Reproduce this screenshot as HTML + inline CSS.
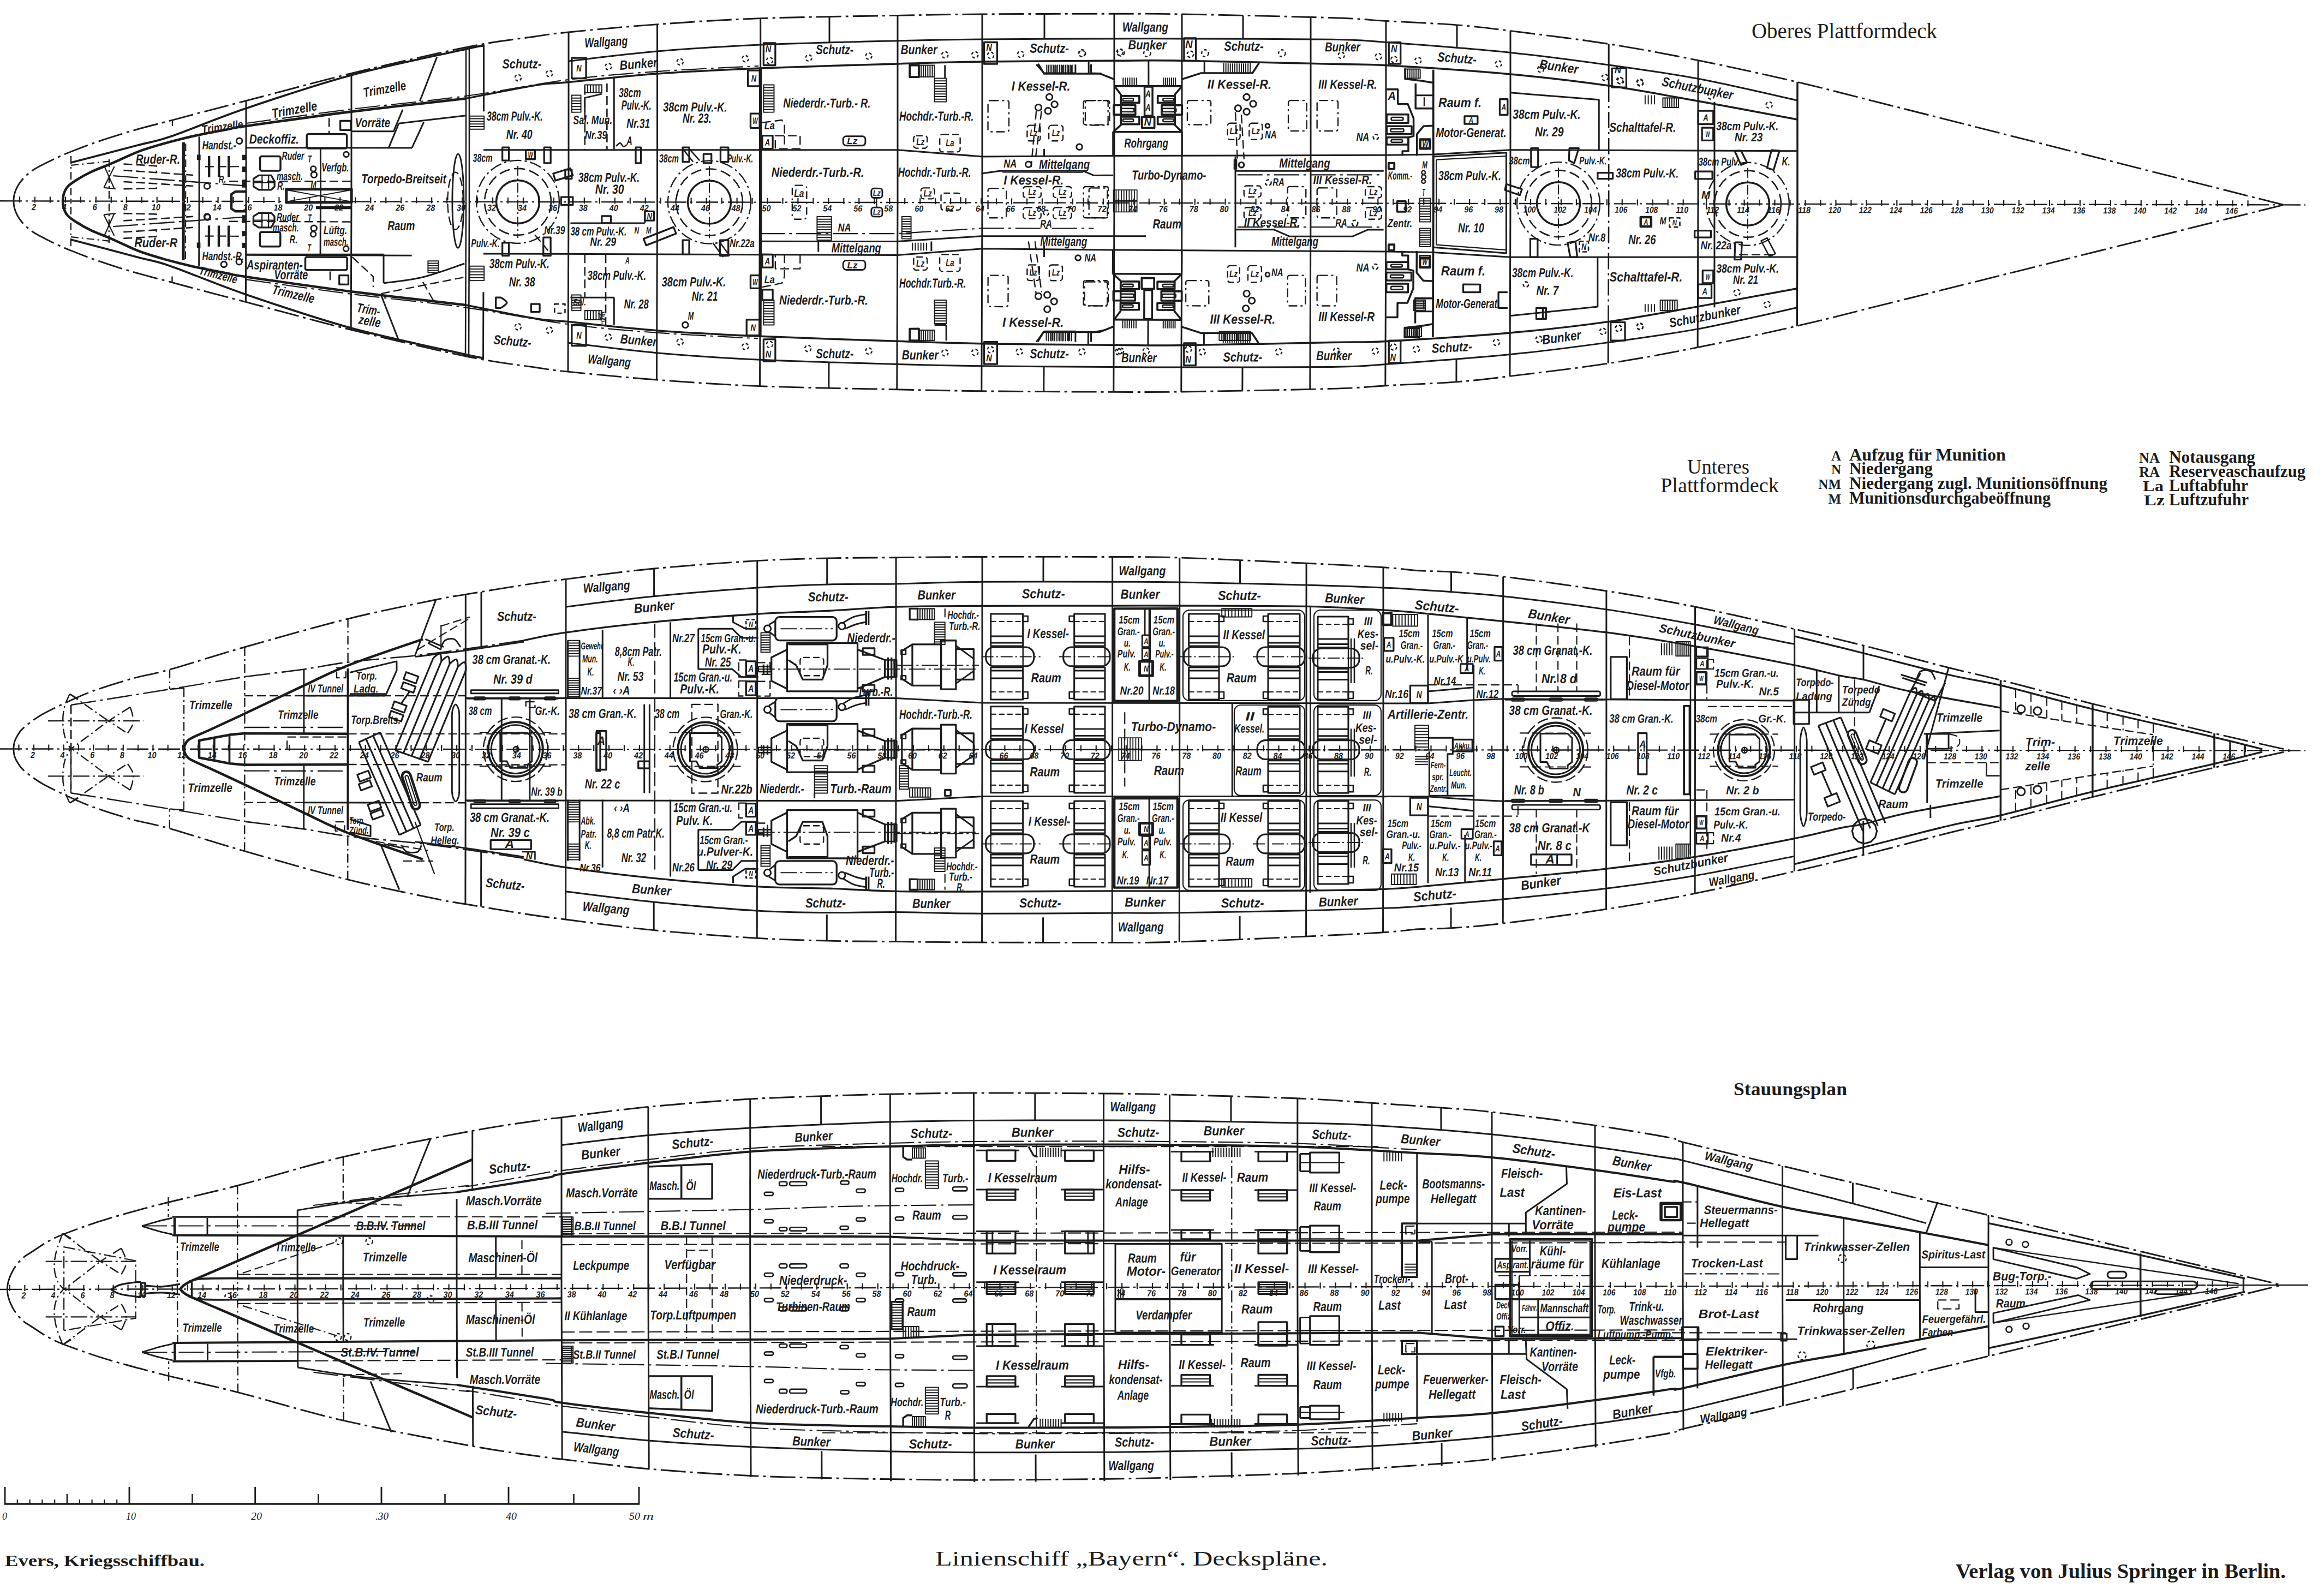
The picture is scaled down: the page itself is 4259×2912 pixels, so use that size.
<!DOCTYPE html>
<html><head><meta charset="utf-8"><title>Linienschiff Bayern. Deckspläne</title>
<style>html,body{margin:0;padding:0;background:#fff}svg{display:block}
text{fill:#1c1c1c;stroke:none;font-family:"Liberation Sans",sans-serif;}
.h{font-style:italic;font-weight:bold;}
.hn{font-style:italic;}
.s{font-family:"Liberation Serif",serif;}
.sb{font-family:"Liberation Serif",serif;font-weight:bold;}
.si{font-family:"Liberation Serif",serif;font-style:italic;}</style></head><body>
<svg width="4259" height="2912" viewBox="0 0 4259 2912" stroke="#1c1c1c" fill="none" stroke-linecap="butt" stroke-linejoin="round"><rect width="4259" height="2912" fill="#fff" stroke="none"/>
<g transform="rotate(0.0974 0 368.3)">
<path d="M25.0 368.3 C25.0 367.2 25.0 364.1 25.3 362.0 C25.5 359.8 25.9 357.8 26.5 355.5 C27.1 353.1 27.7 350.8 29.0 348.0 C30.2 345.1 32.0 341.6 33.9 338.4 C35.9 335.3 38.3 332.0 40.9 328.9 C43.6 325.8 46.8 322.8 49.9 319.9 C53.1 317.1 56.2 314.4 59.9 311.9 C63.6 309.4 65.6 308.2 71.9 304.9 C78.2 301.5 88.2 296.3 97.9 291.8 C107.5 287.3 116.5 283.1 129.8 277.8 C143.2 272.4 159.3 266.1 177.8 259.7 C196.3 253.3 217.8 246.3 240.8 239.6 C263.8 232.9 294.4 225.2 315.7 219.5 C337.1 213.8 346.4 211.2 368.7 205.4 C391.0 199.5 403.5 196.3 449.7 184.2 C495.8 172.2 577.3 149.6 645.6 132.9 C713.9 116.2 803.9 95.3 859.5 84.0 C915.2 72.8 949.2 69.8 979.5 65.3 C1009.8 60.9 1004.0 61.0 1041.5 57.2 C1078.9 53.4 1145.4 46.9 1204.0 42.6 C1262.7 38.2 1319.7 34.2 1393.1 31.3 C1466.5 28.5 1576.7 27.0 1644.4 25.6 C1712.1 24.2 1733.3 23.6 1799.4 22.9 C1865.6 22.3 1980.4 21.9 2041.4 21.8 C2102.4 21.7 2099.1 21.2 2165.4 22.3 C2231.8 23.4 2376.9 26.4 2439.4 28.4 C2501.9 30.3 2502.1 32.0 2540.4 34.2 C2578.8 36.3 2631.6 38.3 2669.5 41.3 C2707.3 44.2 2721.1 46.2 2767.5 51.9 C2813.8 57.6 2890.2 66.6 2947.5 75.5 C3004.9 84.4 3053.9 93.8 3111.6 105.3 C3169.2 116.9 3235.6 131.3 3293.6 144.8 C3351.7 158.3 3375.3 165.0 3459.7 186.1 C3544.1 207.2 3678.3 241.0 3799.8 271.5 C3921.4 302.1 4124.2 353.1 4189.0 369.4" fill="none" stroke-width="2.9" stroke-dasharray="46 8 5 8"/>
<path d="M25.0 368.3 C25.0 369.4 25.0 372.5 25.3 374.6 C25.5 376.8 25.9 378.8 26.5 381.1 C27.1 383.5 27.7 385.8 29.0 388.6 C30.2 391.5 32.0 395.0 33.9 398.2 C35.9 401.3 38.3 404.6 40.9 407.7 C43.6 410.8 46.8 413.8 49.9 416.7 C53.1 419.5 56.2 422.2 59.9 424.7 C63.6 427.2 65.6 428.4 71.9 431.7 C78.2 435.1 88.2 440.3 97.9 444.8 C107.5 449.3 116.5 453.5 129.8 458.8 C143.2 464.2 159.3 470.5 177.8 476.9 C196.3 483.3 217.8 490.3 240.8 497.0 C263.8 503.7 294.4 511.4 315.7 517.1 C337.1 522.8 346.4 525.4 368.7 531.2 C391.0 537.1 403.5 540.3 449.7 552.4 C495.8 564.4 577.3 587.0 645.6 603.7 C713.9 620.4 803.9 641.3 859.5 652.6 C915.2 663.8 949.2 666.8 979.5 671.3 C1009.8 675.7 1004.0 675.6 1041.5 679.4 C1078.9 683.2 1145.4 689.7 1204.0 694.0 C1262.7 698.4 1319.7 702.4 1393.1 705.3 C1466.5 708.1 1576.7 709.6 1644.4 711.0 C1712.1 712.4 1733.3 713.0 1799.4 713.7 C1865.6 714.3 1980.4 714.7 2041.4 714.8 C2102.4 714.9 2099.1 715.4 2165.4 714.3 C2231.8 713.2 2376.9 710.2 2439.4 708.2 C2501.9 706.3 2502.1 704.6 2540.4 702.4 C2578.8 700.3 2631.6 698.3 2669.5 695.3 C2707.3 692.4 2721.1 690.4 2767.5 684.7 C2813.8 679.0 2890.2 670.0 2947.5 661.1 C3004.9 652.2 3053.9 642.8 3111.6 631.3 C3169.2 619.7 3235.6 605.3 3293.6 591.8 C3351.7 578.3 3375.3 571.6 3459.7 550.5 C3544.1 529.4 3678.3 495.6 3799.8 465.1 C3921.4 434.5 4124.2 383.5 4189.0 367.2" fill="none" stroke-width="2.9" stroke-dasharray="46 8 5 8"/>
<path d="M1041.6 110.2 C1068.7 107.2 1145.5 97.1 1204.1 92.0 C1262.7 86.9 1319.8 83.0 1393.2 79.6 C1466.6 76.3 1576.8 73.7 1644.5 71.9 C1712.2 70.1 1733.3 69.7 1799.5 68.9 C1865.7 68.2 1980.5 67.8 2041.5 67.5 C2102.5 67.3 2099.2 67.2 2165.5 67.3 C2231.8 67.4 2377.0 67.2 2439.5 68.2 C2502.0 69.1 2485.8 69.4 2540.5 73.3 C2595.2 77.2 2699.7 84.9 2767.5 91.7 C2835.4 98.5 2890.2 106.1 2947.6 114.0 C3004.9 121.9 3053.9 128.3 3111.6 139.0 C3169.3 149.7 3263.3 171.8 3293.7 178.4" fill="none" stroke-width="3.0"/>
<path d="M1041.6 626.4 C1068.7 629.4 1145.5 639.5 1204.1 644.6 C1262.7 649.7 1319.8 653.6 1393.2 657.0 C1466.6 660.3 1576.8 662.9 1644.5 664.7 C1712.2 666.5 1733.3 666.9 1799.5 667.7 C1865.7 668.4 1980.5 668.8 2041.5 669.1 C2102.5 669.3 2099.2 669.4 2165.5 669.3 C2231.8 669.2 2377.0 669.4 2439.5 668.4 C2502.0 667.5 2485.8 667.2 2540.5 663.3 C2595.2 659.4 2699.7 651.7 2767.5 644.9 C2835.4 638.1 2890.2 630.5 2947.6 622.6 C3004.9 614.7 3053.9 608.3 3111.6 597.6 C3169.3 586.9 3263.3 564.8 3293.7 558.2" fill="none" stroke-width="3.0"/>
<path d="M115.0 368.1 C115.3 365.9 115.5 359.2 117.0 354.8 C118.5 350.4 120.1 346.0 124.0 341.8 C127.8 337.6 132.8 334.3 139.9 329.8 C147.1 325.2 155.9 319.9 166.9 314.7 C177.9 309.5 191.6 304.8 205.9 298.6 C220.2 292.5 237.7 283.4 252.8 277.6 C268.0 271.7 283.2 267.5 296.8 263.5 C310.5 259.5 323.0 256.4 334.8 253.4 C346.6 250.5 353.6 248.8 367.8 245.9 C382.0 242.9 405.9 238.4 419.8 235.8 C433.6 233.2 413.4 235.6 450.8 230.2 C488.1 224.9 576.6 212.0 643.7 203.5 C710.9 195.0 818.7 183.1 853.7 179.0" fill="none" stroke-width="4.6"/>
<path d="M115.0 368.5 C115.3 370.7 115.5 377.4 117.0 381.8 C118.5 386.2 120.1 390.6 124.0 394.8 C127.8 399.0 132.8 402.3 139.9 406.8 C147.1 411.4 155.9 416.7 166.9 421.9 C177.9 427.1 191.6 431.8 205.9 438.0 C220.2 444.1 237.7 453.2 252.8 459.0 C268.0 464.9 283.2 469.1 296.8 473.1 C310.5 477.1 323.0 480.2 334.8 483.2 C346.6 486.1 353.6 487.8 367.8 490.7 C382.0 493.7 405.9 498.2 419.8 500.8 C433.6 503.4 413.4 501.0 450.8 506.4 C488.1 511.7 576.6 524.6 643.7 533.1 C710.9 541.6 818.7 553.5 853.7 557.6" fill="none" stroke-width="4.6"/>
<path d="M853.7 179.0 C874.7 175.0 948.3 159.9 979.6 154.8 C1011.0 149.8 1004.2 152.5 1041.6 148.8 C1079.1 145.2 1145.6 137.3 1204.2 133.0 C1262.8 128.6 1319.9 125.8 1393.3 122.6 C1466.7 119.5 1576.9 116.3 1644.6 114.2 C1712.3 112.1 1733.4 111.0 1799.6 109.9 C1865.7 108.9 1980.6 108.2 2041.6 107.8 C2102.6 107.4 2099.2 106.7 2165.6 107.6 C2231.9 108.5 2377.1 111.8 2439.6 113.2 C2502.1 114.5 2485.9 112.5 2540.6 115.5 C2595.2 118.5 2699.8 125.2 2767.6 131.3 C2835.4 137.4 2890.3 143.9 2947.6 152.0 C3005.0 160.1 3054.0 169.8 3111.7 180.0 C3169.4 190.2 3263.4 207.8 3293.7 213.4" fill="none" stroke-width="3.5"/>
<path d="M853.7 557.6 C874.7 561.6 948.3 576.7 979.6 581.8 C1011.0 586.8 1004.2 584.1 1041.6 587.8 C1079.1 591.4 1145.6 599.3 1204.2 603.6 C1262.8 608.0 1319.9 610.8 1393.3 614.0 C1466.7 617.1 1576.9 620.3 1644.6 622.4 C1712.3 624.5 1733.4 625.6 1799.6 626.7 C1865.7 627.7 1980.6 628.4 2041.6 628.8 C2102.6 629.2 2099.2 629.9 2165.6 629.0 C2231.9 628.1 2377.1 624.8 2439.6 623.4 C2502.1 622.1 2485.9 624.1 2540.6 621.1 C2595.2 618.1 2699.8 611.4 2767.6 605.3 C2835.4 599.2 2890.3 592.7 2947.6 584.6 C3005.0 576.5 3054.0 566.8 3111.7 556.6 C3169.4 546.4 3263.4 528.8 3293.7 523.2" fill="none" stroke-width="3.5"/>
<path d="M450.8 225.2 C482.9 220.8 576.6 207.4 643.7 198.9 C710.9 190.5 787.4 183.7 853.7 174.5 C920.0 165.4 983.3 151.8 1041.6 144.2 C1099.9 136.6 1145.6 133.2 1203.6 129.0 C1261.6 124.7 1358.6 120.4 1389.6 118.6" fill="none" stroke-width="2.2" stroke-dasharray="46 8 5 8"/>
<path d="M450.8 511.4 C482.9 515.8 576.6 529.2 643.7 537.7 C710.9 546.1 787.4 552.9 853.7 562.1 C920.0 571.2 983.3 584.8 1041.6 592.4 C1099.9 600.0 1145.6 603.4 1203.6 607.6 C1261.6 611.9 1358.6 616.2 1389.6 618.0" fill="none" stroke-width="2.2" stroke-dasharray="46 8 5 8"/>
<path d="M129.9 297.8 C150.4 292.4 222.3 273.6 252.8 265.6 C283.3 257.5 279.8 260.8 312.8 249.5 C345.8 238.2 395.6 216.6 450.7 197.8 C505.8 179.0 576.5 154.8 643.6 136.6 C710.7 118.4 813.2 97.6 853.5 88.5 C893.8 79.5 880.2 83.5 885.5 82.5" fill="none" stroke-width="3.7"/>
<path d="M129.9 438.8 C150.4 444.2 222.3 463.0 252.8 471.0 C283.3 479.1 279.8 475.8 312.8 487.1 C345.8 498.4 395.6 520.0 450.7 538.8 C505.8 557.6 576.5 581.8 643.6 600.0 C710.7 618.2 813.2 639.0 853.5 648.1 C893.8 657.1 880.2 653.1 885.5 654.1" fill="none" stroke-width="3.7"/>
<path d="M885.8 273.2 L1393.5 272.3 L1644.8 271.9 L1799.9 283.9 L2041.9 282.0 L2539.9 280.0 L2626.9 278.5 L2767.8 270.0 L3293.8 271.1" fill="none" stroke-width="3.0"/>
<path d="M885.8 463.4 L1393.5 464.3 L1644.8 464.7 L1799.9 452.7 L2041.9 454.6 L2539.9 456.6 L2626.9 458.1 L2767.8 466.6 L3293.8 465.5" fill="none" stroke-width="3.0"/>
<path d="M1041.5 57.2 L1042.0 368.3" fill="none" stroke-width="3.0"/>
<path d="M1041.5 679.4 L1042.0 368.3" fill="none" stroke-width="3.0"/>
<path d="M1204.0 42.6 L1204.6 368.3" fill="none" stroke-width="3.0"/>
<path d="M1204.0 694.0 L1204.6 368.3" fill="none" stroke-width="3.0"/>
<path d="M1644.4 25.6 L1645.0 368.3" fill="none" stroke-width="3.0"/>
<path d="M1644.4 711.0 L1645.0 368.3" fill="none" stroke-width="3.0"/>
<path d="M1799.4 22.9 L1800.0 368.3" fill="none" stroke-width="3.0"/>
<path d="M1799.4 713.7 L1800.0 368.3" fill="none" stroke-width="3.0"/>
<path d="M2041.4 21.8 L2042.0 368.3" fill="none" stroke-width="3.0"/>
<path d="M2041.4 714.8 L2042.0 368.3" fill="none" stroke-width="3.0"/>
<path d="M2165.4 22.3 L2166.0 368.3" fill="none" stroke-width="3.0"/>
<path d="M2165.4 714.3 L2166.0 368.3" fill="none" stroke-width="3.0"/>
<path d="M2401.4 27.5 L2402.0 368.3" fill="none" stroke-width="3.0"/>
<path d="M2401.4 709.1 L2402.0 368.3" fill="none" stroke-width="3.0"/>
<path d="M2539.4 34.1 L2540.0 368.3" fill="none" stroke-width="3.0"/>
<path d="M2539.4 702.5 L2540.0 368.3" fill="none" stroke-width="3.0"/>
<path d="M2767.5 51.9 L2768.0 368.3" fill="none" stroke-width="3.0"/>
<path d="M2767.5 684.7 L2768.0 368.3" fill="none" stroke-width="3.0"/>
<path d="M3111.6 105.3 L3112.0 368.3" fill="none" stroke-width="3.0"/>
<path d="M3111.6 631.3 L3112.0 368.3" fill="none" stroke-width="3.0"/>
<path d="M1393.1 31.3 L1393.3 122.6" fill="none" stroke-width="3.0"/>
<path d="M1393.1 705.3 L1393.3 614.0" fill="none" stroke-width="3.0"/>
<path d="M1393.3 122.6 L1393.7 368.3" fill="none" stroke-width="5.5"/>
<path d="M1393.3 614.0 L1393.7 368.3" fill="none" stroke-width="5.5"/>
<path d="M3293.6 144.8 L3294.0 368.3" fill="none" stroke-width="3.5"/>
<path d="M3293.6 591.8 L3294.0 368.3" fill="none" stroke-width="3.5"/>
<path d="M2947.7 75.5 L2947.8 152.0" fill="none" stroke-width="3.0"/>
<path d="M2947.7 661.1 L2947.8 584.6" fill="none" stroke-width="3.0"/>
<path d="M2947.8 152.0 L2948.2 368.3" fill="none" stroke-width="2.6" stroke-dasharray="30 7 4 7"/>
<path d="M2947.8 584.6 L2948.2 368.3" fill="none" stroke-width="2.6" stroke-dasharray="30 7 4 7"/>
<path d="M1519.4 28.5 L1519.5 75.7" fill="none" stroke-width="3.0"/>
<path d="M1519.4 708.1 L1519.5 660.9" fill="none" stroke-width="3.0"/>
<path d="M1913.4 22.4 L1913.5 68.3" fill="none" stroke-width="3.0"/>
<path d="M1913.4 714.2 L1913.5 668.3" fill="none" stroke-width="3.0"/>
<path d="M2277.4 24.8 L2277.5 67.7" fill="none" stroke-width="3.0"/>
<path d="M2277.4 711.8 L2277.5 668.9" fill="none" stroke-width="3.0"/>
<path d="M2669.5 41.3 L2669.5 83.7" fill="none" stroke-width="3.0"/>
<path d="M2669.5 695.3 L2669.5 652.9" fill="none" stroke-width="3.0"/>
<path d="M450.7 184.0 L451.0 368.3" fill="none" stroke-width="3.0"/>
<path d="M450.7 552.6 L451.0 368.3" fill="none" stroke-width="3.0"/>
<path d="M643.6 133.4 L644.0 368.3" fill="none" stroke-width="3.0"/>
<path d="M643.6 603.2 L644.0 368.3" fill="none" stroke-width="3.0"/>
<path d="M853.5 85.4 L854.0 368.3" fill="none" stroke-width="2.6"/>
<path d="M853.5 651.2 L854.0 368.3" fill="none" stroke-width="2.6"/>
<path d="M859.5 84.0 L860.0 368.3" fill="none" stroke-width="2.6"/>
<path d="M859.5 652.6 L860.0 368.3" fill="none" stroke-width="2.6"/>
<path d="M886.0 80.0 L886.2 202.8" fill="none" stroke-width="3.0"/>
<path d="M886.0 656.6 L886.2 533.8" fill="none" stroke-width="3.0"/>
<path d="M315.7 219.5 L315.8 230.5" fill="none" stroke-width="2.4" stroke-dasharray="14 6 3 6"/>
<path d="M315.7 517.1 L315.8 506.1" fill="none" stroke-width="2.4" stroke-dasharray="14 6 3 6"/>
<path d="M129.9 285.8 L130.0 368.3" fill="none" stroke-width="2.4" stroke-dasharray="14 6 3 6"/>
<path d="M129.9 450.8 L130.0 368.3" fill="none" stroke-width="2.4" stroke-dasharray="14 6 3 6"/>
<path d="M199.9 291.7 L200.0 368.3" fill="none" stroke-width="2.4" stroke-dasharray="14 6 3 6"/>
<path d="M199.9 444.9 L200.0 368.3" fill="none" stroke-width="2.4" stroke-dasharray="14 6 3 6"/>
<path d="M130.0 302.7 L199.9 295.3" fill="none" stroke-width="2.2" stroke-dasharray="14 6 3 6"/>
<path d="M130.0 433.9 L199.9 441.3" fill="none" stroke-width="2.2" stroke-dasharray="14 6 3 6"/>
<path d="M226.4 300.1 L286.6 303.6 L286.7 314.5" fill="none" stroke-width="2.6" stroke-dasharray="16 7"/>
<path d="M226.4 436.5 L286.6 433.0 L286.7 422.1" fill="none" stroke-width="2.6" stroke-dasharray="16 7"/>
<path d="M226.4 311.7 L286.7 315.7 L354.1 320.4" fill="none" stroke-width="2.6" stroke-dasharray="16 7"/>
<path d="M226.4 424.9 L286.7 420.9 L354.1 416.2" fill="none" stroke-width="2.6" stroke-dasharray="16 7"/>
<path d="M207.2 321.8 L445.7 339.5" fill="none" stroke-width="2.4" stroke-dasharray="46 8 5 8"/>
<path d="M207.2 414.8 L445.7 397.1" fill="none" stroke-width="2.4" stroke-dasharray="46 8 5 8"/>
<path d="M226.4 332.6 L286.7 336.1 L354.2 340.4" fill="none" stroke-width="2.6" stroke-dasharray="16 7"/>
<path d="M226.4 404.0 L286.7 400.5 L354.2 396.2" fill="none" stroke-width="2.6" stroke-dasharray="16 7"/>
<path d="M226.5 345.9 L286.7 344.6 L286.7 336.1" fill="none" stroke-width="2.6" stroke-dasharray="16 7"/>
<path d="M226.5 390.7 L286.7 392.0 L286.7 400.5" fill="none" stroke-width="2.6" stroke-dasharray="16 7"/>
<path d="M190.3 302.6 L209.6 345.9" fill="none" stroke-width="2.2"/>
<path d="M190.3 434.0 L209.6 390.7" fill="none" stroke-width="2.2"/>
<path d="M209.5 304.9 L190.3 343.5" fill="none" stroke-width="2.2"/>
<path d="M209.5 431.7 L190.3 393.1" fill="none" stroke-width="2.2"/>
<path d="M190.3 343.5 L212.0 345.9" fill="none" stroke-width="2.2"/>
<path d="M190.3 393.1 L212.0 390.7" fill="none" stroke-width="2.2"/>
<path d="M336.0 260.2 L336.1 367.9" fill="none" stroke-width="5.5"/>
<path d="M336.0 476.4 L336.1 368.7" fill="none" stroke-width="5.5"/>
<path d="M340.1 262.6 L340.2 367.9" fill="none" stroke-width="2.2" stroke-dasharray="14 6 3 6"/>
<path d="M340.1 474.0 L340.2 368.7" fill="none" stroke-width="2.2" stroke-dasharray="14 6 3 6"/>
<path d="M364.9 249.7 L365.1 367.9" fill="none" stroke-width="3.0"/>
<path d="M364.9 486.9 L365.1 368.7" fill="none" stroke-width="3.0"/>
<path d="M383.0 285.4 L383.1 323.9" fill="none" stroke-width="4.4"/>
<path d="M383.0 451.2 L383.1 412.7" fill="none" stroke-width="4.4"/>
<path d="M401.1 285.3 L401.1 323.9" fill="none" stroke-width="4.4"/>
<path d="M401.1 451.3 L401.1 412.7" fill="none" stroke-width="4.4"/>
<path d="M419.1 285.3 L419.2 323.9" fill="none" stroke-width="4.4"/>
<path d="M419.1 451.3 L419.2 412.7" fill="none" stroke-width="4.4"/>
<path d="M375.8 304.7 L445.7 304.5" fill="none" stroke-width="2.2" stroke-dasharray="16 7"/>
<path d="M375.8 431.9 L445.7 432.1" fill="none" stroke-width="2.2" stroke-dasharray="16 7"/>
<circle cx="438.4" cy="257.6" r="5.3" fill="none" stroke-width="2.9"/>
<circle cx="438.4" cy="479.0" r="5.3" fill="none" stroke-width="2.9"/>
<circle cx="379.5" cy="340.3" r="5.3" fill="none" stroke-width="2.9"/>
<circle cx="379.5" cy="396.3" r="5.3" fill="none" stroke-width="2.9"/>
<path d="M446.8 282.9 L446.9 292.5" fill="none" stroke-width="6.6"/>
<path d="M446.8 453.7 L446.9 444.1" fill="none" stroke-width="6.6"/>
<path d="M446.9 304.5 L446.9 314.2" fill="none" stroke-width="6.6"/>
<path d="M446.9 432.1 L446.9 422.4" fill="none" stroke-width="6.6"/>
<path d="M446.9 328.6 L446.9 343.1" fill="none" stroke-width="6.6"/>
<path d="M446.9 408.0 L446.9 393.5" fill="none" stroke-width="6.6"/>
<path d="M364.2 283.0 L364.2 292.6" fill="none" stroke-width="6.6"/>
<path d="M364.2 453.6 L364.2 444.0" fill="none" stroke-width="6.6"/>
<path d="M450.6 350.3 L431.3 350.4 L424.1 355.2 L424.1 381.7 L431.4 386.5 L450.6 386.5" fill="none" stroke-width="4.4"/>
<path d="M451.2 270.1 L754.8 269.6" fill="none" stroke-width="3.0"/>
<path d="M451.2 466.5 L754.8 467.0" fill="none" stroke-width="3.0"/>
<path d="M587.3 271.0 L587.5 367.8" fill="none" stroke-width="3.0"/>
<path d="M587.3 465.6 L587.5 368.8" fill="none" stroke-width="3.0"/>
<rect x="476.5" y="285.7" width="37.4" height="26.4" rx="2.9" fill="none" stroke-width="3.5"/>
<rect x="476.5" y="424.5" width="37.4" height="26.4" rx="2.9" fill="none" stroke-width="3.5"/>
<path d="M464.5 326.7 L474.1 320.6 L497.0 320.6 L503.1 331.4 L503.1 341.1 L497.1 347.1 L474.2 347.1 L464.5 341.1 Z" fill="none" stroke-width="3.3"/>
<path d="M464.5 409.9 L474.1 416.0 L497.0 416.0 L503.1 405.2 L503.1 395.5 L497.1 389.5 L474.2 389.5 L464.5 395.5 Z" fill="none" stroke-width="3.3"/>
<path d="M480.2 320.6 L480.2 347.1" fill="none" stroke-width="2.2"/>
<path d="M480.2 416.0 L480.2 389.5" fill="none" stroke-width="2.2"/>
<path d="M492.2 320.6 L492.3 347.1" fill="none" stroke-width="2.2"/>
<path d="M492.2 416.0 L492.3 389.5" fill="none" stroke-width="2.2"/>
<path d="M464.5 333.9 L503.1 333.8" fill="none" stroke-width="2.2"/>
<path d="M464.5 402.7 L503.1 402.8" fill="none" stroke-width="2.2"/>
<circle cx="574.1" cy="308.4" r="4.8" fill="none" stroke-width="2.9"/>
<circle cx="574.1" cy="428.2" r="4.8" fill="none" stroke-width="2.9"/>
<circle cx="575.3" cy="319.3" r="5.3" fill="none" stroke-width="2.9"/>
<circle cx="575.3" cy="417.3" r="5.3" fill="none" stroke-width="2.9"/>
<path d="M419.9 331.6 L644.0 331.2" fill="none" stroke-width="2.4" stroke-dasharray="16 7"/>
<path d="M419.9 405.0 L644.0 405.4" fill="none" stroke-width="2.4" stroke-dasharray="16 7"/>
<circle cx="634.3" cy="281.8" r="4.8" fill="none" stroke-width="2.9"/>
<circle cx="634.3" cy="454.8" r="4.8" fill="none" stroke-width="2.9"/>
<rect x="562.0" y="244.6" width="73.5" height="26.4" rx="3.4" fill="none" stroke-width="3.5"/>
<path d="M602.9 215.6 L602.9 244.5" fill="none" stroke-width="2.6" stroke-dasharray="16 7"/>
<path d="M623.4 220.4 L642.6 220.4 L642.7 237.2 L623.4 237.3 Z" fill="none" stroke-width="3.3"/>
<path d="M643.9 239.6 L721.0 239.5 L737.8 199.7" fill="none" stroke-width="3.0"/>
<path d="M712.6 268.4 L730.6 225.0" fill="none" stroke-width="3.0"/>
<path d="M754.8 269.6 L776.4 222.5" fill="none" stroke-width="3.0"/>
<path d="M730.6 225.0 L853.5 210.4" fill="none" stroke-width="3.0"/>
<path d="M769.1 184.0 L800.3 103.2" fill="none" stroke-width="3.0"/>
<path d="M524.8 345.9 L644.1 345.7 L644.1 369.7 L524.8 370.0 Z" fill="none" stroke-width="5.0"/>
<path d="M524.8 347.1 L644.1 368.5" fill="none" stroke-width="1.8"/>
<path d="M524.8 368.7 L644.1 346.9" fill="none" stroke-width="1.8"/>
<path d="M579.1 379.5 L644.1 379.4" fill="none" stroke-width="5.5"/>
<path d="M449.7 465.5 L703.2 465.1" fill="none" stroke-width="3.0"/>
<rect x="559.7" y="470.1" width="76.6" height="23.8" rx="2.9" fill="none" stroke-width="3.5"/>
<path d="M622.0 503.5 L638.7 503.5 L638.7 520.2 L622.0 520.2 Z" fill="none" stroke-width="3.3"/>
<path d="M605.2 496.4 L605.3 513.1" fill="none" stroke-width="2.6" stroke-dasharray="16 7"/>
<path d="M703.2 465.1 L703.3 517.7" fill="none" stroke-width="3.0"/>
<path d="M703.3 517.7 C715.3 515.9 750.3 512.6 775.0 506.6 C799.7 500.6 838.8 485.8 851.5 481.6" fill="none" stroke-width="3.0"/>
<path d="M645.8 470.0 L684.2 505.8 L684.2 524.9" fill="none" stroke-width="2.4" stroke-dasharray="16 7"/>
<path d="M698.6 536.9 L851.5 506.5" fill="none" stroke-width="2.4" stroke-dasharray="16 7"/>
<path d="M775.0 515.2 L794.2 548.7" fill="none" stroke-width="2.4" stroke-dasharray="16 7"/>
<path d="M698.6 539.3 L732.2 625.3" fill="none" stroke-width="3.0"/>
<path d="M784.5 476.9 L803.7 476.9 L803.7 498.4 L784.6 498.5 Z" fill="none" stroke-width="2.0"/>
<path d="M784.5 481.2 L803.7 481.2" fill="none" stroke-width="2.0"/>
<path d="M784.6 485.5 L803.7 485.5" fill="none" stroke-width="2.0"/>
<path d="M784.6 489.8 L803.7 489.8" fill="none" stroke-width="2.0"/>
<path d="M784.6 494.1 L803.7 494.1" fill="none" stroke-width="2.0"/>
<circle cx="410.5" cy="483.8" r="5.3" fill="none" stroke-width="3.0"/>
<circle cx="380.3" cy="397.3" r="5.3" fill="none" stroke-width="3.0"/>
<ellipse cx="839.4" cy="366.8" rx="10.5" ry="86.1" fill="none" stroke-width="2.9"/>
<ellipse cx="834.6" cy="366.8" rx="14.3" ry="52.6" fill="none" stroke-width="2.4" stroke-dasharray="16 7"/>
<path d="M860.6 211.4 L886.9 211.3 L887.0 235.2 L860.6 235.3 Z" fill="none" stroke-width="2.0"/>
<path d="M860.6 216.1 L886.9 216.1" fill="none" stroke-width="2.0"/>
<path d="M860.6 220.9 L886.9 220.9" fill="none" stroke-width="2.0"/>
<path d="M860.6 225.7 L886.9 225.7" fill="none" stroke-width="2.0"/>
<path d="M860.6 230.5 L886.9 230.4" fill="none" stroke-width="2.0"/>
<path d="M861.1 486.4 L887.4 486.3 L887.4 512.6 L861.1 512.7 Z" fill="none" stroke-width="2.0"/>
<path d="M861.1 491.6 L887.4 491.6" fill="none" stroke-width="2.0"/>
<path d="M861.1 496.9 L887.4 496.8" fill="none" stroke-width="2.0"/>
<path d="M861.1 502.1 L887.4 502.1" fill="none" stroke-width="2.0"/>
<path d="M861.1 507.4 L887.4 507.4" fill="none" stroke-width="2.0"/>
<text class="h" x="666.9" y="176.8" font-size="24.0" textLength="78.9" lengthAdjust="spacingAndGlyphs" transform="rotate(-10.0 666.9 176.8)">Trimzelle</text>
<text class="h" x="499.5" y="215.3" font-size="24.0" textLength="83.7" lengthAdjust="spacingAndGlyphs" transform="rotate(-10.0 499.5 215.3)">Trimzelle</text>
<text class="h" x="370.4" y="244.2" font-size="21.0" textLength="76.5" lengthAdjust="spacingAndGlyphs" transform="rotate(-8.0 370.4 244.2)">Trimzelle</text>
<text class="h" x="650.2" y="231.8" font-size="24.0" textLength="64.6" lengthAdjust="spacingAndGlyphs">Vorräte</text>
<text class="h" x="456.6" y="262.3" font-size="24.0" textLength="90.9" lengthAdjust="spacingAndGlyphs">Deckoffiz.</text>
<text class="h" x="370.5" y="272.9" font-size="22.0" textLength="62.2" lengthAdjust="spacingAndGlyphs">Handst.-</text>
<text class="h" x="248.6" y="299.4" font-size="24.0" textLength="81.3" lengthAdjust="spacingAndGlyphs">Ruder-R.</text>
<text class="h" x="516.4" y="291.8" font-size="21.0" textLength="40.7" lengthAdjust="spacingAndGlyphs">Ruder</text>
<text class="h" x="506.9" y="329.1" font-size="21.0" textLength="47.8" lengthAdjust="spacingAndGlyphs">masch.</text>
<text class="h" x="507.9" y="346.8" font-size="21.0" textLength="14.3" lengthAdjust="spacingAndGlyphs">R.</text>
<text class="h" x="589.1" y="313.2" font-size="22.0" textLength="50.2" lengthAdjust="spacingAndGlyphs">Verfgb.</text>
<text class="h" x="662.3" y="334.6" font-size="24.0" textLength="155.4" lengthAdjust="spacingAndGlyphs">Torpedo-Breitseit</text>
<text class="h" x="710.3" y="420.6" font-size="24.0" textLength="50.2" lengthAdjust="spacingAndGlyphs">Raum</text>
<text class="h" x="891.7" y="219.4" font-size="24.0" textLength="102.8" lengthAdjust="spacingAndGlyphs">38cm Pulv.-K.</text>
<text class="h" x="927.6" y="252.9" font-size="24.0" textLength="47.8" lengthAdjust="spacingAndGlyphs">Nr. 40</text>
<text class="h" x="920.2" y="123.7" font-size="24.0" textLength="71.7" lengthAdjust="spacingAndGlyphs">Schutz-</text>
<text class="h" x="866.5" y="295.0" font-size="21.0" textLength="35.9" lengthAdjust="spacingAndGlyphs">38cm</text>
<text class="h" x="863.4" y="451.4" font-size="21.0" textLength="52.6" lengthAdjust="spacingAndGlyphs">Pulv.-K.</text>
<text class="h" x="997.3" y="427.3" font-size="21.0" textLength="38.3" lengthAdjust="spacingAndGlyphs">Nr.39</text>
<text class="h" x="897.0" y="489.7" font-size="24.0" textLength="110.0" lengthAdjust="spacingAndGlyphs">38cm Pulv.-K.</text>
<text class="h" x="932.9" y="523.1" font-size="24.0" textLength="47.8" lengthAdjust="spacingAndGlyphs">Nr. 38</text>
<text class="h" x="904.4" y="628.8" font-size="24.0" textLength="69.3" lengthAdjust="spacingAndGlyphs" transform="rotate(5.0 904.4 628.8)">Schutz-</text>
<text class="h" x="507.0" y="404.2" font-size="21.0" textLength="40.7" lengthAdjust="spacingAndGlyphs">Ruder</text>
<text class="h" x="499.9" y="423.4" font-size="21.0" textLength="47.8" lengthAdjust="spacingAndGlyphs">masch.</text>
<text class="h" x="531.0" y="444.8" font-size="21.0" textLength="14.3" lengthAdjust="spacingAndGlyphs">R.</text>
<text class="h" x="593.1" y="428.0" font-size="21.0" textLength="43.0" lengthAdjust="spacingAndGlyphs">Lüftg.</text>
<text class="h" x="593.2" y="449.5" font-size="21.0" textLength="45.4" lengthAdjust="spacingAndGlyphs">masch.</text>
<text class="h" x="246.4" y="452.5" font-size="24.0" textLength="78.9" lengthAdjust="spacingAndGlyphs">Ruder-R</text>
<text class="h" x="370.8" y="476.2" font-size="22.0" textLength="76.5" lengthAdjust="spacingAndGlyphs">Handst.-R.</text>
<text class="h" x="452.2" y="492.8" font-size="24.0" textLength="102.8" lengthAdjust="spacingAndGlyphs">Aspiranten-</text>
<text class="h" x="502.4" y="510.9" font-size="24.0" textLength="62.2" lengthAdjust="spacingAndGlyphs">Vorräte</text>
<text class="h" x="363.7" y="501.6" font-size="21.0" textLength="71.7" lengthAdjust="spacingAndGlyphs" transform="rotate(14.0 363.7 501.6)">Trimzelle</text>
<text class="h" x="497.7" y="537.2" font-size="24.0" textLength="78.9" lengthAdjust="spacingAndGlyphs" transform="rotate(13.0 497.7 537.2)">Trimzelle</text>
<text class="h" x="653.2" y="570.4" font-size="24.0" textLength="43.0" lengthAdjust="spacingAndGlyphs" transform="rotate(10.0 653.2 570.4)">Trim-</text>
<text class="h" x="656.6" y="591.9" font-size="24.0" textLength="40.7" lengthAdjust="spacingAndGlyphs" transform="rotate(10.0 656.6 591.9)">zelle</text>
<text class="h" x="564.2" y="296.5" font-size="18.0" textLength="6.7" lengthAdjust="spacingAndGlyphs">T</text>
<text class="h" x="569.1" y="343.4" font-size="18.0" textLength="10.5" lengthAdjust="spacingAndGlyphs">M</text>
<text class="h" x="564.4" y="404.6" font-size="18.0" textLength="6.7" lengthAdjust="spacingAndGlyphs">T</text>
<text class="h" x="563.5" y="459.1" font-size="18.0" textLength="6.7" lengthAdjust="spacingAndGlyphs">T</text>
<text class="h" x="400.7" y="334.1" font-size="18.0" textLength="13.4" lengthAdjust="spacingAndGlyphs">R.</text>
<circle cx="949.0" cy="368.3" r="76.0" fill="none" stroke-width="2.4" stroke-dasharray="22 6 4 6"/>
<circle cx="949.0" cy="368.3" r="61.0" fill="none" stroke-width="2.6" stroke-dasharray="20 8"/>
<circle cx="949.0" cy="368.3" r="39.5" fill="none" stroke-width="3.5"/>
<path d="M948.9 302.3 L949.1 434.3" fill="none" stroke-width="2.0" stroke-dasharray="18 5 3 5"/>
<circle cx="1300.0" cy="368.3" r="76.0" fill="none" stroke-width="2.4" stroke-dasharray="22 6 4 6"/>
<circle cx="1300.0" cy="368.3" r="61.0" fill="none" stroke-width="2.6" stroke-dasharray="20 8"/>
<circle cx="1300.0" cy="368.3" r="39.5" fill="none" stroke-width="3.5"/>
<path d="M1299.9 302.3 L1300.1 434.3" fill="none" stroke-width="2.0" stroke-dasharray="18 5 3 5"/>
<path d="M1250.9 268.1 L1262.9 268.1 L1262.9 294.4 L1251.0 294.4 Z" fill="none" stroke-width="3.3"/>
<path d="M1289.2 280.0 L1303.6 280.0 L1303.6 296.7 L1289.2 296.7 Z" fill="none" stroke-width="3.3"/>
<path d="M1320.3 268.0 L1334.6 267.9 L1334.7 294.3 L1320.3 294.3 Z" fill="none" stroke-width="3.3"/>
<path d="M1251.2 437.9 L1263.2 437.9 L1263.2 464.2 L1251.3 464.2 Z" fill="none" stroke-width="3.3"/>
<path d="M1319.6 437.8 L1334.9 437.7 L1335.0 466.4 L1319.7 466.5 Z" fill="none" stroke-width="3.3"/>
<path d="M1250.9 270.5 L1270.1 294.4" fill="none" stroke-width="2.6"/>
<path d="M1262.9 270.5 L1282.0 292.0" fill="none" stroke-width="2.6"/>
<path d="M1179.5 435.6 L1234.4 414.0 L1239.2 425.9 L1184.3 447.6 Z" fill="none" stroke-width="3.3"/>
<path d="M1306.2 442.6 L1325.4 468.8" fill="none" stroke-width="2.6"/>
<path d="M1318.2 440.2 L1337.3 466.4" fill="none" stroke-width="2.6"/>
<path d="M920.5 268.7 L932.4 268.6 L932.5 292.5 L920.5 292.6 Z" fill="none" stroke-width="3.3"/>
<path d="M997.0 268.5 L1009.0 268.5 L1009.0 297.2 L997.1 297.2 Z" fill="none" stroke-width="3.3"/>
<path d="M920.8 443.2 L932.7 443.2 L932.8 467.1 L920.8 467.1 Z" fill="none" stroke-width="3.3"/>
<path d="M995.9 433.5 L1009.2 433.5 L1009.3 467.0 L995.9 467.0 Z" fill="none" stroke-width="3.3"/>
<path d="M1013.8 316.3 L1044.9 306.7 L1049.7 319.6 L1017.7 329.2 Z" fill="none" stroke-width="3.3"/>
<path d="M1028.3 359.3 L1049.8 359.3 L1049.8 373.7 L1028.3 373.7 Z" fill="none" stroke-width="3.3"/>
<path d="M963.5 273.4 L980.3 273.3 L980.3 290.1 L963.6 290.1 Z" fill="none" stroke-width="3.3"/>
<text class="h" x="967.3" y="287.8" font-size="17.0" textLength="9.4" lengthAdjust="spacingAndGlyphs">W</text>
<path d="M980.5 428.8 L1004.5 457.4" fill="none" stroke-width="2.4" stroke-dasharray="16 7"/>
<path d="M918.6 543.7 L909.0 543.7 L909.0 562.8 L918.6 562.8" fill="none" stroke-width="3.3"/>
<path d="M918.6 543.7 C920.3 545.2 929.1 550.0 929.1 553.2 C929.1 556.4 920.3 561.2 918.6 562.8" fill="none" stroke-width="3.3"/>
<path d="M973.6 555.5 L989.4 555.5 L989.4 569.8 L973.6 569.9 Z" fill="none" stroke-width="3.3"/>
<path d="M1016.6 555.4 L1035.8 555.4 L1035.8 572.2 L1016.7 572.2 Z" fill="none" stroke-width="2.6" stroke-dasharray="8 6"/>
<circle cx="949.0" cy="140.9" r="5.7" fill="none" stroke-width="2.4" stroke-dasharray="5 4"/>
<circle cx="1006.3" cy="133.2" r="5.7" fill="none" stroke-width="2.4" stroke-dasharray="5 4"/>
<circle cx="949.7" cy="597.2" r="5.7" fill="none" stroke-width="2.4" stroke-dasharray="5 4"/>
<circle cx="1007.1" cy="603.3" r="5.7" fill="none" stroke-width="2.4" stroke-dasharray="5 4"/>
<path d="M1124.9 141.6 L1125.1 273.1" fill="none" stroke-width="3.0"/>
<path d="M1071.4 156.0 L1071.6 273.2" fill="none" stroke-width="2.6" stroke-dasharray="16 7"/>
<path d="M1112.0 151.2 L1112.2 273.1" fill="none" stroke-width="2.6" stroke-dasharray="16 7"/>
<path d="M1071.9 464.5 L1072.0 543.4" fill="none" stroke-width="2.6" stroke-dasharray="16 7"/>
<path d="M1110.2 464.4 L1110.4 593.6" fill="none" stroke-width="2.6" stroke-dasharray="16 7"/>
<path d="M1045.7 543.4 L1125.6 543.3" fill="none" stroke-width="3.0"/>
<path d="M1125.6 543.3 L1125.7 593.5" fill="none" stroke-width="3.0"/>
<path d="M1047.4 104.4 L1073.7 104.3 L1073.7 141.7 L1047.4 141.7 Z" fill="none" stroke-width="3.3"/>
<text class="h" x="1055.9" y="129.2" font-size="17.0" textLength="9.4" lengthAdjust="spacingAndGlyphs">N</text>
<path d="M1048.2 593.7 L1074.5 593.6 L1074.6 631.9 L1048.3 631.9 Z" fill="none" stroke-width="3.3"/>
<text class="h" x="1056.7" y="618.9" font-size="17.0" textLength="9.4" lengthAdjust="spacingAndGlyphs">N</text>
<circle cx="1114.4" cy="120.1" r="5.7" fill="none" stroke-width="2.4" stroke-dasharray="5 4"/>
<circle cx="1245.9" cy="111.2" r="5.7" fill="none" stroke-width="2.4" stroke-dasharray="5 4"/>
<circle cx="1365.4" cy="105.3" r="5.7" fill="none" stroke-width="2.4" stroke-dasharray="5 4"/>
<circle cx="1115.2" cy="616.0" r="5.7" fill="none" stroke-width="2.4" stroke-dasharray="5 4"/>
<circle cx="1246.7" cy="624.4" r="5.7" fill="none" stroke-width="2.4" stroke-dasharray="5 4"/>
<circle cx="1366.3" cy="632.8" r="5.7" fill="none" stroke-width="2.4" stroke-dasharray="5 4"/>
<path d="M1047.5 172.8 L1064.2 172.8 L1064.3 203.8 L1047.5 203.9 Z" fill="none" stroke-width="2.0"/>
<path d="M1047.5 178.0 L1064.2 177.9" fill="none" stroke-width="2.0"/>
<path d="M1047.5 183.1 L1064.3 183.1" fill="none" stroke-width="2.0"/>
<path d="M1047.5 188.3 L1064.3 188.3" fill="none" stroke-width="2.0"/>
<path d="M1047.5 193.5 L1064.3 193.5" fill="none" stroke-width="2.0"/>
<path d="M1047.5 198.7 L1064.3 198.7" fill="none" stroke-width="2.0"/>
<path d="M1071.4 153.6 L1102.5 153.6 L1102.5 167.9 L1071.4 168.0 Z" fill="none" stroke-width="2.0"/>
<path d="M1076.6 153.6 L1076.6 168.0" fill="none" stroke-width="2.0"/>
<path d="M1081.7 153.6 L1081.8 167.9" fill="none" stroke-width="2.0"/>
<path d="M1086.9 153.6 L1086.9 167.9" fill="none" stroke-width="2.0"/>
<path d="M1092.1 153.6 L1092.1 167.9" fill="none" stroke-width="2.0"/>
<path d="M1097.3 153.6 L1097.3 167.9" fill="none" stroke-width="2.0"/>
<path d="M1048.1 538.7 L1064.9 538.6 L1064.9 567.3 L1048.2 567.4 Z" fill="none" stroke-width="2.0"/>
<path d="M1048.1 543.4 L1064.9 543.4" fill="none" stroke-width="2.0"/>
<path d="M1048.1 548.2 L1064.9 548.2" fill="none" stroke-width="2.0"/>
<path d="M1048.1 553.0 L1064.9 553.0" fill="none" stroke-width="2.0"/>
<path d="M1048.2 557.8 L1064.9 557.8" fill="none" stroke-width="2.0"/>
<path d="M1048.2 562.6 L1064.9 562.5" fill="none" stroke-width="2.0"/>
<path d="M1072.1 567.3 L1103.2 567.3 L1103.2 584.0 L1072.1 584.1 Z" fill="none" stroke-width="2.0"/>
<path d="M1077.3 567.3 L1077.3 584.0" fill="none" stroke-width="2.0"/>
<path d="M1082.4 567.3 L1082.5 584.0" fill="none" stroke-width="2.0"/>
<path d="M1087.6 567.3 L1087.7 584.0" fill="none" stroke-width="2.0"/>
<path d="M1092.8 567.3 L1092.8 584.0" fill="none" stroke-width="2.0"/>
<path d="M1098.0 567.3 L1098.0 584.0" fill="none" stroke-width="2.0"/>
<path d="M1071.5 203.8 L1071.4 177.5 L1102.5 170.3" fill="none" stroke-width="2.9"/>
<path d="M1370.2 126.8 L1391.8 126.8 L1391.8 155.5 L1370.3 155.5 Z" fill="none" stroke-width="3.3"/>
<text class="h" x="1376.4" y="147.3" font-size="17.0" textLength="9.4" lengthAdjust="spacingAndGlyphs">N</text>
<path d="M1375.2 205.7 L1391.9 205.7 L1391.9 232.0 L1375.2 232.0 Z" fill="none" stroke-width="3.3"/>
<text class="h" x="1378.9" y="225.0" font-size="17.0" textLength="9.4" lengthAdjust="spacingAndGlyphs">W</text>
<path d="M1375.7 502.2 L1392.4 502.2 L1392.4 526.1 L1375.7 526.1 Z" fill="none" stroke-width="3.3"/>
<text class="h" x="1379.4" y="520.3" font-size="17.0" textLength="9.4" lengthAdjust="spacingAndGlyphs">W</text>
<path d="M1368.6 583.5 L1392.5 583.5 L1392.6 612.2 L1368.7 612.2 Z" fill="none" stroke-width="3.3"/>
<text class="h" x="1375.9" y="604.0" font-size="17.0" textLength="9.4" lengthAdjust="spacingAndGlyphs">N</text>
<path d="M1164.8 268.2 L1174.4 268.2 L1174.4 296.9 L1164.9 296.9 Z" fill="none" stroke-width="3.3"/>
<path d="M1102.9 394.1 L1119.6 394.1 L1119.6 407.0 L1102.9 407.0 Z" fill="none" stroke-width="3.3"/>
<path d="M1181.8 385.4 L1198.5 385.4 L1198.5 402.1 L1181.8 402.1 Z" fill="none" stroke-width="3.3"/>
<text class="h" x="1185.5" y="399.9" font-size="17.0" textLength="9.4" lengthAdjust="spacingAndGlyphs">N</text>
<path d="M1045.5 407.1 L1181.8 406.9" fill="none" stroke-width="3.0"/>
<path d="M1181.8 385.4 L1181.8 406.9" fill="none" stroke-width="3.0"/>
<path d="M1035.8 309.1 L1047.7 309.1 L1047.8 325.8 L1035.8 325.8 Z" fill="none" stroke-width="3.3"/>
<text class="h" x="1162.7" y="426.1" font-size="17.0" textLength="8.6" lengthAdjust="spacingAndGlyphs">N</text>
<text class="h" x="1184.2" y="426.0" font-size="17.0" textLength="9.6" lengthAdjust="spacingAndGlyphs">M</text>
<text class="h" x="1148.1" y="263.5" font-size="22.0" textLength="10.5" lengthAdjust="spacingAndGlyphs">A</text>
<text class="h" x="1146.1" y="481.1" font-size="17.0" textLength="7.7" lengthAdjust="spacingAndGlyphs">A</text>
<path d="M1129.0 265.9 C1130.2 264.9 1133.9 260.0 1136.1 260.2 C1138.4 260.3 1140.4 266.3 1142.4 266.8 C1144.3 267.4 1147.1 264.0 1148.1 263.5" fill="none" stroke-width="2.6"/>
<circle cx="1256.3" cy="593.3" r="5.3" fill="none" stroke-width="3.0"/>
<text class="h" x="1261.0" y="583.7" font-size="20.0" textLength="10.5" lengthAdjust="spacingAndGlyphs">M</text>
<path d="M1399.0 153.1 L1418.1 153.0 L1418.2 203.2 L1399.1 203.3 Z" fill="none" stroke-width="2.0"/>
<path d="M1399.0 158.1 L1418.1 158.0" fill="none" stroke-width="2.0"/>
<path d="M1399.0 163.1 L1418.1 163.1" fill="none" stroke-width="2.0"/>
<path d="M1399.0 168.1 L1418.1 168.1" fill="none" stroke-width="2.0"/>
<path d="M1399.0 173.1 L1418.2 173.1" fill="none" stroke-width="2.0"/>
<path d="M1399.0 178.2 L1418.2 178.1" fill="none" stroke-width="2.0"/>
<path d="M1399.0 183.2 L1418.2 183.2" fill="none" stroke-width="2.0"/>
<path d="M1399.0 188.2 L1418.2 188.2" fill="none" stroke-width="2.0"/>
<path d="M1399.1 193.2 L1418.2 193.2" fill="none" stroke-width="2.0"/>
<path d="M1399.1 198.3 L1418.2 198.2" fill="none" stroke-width="2.0"/>
<path d="M1396.7 222.4 L1432.6 217.6 L1437.4 227.1 L1437.4 246.3" fill="none" stroke-width="2.4" stroke-dasharray="16 7"/>
<path d="M1396.8 246.3 L1415.9 246.3 L1415.9 270.2 L1396.8 270.2 Z" fill="none" stroke-width="3.3"/>
<text class="h" x="1401.7" y="264.4" font-size="17.0" textLength="9.4" lengthAdjust="spacingAndGlyphs">A</text>
<path d="M1420.7 246.3 L1466.1 246.2 L1466.1 270.1 L1420.7 270.2 Z" fill="none" stroke-width="2.4" stroke-dasharray="16 7"/>
<path d="M1437.4 246.3 L1437.4 270.2" fill="none" stroke-width="2.4" stroke-dasharray="16 7"/>
<path d="M1397.1 463.9 L1416.3 463.9 L1416.3 487.8 L1397.2 487.8 Z" fill="none" stroke-width="3.3"/>
<text class="h" x="1402.0" y="482.0" font-size="17.0" textLength="9.4" lengthAdjust="spacingAndGlyphs">A</text>
<path d="M1421.0 463.9 L1466.5 463.8 L1466.5 490.1 L1421.1 490.2 Z" fill="none" stroke-width="2.4" stroke-dasharray="16 7"/>
<path d="M1437.8 463.9 L1437.8 490.2" fill="none" stroke-width="2.4" stroke-dasharray="16 7"/>
<path d="M1397.2 523.7 L1433.1 516.5 L1437.8 504.5 L1437.8 492.6" fill="none" stroke-width="2.4" stroke-dasharray="16 7"/>
<path d="M1397.2 528.5 L1416.4 528.5 L1416.4 547.6 L1397.3 547.6 Z" fill="none" stroke-width="3.3"/>
<path d="M1399.7 547.6 L1418.8 547.6 L1418.9 593.0 L1399.7 593.1 Z" fill="none" stroke-width="2.0"/>
<path d="M1399.7 552.7 L1418.8 552.6" fill="none" stroke-width="2.0"/>
<path d="M1399.7 557.7 L1418.8 557.7" fill="none" stroke-width="2.0"/>
<path d="M1399.7 562.8 L1418.8 562.7" fill="none" stroke-width="2.0"/>
<path d="M1399.7 567.8 L1418.8 567.8" fill="none" stroke-width="2.0"/>
<path d="M1399.7 572.9 L1418.8 572.8" fill="none" stroke-width="2.0"/>
<path d="M1399.7 577.9 L1418.8 577.9" fill="none" stroke-width="2.0"/>
<path d="M1399.7 583.0 L1418.8 582.9" fill="none" stroke-width="2.0"/>
<path d="M1399.7 588.0 L1418.9 588.0" fill="none" stroke-width="2.0"/>
<rect x="1545.0" y="247.0" width="40.7" height="17.1" rx="5.7" fill="none" stroke-width="2.9"/>
<rect x="1545.4" y="474.7" width="40.7" height="17.1" rx="5.7" fill="none" stroke-width="2.9"/>
<text class="h" x="1552.2" y="261.4" font-size="17.0" textLength="19.1" lengthAdjust="spacingAndGlyphs">Lz</text>
<text class="h" x="1552.6" y="489.0" font-size="17.0" textLength="19.1" lengthAdjust="spacingAndGlyphs">Lz</text>
<text class="h" x="1400.6" y="234.4" font-size="20.0" textLength="19.1" lengthAdjust="spacingAndGlyphs">La</text>
<text class="h" x="1401.0" y="516.5" font-size="20.0" textLength="19.1" lengthAdjust="spacingAndGlyphs">La</text>
<rect x="1451.9" y="337.1" width="26.4" height="62.1" rx="5.7" fill="none" stroke-width="2.4" stroke-dasharray="14 6 3 6"/>
<text class="h" x="1455.3" y="358.6" font-size="20.0" textLength="18.2" lengthAdjust="spacingAndGlyphs">La</text>
<rect x="1596.8" y="342.6" width="20.1" height="17.2" rx="4.8" fill="none" stroke-width="2.9"/>
<text class="h" x="1599.7" y="356.0" font-size="15.0" textLength="14.3" lengthAdjust="spacingAndGlyphs">Lz</text>
<rect x="1596.9" y="377.5" width="20.1" height="16.7" rx="4.8" fill="none" stroke-width="2.9"/>
<text class="h" x="1599.8" y="390.9" font-size="15.0" textLength="14.3" lengthAdjust="spacingAndGlyphs">Lz</text>
<path d="M1606.4 359.8 L1606.5 377.5" fill="none" stroke-width="2.2"/>
<path d="M1392.3 440.0 L1643.4 439.6 L1798.8 429.8 L2100.1 429.3" fill="none" stroke-width="3.0"/>
<path d="M1392.3 425.7 L1643.4 425.3 L1798.8 415.4 L2004.4 415.1" fill="none" stroke-width="2.2" stroke-dasharray="46 8 5 8"/>
<path d="M1499.9 439.8 L1499.9 459.0" fill="none" stroke-width="3.0"/>
<path d="M1497.4 394.4 L1523.7 394.4 L1523.8 437.4 L1497.5 437.5 Z" fill="none" stroke-width="2.0"/>
<path d="M1497.5 399.2 L1523.8 399.2" fill="none" stroke-width="2.0"/>
<path d="M1497.5 404.0 L1523.8 403.9" fill="none" stroke-width="2.0"/>
<path d="M1497.5 408.8 L1523.8 408.7" fill="none" stroke-width="2.0"/>
<path d="M1497.5 413.5 L1523.8 413.5" fill="none" stroke-width="2.0"/>
<path d="M1497.5 418.3 L1523.8 418.3" fill="none" stroke-width="2.0"/>
<path d="M1497.5 423.1 L1523.8 423.1" fill="none" stroke-width="2.0"/>
<path d="M1497.5 427.9 L1523.8 427.8" fill="none" stroke-width="2.0"/>
<path d="M1497.5 432.7 L1523.8 432.6" fill="none" stroke-width="2.0"/>
<path d="M1652.9 394.1 L1669.6 394.1 L1669.7 434.8 L1652.9 434.8 Z" fill="none" stroke-width="2.0"/>
<path d="M1652.9 398.7 L1669.6 398.6" fill="none" stroke-width="2.0"/>
<path d="M1652.9 403.2 L1669.6 403.2" fill="none" stroke-width="2.0"/>
<path d="M1652.9 407.7 L1669.6 407.7" fill="none" stroke-width="2.0"/>
<path d="M1652.9 412.2 L1669.6 412.2" fill="none" stroke-width="2.0"/>
<path d="M1652.9 416.7 L1669.7 416.7" fill="none" stroke-width="2.0"/>
<path d="M1652.9 421.3 L1669.7 421.2" fill="none" stroke-width="2.0"/>
<path d="M1652.9 425.8 L1669.7 425.7" fill="none" stroke-width="2.0"/>
<path d="M1652.9 430.3 L1669.7 430.3" fill="none" stroke-width="2.0"/>
<path d="M1672.4 441.9 L1672.5 456.3" fill="none" stroke-width="2.0"/>
<path d="M1677.6 441.9 L1677.6 456.3" fill="none" stroke-width="2.0"/>
<path d="M1682.7 441.9 L1682.7 456.3" fill="none" stroke-width="2.0"/>
<path d="M1687.8 441.9 L1687.8 456.3" fill="none" stroke-width="2.0"/>
<path d="M1692.9 441.9 L1693.0 456.3" fill="none" stroke-width="2.0"/>
<path d="M1698.1 441.9 L1698.1 456.2" fill="none" stroke-width="2.0"/>
<path d="M1707.0 439.5 L1707.0 457.2" fill="none" stroke-width="3.0"/>
<path d="M1666.8 116.7 L1683.5 116.7 L1683.5 138.2 L1666.8 138.3 Z" fill="none" stroke-width="3.9"/>
<path d="M1683.5 116.7 L1712.2 116.7 L1712.2 138.2 L1683.5 138.2 Z" fill="none" stroke-width="2.0"/>
<path d="M1687.6 116.7 L1687.6 138.2" fill="none" stroke-width="2.0"/>
<path d="M1691.7 116.7 L1691.7 138.2" fill="none" stroke-width="2.0"/>
<path d="M1695.8 116.7 L1695.8 138.2" fill="none" stroke-width="2.0"/>
<path d="M1699.9 116.7 L1699.9 138.2" fill="none" stroke-width="2.0"/>
<path d="M1704.0 116.7 L1704.0 138.2" fill="none" stroke-width="2.0"/>
<path d="M1708.1 116.7 L1708.1 138.2" fill="none" stroke-width="2.0"/>
<path d="M1731.3 116.6 L1731.4 140.5" fill="none" stroke-width="3.0"/>
<path d="M1712.2 140.6 L1733.8 140.5 L1733.8 183.6 L1712.3 183.6 Z" fill="none" stroke-width="2.0"/>
<path d="M1712.2 145.4 L1733.8 145.3" fill="none" stroke-width="2.0"/>
<path d="M1712.2 150.1 L1733.8 150.1" fill="none" stroke-width="2.0"/>
<path d="M1712.3 154.9 L1733.8 154.9" fill="none" stroke-width="2.0"/>
<path d="M1712.3 159.7 L1733.8 159.7" fill="none" stroke-width="2.0"/>
<path d="M1712.3 164.5 L1733.8 164.4" fill="none" stroke-width="2.0"/>
<path d="M1712.3 169.3 L1733.8 169.2" fill="none" stroke-width="2.0"/>
<path d="M1712.3 174.0 L1733.8 174.0" fill="none" stroke-width="2.0"/>
<path d="M1712.3 178.8 L1733.8 178.8" fill="none" stroke-width="2.0"/>
<path d="M1667.6 599.8 L1684.3 599.7 L1684.4 621.3 L1667.6 621.3 Z" fill="none" stroke-width="3.9"/>
<path d="M1684.3 602.1 L1713.0 602.1 L1713.0 621.2 L1684.4 621.3 Z" fill="none" stroke-width="2.0"/>
<path d="M1688.4 602.1 L1688.5 621.3" fill="none" stroke-width="2.0"/>
<path d="M1692.5 602.1 L1692.5 621.3" fill="none" stroke-width="2.0"/>
<path d="M1696.6 602.1 L1696.6 621.2" fill="none" stroke-width="2.0"/>
<path d="M1700.7 602.1 L1700.7 621.2" fill="none" stroke-width="2.0"/>
<path d="M1704.8 602.1 L1704.8 621.2" fill="none" stroke-width="2.0"/>
<path d="M1708.9 602.1 L1708.9 621.2" fill="none" stroke-width="2.0"/>
<path d="M1734.5 592.5 L1734.6 621.2" fill="none" stroke-width="3.0"/>
<path d="M1712.9 547.1 L1734.4 547.1 L1734.5 590.1 L1713.0 590.1 Z" fill="none" stroke-width="2.0"/>
<path d="M1712.9 551.9 L1734.5 551.8" fill="none" stroke-width="2.0"/>
<path d="M1712.9 556.7 L1734.5 556.6" fill="none" stroke-width="2.0"/>
<path d="M1712.9 561.4 L1734.5 561.4" fill="none" stroke-width="2.0"/>
<path d="M1713.0 566.2 L1734.5 566.2" fill="none" stroke-width="2.0"/>
<path d="M1713.0 571.0 L1734.5 571.0" fill="none" stroke-width="2.0"/>
<path d="M1713.0 575.8 L1734.5 575.8" fill="none" stroke-width="2.0"/>
<path d="M1713.0 580.6 L1734.5 580.5" fill="none" stroke-width="2.0"/>
<path d="M1713.0 585.4 L1734.5 585.3" fill="none" stroke-width="2.0"/>
<path d="M1713.0 592.5 L1734.5 592.5" fill="none" stroke-width="3.0"/>
<rect x="1674.1" y="245.9" width="24.9" height="22.9" rx="4.8" fill="none" stroke-width="2.4" stroke-dasharray="12 6"/>
<text class="h" x="1679.0" y="263.1" font-size="18.0" textLength="15.3" lengthAdjust="spacingAndGlyphs">Lz</text>
<rect x="1722.0" y="243.4" width="37.4" height="32.0" rx="4.8" fill="none" stroke-width="2.4" stroke-dasharray="12 6"/>
<text class="h" x="1733.0" y="265.1" font-size="18.0" textLength="15.3" lengthAdjust="spacingAndGlyphs">La</text>
<rect x="1674.5" y="468.2" width="24.9" height="23.9" rx="4.8" fill="none" stroke-width="2.4" stroke-dasharray="12 6"/>
<text class="h" x="1679.3" y="485.9" font-size="18.0" textLength="15.3" lengthAdjust="spacingAndGlyphs">Lz</text>
<rect x="1722.3" y="463.4" width="37.4" height="31.0" rx="4.8" fill="none" stroke-width="2.4" stroke-dasharray="12 6"/>
<text class="h" x="1733.4" y="484.6" font-size="18.0" textLength="15.3" lengthAdjust="spacingAndGlyphs">La</text>
<rect x="1687.7" y="341.5" width="24.9" height="20.0" rx="4.8" fill="none" stroke-width="2.4" stroke-dasharray="12 6"/>
<text class="h" x="1692.5" y="357.3" font-size="18.0" textLength="15.3" lengthAdjust="spacingAndGlyphs">Lz</text>
<rect x="1724.5" y="351.0" width="35.9" height="31.0" rx="4.8" fill="none" stroke-width="2.4" stroke-dasharray="12 6"/>
<path d="M1798.6 315.0 L1832.1 310.1 L1985.1 309.9 L2004.3 318.0 L2040.1 317.9" fill="none" stroke-width="3.0"/>
<path d="M1836.9 312.5 L1985.1 312.3" fill="none" stroke-width="2.0"/>
<rect x="1810.3" y="181.1" width="38.4" height="57.3" rx="3.8" fill="none" stroke-width="2.4" stroke-dasharray="16 6 4 6"/>
<rect x="1988.7" y="180.7" width="41.7" height="45.4" rx="3.8" fill="none" stroke-width="2.4" stroke-dasharray="16 6 4 6"/>
<rect x="1810.9" y="501.5" width="36.9" height="57.3" rx="3.8" fill="none" stroke-width="2.4" stroke-dasharray="16 6 4 6"/>
<rect x="1987.9" y="513.1" width="41.7" height="43.9" rx="3.8" fill="none" stroke-width="2.4" stroke-dasharray="16 6 4 6"/>
<rect x="1810.6" y="342.2" width="33.6" height="54.0" rx="3.8" fill="none" stroke-width="2.4" stroke-dasharray="16 6 4 6"/>
<rect x="1995.7" y="341.0" width="33.6" height="54.9" rx="3.8" fill="none" stroke-width="2.4" stroke-dasharray="16 6 4 6"/>
<rect x="1882.2" y="226.4" width="24.0" height="28.7" rx="4.8" fill="none" stroke-width="2.4" stroke-dasharray="12 6"/>
<text class="h" x="1887.0" y="246.0" font-size="17.0" textLength="14.3" lengthAdjust="spacingAndGlyphs">Lz</text>
<rect x="1921.9" y="226.3" width="25.9" height="28.7" rx="4.8" fill="none" stroke-width="2.4" stroke-dasharray="12 6"/>
<text class="h" x="1927.6" y="245.9" font-size="17.0" textLength="14.3" lengthAdjust="spacingAndGlyphs">Lz</text>
<rect x="1882.6" y="482.2" width="22.5" height="28.7" rx="4.8" fill="none" stroke-width="2.4" stroke-dasharray="12 6"/>
<text class="h" x="1886.7" y="501.8" font-size="17.0" textLength="14.3" lengthAdjust="spacingAndGlyphs">Lz</text>
<rect x="1923.2" y="482.2" width="24.0" height="28.7" rx="4.8" fill="none" stroke-width="2.4" stroke-dasharray="12 6"/>
<text class="h" x="1928.1" y="501.8" font-size="17.0" textLength="14.3" lengthAdjust="spacingAndGlyphs">Lz</text>
<rect x="1875.2" y="338.8" width="32.6" height="20.0" rx="4.8" fill="none" stroke-width="2.4" stroke-dasharray="12 6"/>
<text class="h" x="1884.3" y="354.1" font-size="17.0" textLength="14.3" lengthAdjust="spacingAndGlyphs">Lz</text>
<rect x="1930.2" y="338.7" width="33.5" height="20.0" rx="4.8" fill="none" stroke-width="2.4" stroke-dasharray="12 6"/>
<text class="h" x="1939.8" y="354.0" font-size="17.0" textLength="14.3" lengthAdjust="spacingAndGlyphs">Lz</text>
<rect x="1875.2" y="377.0" width="32.6" height="20.5" rx="4.8" fill="none" stroke-width="2.4" stroke-dasharray="12 6"/>
<text class="h" x="1884.4" y="392.6" font-size="17.0" textLength="14.3" lengthAdjust="spacingAndGlyphs">Lz</text>
<rect x="1930.2" y="376.9" width="33.5" height="20.5" rx="4.8" fill="none" stroke-width="2.4" stroke-dasharray="12 6"/>
<text class="h" x="1939.8" y="392.5" font-size="17.0" textLength="14.3" lengthAdjust="spacingAndGlyphs">Lz</text>
<circle cx="1922.7" cy="174.6" r="5.7" fill="none" stroke-width="2.9"/>
<circle cx="1932.3" cy="188.0" r="5.7" fill="none" stroke-width="2.9"/>
<circle cx="1920.4" cy="200.0" r="5.7" fill="none" stroke-width="2.9"/>
<circle cx="1902.7" cy="193.8" r="5.7" fill="none" stroke-width="2.9"/>
<circle cx="1919.5" cy="537.2" r="5.7" fill="none" stroke-width="2.9"/>
<circle cx="1932.0" cy="549.1" r="5.7" fill="none" stroke-width="2.9"/>
<circle cx="1919.6" cy="563.5" r="5.7" fill="none" stroke-width="2.9"/>
<circle cx="1903.3" cy="539.6" r="5.7" fill="none" stroke-width="2.9"/>
<path d="M1898.9 200.0 L1889.5 302.9" fill="none" stroke-width="2.4" stroke-dasharray="16 7"/>
<path d="M1908.4 200.0 L1898.0 283.7" fill="none" stroke-width="2.4" stroke-dasharray="16 7"/>
<circle cx="1884.7" cy="298.1" r="5.3" fill="none" stroke-width="2.9"/>
<path d="M1884.9 439.2 L1899.4 537.2" fill="none" stroke-width="2.4" stroke-dasharray="16 7"/>
<path d="M1896.9 439.2 L1909.0 532.4" fill="none" stroke-width="2.4" stroke-dasharray="16 7"/>
<circle cx="1977.9" cy="265.9" r="5.3" fill="none" stroke-width="3.0"/>
<circle cx="1975.8" cy="469.2" r="4.8" fill="none" stroke-width="3.0"/>
<circle cx="1917.3" cy="386.5" r="4.8" fill="none" stroke-width="2.4" stroke-dasharray="6 4"/>
<path d="M1913.3 269.4 L1913.3 283.7" fill="none" stroke-width="3.0"/>
<path d="M1913.6 446.3 L1913.7 467.8" fill="none" stroke-width="3.0"/>
<path d="M1898.7 114.9 L1913.1 130.7 L1970.5 130.6 L1970.4 114.8" fill="none" stroke-width="3.0"/>
<path d="M1920.7 116.3 L1920.7 129.7" fill="none" stroke-width="2.0"/>
<path d="M1926.0 116.3 L1926.0 129.7" fill="none" stroke-width="2.0"/>
<path d="M1931.2 116.3 L1931.3 129.7" fill="none" stroke-width="2.0"/>
<path d="M1936.5 116.3 L1936.5 129.7" fill="none" stroke-width="2.0"/>
<path d="M1941.8 116.3 L1941.8 129.7" fill="none" stroke-width="2.0"/>
<path d="M1947.0 116.3 L1947.0 129.6" fill="none" stroke-width="2.0"/>
<path d="M1952.3 116.2 L1952.3 129.6" fill="none" stroke-width="2.0"/>
<path d="M1957.5 116.2 L1957.6 129.6" fill="none" stroke-width="2.0"/>
<path d="M1962.8 116.2 L1962.8 129.6" fill="none" stroke-width="2.0"/>
<path d="M1999.1 114.7 L1999.2 130.5 L2018.3 131.4" fill="none" stroke-width="3.0"/>
<path d="M1899.6 623.3 L1913.9 604.1 L1971.3 604.0 L1971.3 623.2" fill="none" stroke-width="3.0"/>
<path d="M1921.5 606.5 L1921.6 622.3" fill="none" stroke-width="2.0"/>
<path d="M1926.8 606.5 L1926.8 622.3" fill="none" stroke-width="2.0"/>
<path d="M1932.1 606.5 L1932.1 622.3" fill="none" stroke-width="2.0"/>
<path d="M1937.3 606.5 L1937.4 622.3" fill="none" stroke-width="2.0"/>
<path d="M1942.6 606.5 L1942.6 622.3" fill="none" stroke-width="2.0"/>
<path d="M1947.8 606.5 L1947.9 622.3" fill="none" stroke-width="2.0"/>
<path d="M1953.1 606.5 L1953.1 622.2" fill="none" stroke-width="2.0"/>
<path d="M1958.4 606.5 L1958.4 622.2" fill="none" stroke-width="2.0"/>
<path d="M1963.6 606.4 L1963.7 622.2" fill="none" stroke-width="2.0"/>
<path d="M2000.0 623.1 L2000.0 606.4 L2023.9 601.6" fill="none" stroke-width="3.0"/>
<path d="M1398.9 76.5 L1420.4 76.5 L1420.4 117.2 L1398.9 117.2 Z" fill="none" stroke-width="3.3"/>
<text class="h" x="1402.2" y="93.3" font-size="18.0" textLength="10.5" lengthAdjust="spacingAndGlyphs">N</text>
<circle cx="1409.9" cy="108.6" r="5.7" fill="none" stroke-width="2.4" stroke-dasharray="5 4"/>
<path d="M1399.8 619.4 L1421.3 619.3 L1421.4 660.0 L1399.8 660.0 Z" fill="none" stroke-width="3.3"/>
<text class="h" x="1403.2" y="652.8" font-size="18.0" textLength="10.5" lengthAdjust="spacingAndGlyphs">N</text>
<circle cx="1410.8" cy="628.9" r="5.7" fill="none" stroke-width="2.4" stroke-dasharray="5 4"/>
<path d="M1803.0 74.4 L1826.9 74.4 L1827.0 114.1 L1803.1 114.1 Z" fill="none" stroke-width="3.3"/>
<text class="h" x="1806.8" y="90.2" font-size="18.0" textLength="10.5" lengthAdjust="spacingAndGlyphs">N</text>
<circle cx="1815.0" cy="98.3" r="5.7" fill="none" stroke-width="2.4" stroke-dasharray="5 4"/>
<path d="M1803.9 623.5 L1827.8 623.4 L1827.9 664.1 L1804.0 664.1 Z" fill="none" stroke-width="3.3"/>
<text class="h" x="1807.8" y="659.3" font-size="18.0" textLength="10.5" lengthAdjust="spacingAndGlyphs">N</text>
<circle cx="1815.9" cy="637.8" r="5.7" fill="none" stroke-width="2.4" stroke-dasharray="5 4"/>
<circle cx="1481.6" cy="103.7" r="5.7" fill="none" stroke-width="2.4" stroke-dasharray="5 4"/>
<circle cx="1591.6" cy="100.1" r="5.7" fill="none" stroke-width="2.4" stroke-dasharray="5 4"/>
<circle cx="1731.3" cy="97.5" r="5.7" fill="none" stroke-width="2.4" stroke-dasharray="5 4"/>
<circle cx="1786.3" cy="97.4" r="5.7" fill="none" stroke-width="2.4" stroke-dasharray="5 4"/>
<circle cx="1870.0" cy="96.3" r="5.7" fill="none" stroke-width="2.4" stroke-dasharray="5 4"/>
<circle cx="1982.4" cy="94.7" r="5.7" fill="none" stroke-width="2.4" stroke-dasharray="5 4"/>
<circle cx="2051.7" cy="92.2" r="5.7" fill="none" stroke-width="2.4" stroke-dasharray="5 4"/>
<circle cx="1481.1" cy="636.0" r="5.7" fill="none" stroke-width="2.4" stroke-dasharray="5 4"/>
<circle cx="1592.6" cy="640.6" r="5.7" fill="none" stroke-width="2.4" stroke-dasharray="5 4"/>
<circle cx="1732.2" cy="643.7" r="5.7" fill="none" stroke-width="2.4" stroke-dasharray="5 4"/>
<circle cx="1787.2" cy="642.6" r="5.7" fill="none" stroke-width="2.4" stroke-dasharray="5 4"/>
<circle cx="1868.5" cy="641.5" r="5.7" fill="none" stroke-width="2.4" stroke-dasharray="5 4"/>
<circle cx="1983.3" cy="641.3" r="5.7" fill="none" stroke-width="2.4" stroke-dasharray="5 4"/>
<circle cx="2050.3" cy="641.2" r="5.7" fill="none" stroke-width="2.4" stroke-dasharray="5 4"/>
<text class="h" x="1071.3" y="85.2" font-size="24.0" textLength="78.9" lengthAdjust="spacingAndGlyphs" transform="rotate(-3.0 1071.3 85.2)">Wallgang</text>
<text class="h" x="1135.9" y="126.2" font-size="24.0" textLength="69.3" lengthAdjust="spacingAndGlyphs" transform="rotate(-5.0 1135.9 126.2)">Bunker</text>
<text class="h" x="1133.6" y="176.0" font-size="24.0" textLength="40.7" lengthAdjust="spacingAndGlyphs">38cm</text>
<text class="h" x="1138.4" y="198.9" font-size="24.0" textLength="55.0" lengthAdjust="spacingAndGlyphs">Pulv.-K.</text>
<text class="h" x="1148.0" y="232.4" font-size="24.0" textLength="43.0" lengthAdjust="spacingAndGlyphs">Nr.31</text>
<text class="h" x="1050.0" y="225.4" font-size="22.0" textLength="71.7" lengthAdjust="spacingAndGlyphs">Sal. Mun.</text>
<text class="h" x="1071.5" y="252.6" font-size="21.0" textLength="40.7" lengthAdjust="spacingAndGlyphs">Nr.39</text>
<text class="h" x="1214.9" y="202.2" font-size="24.0" textLength="117.2" lengthAdjust="spacingAndGlyphs">38cm Pulv.-K.</text>
<text class="h" x="1250.8" y="222.7" font-size="24.0" textLength="52.6" lengthAdjust="spacingAndGlyphs">Nr. 23.</text>
<text class="h" x="1059.7" y="331.5" font-size="24.0" textLength="112.4" lengthAdjust="spacingAndGlyphs">38cm Pulv.-K.</text>
<text class="h" x="1090.8" y="353.0" font-size="24.0" textLength="52.6" lengthAdjust="spacingAndGlyphs">Nr. 30</text>
<text class="h" x="1207.9" y="295.4" font-size="21.0" textLength="35.9" lengthAdjust="spacingAndGlyphs">38cm</text>
<text class="h" x="1332.3" y="295.2" font-size="21.0" textLength="47.8" lengthAdjust="spacingAndGlyphs">Pulv.-K.</text>
<text class="h" x="1045.5" y="429.6" font-size="22.0" textLength="102.8" lengthAdjust="spacingAndGlyphs">38 cm Pulv.-K.</text>
<text class="h" x="1081.4" y="448.7" font-size="22.0" textLength="47.8" lengthAdjust="spacingAndGlyphs">Nr. 29</text>
<text class="h" x="1337.3" y="450.6" font-size="21.0" textLength="45.4" lengthAdjust="spacingAndGlyphs">Nr.22a</text>
<text class="h" x="1076.8" y="510.9" font-size="24.0" textLength="107.6" lengthAdjust="spacingAndGlyphs">38cm Pulv.-K.</text>
<text class="h" x="1143.8" y="563.4" font-size="24.0" textLength="45.4" lengthAdjust="spacingAndGlyphs">Nr. 28</text>
<text class="h" x="1213.1" y="522.6" font-size="24.0" textLength="117.2" lengthAdjust="spacingAndGlyphs">38cm Pulv.-K.</text>
<text class="h" x="1268.1" y="548.8" font-size="24.0" textLength="47.8" lengthAdjust="spacingAndGlyphs">Nr. 21</text>
<text class="h" x="1434.9" y="194.6" font-size="24.0" textLength="160.2" lengthAdjust="spacingAndGlyphs">Niederdr.-Turb.- R.</text>
<text class="h" x="1413.6" y="321.4" font-size="24.0" textLength="169.8" lengthAdjust="spacingAndGlyphs">Niederdr.-Turb.-R.</text>
<text class="h" x="1428.4" y="555.7" font-size="24.0" textLength="162.6" lengthAdjust="spacingAndGlyphs">Niederdr.-Turb.-R.</text>
<text class="h" x="1647.8" y="218.2" font-size="24.0" textLength="136.3" lengthAdjust="spacingAndGlyphs">Hochdr.-Turb.-R.</text>
<text class="h" x="1645.6" y="321.0" font-size="24.0" textLength="133.9" lengthAdjust="spacingAndGlyphs">Hochdr.-Turb.-R.</text>
<text class="h" x="1648.3" y="524.2" font-size="24.0" textLength="122.0" lengthAdjust="spacingAndGlyphs">Hochdr.Turb.-R.</text>
<text class="h" x="1853.4" y="162.8" font-size="24.0" textLength="107.6" lengthAdjust="spacingAndGlyphs">I Kessel-R.</text>
<text class="h" x="1839.3" y="335.0" font-size="24.0" textLength="110.0" lengthAdjust="spacingAndGlyphs">I Kessel-R.</text>
<text class="h" x="1837.4" y="595.7" font-size="24.0" textLength="112.4" lengthAdjust="spacingAndGlyphs">I Kessel-R.</text>
<text class="h" x="1839.2" y="303.9" font-size="21.0" textLength="23.9" lengthAdjust="spacingAndGlyphs">NA</text>
<text class="h" x="1903.8" y="306.2" font-size="24.0" textLength="93.3" lengthAdjust="spacingAndGlyphs">Mittelgang</text>
<text class="h" x="1906.4" y="447.3" font-size="24.0" textLength="86.1" lengthAdjust="spacingAndGlyphs">Mittelgang</text>
<text class="h" x="1523.9" y="459.9" font-size="24.0" textLength="90.9" lengthAdjust="spacingAndGlyphs">Mittelgang</text>
<text class="h" x="1494.5" y="96.5" font-size="24.0" textLength="69.3" lengthAdjust="spacingAndGlyphs">Schutz-</text>
<text class="h" x="1650.0" y="96.2" font-size="24.0" textLength="67.0" lengthAdjust="spacingAndGlyphs">Bunker</text>
<text class="h" x="1886.7" y="93.4" font-size="24.0" textLength="71.7" lengthAdjust="spacingAndGlyphs">Schutz-</text>
<text class="h" x="1495.5" y="653.6" font-size="24.0" textLength="69.3" lengthAdjust="spacingAndGlyphs">Schutz-</text>
<text class="h" x="1653.3" y="655.8" font-size="24.0" textLength="67.0" lengthAdjust="spacingAndGlyphs">Bunker</text>
<text class="h" x="1887.7" y="653.0" font-size="24.0" textLength="71.7" lengthAdjust="spacingAndGlyphs">Schutz-</text>
<text class="h" x="1136.7" y="627.0" font-size="24.0" textLength="67.0" lengthAdjust="spacingAndGlyphs" transform="rotate(5.0 1136.7 627.0)">Bunker</text>
<text class="h" x="1077.0" y="663.9" font-size="24.0" textLength="78.9" lengthAdjust="spacingAndGlyphs" transform="rotate(5.0 1077.0 663.9)">Wallgang</text>
<text class="h" x="1535.7" y="421.6" font-size="21.0" textLength="23.9" lengthAdjust="spacingAndGlyphs">NA</text>
<text class="h" x="1987.8" y="475.8" font-size="20.0" textLength="21.5" lengthAdjust="spacingAndGlyphs">NA</text>
<text class="h" x="1906.4" y="413.8" font-size="20.0" textLength="21.5" lengthAdjust="spacingAndGlyphs">RA</text>
<text class="h" x="1050.5" y="557.8" font-size="17.0" textLength="23.9" lengthAdjust="spacingAndGlyphs">Sal.</text>
<text class="h" x="1096.0" y="572.1" font-size="17.0" textLength="21.5" lengthAdjust="spacingAndGlyphs" transform="rotate(70.0 1096.0 572.1)">Mun.</text>
<path d="M2104.4 107.7 L2104.5 153.0" fill="none" stroke-width="3.0"/>
<path d="M2104.4 628.9 L2104.5 583.6" fill="none" stroke-width="3.0"/>
<path d="M2057.9 138.7 L2057.9 153.1" fill="none" stroke-width="2.0"/>
<path d="M2057.9 597.9 L2057.9 583.5" fill="none" stroke-width="2.0"/>
<path d="M2062.0 138.7 L2062.0 153.1" fill="none" stroke-width="2.0"/>
<path d="M2062.0 597.9 L2062.0 583.5" fill="none" stroke-width="2.0"/>
<path d="M2066.0 138.7 L2066.1 153.1" fill="none" stroke-width="2.0"/>
<path d="M2066.0 597.9 L2066.1 583.5" fill="none" stroke-width="2.0"/>
<path d="M2070.1 138.6 L2070.1 153.1" fill="none" stroke-width="2.0"/>
<path d="M2070.1 598.0 L2070.1 583.5" fill="none" stroke-width="2.0"/>
<path d="M2074.2 138.6 L2074.2 153.1" fill="none" stroke-width="2.0"/>
<path d="M2074.2 598.0 L2074.2 583.5" fill="none" stroke-width="2.0"/>
<path d="M2078.2 138.6 L2078.3 153.1" fill="none" stroke-width="2.0"/>
<path d="M2078.2 598.0 L2078.3 583.5" fill="none" stroke-width="2.0"/>
<path d="M2082.3 138.6 L2082.3 153.1" fill="none" stroke-width="2.0"/>
<path d="M2082.3 598.0 L2082.3 583.5" fill="none" stroke-width="2.0"/>
<path d="M2132.1 138.5 L2132.2 153.0" fill="none" stroke-width="2.0"/>
<path d="M2132.1 598.1 L2132.2 583.6" fill="none" stroke-width="2.0"/>
<path d="M2135.8 138.5 L2135.8 153.0" fill="none" stroke-width="2.0"/>
<path d="M2135.8 598.1 L2135.8 583.6" fill="none" stroke-width="2.0"/>
<path d="M2139.4 138.5 L2139.4 153.0" fill="none" stroke-width="2.0"/>
<path d="M2139.4 598.1 L2139.4 583.6" fill="none" stroke-width="2.0"/>
<path d="M2143.0 138.5 L2143.0 153.0" fill="none" stroke-width="2.0"/>
<path d="M2143.0 598.1 L2143.0 583.6" fill="none" stroke-width="2.0"/>
<path d="M2146.6 138.5 L2146.6 153.0" fill="none" stroke-width="2.0"/>
<path d="M2146.6 598.1 L2146.6 583.6" fill="none" stroke-width="2.0"/>
<path d="M2150.2 138.5 L2150.2 153.0" fill="none" stroke-width="2.0"/>
<path d="M2150.2 598.1 L2150.2 583.6" fill="none" stroke-width="2.0"/>
<path d="M2153.8 138.5 L2153.9 153.0" fill="none" stroke-width="2.0"/>
<path d="M2153.8 598.1 L2153.9 583.6" fill="none" stroke-width="2.0"/>
<path d="M2041.8 154.4 L2165.9 154.1" fill="none" stroke-width="3.7"/>
<path d="M2041.8 582.2 L2165.9 582.5" fill="none" stroke-width="3.7"/>
<path d="M2043.0 155.6 L2053.9 170.0 L2054.0 225.4 L2039.5 238.7" fill="none" stroke-width="3.5"/>
<path d="M2043.0 581.0 L2053.9 566.6 L2054.0 511.2 L2039.5 497.9" fill="none" stroke-width="3.5"/>
<path d="M2164.7 155.4 L2152.7 169.8 L2152.8 225.3 L2166.1 238.5" fill="none" stroke-width="3.5"/>
<path d="M2164.7 581.2 L2152.7 566.8 L2152.8 511.3 L2166.1 498.1" fill="none" stroke-width="3.5"/>
<path d="M2039.5 238.2 L2166.0 238.0" fill="none" stroke-width="3.5"/>
<path d="M2039.5 498.4 L2166.0 498.6" fill="none" stroke-width="3.5"/>
<path d="M2053.9 172.4 L2087.6 172.4 L2087.6 184.9 L2053.9 184.9 Z" fill="none" stroke-width="3.7"/>
<path d="M2053.9 564.2 L2087.6 564.2 L2087.6 551.7 L2053.9 551.7 Z" fill="none" stroke-width="3.7"/>
<path d="M2040.7 189.3 L2080.4 189.2 L2080.5 206.6 L2040.7 206.7 Z" fill="none" stroke-width="3.7"/>
<path d="M2040.7 547.3 L2080.4 547.4 L2080.5 530.0 L2040.7 529.9 Z" fill="none" stroke-width="3.7"/>
<path d="M2054.0 210.5 L2087.7 210.4 L2087.7 224.2 L2054.0 224.2 Z" fill="none" stroke-width="3.7"/>
<path d="M2054.0 526.1 L2087.7 526.2 L2087.7 512.4 L2054.0 512.4 Z" fill="none" stroke-width="3.7"/>
<path d="M2121.4 172.3 L2152.7 172.2 L2152.7 184.8 L2121.4 184.8 Z" fill="none" stroke-width="3.7"/>
<path d="M2121.4 564.3 L2152.7 564.4 L2152.7 551.8 L2121.4 551.8 Z" fill="none" stroke-width="3.7"/>
<path d="M2128.6 189.2 L2166.0 189.1 L2166.0 206.4 L2128.6 206.5 Z" fill="none" stroke-width="3.7"/>
<path d="M2128.6 547.4 L2166.0 547.5 L2166.0 530.2 L2128.6 530.1 Z" fill="none" stroke-width="3.7"/>
<path d="M2121.4 210.4 L2152.7 210.3 L2152.8 224.1 L2121.4 224.1 Z" fill="none" stroke-width="3.7"/>
<path d="M2121.4 526.2 L2152.7 526.3 L2152.8 512.5 L2121.4 512.5 Z" fill="none" stroke-width="3.7"/>
<rect x="2057.5" y="176.7" width="19.3" height="4.8" rx="1.9" fill="none" stroke-width="2.6"/>
<rect x="2057.5" y="555.1" width="19.3" height="4.8" rx="1.9" fill="none" stroke-width="2.6"/>
<rect x="2053.9" y="195.3" width="24.1" height="6.0" rx="1.9" fill="none" stroke-width="2.6"/>
<rect x="2053.9" y="535.3" width="24.1" height="6.0" rx="1.9" fill="none" stroke-width="2.6"/>
<rect x="2057.6" y="214.6" width="19.3" height="4.8" rx="1.9" fill="none" stroke-width="2.6"/>
<rect x="2057.6" y="517.2" width="19.3" height="4.8" rx="1.9" fill="none" stroke-width="2.6"/>
<rect x="2131.0" y="176.6" width="19.3" height="4.8" rx="1.9" fill="none" stroke-width="2.6"/>
<rect x="2131.0" y="555.2" width="19.3" height="4.8" rx="1.9" fill="none" stroke-width="2.6"/>
<rect x="2129.8" y="195.2" width="25.3" height="6.0" rx="1.9" fill="none" stroke-width="2.6"/>
<rect x="2129.8" y="535.4" width="25.3" height="6.0" rx="1.9" fill="none" stroke-width="2.6"/>
<rect x="2131.1" y="214.4" width="19.3" height="4.8" rx="1.9" fill="none" stroke-width="2.6"/>
<rect x="2131.1" y="517.4" width="19.3" height="4.8" rx="1.9" fill="none" stroke-width="2.6"/>
<path d="M2097.2 155.5 L2111.7 155.4 L2111.8 208.5 L2097.3 208.5 Z" fill="none" stroke-width="3.5"/>
<path d="M2097.2 581.1 L2111.7 581.2 L2111.8 528.1 L2097.3 528.1 Z" fill="none" stroke-width="3.5"/>
<path d="M2092.5 210.9 L2115.4 210.9 L2115.4 230.6 L2092.5 230.7 Z" fill="none" stroke-width="3.7"/>
<path d="M2092.5 525.7 L2115.4 525.7 L2115.4 506.0 L2092.5 505.9 Z" fill="none" stroke-width="3.7"/>
<path d="M2039.5 238.2 L2039.6 282.1" fill="none" stroke-width="3.0"/>
<path d="M2039.5 498.4 L2039.6 454.5" fill="none" stroke-width="3.0"/>
<path d="M2166.0 238.0 L2166.1 281.9" fill="none" stroke-width="3.0"/>
<path d="M2166.0 498.6 L2166.1 454.7" fill="none" stroke-width="3.0"/>
<path d="M1902.0 113.6 L1912.9 131.7 L2015.3 131.5 L2041.3 141.6" fill="none" stroke-width="3.5"/>
<path d="M1902.0 623.0 L1912.9 604.9 L2015.3 605.1 L2041.3 595.0" fill="none" stroke-width="3.5"/>
<path d="M1917.9 115.3 L1917.9 130.5" fill="none" stroke-width="2.0"/>
<path d="M1917.9 621.3 L1917.9 606.1" fill="none" stroke-width="2.0"/>
<path d="M1921.8 115.3 L1921.8 130.5" fill="none" stroke-width="2.0"/>
<path d="M1921.8 621.3 L1921.8 606.1" fill="none" stroke-width="2.0"/>
<path d="M1925.7 115.3 L1925.7 130.5" fill="none" stroke-width="2.0"/>
<path d="M1925.7 621.3 L1925.7 606.1" fill="none" stroke-width="2.0"/>
<path d="M1929.5 115.3 L1929.5 130.5" fill="none" stroke-width="2.0"/>
<path d="M1929.5 621.3 L1929.5 606.1" fill="none" stroke-width="2.0"/>
<path d="M1933.4 115.3 L1933.4 130.4" fill="none" stroke-width="2.0"/>
<path d="M1933.4 621.3 L1933.4 606.2" fill="none" stroke-width="2.0"/>
<path d="M1937.3 115.3 L1937.3 130.4" fill="none" stroke-width="2.0"/>
<path d="M1937.3 621.3 L1937.3 606.2" fill="none" stroke-width="2.0"/>
<path d="M1941.1 115.3 L1941.2 130.4" fill="none" stroke-width="2.0"/>
<path d="M1941.1 621.3 L1941.2 606.2" fill="none" stroke-width="2.0"/>
<path d="M1945.0 115.2 L1945.0 130.4" fill="none" stroke-width="2.0"/>
<path d="M1945.0 621.4 L1945.0 606.2" fill="none" stroke-width="2.0"/>
<path d="M1948.9 115.2 L1948.9 130.4" fill="none" stroke-width="2.0"/>
<path d="M1948.9 621.4 L1948.9 606.2" fill="none" stroke-width="2.0"/>
<path d="M1952.8 115.2 L1952.8 130.4" fill="none" stroke-width="2.0"/>
<path d="M1952.8 621.4 L1952.8 606.2" fill="none" stroke-width="2.0"/>
<path d="M1956.6 115.2 L1956.7 130.4" fill="none" stroke-width="2.0"/>
<path d="M1956.6 621.4 L1956.7 606.2" fill="none" stroke-width="2.0"/>
<path d="M1960.5 115.2 L1960.5 130.4" fill="none" stroke-width="2.0"/>
<path d="M1960.5 621.4 L1960.5 606.2" fill="none" stroke-width="2.0"/>
<path d="M1964.4 115.2 L1964.4 130.4" fill="none" stroke-width="2.0"/>
<path d="M1964.4 621.4 L1964.4 606.2" fill="none" stroke-width="2.0"/>
<path d="M1994.7 109.9 L1994.8 131.5" fill="none" stroke-width="3.0"/>
<path d="M1994.7 626.7 L1994.8 605.1" fill="none" stroke-width="3.0"/>
<path d="M2165.9 141.4 L2200.8 130.2 L2294.8 130.1 L2306.8 111.7" fill="none" stroke-width="3.5"/>
<path d="M2165.9 595.2 L2200.8 606.4 L2294.8 606.5 L2306.8 624.9" fill="none" stroke-width="3.5"/>
<path d="M2242.2 112.3 L2242.2 129.4" fill="none" stroke-width="2.0"/>
<path d="M2242.2 624.3 L2242.2 607.2" fill="none" stroke-width="2.0"/>
<path d="M2246.2 112.3 L2246.2 129.4" fill="none" stroke-width="2.0"/>
<path d="M2246.2 624.3 L2246.2 607.2" fill="none" stroke-width="2.0"/>
<path d="M2250.3 112.3 L2250.3 129.4" fill="none" stroke-width="2.0"/>
<path d="M2250.3 624.3 L2250.3 607.2" fill="none" stroke-width="2.0"/>
<path d="M2254.3 112.3 L2254.3 129.4" fill="none" stroke-width="2.0"/>
<path d="M2254.3 624.3 L2254.3 607.2" fill="none" stroke-width="2.0"/>
<path d="M2258.3 112.3 L2258.4 129.4" fill="none" stroke-width="2.0"/>
<path d="M2258.3 624.3 L2258.4 607.2" fill="none" stroke-width="2.0"/>
<path d="M2262.4 112.3 L2262.4 129.4" fill="none" stroke-width="2.0"/>
<path d="M2262.4 624.3 L2262.4 607.2" fill="none" stroke-width="2.0"/>
<path d="M2266.4 112.3 L2266.5 129.4" fill="none" stroke-width="2.0"/>
<path d="M2266.4 624.3 L2266.5 607.2" fill="none" stroke-width="2.0"/>
<path d="M2270.5 112.3 L2270.5 129.4" fill="none" stroke-width="2.0"/>
<path d="M2270.5 624.3 L2270.5 607.2" fill="none" stroke-width="2.0"/>
<path d="M2274.5 112.3 L2274.6 129.4" fill="none" stroke-width="2.0"/>
<path d="M2274.5 624.3 L2274.6 607.2" fill="none" stroke-width="2.0"/>
<path d="M2278.6 112.3 L2278.6 129.4" fill="none" stroke-width="2.0"/>
<path d="M2278.6 624.3 L2278.6 607.2" fill="none" stroke-width="2.0"/>
<path d="M2282.6 112.3 L2282.6 129.4" fill="none" stroke-width="2.0"/>
<path d="M2282.6 624.3 L2282.6 607.2" fill="none" stroke-width="2.0"/>
<path d="M2286.7 112.3 L2286.7 129.4" fill="none" stroke-width="2.0"/>
<path d="M2286.7 624.3 L2286.7 607.2" fill="none" stroke-width="2.0"/>
<path d="M2290.7 112.2 L2290.7 129.4" fill="none" stroke-width="2.0"/>
<path d="M2290.7 624.4 L2290.7 607.2" fill="none" stroke-width="2.0"/>
<path d="M2206.8 109.5 L2206.8 130.2" fill="none" stroke-width="3.0"/>
<path d="M2206.8 627.1 L2206.8 606.4" fill="none" stroke-width="3.0"/>
<text class="h" x="2098.7" y="174.7" font-size="18.0" textLength="9.6" lengthAdjust="spacingAndGlyphs">A</text>
<text class="h" x="2098.8" y="200.0" font-size="18.0" textLength="9.6" lengthAdjust="spacingAndGlyphs">A</text>
<text class="h" x="2096.2" y="226.6" font-size="20.0" textLength="13.3" lengthAdjust="spacingAndGlyphs">N</text>
<text class="h" x="2060.1" y="266.9" font-size="24.0" textLength="80.7" lengthAdjust="spacingAndGlyphs">Rohrgang</text>
<text class="h" x="2056.1" y="54.3" font-size="24.0" textLength="84.3" lengthAdjust="spacingAndGlyphs">Wallgang</text>
<text class="h" x="2067.0" y="86.8" font-size="24.0" textLength="69.9" lengthAdjust="spacingAndGlyphs">Bunker</text>
<text class="h" x="2242.9" y="89.0" font-size="24.0" textLength="72.3" lengthAdjust="spacingAndGlyphs">Schutz-</text>
<path d="M2169.4 66.2 L2191.1 66.2 L2191.1 107.6 L2169.4 107.6 Z" fill="none" stroke-width="3.3"/>
<text class="h" x="2171.8" y="84.3" font-size="20.0" textLength="13.3" lengthAdjust="spacingAndGlyphs">N</text>
<circle cx="2181.0" cy="95.6" r="5.8" fill="none" stroke-width="2.4" stroke-dasharray="5 4"/>
<circle cx="1982.7" cy="94.2" r="6.3" fill="none" stroke-width="2.4" stroke-dasharray="5 4"/>
<circle cx="2053.8" cy="92.9" r="6.3" fill="none" stroke-width="2.4" stroke-dasharray="5 4"/>
<circle cx="2101.9" cy="94.0" r="6.3" fill="none" stroke-width="2.4" stroke-dasharray="5 4"/>
<circle cx="2208.0" cy="93.8" r="6.3" fill="none" stroke-width="2.4" stroke-dasharray="5 4"/>
<circle cx="2348.9" cy="93.6" r="6.3" fill="none" stroke-width="2.4" stroke-dasharray="5 4"/>
<path d="M2263.9 283.1 L2264.1 449.5" fill="none" stroke-width="3.0"/>
<path d="M2040.6 344.7 L2083.7 344.6 L2083.7 384.8 L2040.7 384.9 Z" fill="none" stroke-width="1.8"/>
<path d="M2045.4 344.7 L2045.5 384.9" fill="none" stroke-width="1.8"/>
<path d="M2050.2 344.7 L2050.3 384.9" fill="none" stroke-width="1.8"/>
<path d="M2055.0 344.7 L2055.0 384.9" fill="none" stroke-width="1.8"/>
<path d="M2059.7 344.7 L2059.8 384.8" fill="none" stroke-width="1.8"/>
<path d="M2064.5 344.7 L2064.6 384.8" fill="none" stroke-width="1.8"/>
<path d="M2069.3 344.7 L2069.4 384.8" fill="none" stroke-width="1.8"/>
<path d="M2074.1 344.6 L2074.2 384.8" fill="none" stroke-width="1.8"/>
<path d="M2078.9 344.6 L2078.9 384.8" fill="none" stroke-width="1.8"/>
<path d="M2040.7 364.8 L2083.7 364.7" fill="none" stroke-width="3.0"/>
<text class="h" x="2074.1" y="325.5" font-size="24.0" textLength="136.3" lengthAdjust="spacingAndGlyphs">Turbo-Dynamo-</text>
<text class="h" x="2112.5" y="414.9" font-size="24.0" textLength="52.6" lengthAdjust="spacingAndGlyphs">Raum</text>
<path d="M2263.9 309.4 L2535.6 309.0" fill="none" stroke-width="3.0"/>
<path d="M2267.7 316.6 L2535.6 316.1" fill="none" stroke-width="2.2" stroke-dasharray="46 8 5 8"/>
<path d="M2264.1 417.0 L2334.9 416.9 L2363.6 429.3 L2478.4 429.1 L2507.0 416.6 L2535.7 416.6" fill="none" stroke-width="3.0"/>
<path d="M2267.9 412.2 L2535.7 411.8" fill="none" stroke-width="2.2" stroke-dasharray="46 8 5 8"/>
<text class="h" x="2344.2" y="303.1" font-size="24.0" textLength="93.3" lengthAdjust="spacingAndGlyphs">Mittelgang</text>
<text class="h" x="2330.1" y="446.6" font-size="24.0" textLength="86.1" lengthAdjust="spacingAndGlyphs">Mittelgang</text>
<circle cx="2274.9" cy="298.4" r="4.8" fill="none" stroke-width="3.0"/>
<path d="M2263.9 287.9 L2263.9 307.0" fill="none" stroke-width="6.6"/>
<rect x="2359.6" y="337.9" width="33.6" height="57.3" rx="3.8" fill="none" stroke-width="2.4" stroke-dasharray="16 6 4 6"/>
<rect x="2413.7" y="340.2" width="36.0" height="54.9" rx="3.8" fill="none" stroke-width="2.4" stroke-dasharray="16 6 4 6"/>
<rect x="2360.8" y="180.1" width="33.6" height="55.9" rx="3.8" fill="none" stroke-width="2.4" stroke-dasharray="16 6 4 6"/>
<rect x="2413.4" y="180.0" width="38.4" height="55.9" rx="3.8" fill="none" stroke-width="2.4" stroke-dasharray="16 6 4 6"/>
<rect x="2359.9" y="500.6" width="32.6" height="55.9" rx="3.8" fill="none" stroke-width="2.4" stroke-dasharray="16 6 4 6"/>
<rect x="2413.9" y="500.5" width="36.0" height="55.9" rx="3.8" fill="none" stroke-width="2.4" stroke-dasharray="16 6 4 6"/>
<rect x="2175.7" y="180.4" width="43.1" height="44.4" rx="3.8" fill="none" stroke-width="2.4" stroke-dasharray="16 6 4 6"/>
<rect x="2173.4" y="510.4" width="42.2" height="46.3" rx="3.8" fill="none" stroke-width="2.4" stroke-dasharray="16 6 4 6"/>
<rect x="1985.3" y="180.8" width="47.9" height="44.4" rx="3.8" fill="none" stroke-width="2.4" stroke-dasharray="16 6 4 6"/>
<rect x="1985.9" y="510.8" width="45.5" height="46.3" rx="3.8" fill="none" stroke-width="2.4" stroke-dasharray="16 6 4 6"/>
<rect x="1985.6" y="338.6" width="45.5" height="57.3" rx="3.8" fill="none" stroke-width="2.4" stroke-dasharray="16 6 4 6"/>
<rect x="2279.7" y="336.6" width="31.1" height="20.5" rx="4.8" fill="none" stroke-width="2.4" stroke-dasharray="12 6"/>
<text class="h" x="2287.7" y="352.2" font-size="17.0" textLength="15.3" lengthAdjust="spacingAndGlyphs">Lz</text>
<rect x="2279.8" y="376.3" width="31.1" height="20.5" rx="4.8" fill="none" stroke-width="2.4" stroke-dasharray="12 6"/>
<text class="h" x="2287.7" y="391.9" font-size="17.0" textLength="15.3" lengthAdjust="spacingAndGlyphs">Lz</text>
<rect x="2502.1" y="337.7" width="29.7" height="20.5" rx="4.8" fill="none" stroke-width="2.4" stroke-dasharray="12 6"/>
<text class="h" x="2509.3" y="353.2" font-size="17.0" textLength="15.3" lengthAdjust="spacingAndGlyphs">Lz</text>
<rect x="2502.2" y="376.0" width="29.7" height="21.5" rx="4.8" fill="none" stroke-width="2.4" stroke-dasharray="12 6"/>
<text class="h" x="2509.4" y="392.0" font-size="17.0" textLength="15.3" lengthAdjust="spacingAndGlyphs">Lz</text>
<rect x="2249.4" y="221.9" width="23.0" height="30.1" rx="4.8" fill="none" stroke-width="2.4" stroke-dasharray="12 6"/>
<text class="h" x="2253.3" y="242.2" font-size="17.0" textLength="15.3" lengthAdjust="spacingAndGlyphs">Lz</text>
<rect x="2289.1" y="221.8" width="24.0" height="30.1" rx="4.8" fill="none" stroke-width="2.4" stroke-dasharray="12 6"/>
<text class="h" x="2293.4" y="242.2" font-size="17.0" textLength="15.3" lengthAdjust="spacingAndGlyphs">Lz</text>
<rect x="2249.9" y="483.0" width="22.1" height="30.6" rx="4.8" fill="none" stroke-width="2.4" stroke-dasharray="12 6"/>
<text class="h" x="2253.2" y="503.6" font-size="17.0" textLength="15.3" lengthAdjust="spacingAndGlyphs">Lz</text>
<rect x="2287.2" y="483.0" width="24.9" height="30.6" rx="4.8" fill="none" stroke-width="2.4" stroke-dasharray="12 6"/>
<text class="h" x="2292.0" y="503.5" font-size="17.0" textLength="15.3" lengthAdjust="spacingAndGlyphs">Lz</text>
<circle cx="2284.2" cy="174.0" r="5.7" fill="none" stroke-width="2.9"/>
<circle cx="2296.2" cy="186.4" r="5.7" fill="none" stroke-width="2.9"/>
<circle cx="2284.3" cy="200.8" r="5.7" fill="none" stroke-width="2.9"/>
<circle cx="2268.5" cy="194.6" r="5.7" fill="none" stroke-width="2.9"/>
<circle cx="2284.9" cy="534.2" r="5.7" fill="none" stroke-width="2.9"/>
<circle cx="2294.4" cy="547.1" r="5.7" fill="none" stroke-width="2.9"/>
<circle cx="2283.5" cy="561.4" r="5.7" fill="none" stroke-width="2.9"/>
<path d="M2263.7 201.8 L2267.7 292.7" fill="none" stroke-width="2.4" stroke-dasharray="16 7"/>
<path d="M2274.7 206.6 L2279.7 287.9" fill="none" stroke-width="2.4" stroke-dasharray="16 7"/>
<circle cx="2324.2" cy="330.8" r="5.3" fill="none" stroke-width="2.4" stroke-dasharray="6 4"/>
<text class="h" x="2332.3" y="336.6" font-size="20.0" textLength="21.5" lengthAdjust="spacingAndGlyphs">RA</text>
<circle cx="2483.1" cy="404.7" r="5.3" fill="none" stroke-width="2.4" stroke-dasharray="6 4"/>
<text class="h" x="2447.3" y="411.0" font-size="20.0" textLength="21.5" lengthAdjust="spacingAndGlyphs">RA</text>
<circle cx="2322.6" cy="226.6" r="3.8" fill="none" stroke-width="3.0"/>
<text class="h" x="2317.8" y="249.5" font-size="20.0" textLength="21.5" lengthAdjust="spacingAndGlyphs">NA</text>
<circle cx="2521.1" cy="246.8" r="4.8" fill="none" stroke-width="2.4" stroke-dasharray="6 4"/>
<text class="h" x="2485.2" y="254.0" font-size="21.0" textLength="23.9" lengthAdjust="spacingAndGlyphs">NA</text>
<circle cx="2323.1" cy="499.2" r="3.8" fill="none" stroke-width="3.0"/>
<text class="h" x="2330.2" y="502.0" font-size="20.0" textLength="21.5" lengthAdjust="spacingAndGlyphs">NA</text>
<circle cx="2520.6" cy="484.5" r="4.8" fill="none" stroke-width="2.4" stroke-dasharray="6 4"/>
<text class="h" x="2485.7" y="493.2" font-size="21.0" textLength="23.9" lengthAdjust="spacingAndGlyphs">NA</text>
<text class="h" x="2212.5" y="158.8" font-size="24.0" textLength="117.2" lengthAdjust="spacingAndGlyphs">II Kessel-R.</text>
<text class="h" x="2415.7" y="158.5" font-size="24.0" textLength="107.6" lengthAdjust="spacingAndGlyphs">III Kessel-R.</text>
<text class="h" x="2406.5" y="333.1" font-size="22.0" textLength="107.6" lengthAdjust="spacingAndGlyphs">III Kessel-R.</text>
<text class="h" x="2279.9" y="411.3" font-size="22.0" textLength="102.8" lengthAdjust="spacingAndGlyphs">II Kessel-R.</text>
<text class="h" x="2218.0" y="589.3" font-size="24.0" textLength="119.6" lengthAdjust="spacingAndGlyphs">III Kessel-R.</text>
<text class="h" x="2416.5" y="584.2" font-size="24.0" textLength="102.8" lengthAdjust="spacingAndGlyphs">III Kessel-R</text>
<path d="M2234.8 603.6 L2292.1 603.5 L2292.2 620.2 L2234.8 620.3 Z" fill="none" stroke-width="2.0"/>
<path d="M2239.5 603.6 L2239.6 620.3" fill="none" stroke-width="2.0"/>
<path d="M2244.3 603.6 L2244.3 620.3" fill="none" stroke-width="2.0"/>
<path d="M2249.1 603.6 L2249.1 620.3" fill="none" stroke-width="2.0"/>
<path d="M2253.9 603.6 L2253.9 620.3" fill="none" stroke-width="2.0"/>
<path d="M2258.7 603.6 L2258.7 620.3" fill="none" stroke-width="2.0"/>
<path d="M2263.5 603.5 L2263.5 620.3" fill="none" stroke-width="2.0"/>
<path d="M2268.2 603.5 L2268.3 620.3" fill="none" stroke-width="2.0"/>
<path d="M2273.0 603.5 L2273.0 620.3" fill="none" stroke-width="2.0"/>
<path d="M2277.8 603.5 L2277.8 620.3" fill="none" stroke-width="2.0"/>
<path d="M2282.6 603.5 L2282.6 620.3" fill="none" stroke-width="2.0"/>
<path d="M2287.4 603.5 L2287.4 620.2" fill="none" stroke-width="2.0"/>
<text class="h" x="2427.6" y="90.1" font-size="24.0" textLength="64.6" lengthAdjust="spacingAndGlyphs">Bunker</text>
<text class="h" x="2633.3" y="107.9" font-size="24.0" textLength="71.7" lengthAdjust="spacingAndGlyphs" transform="rotate(4.0 2633.3 107.9)">Schutz-</text>
<text class="h" x="2819.8" y="120.5" font-size="24.0" textLength="71.7" lengthAdjust="spacingAndGlyphs" transform="rotate(8.0 2819.8 120.5)">Bunker</text>
<text class="h" x="2055.5" y="660.3" font-size="24.0" textLength="64.6" lengthAdjust="spacingAndGlyphs">Bunker</text>
<text class="h" x="2242.0" y="658.6" font-size="24.0" textLength="71.7" lengthAdjust="spacingAndGlyphs">Schutz-</text>
<text class="h" x="2412.8" y="655.9" font-size="24.0" textLength="64.6" lengthAdjust="spacingAndGlyphs">Bunker</text>
<text class="h" x="2624.6" y="642.2" font-size="24.0" textLength="74.1" lengthAdjust="spacingAndGlyphs" transform="rotate(-3.0 2624.6 642.2)">Schutz-</text>
<text class="h" x="2827.8" y="626.5" font-size="24.0" textLength="71.7" lengthAdjust="spacingAndGlyphs" transform="rotate(-8.0 2827.8 626.5)">Bunker</text>
<path d="M2170.2 625.2 L2191.7 625.2 L2191.8 665.8 L2170.3 665.9 Z" fill="none" stroke-width="3.3"/>
<text class="h" x="2172.7" y="661.1" font-size="18.0" textLength="10.5" lengthAdjust="spacingAndGlyphs">N</text>
<circle cx="2178.4" cy="636.2" r="5.7" fill="none" stroke-width="2.4" stroke-dasharray="5 4"/>
<path d="M2545.7 619.8 L2567.2 619.8 L2567.2 660.4 L2545.7 660.5 Z" fill="none" stroke-width="3.3"/>
<text class="h" x="2548.1" y="656.6" font-size="18.0" textLength="10.5" lengthAdjust="spacingAndGlyphs">N</text>
<circle cx="2554.3" cy="631.7" r="5.7" fill="none" stroke-width="2.4" stroke-dasharray="5 4"/>
<path d="M2544.7 73.2 L2566.2 73.1 L2566.3 112.8 L2544.8 112.8 Z" fill="none" stroke-width="3.3"/>
<text class="h" x="2548.6" y="91.3" font-size="20.0" textLength="11.5" lengthAdjust="spacingAndGlyphs">N</text>
<circle cx="2554.3" cy="104.7" r="5.7" fill="none" stroke-width="2.4" stroke-dasharray="5 4"/>
<circle cx="2054.0" cy="639.8" r="5.7" fill="none" stroke-width="2.4" stroke-dasharray="5 4"/>
<circle cx="2100.9" cy="639.7" r="5.7" fill="none" stroke-width="2.4" stroke-dasharray="5 4"/>
<circle cx="2203.7" cy="641.0" r="5.7" fill="none" stroke-width="2.4" stroke-dasharray="5 4"/>
<circle cx="2343.9" cy="640.7" r="5.7" fill="none" stroke-width="2.4" stroke-dasharray="5 4"/>
<circle cx="2450.0" cy="639.1" r="5.7" fill="none" stroke-width="2.4" stroke-dasharray="5 4"/>
<circle cx="2520.8" cy="639.0" r="5.7" fill="none" stroke-width="2.4" stroke-dasharray="5 4"/>
<circle cx="2595.9" cy="635.5" r="5.7" fill="none" stroke-width="2.4" stroke-dasharray="5 4"/>
<circle cx="2742.7" cy="622.8" r="5.7" fill="none" stroke-width="2.4" stroke-dasharray="5 4"/>
<circle cx="2820.7" cy="616.9" r="5.7" fill="none" stroke-width="2.4" stroke-dasharray="5 4"/>
<circle cx="2937.8" cy="602.4" r="5.7" fill="none" stroke-width="2.4" stroke-dasharray="5 4"/>
<circle cx="2966.5" cy="596.6" r="5.7" fill="none" stroke-width="2.4" stroke-dasharray="5 4"/>
<circle cx="3005.7" cy="592.7" r="5.7" fill="none" stroke-width="2.4" stroke-dasharray="5 4"/>
<circle cx="2457.7" cy="97.2" r="5.7" fill="none" stroke-width="2.4" stroke-dasharray="5 4"/>
<circle cx="2525.6" cy="99.5" r="5.7" fill="none" stroke-width="2.4" stroke-dasharray="5 4"/>
<circle cx="2598.3" cy="106.5" r="5.7" fill="none" stroke-width="2.4" stroke-dasharray="5 4"/>
<circle cx="2745.7" cy="112.5" r="5.7" fill="none" stroke-width="2.4" stroke-dasharray="5 4"/>
<circle cx="2823.2" cy="121.9" r="5.7" fill="none" stroke-width="2.4" stroke-dasharray="5 4"/>
<circle cx="2940.8" cy="137.0" r="5.7" fill="none" stroke-width="2.4" stroke-dasharray="5 4"/>
<circle cx="2969.5" cy="143.2" r="5.7" fill="none" stroke-width="2.4" stroke-dasharray="5 4"/>
<circle cx="3005.4" cy="147.0" r="5.7" fill="none" stroke-width="2.4" stroke-dasharray="5 4"/>
<path d="M2626.3 123.2 L2626.8 368.5" fill="none" stroke-width="3.7"/>
<path d="M2626.3 613.4 L2626.8 368.1" fill="none" stroke-width="3.7"/>
<path d="M2540.9 159.5 L2561.3 159.5 L2561.4 186.0 L2579.5 186.0 L2590.3 212.5 L2590.4 245.0 L2580.8 247.4 L2580.8 272.7 L2570.0 272.7 L2570.0 281.2" fill="none" stroke-width="3.5"/>
<path d="M2540.9 577.1 L2561.3 577.1 L2561.4 550.6 L2579.5 550.6 L2590.3 524.1 L2590.4 491.6 L2580.8 489.2 L2580.8 463.9 L2570.0 463.9 L2570.0 455.4" fill="none" stroke-width="3.5"/>
<path d="M2540.9 205.3 L2580.7 205.3 L2580.7 220.9 L2541.0 221.0 Z" fill="none" stroke-width="3.5"/>
<path d="M2540.9 531.3 L2580.7 531.3 L2580.7 515.7 L2541.0 515.6 Z" fill="none" stroke-width="3.5"/>
<path d="M2541.0 227.0 L2586.8 226.9 L2586.8 241.4 L2541.0 241.5 Z" fill="none" stroke-width="3.5"/>
<path d="M2541.0 509.6 L2586.8 509.7 L2586.8 495.2 L2541.0 495.1 Z" fill="none" stroke-width="3.5"/>
<path d="M2541.0 247.5 L2580.8 247.4 L2580.8 260.7 L2541.0 260.7 Z" fill="none" stroke-width="3.5"/>
<path d="M2541.0 489.1 L2580.8 489.2 L2580.8 475.9 L2541.0 475.9 Z" fill="none" stroke-width="3.5"/>
<rect x="2549.4" y="210.6" width="21.7" height="5.5" rx="1.9" fill="none" stroke-width="2.6"/>
<rect x="2549.4" y="520.5" width="21.7" height="5.5" rx="1.9" fill="none" stroke-width="2.6"/>
<rect x="2548.2" y="231.8" width="24.1" height="5.3" rx="1.9" fill="none" stroke-width="2.6"/>
<rect x="2548.2" y="499.5" width="24.1" height="5.3" rx="1.9" fill="none" stroke-width="2.6"/>
<rect x="2549.4" y="251.6" width="20.5" height="4.8" rx="1.9" fill="none" stroke-width="2.6"/>
<rect x="2549.4" y="480.2" width="20.5" height="4.8" rx="1.9" fill="none" stroke-width="2.6"/>
<path d="M2596.5 281.1 L2596.4 241.4 L2608.4 226.9 L2626.5 225.7" fill="none" stroke-width="3.5"/>
<path d="M2596.5 455.5 L2596.4 495.2 L2608.4 509.7 L2626.5 510.9" fill="none" stroke-width="3.5"/>
<path d="M2602.5 251.0 L2620.5 251.0 L2620.6 267.8 L2602.5 267.9 Z" fill="none" stroke-width="4.4"/>
<path d="M2602.5 485.6 L2620.5 485.6 L2620.6 468.8 L2602.5 468.7 Z" fill="none" stroke-width="4.4"/>
<path d="M2574.5 120.9 L2574.6 140.2 L2605.9 143.8 L2626.4 147.3" fill="none" stroke-width="3.5"/>
<path d="M2574.5 615.7 L2574.6 596.4 L2605.9 592.8 L2626.4 589.3" fill="none" stroke-width="3.5"/>
<path d="M2575.7 122.1 L2602.2 122.1 L2602.3 138.9 L2575.8 139.0 Z" fill="none" stroke-width="2.0"/>
<path d="M2575.7 614.5 L2602.2 614.5 L2602.3 597.7 L2575.8 597.6 Z" fill="none" stroke-width="2.0"/>
<path d="M2579.5 122.1 L2579.5 139.0" fill="none" stroke-width="2.0"/>
<path d="M2579.5 614.5 L2579.5 597.6" fill="none" stroke-width="2.0"/>
<path d="M2583.3 122.1 L2583.3 139.0" fill="none" stroke-width="2.0"/>
<path d="M2583.3 614.5 L2583.3 597.6" fill="none" stroke-width="2.0"/>
<path d="M2587.1 122.1 L2587.1 139.0" fill="none" stroke-width="2.0"/>
<path d="M2587.1 614.5 L2587.1 597.6" fill="none" stroke-width="2.0"/>
<path d="M2590.9 122.1 L2590.9 139.0" fill="none" stroke-width="2.0"/>
<path d="M2590.9 614.5 L2590.9 597.6" fill="none" stroke-width="2.0"/>
<path d="M2594.7 122.1 L2594.7 139.0" fill="none" stroke-width="2.0"/>
<path d="M2594.7 614.5 L2594.7 597.6" fill="none" stroke-width="2.0"/>
<path d="M2598.5 122.1 L2598.5 139.0" fill="none" stroke-width="2.0"/>
<path d="M2598.5 614.5 L2598.5 597.6" fill="none" stroke-width="2.0"/>
<path d="M2593.9 148.6 L2593.9 194.4 L2626.5 194.3" fill="none" stroke-width="3.5"/>
<path d="M2593.9 588.0 L2593.9 542.2 L2626.5 542.3" fill="none" stroke-width="3.5"/>
<path d="M2593.9 170.3 L2626.4 170.2" fill="none" stroke-width="3.0"/>
<path d="M2593.9 566.3 L2626.4 566.4" fill="none" stroke-width="3.0"/>
<path d="M2609.6 173.9 L2609.6 190.7" fill="none" stroke-width="2.2" stroke-dasharray="16 7"/>
<path d="M2609.6 562.7 L2609.6 545.9" fill="none" stroke-width="2.2" stroke-dasharray="16 7"/>
<text class="h" x="2543.3" y="178.8" font-size="22.0" textLength="14.5" lengthAdjust="spacingAndGlyphs">A</text>
<text class="h" x="2606.1" y="265.4" font-size="19.0" textLength="11.6" lengthAdjust="spacingAndGlyphs">W</text>
<path d="M2544.7 294.5 L2555.1 294.5 L2555.1 305.3 L2544.7 305.3 Z" fill="none" stroke-width="3.9"/>
<path d="M2545.0 443.9 L2555.3 443.8 L2555.3 454.7 L2545.0 454.7 Z" fill="none" stroke-width="3.9"/>
<text class="h" x="2543.5" y="324.6" font-size="21.0" textLength="44.6" lengthAdjust="spacingAndGlyphs">Komm.-</text>
<text class="h" x="2606.2" y="304.0" font-size="19.0" textLength="9.6" lengthAdjust="spacingAndGlyphs">M</text>
<text class="h" x="2606.2" y="354.6" font-size="19.0" textLength="5.3" lengthAdjust="spacingAndGlyphs">T</text>
<circle cx="2608.6" cy="311.7" r="3.4" fill="none" stroke-width="2.4"/>
<circle cx="2609.1" cy="319.7" r="3.9" fill="none" stroke-width="2.4"/>
<circle cx="2608.6" cy="328.1" r="3.4" fill="none" stroke-width="2.4"/>
<path d="M2560.5 364.3 L2576.1 364.3 L2576.2 383.6 L2560.5 383.6 Z" fill="none" stroke-width="3.5"/>
<text class="h" x="2542.9" y="411.8" font-size="21.0" textLength="45.4" lengthAdjust="spacingAndGlyphs">Zentr.</text>
<path d="M2601.6 359.1 L2621.7 359.0 L2621.8 402.1 L2601.7 402.1 Z" fill="none" stroke-width="2.0"/>
<path d="M2601.7 363.8 L2621.7 363.8" fill="none" stroke-width="2.0"/>
<path d="M2601.7 368.6 L2621.7 368.6" fill="none" stroke-width="2.0"/>
<path d="M2601.7 373.4 L2621.8 373.4" fill="none" stroke-width="2.0"/>
<path d="M2601.7 378.2 L2621.8 378.2" fill="none" stroke-width="2.0"/>
<path d="M2601.7 383.0 L2621.8 382.9" fill="none" stroke-width="2.0"/>
<path d="M2601.7 387.8 L2621.8 387.7" fill="none" stroke-width="2.0"/>
<path d="M2601.7 392.5 L2621.8 392.5" fill="none" stroke-width="2.0"/>
<path d="M2601.7 397.3 L2621.8 397.3" fill="none" stroke-width="2.0"/>
<path d="M2601.7 414.1 L2621.8 414.0 L2621.9 447.5 L2601.8 447.5 Z" fill="none" stroke-width="2.0"/>
<path d="M2601.7 418.2 L2621.8 418.2" fill="none" stroke-width="2.0"/>
<path d="M2601.8 422.4 L2621.8 422.4" fill="none" stroke-width="2.0"/>
<path d="M2601.8 426.6 L2621.8 426.6" fill="none" stroke-width="2.0"/>
<path d="M2601.8 430.8 L2621.9 430.8" fill="none" stroke-width="2.0"/>
<path d="M2601.8 435.0 L2621.9 434.9" fill="none" stroke-width="2.0"/>
<path d="M2601.8 439.2 L2621.9 439.1" fill="none" stroke-width="2.0"/>
<path d="M2601.8 443.4 L2621.9 443.3" fill="none" stroke-width="2.0"/>
<path d="M2601.8 464.3 L2621.0 464.2 L2621.0 485.8 L2601.9 485.8 Z" fill="none" stroke-width="3.3"/>
<text class="h" x="2606.7" y="481.1" font-size="17.0" textLength="9.4" lengthAdjust="spacingAndGlyphs">W</text>
<path d="M2626.4 282.5 L2760.3 275.1 L2760.6 459.2 L2626.7 448.9 Z" fill="none" stroke-width="3.0"/>
<path d="M2632.1 288.2 L2760.3 281.3" fill="none" stroke-width="2.2"/>
<path d="M2632.4 444.1 L2760.6 453.5" fill="none" stroke-width="2.2"/>
<path d="M2632.1 288.2 L2632.4 444.1" fill="none" stroke-width="2.2"/>
<text class="h" x="2636.0" y="325.5" font-size="24.0" textLength="114.8" lengthAdjust="spacingAndGlyphs">38cm Pulv.-K.</text>
<text class="h" x="2672.1" y="421.1" font-size="24.0" textLength="47.8" lengthAdjust="spacingAndGlyphs">Nr. 10</text>
<text class="h" x="2635.8" y="191.6" font-size="24.0" textLength="78.9" lengthAdjust="spacingAndGlyphs">Raum f.</text>
<text class="h" x="2631.1" y="246.6" font-size="24.0" textLength="129.1" lengthAdjust="spacingAndGlyphs">Motor-Generat.</text>
<text class="h" x="2641.1" y="500.1" font-size="24.0" textLength="81.3" lengthAdjust="spacingAndGlyphs">Raum f.</text>
<text class="h" x="2631.6" y="559.9" font-size="24.0" textLength="117.2" lengthAdjust="spacingAndGlyphs">Motor-Generat.</text>
<path d="M2683.7 208.3 L2707.6 208.2 L2707.6 222.6 L2683.7 222.6 Z" fill="none" stroke-width="3.3"/>
<text class="h" x="2691.5" y="220.8" font-size="15.0" textLength="8.2" lengthAdjust="spacingAndGlyphs">A</text>
<path d="M2681.8 516.7 L2712.9 516.7 L2712.9 531.0 L2681.8 531.1 Z" fill="none" stroke-width="3.3"/>
<path d="M2748.2 177.1 L2762.5 177.0 L2762.6 205.7 L2748.2 205.8 Z" fill="none" stroke-width="3.3"/>
<text class="h" x="2751.1" y="197.2" font-size="16.0" textLength="8.6" lengthAdjust="spacingAndGlyphs">A</text>
<path d="M2763.1 531.0 L2746.4 531.0 L2746.4 559.7 L2763.2 559.7" fill="none" stroke-width="3.3"/>
<path d="M2591.0 545.6 L2612.5 545.6 L2612.5 564.7 L2591.0 564.7 Z" fill="none" stroke-width="2.0"/>
<path d="M2591.0 548.8 L2612.5 548.8" fill="none" stroke-width="2.0"/>
<path d="M2591.0 552.0 L2612.5 551.9" fill="none" stroke-width="2.0"/>
<path d="M2591.0 555.2 L2612.5 555.1" fill="none" stroke-width="2.0"/>
<path d="M2591.0 558.4 L2612.5 558.3" fill="none" stroke-width="2.0"/>
<path d="M2591.0 561.5 L2612.5 561.5" fill="none" stroke-width="2.0"/>
<path d="M2574.3 595.8 L2605.4 595.8 L2605.4 612.5 L2574.3 612.6 Z" fill="none" stroke-width="2.0"/>
<path d="M2578.8 595.8 L2578.8 612.6" fill="none" stroke-width="2.0"/>
<path d="M2583.2 595.8 L2583.2 612.6" fill="none" stroke-width="2.0"/>
<path d="M2587.6 595.8 L2587.7 612.6" fill="none" stroke-width="2.0"/>
<path d="M2592.1 595.8 L2592.1 612.6" fill="none" stroke-width="2.0"/>
<path d="M2596.5 595.8 L2596.5 612.5" fill="none" stroke-width="2.0"/>
<path d="M2601.0 595.8 L2601.0 612.5" fill="none" stroke-width="2.0"/>
<path d="M2827.7 559.5 L2833.5 559.5 L2833.5 579.6 L2827.8 579.6 Z" fill="none" stroke-width="3.3"/>
<path d="M2815.8 559.6 L2833.5 559.5 L2833.5 579.6 L2815.8 579.7 Z" fill="none" stroke-width="3.3"/>
<path d="M2767.3 165.1 L2929.9 177.7 L2930.1 271.5" fill="none" stroke-width="3.0"/>
<path d="M2768.0 574.0 L2928.2 557.0 L2928.0 466.1" fill="none" stroke-width="3.0"/>
<text class="h" x="2772.1" y="212.9" font-size="24.0" textLength="124.3" lengthAdjust="spacingAndGlyphs">38cm Pulv.-K.</text>
<text class="h" x="2812.8" y="244.9" font-size="24.0" textLength="52.6" lengthAdjust="spacingAndGlyphs">Nr. 29</text>
<text class="h" x="2771.2" y="503.2" font-size="24.0" textLength="112.4" lengthAdjust="spacingAndGlyphs">38cm Pulv.-K.</text>
<text class="h" x="2815.7" y="535.7" font-size="24.0" textLength="40.7" lengthAdjust="spacingAndGlyphs">Nr. 7</text>
<circle cx="2796.6" cy="516.6" r="4.8" fill="none" stroke-width="2.4" stroke-dasharray="6 4"/>
<text class="h" x="2765.1" y="296.6" font-size="20.0" textLength="38.3" lengthAdjust="spacingAndGlyphs">38cm</text>
<text class="h" x="2894.2" y="296.4" font-size="20.0" textLength="50.2" lengthAdjust="spacingAndGlyphs">Pulv.-K.</text>
<text class="h" x="2911.2" y="437.4" font-size="21.0" textLength="31.1" lengthAdjust="spacingAndGlyphs">Nr.8</text>
<text class="h" x="2961.2" y="320.2" font-size="24.0" textLength="114.8" lengthAdjust="spacingAndGlyphs">38cm Pulv.-K.</text>
<text class="h" x="2984.4" y="442.1" font-size="24.0" textLength="50.2" lengthAdjust="spacingAndGlyphs">Nr. 26</text>
<text class="h" x="2949.1" y="236.5" font-size="24.0" textLength="122.0" lengthAdjust="spacingAndGlyphs">Schalttafel-R.</text>
<text class="h" x="2949.6" y="510.6" font-size="24.0" textLength="133.9" lengthAdjust="spacingAndGlyphs">Schalttafel-R.</text>
<circle cx="2856.0" cy="368.3" r="76.0" fill="none" stroke-width="2.4" stroke-dasharray="22 6 4 6"/>
<circle cx="2856.0" cy="368.3" r="61.0" fill="none" stroke-width="2.6" stroke-dasharray="20 8"/>
<circle cx="2856.0" cy="368.3" r="39.5" fill="none" stroke-width="3.5"/>
<path d="M2855.9 302.3 L2856.1 434.3" fill="none" stroke-width="2.0" stroke-dasharray="18 5 3 5"/>
<circle cx="3203.0" cy="368.3" r="76.0" fill="none" stroke-width="2.4" stroke-dasharray="22 6 4 6"/>
<circle cx="3203.0" cy="368.3" r="61.0" fill="none" stroke-width="2.6" stroke-dasharray="20 8"/>
<circle cx="3203.0" cy="368.3" r="39.5" fill="none" stroke-width="3.5"/>
<path d="M3202.9 302.3 L3203.1 434.3" fill="none" stroke-width="2.0" stroke-dasharray="18 5 3 5"/>
<path d="M2805.7 266.9 L2818.6 266.9 L2818.7 301.3 L2805.8 301.3 Z" fill="none" stroke-width="3.3"/>
<path d="M2804.6 432.8 L2817.9 432.8 L2818.0 466.3 L2804.6 466.3 Z" fill="none" stroke-width="3.3"/>
<path d="M2876.0 266.8 L2893.2 266.7 L2884.7 294.0 L2875.1 289.2 Z" fill="none" stroke-width="3.3"/>
<path d="M2873.0 439.9 L2887.3 437.5 L2890.7 466.2 L2877.8 466.2 Z" fill="none" stroke-width="3.3"/>
<path d="M2760.4 332.5 L2789.1 342.0 L2785.3 353.0 L2758.0 343.5 Z" fill="none" stroke-width="3.3"/>
<path d="M2927.7 311.6 L2955.5 311.6 L2955.5 322.6 L2927.8 322.6 Z" fill="none" stroke-width="3.3"/>
<path d="M2894.5 437.5 L2911.2 437.4 L2911.2 456.6 L2894.5 456.6 Z" fill="none" stroke-width="2.6" stroke-dasharray="8 5"/>
<text class="h" x="2898.2" y="453.2" font-size="17.0" textLength="9.4" lengthAdjust="spacingAndGlyphs">N</text>
<path d="M3014.5 169.4 L3014.6 186.2" fill="none" stroke-width="2.0"/>
<path d="M3020.3 169.4 L3020.3 186.2" fill="none" stroke-width="2.0"/>
<path d="M3026.0 169.4 L3026.1 186.2" fill="none" stroke-width="2.0"/>
<path d="M3031.8 169.4 L3031.8 186.2" fill="none" stroke-width="2.0"/>
<path d="M3047.1 174.2 L3075.8 174.1 L3075.8 191.8 L3047.1 191.9 Z" fill="none" stroke-width="2.0"/>
<path d="M3051.2 174.2 L3051.2 191.9" fill="none" stroke-width="2.0"/>
<path d="M3055.3 174.2 L3055.3 191.8" fill="none" stroke-width="2.0"/>
<path d="M3059.4 174.1 L3059.4 191.8" fill="none" stroke-width="2.0"/>
<path d="M3063.5 174.1 L3063.5 191.8" fill="none" stroke-width="2.0"/>
<path d="M3067.6 174.1 L3067.6 191.8" fill="none" stroke-width="2.0"/>
<path d="M3071.7 174.1 L3071.7 191.8" fill="none" stroke-width="2.0"/>
<path d="M3015.2 552.1 L3015.2 566.4" fill="none" stroke-width="2.0"/>
<path d="M3020.9 552.0 L3021.0 566.4" fill="none" stroke-width="2.0"/>
<path d="M3026.7 552.0 L3026.7 566.4" fill="none" stroke-width="2.0"/>
<path d="M3032.4 552.0 L3032.4 566.4" fill="none" stroke-width="2.0"/>
<path d="M3042.9 544.8 L3074.0 544.8 L3074.0 563.9 L3043.0 564.0 Z" fill="none" stroke-width="2.0"/>
<path d="M3047.4 544.8 L3047.4 564.0" fill="none" stroke-width="2.0"/>
<path d="M3051.8 544.8 L3051.8 563.9" fill="none" stroke-width="2.0"/>
<path d="M3056.2 544.8 L3056.3 563.9" fill="none" stroke-width="2.0"/>
<path d="M3060.7 544.8 L3060.7 563.9" fill="none" stroke-width="2.0"/>
<path d="M3065.1 544.8 L3065.2 563.9" fill="none" stroke-width="2.0"/>
<path d="M3069.6 544.8 L3069.6 563.9" fill="none" stroke-width="2.0"/>
<path d="M3006.8 392.8 L3025.9 392.8 L3026.0 410.0 L3006.8 410.0 Z" fill="none" stroke-width="4.4"/>
<text class="h" x="3012.3" y="406.8" font-size="15.0" textLength="8.2" lengthAdjust="spacingAndGlyphs">A</text>
<text class="h" x="3041.7" y="406.1" font-size="19.0" textLength="12.0" lengthAdjust="spacingAndGlyphs">M</text>
<path d="M3059.4 394.1 L3078.5 394.1 L3078.6 410.9 L3059.4 410.9 Z" fill="none" stroke-width="2.6" stroke-dasharray="8 5"/>
<text class="h" x="3064.9" y="407.9" font-size="15.0" textLength="8.2" lengthAdjust="spacingAndGlyphs">N</text>
<path d="M2953.7 120.3 L2980.0 120.2 L2980.1 155.2 L2953.8 155.2 Z" fill="none" stroke-width="3.3"/>
<text class="h" x="2958.5" y="128.9" font-size="18.0" textLength="12.0" lengthAdjust="spacingAndGlyphs">N</text>
<circle cx="2968.1" cy="142.3" r="5.7" fill="none" stroke-width="2.4" stroke-dasharray="5 4"/>
<path d="M2952.1 585.6 L2978.4 585.6 L2978.5 619.1 L2952.2 619.1 Z" fill="none" stroke-width="3.3"/>
<circle cx="2966.5" cy="596.6" r="5.7" fill="none" stroke-width="2.4" stroke-dasharray="5 4"/>
<path d="M3141.6 181.5 L3142.3 558.0" fill="none" stroke-width="3.0"/>
<path d="M3111.9 197.9 L3139.5 197.8 L3139.5 222.2 L3111.9 222.2 Z" fill="none" stroke-width="3.3"/>
<text class="h" x="3121.0" y="216.1" font-size="17.0" textLength="9.4" lengthAdjust="spacingAndGlyphs">A</text>
<path d="M3118.9 228.7 L3139.5 228.7 L3139.6 252.0 L3119.0 252.0 Z" fill="none" stroke-width="3.3"/>
<text class="h" x="3125.1" y="245.8" font-size="15.0" textLength="8.2" lengthAdjust="spacingAndGlyphs">W</text>
<path d="M3112.4 515.8 L3136.8 515.8 L3136.8 540.7 L3112.4 540.8 Z" fill="none" stroke-width="3.3"/>
<text class="h" x="3119.9" y="534.4" font-size="17.0" textLength="9.4" lengthAdjust="spacingAndGlyphs">A</text>
<path d="M3120.5 490.4 L3140.0 490.3 L3140.0 513.6 L3120.5 513.7 Z" fill="none" stroke-width="3.3"/>
<text class="h" x="3126.1" y="507.4" font-size="15.0" textLength="8.2" lengthAdjust="spacingAndGlyphs">W</text>
<path d="M3106.6 308.9 L3138.0 308.9 L3138.1 322.4 L3106.6 322.5 Z" fill="none" stroke-width="3.3"/>
<path d="M3105.7 417.3 L3135.5 417.2 L3135.5 429.7 L3105.7 429.7 Z" fill="none" stroke-width="3.3"/>
<text class="h" x="3145.0" y="233.0" font-size="22.0" textLength="113.8" lengthAdjust="spacingAndGlyphs">38cm Pulv.-K.</text>
<text class="h" x="3178.6" y="253.5" font-size="22.0" textLength="51.5" lengthAdjust="spacingAndGlyphs">Nr. 23</text>
<text class="h" x="3145.4" y="494.1" font-size="22.0" textLength="114.8" lengthAdjust="spacingAndGlyphs">38cm Pulv.-K.</text>
<text class="h" x="3176.3" y="514.6" font-size="22.0" textLength="46.0" lengthAdjust="spacingAndGlyphs">Nr. 21</text>
<text class="h" x="3112.6" y="298.1" font-size="21.0" textLength="75.8" lengthAdjust="spacingAndGlyphs">38cm Pulv.</text>
<text class="h" x="3265.3" y="297.8" font-size="22.0" textLength="15.2" lengthAdjust="spacingAndGlyphs">K.</text>
<text class="h" x="3116.6" y="451.4" font-size="21.0" textLength="56.9" lengthAdjust="spacingAndGlyphs">Nr. 22a</text>
<text class="h" x="3118.1" y="358.7" font-size="20.0" textLength="16.3" lengthAdjust="spacingAndGlyphs">M</text>
<path d="M3178.6 270.9 L3190.5 270.8 L3201.4 292.5 L3190.6 296.9 Z" fill="none" stroke-width="3.3"/>
<path d="M3246.3 269.7 L3260.9 270.7 L3250.2 306.0 L3238.3 302.2 Z" fill="none" stroke-width="3.3"/>
<path d="M3180.0 438.8 L3192.4 438.8 L3190.9 470.2 L3178.9 470.2 Z" fill="none" stroke-width="3.3"/>
<path d="M3227.6 436.0 L3238.5 430.6 L3253.7 459.3 L3242.9 464.7 Z" fill="none" stroke-width="2.6"/>
<path d="M3187.1 461.5 L3254.8 461.4" fill="none" stroke-width="2.2" stroke-dasharray="16 7"/>
<text class="h" x="3044.1" y="151.9" font-size="24.0" textLength="132.7" lengthAdjust="spacingAndGlyphs" transform="rotate(11.0 3044.1 151.9)">Schutzbunker</text>
<text class="h" x="3061.1" y="595.0" font-size="24.0" textLength="132.7" lengthAdjust="spacingAndGlyphs" transform="rotate(-11.0 3061.1 595.0)">Schutzbunker</text>
<circle cx="3005.0" cy="145.5" r="5.7" fill="none" stroke-width="2.4" stroke-dasharray="5 4"/>
<circle cx="3241.8" cy="186.8" r="5.7" fill="none" stroke-width="2.4" stroke-dasharray="5 4"/>
<circle cx="3135.1" cy="170.7" r="5.7" fill="none" stroke-width="2.4" stroke-dasharray="5 4"/>
<circle cx="3005.8" cy="593.5" r="5.7" fill="none" stroke-width="2.4" stroke-dasharray="5 4"/>
<circle cx="3238.7" cy="552.5" r="5.7" fill="none" stroke-width="2.4" stroke-dasharray="5 4"/>
<circle cx="3183.4" cy="530.9" r="5.7" fill="none" stroke-width="2.4" stroke-dasharray="5 4"/>
<path d="M0.0 368.3 L4225.0 368.3" fill="none" stroke-width="2.4" stroke-dasharray="40 7 4 7"/>
<path d="M36.0 360.3 L36.0 371.3" fill="none" stroke-width="2.2"/>
<path d="M63.9 360.3 L63.9 371.3" fill="none" stroke-width="2.2"/>
<text class="h" x="58.0" y="384.8" font-size="16.0" textLength="8.0" lengthAdjust="spacingAndGlyphs">2</text>
<path d="M91.9 360.3 L91.9 371.3" fill="none" stroke-width="2.2"/>
<path d="M119.9 360.3 L119.9 371.3" fill="none" stroke-width="2.2"/>
<text class="h" x="113.9" y="384.8" font-size="16.0" textLength="8.0" lengthAdjust="spacingAndGlyphs">4</text>
<path d="M147.8 360.3 L147.9 371.3" fill="none" stroke-width="2.2"/>
<path d="M175.8 360.3 L175.8 371.3" fill="none" stroke-width="2.2"/>
<text class="h" x="169.8" y="384.8" font-size="16.0" textLength="8.0" lengthAdjust="spacingAndGlyphs">6</text>
<path d="M203.8 360.3 L203.8 371.3" fill="none" stroke-width="2.2"/>
<path d="M231.7 360.3 L231.8 371.3" fill="none" stroke-width="2.2"/>
<text class="h" x="225.8" y="384.8" font-size="16.0" textLength="8.0" lengthAdjust="spacingAndGlyphs">8</text>
<path d="M259.7 360.3 L259.7 371.3" fill="none" stroke-width="2.2"/>
<path d="M287.7 360.3 L287.7 371.3" fill="none" stroke-width="2.2"/>
<text class="h" x="277.7" y="384.8" font-size="16.0" textLength="16.0" lengthAdjust="spacingAndGlyphs">10</text>
<path d="M315.7 360.3 L315.7 371.3" fill="none" stroke-width="2.2"/>
<path d="M343.6 360.3 L343.6 371.3" fill="none" stroke-width="2.2"/>
<text class="h" x="333.7" y="384.8" font-size="16.0" textLength="16.0" lengthAdjust="spacingAndGlyphs">12</text>
<path d="M371.6 360.3 L371.6 371.3" fill="none" stroke-width="2.2"/>
<path d="M399.6 360.3 L399.6 371.3" fill="none" stroke-width="2.2"/>
<text class="h" x="389.6" y="384.8" font-size="16.0" textLength="16.0" lengthAdjust="spacingAndGlyphs">14</text>
<path d="M427.5 360.3 L427.6 371.3" fill="none" stroke-width="2.2"/>
<path d="M455.5 360.3 L455.5 371.3" fill="none" stroke-width="2.2"/>
<text class="h" x="445.5" y="384.8" font-size="16.0" textLength="16.0" lengthAdjust="spacingAndGlyphs">16</text>
<path d="M483.5 360.3 L483.5 371.3" fill="none" stroke-width="2.2"/>
<path d="M511.4 360.3 L511.5 371.3" fill="none" stroke-width="2.2"/>
<text class="h" x="501.5" y="384.8" font-size="16.0" textLength="16.0" lengthAdjust="spacingAndGlyphs">18</text>
<path d="M539.4 360.3 L539.4 371.3" fill="none" stroke-width="2.2"/>
<path d="M567.4 360.3 L567.4 371.3" fill="none" stroke-width="2.2"/>
<text class="h" x="557.4" y="384.8" font-size="16.0" textLength="16.0" lengthAdjust="spacingAndGlyphs">20</text>
<path d="M595.4 360.3 L595.4 371.3" fill="none" stroke-width="2.2"/>
<path d="M623.3 360.3 L623.3 371.3" fill="none" stroke-width="2.2"/>
<text class="h" x="613.4" y="384.8" font-size="16.0" textLength="16.0" lengthAdjust="spacingAndGlyphs">22</text>
<path d="M651.3 360.3 L651.3 371.3" fill="none" stroke-width="2.2"/>
<path d="M679.3 360.3 L679.3 371.3" fill="none" stroke-width="2.2"/>
<text class="h" x="669.3" y="384.8" font-size="16.0" textLength="16.0" lengthAdjust="spacingAndGlyphs">24</text>
<path d="M707.2 360.3 L707.3 371.3" fill="none" stroke-width="2.2"/>
<path d="M735.2 360.3 L735.2 371.3" fill="none" stroke-width="2.2"/>
<text class="h" x="725.3" y="384.8" font-size="16.0" textLength="16.0" lengthAdjust="spacingAndGlyphs">26</text>
<path d="M763.2 360.3 L763.2 371.3" fill="none" stroke-width="2.2"/>
<path d="M791.1 360.3 L791.2 371.3" fill="none" stroke-width="2.2"/>
<text class="h" x="781.2" y="384.8" font-size="16.0" textLength="16.0" lengthAdjust="spacingAndGlyphs">28</text>
<path d="M819.1 360.3 L819.1 371.3" fill="none" stroke-width="2.2"/>
<path d="M847.1 360.3 L847.1 371.3" fill="none" stroke-width="2.2"/>
<text class="h" x="837.1" y="384.8" font-size="16.0" textLength="16.0" lengthAdjust="spacingAndGlyphs">30</text>
<path d="M875.1 360.3 L875.1 371.3" fill="none" stroke-width="2.2"/>
<path d="M903.0 360.3 L903.0 371.3" fill="none" stroke-width="2.2"/>
<text class="h" x="893.1" y="384.8" font-size="16.0" textLength="16.0" lengthAdjust="spacingAndGlyphs">32</text>
<path d="M931.0 360.3 L931.0 371.3" fill="none" stroke-width="2.2"/>
<path d="M959.0 360.3 L959.0 371.3" fill="none" stroke-width="2.2"/>
<text class="h" x="949.0" y="384.8" font-size="16.0" textLength="16.0" lengthAdjust="spacingAndGlyphs">34</text>
<path d="M986.9 360.3 L987.0 371.3" fill="none" stroke-width="2.2"/>
<path d="M1014.9 360.3 L1014.9 371.3" fill="none" stroke-width="2.2"/>
<text class="h" x="1005.0" y="384.8" font-size="16.0" textLength="16.0" lengthAdjust="spacingAndGlyphs">36</text>
<path d="M1042.9 360.3 L1042.9 371.3" fill="none" stroke-width="2.2"/>
<path d="M1070.8 360.3 L1070.9 371.3" fill="none" stroke-width="2.2"/>
<text class="h" x="1060.9" y="384.8" font-size="16.0" textLength="16.0" lengthAdjust="spacingAndGlyphs">38</text>
<path d="M1098.8 360.3 L1098.8 371.3" fill="none" stroke-width="2.2"/>
<path d="M1126.8 360.3 L1126.8 371.3" fill="none" stroke-width="2.2"/>
<text class="h" x="1116.8" y="384.8" font-size="16.0" textLength="16.0" lengthAdjust="spacingAndGlyphs">40</text>
<path d="M1154.8 360.3 L1154.8 371.3" fill="none" stroke-width="2.2"/>
<path d="M1182.7 360.3 L1182.7 371.3" fill="none" stroke-width="2.2"/>
<text class="h" x="1172.8" y="384.8" font-size="16.0" textLength="16.0" lengthAdjust="spacingAndGlyphs">42</text>
<path d="M1210.7 360.3 L1210.7 371.3" fill="none" stroke-width="2.2"/>
<path d="M1238.7 360.3 L1238.7 371.3" fill="none" stroke-width="2.2"/>
<text class="h" x="1228.7" y="384.8" font-size="16.0" textLength="16.0" lengthAdjust="spacingAndGlyphs">44</text>
<path d="M1266.6 360.3 L1266.7 371.3" fill="none" stroke-width="2.2"/>
<path d="M1294.6 360.3 L1294.6 371.3" fill="none" stroke-width="2.2"/>
<text class="h" x="1284.7" y="384.8" font-size="16.0" textLength="16.0" lengthAdjust="spacingAndGlyphs">46</text>
<path d="M1322.6 360.3 L1322.6 371.3" fill="none" stroke-width="2.2"/>
<path d="M1350.6 360.3 L1350.6 371.3" fill="none" stroke-width="2.2"/>
<text class="h" x="1340.6" y="384.8" font-size="16.0" textLength="16.0" lengthAdjust="spacingAndGlyphs">48</text>
<path d="M1378.5 360.3 L1378.5 371.3" fill="none" stroke-width="2.2"/>
<path d="M1406.5 360.3 L1406.5 371.3" fill="none" stroke-width="2.2"/>
<text class="h" x="1396.5" y="384.8" font-size="16.0" textLength="16.0" lengthAdjust="spacingAndGlyphs">50</text>
<path d="M1434.5 360.3 L1434.5 371.3" fill="none" stroke-width="2.2"/>
<path d="M1462.4 360.3 L1462.4 371.3" fill="none" stroke-width="2.2"/>
<text class="h" x="1452.5" y="384.8" font-size="16.0" textLength="16.0" lengthAdjust="spacingAndGlyphs">52</text>
<path d="M1490.4 360.3 L1490.4 371.3" fill="none" stroke-width="2.2"/>
<path d="M1518.4 360.3 L1518.4 371.3" fill="none" stroke-width="2.2"/>
<text class="h" x="1508.4" y="384.8" font-size="16.0" textLength="16.0" lengthAdjust="spacingAndGlyphs">54</text>
<path d="M1546.3 360.3 L1546.4 371.3" fill="none" stroke-width="2.2"/>
<path d="M1574.3 360.3 L1574.3 371.3" fill="none" stroke-width="2.2"/>
<text class="h" x="1564.4" y="384.8" font-size="16.0" textLength="16.0" lengthAdjust="spacingAndGlyphs">56</text>
<path d="M1602.3 360.3 L1602.3 371.3" fill="none" stroke-width="2.2"/>
<path d="M1630.3 360.3 L1630.3 371.3" fill="none" stroke-width="2.2"/>
<text class="h" x="1620.3" y="384.8" font-size="16.0" textLength="16.0" lengthAdjust="spacingAndGlyphs">58</text>
<path d="M1658.2 360.3 L1658.2 371.3" fill="none" stroke-width="2.2"/>
<path d="M1686.2 360.3 L1686.2 371.3" fill="none" stroke-width="2.2"/>
<text class="h" x="1676.2" y="384.8" font-size="16.0" textLength="16.0" lengthAdjust="spacingAndGlyphs">60</text>
<path d="M1714.2 360.3 L1714.2 371.3" fill="none" stroke-width="2.2"/>
<path d="M1742.1 360.3 L1742.2 371.3" fill="none" stroke-width="2.2"/>
<text class="h" x="1732.2" y="384.8" font-size="16.0" textLength="16.0" lengthAdjust="spacingAndGlyphs">62</text>
<path d="M1770.1 360.3 L1770.1 371.3" fill="none" stroke-width="2.2"/>
<path d="M1798.1 360.3 L1798.1 371.3" fill="none" stroke-width="2.2"/>
<text class="h" x="1788.1" y="384.8" font-size="16.0" textLength="16.0" lengthAdjust="spacingAndGlyphs">64</text>
<path d="M1826.0 360.3 L1826.1 371.3" fill="none" stroke-width="2.2"/>
<path d="M1854.0 360.3 L1854.0 371.3" fill="none" stroke-width="2.2"/>
<text class="h" x="1844.1" y="384.8" font-size="16.0" textLength="16.0" lengthAdjust="spacingAndGlyphs">66</text>
<path d="M1882.0 360.3 L1882.0 371.3" fill="none" stroke-width="2.2"/>
<path d="M1910.0 360.3 L1910.0 371.3" fill="none" stroke-width="2.2"/>
<text class="h" x="1900.0" y="384.8" font-size="16.0" textLength="16.0" lengthAdjust="spacingAndGlyphs">68</text>
<path d="M1937.9 360.3 L1937.9 371.3" fill="none" stroke-width="2.2"/>
<path d="M1965.9 360.3 L1965.9 371.3" fill="none" stroke-width="2.2"/>
<text class="h" x="1955.9" y="384.8" font-size="16.0" textLength="16.0" lengthAdjust="spacingAndGlyphs">70</text>
<path d="M1993.9 360.3 L1993.9 371.3" fill="none" stroke-width="2.2"/>
<path d="M2021.8 360.3 L2021.9 371.3" fill="none" stroke-width="2.2"/>
<text class="h" x="2011.9" y="384.8" font-size="16.0" textLength="16.0" lengthAdjust="spacingAndGlyphs">72</text>
<path d="M2049.8 360.3 L2049.8 371.3" fill="none" stroke-width="2.2"/>
<path d="M2077.8 360.3 L2077.8 371.3" fill="none" stroke-width="2.2"/>
<text class="h" x="2067.8" y="384.8" font-size="16.0" textLength="16.0" lengthAdjust="spacingAndGlyphs">74</text>
<path d="M2105.7 360.3 L2105.8 371.3" fill="none" stroke-width="2.2"/>
<path d="M2133.7 360.3 L2133.7 371.3" fill="none" stroke-width="2.2"/>
<text class="h" x="2123.8" y="384.8" font-size="16.0" textLength="16.0" lengthAdjust="spacingAndGlyphs">76</text>
<path d="M2161.7 360.3 L2161.7 371.3" fill="none" stroke-width="2.2"/>
<path d="M2189.7 360.3 L2189.7 371.3" fill="none" stroke-width="2.2"/>
<text class="h" x="2179.7" y="384.8" font-size="16.0" textLength="16.0" lengthAdjust="spacingAndGlyphs">78</text>
<path d="M2217.6 360.3 L2217.6 371.3" fill="none" stroke-width="2.2"/>
<path d="M2245.6 360.3 L2245.6 371.3" fill="none" stroke-width="2.2"/>
<text class="h" x="2235.6" y="384.8" font-size="16.0" textLength="16.0" lengthAdjust="spacingAndGlyphs">80</text>
<path d="M2273.6 360.3 L2273.6 371.3" fill="none" stroke-width="2.2"/>
<path d="M2301.5 360.3 L2301.6 371.3" fill="none" stroke-width="2.2"/>
<text class="h" x="2291.6" y="384.8" font-size="16.0" textLength="16.0" lengthAdjust="spacingAndGlyphs">82</text>
<path d="M2329.5 360.3 L2329.5 371.3" fill="none" stroke-width="2.2"/>
<path d="M2357.5 360.3 L2357.5 371.3" fill="none" stroke-width="2.2"/>
<text class="h" x="2347.5" y="384.8" font-size="16.0" textLength="16.0" lengthAdjust="spacingAndGlyphs">84</text>
<path d="M2385.4 360.3 L2385.5 371.3" fill="none" stroke-width="2.2"/>
<path d="M2413.4 360.3 L2413.4 371.3" fill="none" stroke-width="2.2"/>
<text class="h" x="2403.5" y="384.8" font-size="16.0" textLength="16.0" lengthAdjust="spacingAndGlyphs">86</text>
<path d="M2441.4 360.3 L2441.4 371.3" fill="none" stroke-width="2.2"/>
<path d="M2469.4 360.3 L2469.4 371.3" fill="none" stroke-width="2.2"/>
<text class="h" x="2459.4" y="384.8" font-size="16.0" textLength="16.0" lengthAdjust="spacingAndGlyphs">88</text>
<path d="M2497.3 360.3 L2497.3 371.3" fill="none" stroke-width="2.2"/>
<path d="M2525.3 360.3 L2525.3 371.3" fill="none" stroke-width="2.2"/>
<text class="h" x="2515.3" y="384.8" font-size="16.0" textLength="16.0" lengthAdjust="spacingAndGlyphs">90</text>
<path d="M2553.3 360.3 L2553.3 371.3" fill="none" stroke-width="2.2"/>
<path d="M2581.2 360.3 L2581.3 371.3" fill="none" stroke-width="2.2"/>
<text class="h" x="2571.3" y="384.8" font-size="16.0" textLength="16.0" lengthAdjust="spacingAndGlyphs">92</text>
<path d="M2609.2 360.3 L2609.2 371.3" fill="none" stroke-width="2.2"/>
<path d="M2637.2 360.3 L2637.2 371.3" fill="none" stroke-width="2.2"/>
<text class="h" x="2627.2" y="384.8" font-size="16.0" textLength="16.0" lengthAdjust="spacingAndGlyphs">94</text>
<path d="M2665.1 360.3 L2665.2 371.3" fill="none" stroke-width="2.2"/>
<path d="M2693.1 360.3 L2693.1 371.3" fill="none" stroke-width="2.2"/>
<text class="h" x="2683.2" y="384.8" font-size="16.0" textLength="16.0" lengthAdjust="spacingAndGlyphs">96</text>
<path d="M2721.1 360.3 L2721.1 371.3" fill="none" stroke-width="2.2"/>
<path d="M2749.1 360.3 L2749.1 371.3" fill="none" stroke-width="2.2"/>
<text class="h" x="2739.1" y="384.8" font-size="16.0" textLength="16.0" lengthAdjust="spacingAndGlyphs">98</text>
<path d="M2777.0 360.3 L2777.0 371.3" fill="none" stroke-width="2.2"/>
<path d="M2805.0 360.3 L2805.0 371.3" fill="none" stroke-width="2.2"/>
<text class="h" x="2791.5" y="384.8" font-size="16.0" textLength="23.0" lengthAdjust="spacingAndGlyphs">100</text>
<path d="M2833.0 360.3 L2833.0 371.3" fill="none" stroke-width="2.2"/>
<path d="M2860.9 360.3 L2861.0 371.3" fill="none" stroke-width="2.2"/>
<text class="h" x="2847.5" y="384.8" font-size="16.0" textLength="23.0" lengthAdjust="spacingAndGlyphs">102</text>
<path d="M2888.9 360.3 L2888.9 371.3" fill="none" stroke-width="2.2"/>
<path d="M2916.9 360.3 L2916.9 371.3" fill="none" stroke-width="2.2"/>
<text class="h" x="2903.4" y="384.8" font-size="16.0" textLength="23.0" lengthAdjust="spacingAndGlyphs">104</text>
<path d="M2944.8 360.3 L2944.9 371.3" fill="none" stroke-width="2.2"/>
<path d="M2972.8 360.3 L2972.8 371.3" fill="none" stroke-width="2.2"/>
<text class="h" x="2959.4" y="384.8" font-size="16.0" textLength="23.0" lengthAdjust="spacingAndGlyphs">106</text>
<path d="M3000.8 360.3 L3000.8 371.3" fill="none" stroke-width="2.2"/>
<path d="M3028.8 360.3 L3028.8 371.3" fill="none" stroke-width="2.2"/>
<text class="h" x="3015.3" y="384.8" font-size="16.0" textLength="23.0" lengthAdjust="spacingAndGlyphs">108</text>
<path d="M3056.7 360.3 L3056.7 371.3" fill="none" stroke-width="2.2"/>
<path d="M3084.7 360.3 L3084.7 371.3" fill="none" stroke-width="2.2"/>
<text class="h" x="3071.2" y="384.8" font-size="16.0" textLength="23.0" lengthAdjust="spacingAndGlyphs">110</text>
<path d="M3112.7 360.3 L3112.7 371.3" fill="none" stroke-width="2.2"/>
<path d="M3140.6 360.3 L3140.7 371.3" fill="none" stroke-width="2.2"/>
<text class="h" x="3127.2" y="384.8" font-size="16.0" textLength="23.0" lengthAdjust="spacingAndGlyphs">112</text>
<path d="M3168.6 360.3 L3168.6 371.3" fill="none" stroke-width="2.2"/>
<path d="M3196.6 360.3 L3196.6 371.3" fill="none" stroke-width="2.2"/>
<text class="h" x="3183.1" y="384.8" font-size="16.0" textLength="23.0" lengthAdjust="spacingAndGlyphs">114</text>
<path d="M3224.5 360.3 L3224.6 371.3" fill="none" stroke-width="2.2"/>
<path d="M3252.5 360.3 L3252.5 371.3" fill="none" stroke-width="2.2"/>
<text class="h" x="3239.1" y="384.8" font-size="16.0" textLength="23.0" lengthAdjust="spacingAndGlyphs">116</text>
<path d="M3280.5 360.3 L3280.5 371.3" fill="none" stroke-width="2.2"/>
<path d="M3308.5 360.3 L3308.5 371.3" fill="none" stroke-width="2.2"/>
<text class="h" x="3295.0" y="384.8" font-size="16.0" textLength="23.0" lengthAdjust="spacingAndGlyphs">118</text>
<path d="M3336.4 360.3 L3336.4 371.3" fill="none" stroke-width="2.2"/>
<path d="M3364.4 360.3 L3364.4 371.3" fill="none" stroke-width="2.2"/>
<text class="h" x="3350.9" y="384.8" font-size="16.0" textLength="23.0" lengthAdjust="spacingAndGlyphs">120</text>
<path d="M3392.4 360.3 L3392.4 371.3" fill="none" stroke-width="2.2"/>
<path d="M3420.3 360.3 L3420.4 371.3" fill="none" stroke-width="2.2"/>
<text class="h" x="3406.9" y="384.8" font-size="16.0" textLength="23.0" lengthAdjust="spacingAndGlyphs">122</text>
<path d="M3448.3 360.3 L3448.3 371.3" fill="none" stroke-width="2.2"/>
<path d="M3476.3 360.3 L3476.3 371.3" fill="none" stroke-width="2.2"/>
<text class="h" x="3462.8" y="384.8" font-size="16.0" textLength="23.0" lengthAdjust="spacingAndGlyphs">124</text>
<path d="M3504.2 360.3 L3504.3 371.3" fill="none" stroke-width="2.2"/>
<path d="M3532.2 360.3 L3532.2 371.3" fill="none" stroke-width="2.2"/>
<text class="h" x="3518.8" y="384.8" font-size="16.0" textLength="23.0" lengthAdjust="spacingAndGlyphs">126</text>
<path d="M3560.2 360.3 L3560.2 371.3" fill="none" stroke-width="2.2"/>
<path d="M3588.2 360.3 L3588.2 371.3" fill="none" stroke-width="2.2"/>
<text class="h" x="3574.7" y="384.8" font-size="16.0" textLength="23.0" lengthAdjust="spacingAndGlyphs">128</text>
<path d="M3616.1 360.3 L3616.1 371.3" fill="none" stroke-width="2.2"/>
<path d="M3644.1 360.3 L3644.1 371.3" fill="none" stroke-width="2.2"/>
<text class="h" x="3630.6" y="384.8" font-size="16.0" textLength="23.0" lengthAdjust="spacingAndGlyphs">130</text>
<path d="M3672.1 360.3 L3672.1 371.3" fill="none" stroke-width="2.2"/>
<path d="M3700.0 360.3 L3700.1 371.3" fill="none" stroke-width="2.2"/>
<text class="h" x="3686.6" y="384.8" font-size="16.0" textLength="23.0" lengthAdjust="spacingAndGlyphs">132</text>
<path d="M3728.0 360.3 L3728.0 371.3" fill="none" stroke-width="2.2"/>
<path d="M3756.0 360.3 L3756.0 371.3" fill="none" stroke-width="2.2"/>
<text class="h" x="3742.5" y="384.8" font-size="16.0" textLength="23.0" lengthAdjust="spacingAndGlyphs">134</text>
<path d="M3783.9 360.3 L3784.0 371.3" fill="none" stroke-width="2.2"/>
<path d="M3811.9 360.3 L3811.9 371.3" fill="none" stroke-width="2.2"/>
<text class="h" x="3798.5" y="384.8" font-size="16.0" textLength="23.0" lengthAdjust="spacingAndGlyphs">136</text>
<path d="M3839.9 360.3 L3839.9 371.3" fill="none" stroke-width="2.2"/>
<path d="M3867.9 360.3 L3867.9 371.3" fill="none" stroke-width="2.2"/>
<text class="h" x="3854.4" y="384.8" font-size="16.0" textLength="23.0" lengthAdjust="spacingAndGlyphs">138</text>
<path d="M3895.8 360.3 L3895.8 371.3" fill="none" stroke-width="2.2"/>
<path d="M3923.8 360.3 L3923.8 371.3" fill="none" stroke-width="2.2"/>
<text class="h" x="3910.3" y="384.8" font-size="16.0" textLength="23.0" lengthAdjust="spacingAndGlyphs">140</text>
<path d="M3951.8 360.3 L3951.8 371.3" fill="none" stroke-width="2.2"/>
<path d="M3979.7 360.3 L3979.8 371.3" fill="none" stroke-width="2.2"/>
<text class="h" x="3966.3" y="384.8" font-size="16.0" textLength="23.0" lengthAdjust="spacingAndGlyphs">142</text>
<path d="M4007.7 360.3 L4007.7 371.3" fill="none" stroke-width="2.2"/>
<path d="M4035.7 360.3 L4035.7 371.3" fill="none" stroke-width="2.2"/>
<text class="h" x="4022.2" y="384.8" font-size="16.0" textLength="23.0" lengthAdjust="spacingAndGlyphs">144</text>
<path d="M4063.6 360.3 L4063.7 371.3" fill="none" stroke-width="2.2"/>
<path d="M4091.6 360.3 L4091.6 371.3" fill="none" stroke-width="2.2"/>
<text class="h" x="4078.2" y="384.8" font-size="16.0" textLength="23.0" lengthAdjust="spacingAndGlyphs">146</text>
<path d="M4119.6 360.3 L4119.6 371.3" fill="none" stroke-width="2.2"/>
</g>
<g transform="rotate(0.0401 0 1372.5)">
<path d="M25.0 1372.5 C25.0 1371.4 25.0 1368.1 25.3 1366.0 C25.5 1363.9 26.0 1361.9 26.5 1360.0 C27.0 1358.1 27.6 1356.5 28.5 1354.5 C29.4 1352.5 30.2 1350.7 32.0 1348.0 C33.7 1345.2 36.3 1341.0 39.0 1338.0 C41.6 1334.9 44.1 1332.7 48.0 1329.6 C51.8 1326.4 56.7 1322.6 62.0 1319.0 C67.2 1315.4 70.5 1312.8 79.5 1307.9 C88.4 1303.1 100.8 1296.8 115.6 1289.9 C130.5 1283.1 147.7 1274.6 168.6 1266.9 C189.5 1259.2 217.2 1250.5 240.9 1243.8 C264.6 1237.1 276.4 1236.5 310.9 1226.8 C345.4 1217.1 393.4 1201.2 447.9 1185.7 C502.3 1170.1 578.9 1148.1 637.4 1133.6 C695.9 1119.0 762.9 1105.9 798.8 1098.4 C834.7 1091.0 826.0 1093.3 852.8 1088.8 C879.6 1084.3 929.1 1076.0 959.8 1071.3 C990.5 1066.6 997.0 1065.7 1036.8 1060.7 C1076.5 1055.6 1139.9 1046.8 1198.4 1041.2 C1256.8 1035.5 1333.9 1029.9 1387.5 1026.7 C1441.0 1023.5 1477.4 1023.0 1519.8 1021.9 C1562.1 1020.9 1595.1 1021.0 1641.8 1020.6 C1688.4 1020.1 1733.4 1019.5 1799.8 1019.2 C1866.1 1019.0 1979.5 1018.9 2039.8 1019.1 C2100.0 1019.3 2101.6 1018.5 2161.5 1020.5 C2221.3 1022.4 2336.5 1027.9 2398.8 1030.8 C2461.0 1033.7 2501.3 1035.8 2534.8 1038.0 C2568.3 1040.2 2579.0 1042.6 2599.8 1044.0 C2620.5 1045.3 2633.5 1044.4 2659.3 1046.1 C2685.1 1047.9 2707.1 1048.9 2754.5 1054.7 C2801.9 1060.5 2885.1 1071.7 2943.7 1080.9 C3002.3 1090.1 3048.8 1098.2 3106.3 1109.8 C3163.8 1121.4 3237.1 1138.7 3288.5 1150.5 C3340.0 1162.3 3367.5 1168.8 3414.9 1180.6 C3462.3 1192.4 3531.0 1211.0 3572.9 1221.5 C3614.8 1232.0 3622.7 1232.9 3666.4 1243.8 C3710.1 1254.8 3769.7 1270.9 3834.9 1287.1 C3900.2 1303.3 3997.5 1326.9 4058.0 1341.2 C4118.5 1355.4 4174.5 1367.2 4197.8 1372.5" fill="none" stroke-width="2.9" stroke-dasharray="46 8 5 8"/>
<path d="M25.0 1372.5 C25.0 1373.6 25.0 1376.9 25.3 1379.0 C25.5 1381.1 26.0 1383.1 26.5 1385.0 C27.0 1386.9 27.6 1388.5 28.5 1390.5 C29.4 1392.5 30.2 1394.3 32.0 1397.0 C33.7 1399.8 36.3 1404.0 39.0 1407.0 C41.6 1410.1 44.1 1412.3 48.0 1415.4 C51.8 1418.6 56.7 1422.4 62.0 1426.0 C67.2 1429.6 70.5 1432.2 79.5 1437.1 C88.4 1441.9 100.8 1448.2 115.6 1455.1 C130.5 1461.9 147.7 1470.4 168.6 1478.1 C189.5 1485.8 217.2 1494.5 240.9 1501.2 C264.6 1507.9 276.4 1508.5 310.9 1518.2 C345.4 1527.9 393.4 1543.8 447.9 1559.3 C502.3 1574.9 578.9 1596.9 637.4 1611.4 C695.9 1626.0 762.9 1639.1 798.8 1646.6 C834.7 1654.0 826.0 1651.7 852.8 1656.2 C879.6 1660.7 929.1 1669.0 959.8 1673.7 C990.5 1678.4 997.0 1679.3 1036.8 1684.3 C1076.5 1689.4 1139.9 1698.2 1198.4 1703.8 C1256.8 1709.5 1333.9 1715.1 1387.5 1718.3 C1441.0 1721.5 1477.4 1722.0 1519.8 1723.1 C1562.1 1724.1 1595.1 1724.0 1641.8 1724.4 C1688.4 1724.9 1733.4 1725.5 1799.8 1725.8 C1866.1 1726.0 1979.5 1726.1 2039.8 1725.9 C2100.0 1725.7 2101.6 1726.5 2161.5 1724.5 C2221.3 1722.6 2336.5 1717.1 2398.8 1714.2 C2461.0 1711.3 2501.3 1709.2 2534.8 1707.0 C2568.3 1704.8 2579.0 1702.4 2599.8 1701.0 C2620.5 1699.7 2633.5 1700.6 2659.3 1698.9 C2685.1 1697.1 2707.1 1696.1 2754.5 1690.3 C2801.9 1684.5 2885.1 1673.3 2943.7 1664.1 C3002.3 1654.9 3048.8 1646.8 3106.3 1635.2 C3163.8 1623.6 3237.1 1606.3 3288.5 1594.5 C3340.0 1582.7 3367.5 1576.2 3414.9 1564.4 C3462.3 1552.6 3531.0 1534.0 3572.9 1523.5 C3614.8 1513.0 3622.7 1512.1 3666.4 1501.2 C3710.1 1490.2 3769.7 1474.1 3834.9 1457.9 C3900.2 1441.7 3997.5 1418.1 4058.0 1403.8 C4118.5 1389.6 4174.5 1377.8 4197.8 1372.5" fill="none" stroke-width="2.9" stroke-dasharray="46 8 5 8"/>
<path d="M1036.8 1111.3 C1063.7 1108.1 1140.0 1097.8 1198.4 1092.0 C1256.9 1086.1 1333.9 1079.7 1387.5 1076.0 C1441.1 1072.4 1477.4 1071.1 1519.8 1069.9 C1562.2 1068.7 1595.1 1069.6 1641.8 1068.8 C1688.5 1067.9 1733.5 1065.7 1799.8 1065.0 C1866.1 1064.4 1979.5 1064.8 2039.8 1064.9 C2100.1 1064.9 2101.7 1064.5 2161.5 1065.5 C2221.3 1066.4 2336.6 1069.0 2398.8 1070.6 C2461.0 1072.2 2501.3 1073.8 2534.8 1075.2 C2568.3 1076.6 2563.2 1076.3 2599.8 1078.9 C2636.4 1081.5 2697.2 1084.9 2754.5 1090.9 C2811.8 1096.9 2885.1 1106.2 2943.7 1114.8 C3002.4 1123.4 3048.9 1131.9 3106.3 1142.4 C3163.8 1153.0 3258.2 1172.2 3288.6 1178.2" fill="none" stroke-width="3.0"/>
<path d="M1036.8 1633.0 C1063.7 1636.2 1140.0 1646.3 1198.4 1652.2 C1256.9 1658.0 1333.9 1664.8 1387.5 1668.0 C1441.1 1671.2 1477.4 1671.1 1519.8 1671.5 C1562.2 1671.9 1595.1 1670.0 1641.8 1670.3 C1688.5 1670.5 1733.5 1672.8 1799.8 1673.0 C1866.1 1673.2 1979.5 1671.9 2039.8 1671.7 C2100.1 1671.4 2101.7 1672.1 2161.5 1671.3 C2221.3 1670.5 2336.6 1668.3 2398.8 1666.8 C2461.0 1665.4 2501.3 1663.9 2534.8 1662.6 C2568.3 1661.3 2563.2 1661.9 2599.8 1659.1 C2636.4 1656.4 2697.2 1651.6 2754.5 1646.1 C2811.8 1640.6 2885.1 1633.4 2943.7 1626.2 C3002.4 1618.9 3048.9 1612.5 3106.3 1602.6 C3163.8 1592.7 3258.2 1572.8 3288.6 1566.8" fill="none" stroke-width="3.0"/>
<path d="M3288.6 1163.7 C3309.6 1168.8 3367.5 1182.8 3414.9 1194.6 C3462.3 1206.4 3531.0 1224.7 3572.9 1234.5 C3614.8 1244.3 3622.7 1243.0 3666.4 1253.4 C3710.1 1263.8 3769.7 1281.0 3834.9 1296.8 C3900.2 1312.6 4006.1 1335.9 4058.0 1348.2 C4109.8 1360.4 4131.3 1366.4 4146.0 1370.1" fill="none" stroke-width="3.3"/>
<path d="M3288.6 1581.3 C3309.6 1576.2 3367.5 1562.2 3414.9 1550.4 C3462.3 1538.6 3531.0 1520.3 3572.9 1510.5 C3614.8 1500.7 3622.7 1502.0 3666.4 1491.6 C3710.1 1481.2 3769.7 1464.0 3834.9 1448.2 C3900.2 1432.4 4006.1 1409.1 4058.0 1396.8 C4109.8 1384.6 4131.3 1378.6 4146.0 1374.9" fill="none" stroke-width="3.3"/>
<path d="M959.9 1172.8 C972.7 1170.4 997.1 1163.9 1036.9 1158.3 C1076.6 1152.6 1140.0 1144.6 1198.4 1139.0 C1256.9 1133.3 1334.0 1127.8 1387.5 1124.3 C1441.1 1120.9 1477.4 1120.5 1519.8 1118.2 C1562.2 1116.0 1595.2 1112.4 1641.8 1110.9 C1688.5 1109.3 1733.5 1109.5 1799.8 1109.1 C1866.1 1108.8 1979.5 1108.7 2039.8 1108.6 C2100.1 1108.5 2101.7 1108.3 2161.5 1108.5 C2221.3 1108.7 2336.6 1108.3 2398.8 1109.6 C2461.0 1110.9 2501.3 1114.3 2534.8 1116.2 C2568.3 1118.2 2563.2 1117.8 2599.8 1121.2 C2636.4 1124.6 2697.2 1130.7 2754.5 1136.7 C2811.9 1142.6 2885.1 1149.4 2943.8 1156.9 C3002.4 1164.5 3048.9 1172.2 3106.4 1182.1 C3163.8 1192.1 3244.2 1207.7 3288.6 1216.7 C3333.0 1225.7 3351.9 1231.7 3372.9 1236.1 C3394.0 1240.5 3393.7 1238.4 3414.9 1243.1 C3436.1 1247.8 3458.1 1256.0 3499.9 1264.5 C3541.7 1273.1 3638.1 1289.5 3665.7 1294.4" fill="none" stroke-width="3.3"/>
<path d="M959.9 1574.2 C972.7 1576.7 997.1 1583.2 1036.9 1589.0 C1076.6 1594.7 1140.0 1602.8 1198.4 1608.6 C1256.9 1614.4 1334.0 1620.6 1387.5 1623.7 C1441.1 1626.8 1477.4 1625.8 1519.8 1627.2 C1562.2 1628.6 1595.2 1631.3 1641.8 1632.2 C1688.5 1633.1 1733.5 1632.8 1799.8 1632.7 C1866.1 1632.6 1979.5 1631.7 2039.8 1631.5 C2100.1 1631.3 2101.7 1631.7 2161.5 1631.5 C2221.3 1631.3 2336.6 1631.0 2398.8 1630.4 C2461.0 1629.7 2501.3 1628.8 2534.8 1627.6 C2568.3 1626.4 2563.2 1626.4 2599.8 1623.3 C2636.4 1620.1 2697.2 1614.4 2754.5 1608.9 C2811.9 1603.4 2885.1 1596.8 2943.8 1590.0 C3002.4 1583.2 3048.9 1577.5 3106.4 1568.2 C3163.8 1558.9 3244.2 1543.2 3288.6 1534.3 C3333.0 1525.4 3351.9 1519.3 3372.9 1514.9 C3394.0 1510.5 3393.7 1512.6 3414.9 1507.9 C3436.1 1503.2 3458.1 1495.0 3499.9 1486.5 C3541.7 1477.9 3638.1 1461.5 3665.7 1456.6" fill="none" stroke-width="3.3"/>
<path d="M449.5 1239.7 C467.2 1237.5 524.3 1230.7 555.6 1226.3 C586.9 1221.9 603.4 1217.3 637.5 1213.1 C671.6 1208.8 724.5 1204.9 760.4 1200.9 C796.3 1196.8 819.6 1193.5 852.9 1188.8 C886.1 1184.1 942.0 1175.5 959.9 1172.8" fill="none" stroke-width="2.6" stroke-dasharray="46 8 5 8"/>
<path d="M449.5 1505.3 C467.2 1507.5 524.3 1514.3 555.6 1518.7 C586.9 1523.1 603.4 1527.7 637.5 1531.9 C671.6 1536.2 724.5 1540.1 760.4 1544.1 C796.3 1548.2 819.6 1551.5 852.9 1556.2 C886.1 1560.9 942.0 1569.5 959.9 1572.2" fill="none" stroke-width="2.6" stroke-dasharray="46 8 5 8"/>
<path d="M760.4 1203.0 C775.8 1201.0 819.6 1196.0 852.9 1191.4 C886.1 1186.8 942.0 1178.0 959.9 1175.3" fill="none" stroke-width="2.9"/>
<path d="M760.4 1542.0 C775.8 1544.0 819.6 1549.0 852.9 1553.6 C886.1 1558.2 942.0 1567.0 959.9 1569.7" fill="none" stroke-width="2.9"/>
<path d="M129.9 1291.9 C160.1 1287.1 257.9 1271.4 310.9 1262.8 C363.9 1254.1 425.1 1243.9 447.9 1240.1" fill="none" stroke-width="2.4" stroke-dasharray="46 8 5 8"/>
<path d="M129.9 1453.1 C160.1 1457.9 257.9 1473.6 310.9 1482.2 C363.9 1490.9 425.1 1501.1 447.9 1504.9" fill="none" stroke-width="2.4" stroke-dasharray="46 8 5 8"/>
<path d="M3666.5 1300.4 C3694.5 1304.8 3788.4 1319.7 3835.0 1326.9 C3881.6 1334.1 3927.5 1340.9 3946.0 1343.6" fill="none" stroke-width="2.4" stroke-dasharray="16 7"/>
<path d="M3666.5 1444.6 C3694.5 1440.2 3788.4 1425.3 3835.0 1418.1 C3881.6 1410.9 3927.5 1404.1 3946.0 1401.4" fill="none" stroke-width="2.4" stroke-dasharray="16 7"/>
<path d="M852.9 1278.9 L1641.9 1278.4 L1799.9 1286.7 L2616.9 1287.2 L2699.9 1281.1 L2754.6 1278.8 L3288.6 1281.7" fill="none" stroke-width="3.0"/>
<path d="M852.9 1466.1 L1641.9 1466.6 L1799.9 1458.3 L2616.9 1457.8 L2699.9 1463.9 L2754.6 1466.2 L3288.6 1463.3" fill="none" stroke-width="3.0"/>
<path d="M337.0 1372.3 C337.5 1370.7 338.0 1365.9 340.0 1362.8 C342.0 1359.6 341.4 1357.8 349.0 1353.5 C356.6 1349.1 369.0 1344.4 385.5 1336.7 C402.0 1329.1 419.6 1321.1 448.0 1307.7 C476.3 1294.3 524.0 1271.3 555.6 1256.5 C587.2 1241.7 601.0 1233.3 637.5 1219.1 C674.0 1204.8 752.0 1178.8 774.9 1170.8" fill="none" stroke-width="4.6"/>
<path d="M337.0 1372.7 C337.5 1374.3 338.0 1379.1 340.0 1382.2 C342.0 1385.4 341.4 1387.2 349.0 1391.5 C356.6 1395.9 369.0 1400.6 385.5 1408.3 C402.0 1415.9 419.6 1423.9 448.0 1437.3 C476.3 1450.7 524.0 1473.7 555.6 1488.5 C587.2 1503.3 601.0 1511.7 637.5 1525.9 C674.0 1540.2 752.0 1566.2 774.9 1574.2" fill="none" stroke-width="4.6"/>
<path d="M365.0 1372.7 L365.0 1356.7 L421.7 1346.1 L448.0 1343.7 L637.6 1344.4" fill="none" stroke-width="4.6"/>
<path d="M365.0 1372.3 L365.0 1388.3 L421.7 1398.9 L448.0 1401.3 L637.6 1400.6" fill="none" stroke-width="4.6"/>
<path d="M392.8 1351.7 L392.8 1372.5" fill="none" stroke-width="3.7"/>
<path d="M392.8 1393.3 L392.8 1372.5" fill="none" stroke-width="3.7"/>
<path d="M420.5 1346.7 L420.5 1372.5" fill="none" stroke-width="3.7"/>
<path d="M420.5 1398.3 L420.5 1372.5" fill="none" stroke-width="3.7"/>
<path d="M1036.8 1060.7 L1037.0 1372.5" fill="none" stroke-width="3.0"/>
<path d="M1036.8 1684.3 L1037.0 1372.5" fill="none" stroke-width="3.0"/>
<path d="M1387.5 1026.7 L1387.7 1372.5" fill="none" stroke-width="3.0"/>
<path d="M1387.5 1718.3 L1387.7 1372.5" fill="none" stroke-width="3.0"/>
<path d="M1641.8 1020.6 L1642.0 1372.5" fill="none" stroke-width="3.0"/>
<path d="M1641.8 1724.4 L1642.0 1372.5" fill="none" stroke-width="3.0"/>
<path d="M1799.8 1019.2 L1800.0 1372.5" fill="none" stroke-width="3.0"/>
<path d="M1799.8 1725.8 L1800.0 1372.5" fill="none" stroke-width="3.0"/>
<path d="M2038.4 1019.1 L2038.6 1372.5" fill="none" stroke-width="3.0"/>
<path d="M2038.4 1725.9 L2038.6 1372.5" fill="none" stroke-width="3.0"/>
<path d="M2161.5 1020.5 L2161.7 1372.5" fill="none" stroke-width="3.0"/>
<path d="M2161.5 1724.5 L2161.7 1372.5" fill="none" stroke-width="3.0"/>
<path d="M2534.8 1038.0 L2535.0 1372.5" fill="none" stroke-width="3.0"/>
<path d="M2534.8 1707.0 L2535.0 1372.5" fill="none" stroke-width="3.0"/>
<path d="M2754.5 1054.7 L2754.7 1372.5" fill="none" stroke-width="3.0"/>
<path d="M2754.5 1690.3 L2754.7 1372.5" fill="none" stroke-width="3.0"/>
<path d="M2943.7 1080.9 L2943.9 1372.5" fill="none" stroke-width="3.0"/>
<path d="M2943.7 1664.1 L2943.9 1372.5" fill="none" stroke-width="3.0"/>
<path d="M3106.3 1109.8 L3106.5 1372.5" fill="none" stroke-width="3.0"/>
<path d="M3106.3 1635.2 L3106.5 1372.5" fill="none" stroke-width="3.0"/>
<path d="M3288.5 1150.5 L3288.7 1372.5" fill="none" stroke-width="3.0"/>
<path d="M3288.5 1594.5 L3288.7 1372.5" fill="none" stroke-width="3.0"/>
<path d="M2393.8 1030.6 L2394.0 1372.5" fill="none" stroke-width="3.0"/>
<path d="M2393.8 1714.4 L2394.0 1372.5" fill="none" stroke-width="3.0"/>
<path d="M2401.3 1109.7 L2401.5 1372.5" fill="none" stroke-width="3.0"/>
<path d="M2401.3 1635.3 L2401.5 1372.5" fill="none" stroke-width="3.0"/>
<path d="M3097.9 1180.8 L3098.0 1372.5" fill="none" stroke-width="2.6"/>
<path d="M3097.9 1564.2 L3098.0 1372.5" fill="none" stroke-width="2.6"/>
<path d="M3666.4 1243.8 L3666.5 1372.5" fill="none" stroke-width="3.5"/>
<path d="M3666.4 1501.2 L3666.5 1372.5" fill="none" stroke-width="3.5"/>
<path d="M3834.9 1287.1 L3835.0 1372.5" fill="none" stroke-width="3.5"/>
<path d="M3834.9 1457.9 L3835.0 1372.5" fill="none" stroke-width="3.5"/>
<path d="M4058.0 1341.2 L4058.0 1372.5" fill="none" stroke-width="3.5"/>
<path d="M4058.0 1403.8 L4058.0 1372.5" fill="none" stroke-width="3.5"/>
<path d="M4087.0 1355.4 L4087.0 1372.5" fill="none" stroke-width="3.3"/>
<path d="M4087.0 1389.6 L4087.0 1372.5" fill="none" stroke-width="3.3"/>
<path d="M4113.5 1361.9 L4113.5 1372.5" fill="none" stroke-width="3.3"/>
<path d="M4113.5 1383.1 L4113.5 1372.5" fill="none" stroke-width="3.3"/>
<path d="M3946.0 1322.4 L3946.0 1372.5" fill="none" stroke-width="2.2" stroke-dasharray="18 5 3 5"/>
<path d="M3946.0 1422.6 L3946.0 1372.5" fill="none" stroke-width="2.2" stroke-dasharray="18 5 3 5"/>
<path d="M1198.4 1041.2 L1198.4 1092.0" fill="none" stroke-width="3.0"/>
<path d="M1198.4 1703.8 L1198.4 1653.0" fill="none" stroke-width="3.0"/>
<path d="M1515.5 1022.1 L1515.5 1070.1" fill="none" stroke-width="3.0"/>
<path d="M1515.5 1722.9 L1515.5 1674.9" fill="none" stroke-width="3.0"/>
<path d="M1911.8 1019.2 L1911.8 1065.0" fill="none" stroke-width="3.0"/>
<path d="M1911.8 1725.8 L1911.8 1680.0" fill="none" stroke-width="3.0"/>
<path d="M2272.3 1025.3 L2272.3 1067.9" fill="none" stroke-width="3.0"/>
<path d="M2272.3 1719.7 L2272.3 1677.1" fill="none" stroke-width="3.0"/>
<path d="M2659.3 1046.1 L2659.3 1083.5" fill="none" stroke-width="3.0"/>
<path d="M2659.3 1698.9 L2659.3 1661.5" fill="none" stroke-width="3.0"/>
<path d="M3414.9 1180.6 L3414.9 1243.1" fill="none" stroke-width="3.0"/>
<path d="M3414.9 1564.4 L3414.9 1501.9" fill="none" stroke-width="3.0"/>
<path d="M853.1 1088.8 L853.3 1372.5" fill="none" stroke-width="3.0"/>
<path d="M853.1 1656.2 L853.3 1372.5" fill="none" stroke-width="3.0"/>
<path d="M881.8 1084.1 L881.9 1184.5" fill="none" stroke-width="3.0"/>
<path d="M881.8 1660.9 L881.9 1560.5" fill="none" stroke-width="3.0"/>
<path d="M637.4 1133.7 L637.5 1212.6" fill="none" stroke-width="2.4" stroke-dasharray="16 6 3 6"/>
<path d="M637.4 1611.3 L637.5 1532.4" fill="none" stroke-width="2.4" stroke-dasharray="16 6 3 6"/>
<path d="M637.5 1224.6 L637.6 1372.5" fill="none" stroke-width="4.0"/>
<path d="M637.5 1520.4 L637.6 1372.5" fill="none" stroke-width="4.0"/>
<path d="M556.8 1226.3 L556.9 1343.6" fill="none" stroke-width="3.0"/>
<path d="M556.8 1518.7 L556.9 1401.4" fill="none" stroke-width="3.0"/>
<path d="M448.3 1185.7 L448.4 1372.5" fill="none" stroke-width="2.4" stroke-dasharray="16 6 3 6"/>
<path d="M448.3 1559.3 L448.4 1372.5" fill="none" stroke-width="2.4" stroke-dasharray="16 6 3 6"/>
<path d="M336.9 1260.8 L337.0 1372.5" fill="none" stroke-width="2.4" stroke-dasharray="16 6 3 6"/>
<path d="M336.9 1484.2 L337.0 1372.5" fill="none" stroke-width="2.4" stroke-dasharray="16 6 3 6"/>
<path d="M310.9 1262.8 L336.9 1260.8" fill="none" stroke-width="2.4"/>
<path d="M310.9 1482.2 L336.9 1484.2" fill="none" stroke-width="2.4"/>
<path d="M310.9 1226.8 L310.9 1262.8" fill="none" stroke-width="2.4" stroke-dasharray="16 6 3 6"/>
<path d="M310.9 1518.2 L310.9 1482.2" fill="none" stroke-width="2.4" stroke-dasharray="16 6 3 6"/>
<path d="M129.9 1291.9 L130.0 1372.5" fill="none" stroke-width="2.4" stroke-dasharray="16 7"/>
<path d="M129.9 1453.1 L130.0 1372.5" fill="none" stroke-width="2.4" stroke-dasharray="16 7"/>
<path d="M798.8 1098.4 L760.4 1200.9" fill="none" stroke-width="3.0"/>
<path d="M3693.9 1260.5 L3694.0 1304.8" fill="none" stroke-width="2.2" stroke-dasharray="16 7"/>
<path d="M3693.9 1484.5 L3694.0 1440.2" fill="none" stroke-width="2.2" stroke-dasharray="16 7"/>
<path d="M3721.9 1267.7 L3722.0 1309.2" fill="none" stroke-width="2.2" stroke-dasharray="16 7"/>
<path d="M3721.9 1477.3 L3722.0 1435.8" fill="none" stroke-width="2.2" stroke-dasharray="16 7"/>
<path d="M3750.9 1275.2 L3751.0 1313.7" fill="none" stroke-width="2.2" stroke-dasharray="16 7"/>
<path d="M3750.9 1469.8 L3751.0 1431.3" fill="none" stroke-width="2.2" stroke-dasharray="16 7"/>
<path d="M3778.4 1282.3 L3778.5 1318.1" fill="none" stroke-width="2.2" stroke-dasharray="16 7"/>
<path d="M3778.4 1462.7 L3778.5 1426.9" fill="none" stroke-width="2.2" stroke-dasharray="16 7"/>
<path d="M3805.9 1289.3 L3806.0 1322.4" fill="none" stroke-width="2.2" stroke-dasharray="16 7"/>
<path d="M3805.9 1455.7 L3806.0 1422.6" fill="none" stroke-width="2.2" stroke-dasharray="16 7"/>
<path d="M3861.7 1303.0 L3861.7 1331.1" fill="none" stroke-width="2.2" stroke-dasharray="16 7"/>
<path d="M3861.7 1442.0 L3861.7 1413.9" fill="none" stroke-width="2.2" stroke-dasharray="16 7"/>
<path d="M3890.6 1309.6 L3890.6 1335.7" fill="none" stroke-width="2.2" stroke-dasharray="16 7"/>
<path d="M3890.6 1435.4 L3890.6 1409.3" fill="none" stroke-width="2.2" stroke-dasharray="16 7"/>
<path d="M3918.3 1316.0 L3918.3 1340.0" fill="none" stroke-width="2.2" stroke-dasharray="16 7"/>
<path d="M3918.3 1429.0 L3918.3 1405.0" fill="none" stroke-width="2.2" stroke-dasharray="16 7"/>
<circle cx="3703.9" cy="1296.9" r="7.2" fill="none" stroke-width="2.9"/>
<circle cx="3703.9" cy="1448.1" r="7.2" fill="none" stroke-width="2.9"/>
<circle cx="3734.0" cy="1300.4" r="7.2" fill="none" stroke-width="2.9"/>
<circle cx="3734.0" cy="1444.6" r="7.2" fill="none" stroke-width="2.9"/>
<path d="M447.9 1274.7 L852.9 1274.4" fill="none" stroke-width="2.4" stroke-dasharray="16 7"/>
<path d="M447.9 1470.3 L852.9 1470.6" fill="none" stroke-width="2.4" stroke-dasharray="16 7"/>
<path d="M556.8 1274.6 L704.9 1274.5" fill="none" stroke-width="3.0"/>
<path d="M556.8 1470.4 L704.9 1470.5" fill="none" stroke-width="3.0"/>
<path d="M448.0 1332.7 L630.0 1332.6" fill="none" stroke-width="2.4" stroke-dasharray="46 8 5 8"/>
<path d="M448.0 1412.3 L630.0 1412.4" fill="none" stroke-width="2.4" stroke-dasharray="46 8 5 8"/>
<path d="M637.6 1344.4 L1037.0 1344.1" fill="none" stroke-width="2.4" stroke-dasharray="16 7"/>
<path d="M637.6 1400.6 L1037.0 1400.9" fill="none" stroke-width="2.4" stroke-dasharray="16 7"/>
<path d="M87.9 1321.1 L262.6 1321.0" fill="none" stroke-width="2.2" stroke-dasharray="30 6 4 6"/>
<path d="M127.6 1271.7 L198.8 1321.0 L130.1 1372.4" fill="none" stroke-width="2.4" stroke-dasharray="18 6 3 6"/>
<path d="M127.6 1271.7 C126.0 1275.7 120.1 1287.5 118.0 1295.8 C115.9 1304.0 115.1 1312.2 115.1 1321.1 C115.2 1329.9 116.2 1340.3 118.5 1348.8 C120.8 1357.2 127.2 1367.8 128.9 1371.7" fill="none" stroke-width="2.4" stroke-dasharray="18 6 3 6"/>
<path d="M238.5 1295.7 L198.8 1321.0 L233.7 1343.9" fill="none" stroke-width="2.4" stroke-dasharray="18 6 3 6"/>
<path d="M238.5 1295.7 C239.2 1298.1 242.0 1304.9 242.8 1310.1 C243.7 1315.4 244.9 1321.4 243.3 1327.0 C241.8 1332.6 235.3 1341.1 233.7 1343.9" fill="none" stroke-width="2.4" stroke-dasharray="18 6 3 6"/>
<path d="M127.6 1271.7 L144.5 1281.3" fill="none" stroke-width="2.4" stroke-dasharray="18 6 3 6"/>
<path d="M88.0 1422.3 L262.7 1422.2" fill="none" stroke-width="2.2" stroke-dasharray="30 6 4 6"/>
<path d="M127.8 1471.7 L198.8 1422.2 L130.1 1370.9" fill="none" stroke-width="2.4" stroke-dasharray="18 6 3 6"/>
<path d="M127.8 1471.7 C126.2 1467.6 120.2 1455.8 118.1 1447.6 C116.0 1439.3 115.1 1431.1 115.2 1422.3 C115.3 1413.4 116.3 1403.0 118.6 1394.6 C120.9 1386.1 127.2 1375.5 128.9 1371.7" fill="none" stroke-width="2.4" stroke-dasharray="18 6 3 6"/>
<path d="M238.6 1447.5 L198.8 1422.2 L233.8 1399.3" fill="none" stroke-width="2.4" stroke-dasharray="18 6 3 6"/>
<path d="M238.6 1447.5 C239.3 1445.1 242.1 1438.2 242.9 1433.0 C243.7 1427.8 244.9 1421.8 243.4 1416.2 C241.9 1410.5 235.4 1402.1 233.8 1399.3" fill="none" stroke-width="2.4" stroke-dasharray="18 6 3 6"/>
<path d="M127.8 1471.7 L144.6 1462.0" fill="none" stroke-width="2.4" stroke-dasharray="18 6 3 6"/>
<path d="M130.1 1292.1 L130.2 1452.4" fill="none" stroke-width="2.4" stroke-dasharray="16 7"/>
<path d="M1442.3 1177.5 L1571.4 1177.4 L1571.5 1265.9 L1442.3 1265.9 Z" fill="none" stroke-width="3.3"/>
<path d="M1442.3 1189.4 L1413.6 1203.8 L1413.6 1246.8 L1442.3 1261.2" fill="none" stroke-width="3.3"/>
<path d="M1571.4 1189.3 L1621.6 1208.4 L1621.6 1239.5 L1571.4 1261.1" fill="none" stroke-width="3.3"/>
<path d="M1581.0 1186.9 L1602.5 1186.9 L1602.5 1198.9 L1581.0 1198.9 Z" fill="none" stroke-width="3.3"/>
<path d="M1581.0 1253.9 L1602.5 1253.9 L1602.5 1265.8 L1581.0 1265.9 Z" fill="none" stroke-width="3.3"/>
<path d="M1621.6 1208.4 L1643.1 1208.4 L1643.2 1239.5 L1621.6 1239.5 Z" fill="none" stroke-width="2.6"/>
<path d="M1627.4 1203.6 L1627.4 1244.3" fill="none" stroke-width="3.3"/>
<path d="M1633.6 1203.6 L1633.6 1244.3" fill="none" stroke-width="3.3"/>
<path d="M1638.8 1206.0 L1638.9 1241.9" fill="none" stroke-width="3.3"/>
<path d="M1444.7 1179.9 L1516.4 1179.8 L1516.4 1218.1 L1506.9 1244.4 L1471.0 1244.4 L1459.0 1218.1 L1444.7 1208.6" fill="none" stroke-width="3.3"/>
<rect x="1466.2" y="1203.8" width="43.1" height="33.4" rx="5.7" fill="none" stroke-width="2.4" stroke-dasharray="12 6"/>
<path d="M1389.7 1225.3 L1793.8 1225.0" fill="none" stroke-width="2.0" stroke-dasharray="30 6 4 6"/>
<path d="M1389.7 1220.5 L1413.6 1220.5 L1413.6 1230.1 L1389.7 1230.1 Z" fill="none" stroke-width="2.6"/>
<path d="M1399.2 1216.7 L1399.3 1233.9" fill="none" stroke-width="3.3"/>
<path d="M1406.4 1216.7 L1406.4 1233.9" fill="none" stroke-width="3.3"/>
<rect x="1420.7" y="1129.7" width="112.4" height="43.0" rx="7.7" fill="none" stroke-width="3.3"/>
<circle cx="1406.4" cy="1151.2" r="6.2" fill="none" stroke-width="2.9"/>
<circle cx="1542.7" cy="1146.3" r="6.2" fill="none" stroke-width="2.9"/>
<path d="M1420.7 1136.8 L1408.8 1144.0" fill="none" stroke-width="2.9"/>
<path d="M1420.7 1165.5 L1410.2 1157.4" fill="none" stroke-width="2.9"/>
<path d="M1430.3 1151.2 L1525.9 1151.1" fill="none" stroke-width="2.0" stroke-dasharray="30 6 4 6"/>
<path d="M1545.1 1140.1 C1548.2 1138.3 1557.4 1132.1 1564.2 1129.6 C1571.0 1127.0 1582.1 1125.6 1585.7 1124.8" fill="none" stroke-width="2.9"/>
<path d="M1548.9 1151.1 C1552.2 1149.7 1562.8 1144.9 1569.0 1142.9 C1575.1 1140.9 1582.9 1139.7 1585.7 1139.1" fill="none" stroke-width="2.9"/>
<path d="M1587.1 1119.0 L1587.1 1143.9" fill="none" stroke-width="3.9"/>
<path d="M1591.9 1119.0 L1591.9 1143.9" fill="none" stroke-width="2.6"/>
<path d="M1442.4 1325.7 L1571.5 1325.6 L1571.6 1414.1 L1442.4 1414.1 Z" fill="none" stroke-width="3.3"/>
<path d="M1442.4 1337.6 L1413.7 1352.0 L1413.7 1395.0 L1442.4 1409.4" fill="none" stroke-width="3.3"/>
<path d="M1571.5 1337.5 L1621.7 1356.6 L1621.8 1387.7 L1571.6 1409.3" fill="none" stroke-width="3.3"/>
<path d="M1581.1 1335.1 L1602.6 1335.1 L1602.6 1347.1 L1581.1 1347.1 Z" fill="none" stroke-width="3.3"/>
<path d="M1581.1 1402.1 L1602.6 1402.1 L1602.6 1414.0 L1581.1 1414.1 Z" fill="none" stroke-width="3.3"/>
<path d="M1621.7 1356.6 L1643.3 1356.6 L1643.3 1387.7 L1621.8 1387.7 Z" fill="none" stroke-width="2.6"/>
<path d="M1627.5 1351.8 L1627.5 1392.5" fill="none" stroke-width="3.3"/>
<path d="M1633.7 1351.8 L1633.7 1392.5" fill="none" stroke-width="3.3"/>
<path d="M1638.9 1354.2 L1639.0 1390.1" fill="none" stroke-width="3.3"/>
<path d="M1444.8 1328.1 L1516.5 1328.0 L1516.5 1366.3 L1507.0 1392.6 L1471.1 1392.6 L1459.1 1366.3 L1444.8 1356.8" fill="none" stroke-width="3.3"/>
<rect x="1466.3" y="1352.0" width="43.1" height="33.4" rx="5.7" fill="none" stroke-width="2.4" stroke-dasharray="12 6"/>
<path d="M1389.8 1373.5 L1793.9 1373.3" fill="none" stroke-width="2.0" stroke-dasharray="30 6 4 6"/>
<path d="M1389.8 1368.8 L1413.7 1368.7 L1413.7 1378.3 L1389.8 1378.3 Z" fill="none" stroke-width="2.6"/>
<path d="M1399.3 1364.9 L1399.4 1382.1" fill="none" stroke-width="3.3"/>
<path d="M1406.5 1364.9 L1406.5 1382.1" fill="none" stroke-width="3.3"/>
<rect x="1420.8" y="1277.9" width="112.4" height="43.0" rx="7.7" fill="none" stroke-width="3.3"/>
<circle cx="1406.5" cy="1299.4" r="6.2" fill="none" stroke-width="2.9"/>
<circle cx="1542.8" cy="1294.5" r="6.2" fill="none" stroke-width="2.9"/>
<path d="M1420.8 1285.0 L1408.9 1292.2" fill="none" stroke-width="2.9"/>
<path d="M1420.8 1313.7 L1410.3 1305.6" fill="none" stroke-width="2.9"/>
<path d="M1430.4 1299.4 L1526.0 1299.3" fill="none" stroke-width="2.0" stroke-dasharray="30 6 4 6"/>
<path d="M1545.2 1288.3 C1548.3 1286.5 1557.5 1280.3 1564.3 1277.8 C1571.1 1275.2 1582.2 1273.8 1585.8 1273.0" fill="none" stroke-width="2.9"/>
<path d="M1549.0 1299.3 C1552.3 1297.9 1562.9 1293.1 1569.1 1291.1 C1575.2 1289.1 1583.0 1287.9 1585.8 1287.3" fill="none" stroke-width="2.9"/>
<path d="M1587.2 1267.2 L1587.3 1292.1" fill="none" stroke-width="3.9"/>
<path d="M1592.0 1267.2 L1592.0 1292.1" fill="none" stroke-width="2.6"/>
<path d="M1442.5 1572.0 L1571.7 1571.9 L1571.6 1483.5 L1442.5 1483.6 Z" fill="none" stroke-width="3.3"/>
<path d="M1442.5 1560.1 L1413.8 1545.8 L1413.8 1502.7 L1442.5 1488.3" fill="none" stroke-width="3.3"/>
<path d="M1571.7 1560.0 L1621.9 1540.8 L1621.8 1509.7 L1571.6 1488.2" fill="none" stroke-width="3.3"/>
<path d="M1581.2 1562.4 L1602.7 1562.4 L1602.7 1550.4 L1581.2 1550.4 Z" fill="none" stroke-width="3.3"/>
<path d="M1581.2 1495.4 L1602.7 1495.4 L1602.7 1483.4 L1581.2 1483.5 Z" fill="none" stroke-width="3.3"/>
<path d="M1621.9 1540.8 L1643.4 1540.8 L1643.4 1509.7 L1621.8 1509.7 Z" fill="none" stroke-width="2.6"/>
<path d="M1627.6 1545.6 L1627.6 1505.0" fill="none" stroke-width="3.3"/>
<path d="M1633.8 1545.6 L1633.8 1504.9" fill="none" stroke-width="3.3"/>
<path d="M1639.1 1543.2 L1639.1 1507.3" fill="none" stroke-width="3.3"/>
<path d="M1444.9 1569.6 L1516.7 1569.6 L1516.6 1531.3 L1507.1 1505.0 L1471.2 1505.1 L1459.2 1531.4 L1444.9 1540.9" fill="none" stroke-width="3.3"/>
<rect x="1466.4" y="1512.2" width="43.0" height="33.5" rx="5.7" fill="none" stroke-width="2.4" stroke-dasharray="12 6"/>
<path d="M1389.9 1524.2 L1794.0 1524.0" fill="none" stroke-width="2.0" stroke-dasharray="30 6 4 6"/>
<path d="M1389.9 1529.0 L1413.8 1529.0 L1413.8 1519.4 L1389.9 1519.5 Z" fill="none" stroke-width="2.6"/>
<path d="M1399.5 1532.8 L1399.5 1515.6" fill="none" stroke-width="3.3"/>
<path d="M1406.6 1532.8 L1406.6 1515.6" fill="none" stroke-width="3.3"/>
<rect x="1421.0" y="1576.8" width="112.4" height="43.1" rx="7.7" fill="none" stroke-width="3.3"/>
<circle cx="1406.7" cy="1598.4" r="6.2" fill="none" stroke-width="2.9"/>
<circle cx="1543.0" cy="1603.1" r="6.2" fill="none" stroke-width="2.9"/>
<path d="M1421.0 1612.7 L1409.1 1605.5" fill="none" stroke-width="2.9"/>
<path d="M1421.0 1584.0 L1410.5 1592.1" fill="none" stroke-width="2.9"/>
<path d="M1430.6 1598.3 L1526.2 1598.3" fill="none" stroke-width="2.0" stroke-dasharray="30 6 4 6"/>
<path d="M1545.4 1609.3 C1548.6 1611.0 1557.7 1617.2 1564.5 1619.8 C1571.3 1622.3 1582.5 1623.8 1586.0 1624.5" fill="none" stroke-width="2.9"/>
<path d="M1549.2 1598.3 C1552.6 1599.6 1563.2 1604.4 1569.3 1606.4 C1575.4 1608.4 1583.2 1609.6 1586.0 1610.2" fill="none" stroke-width="2.9"/>
<path d="M1587.5 1630.3 L1587.5 1605.4" fill="none" stroke-width="3.9"/>
<path d="M1592.3 1630.3 L1592.3 1605.4" fill="none" stroke-width="2.6"/>
<path d="M1671.8 1179.7 L1724.4 1179.7 L1724.5 1255.2 L1671.9 1255.3 Z" fill="none" stroke-width="3.3"/>
<path d="M1724.4 1172.5 L1751.7 1172.5 L1751.8 1261.9 L1724.5 1261.9 Z" fill="none" stroke-width="3.3"/>
<path d="M1671.8 1179.7 L1652.7 1191.7 L1652.7 1242.8 L1671.9 1255.3" fill="none" stroke-width="3.3"/>
<path d="M1651.3 1190.2 L1659.9 1190.2 L1659.9 1197.9 L1651.3 1197.9 Z" fill="none" stroke-width="2.6"/>
<path d="M1651.3 1237.1 L1659.9 1237.1 L1659.9 1244.3 L1651.3 1244.3 Z" fill="none" stroke-width="2.6"/>
<path d="M1751.7 1188.3 L1784.2 1188.2 L1784.3 1244.2 L1751.7 1244.2" fill="none" stroke-width="3.3"/>
<path d="M1751.7 1182.0 L1784.2 1205.9" fill="none" stroke-width="2.9"/>
<path d="M1751.7 1251.4 L1784.3 1228.4" fill="none" stroke-width="2.9"/>
<path d="M1643.2 1218.0 L1793.8 1217.9" fill="none" stroke-width="2.0" stroke-dasharray="30 6 4 6"/>
<path d="M1671.9 1334.1 L1724.5 1334.1 L1724.6 1409.6 L1672.0 1409.7 Z" fill="none" stroke-width="3.3"/>
<path d="M1724.5 1326.9 L1751.8 1326.9 L1751.9 1416.3 L1724.6 1416.3 Z" fill="none" stroke-width="3.3"/>
<path d="M1671.9 1334.1 L1652.8 1346.1 L1652.8 1397.3 L1672.0 1409.7" fill="none" stroke-width="3.3"/>
<path d="M1651.4 1344.7 L1660.0 1344.6 L1660.0 1352.3 L1651.4 1352.3 Z" fill="none" stroke-width="2.6"/>
<path d="M1651.4 1391.5 L1660.0 1391.5 L1660.0 1398.7 L1651.4 1398.7 Z" fill="none" stroke-width="2.6"/>
<path d="M1751.8 1342.7 L1784.3 1342.6 L1784.4 1398.6 L1751.8 1398.6" fill="none" stroke-width="3.3"/>
<path d="M1751.8 1336.5 L1784.3 1360.3" fill="none" stroke-width="2.9"/>
<path d="M1751.9 1405.8 L1784.4 1382.8" fill="none" stroke-width="2.9"/>
<path d="M1643.3 1372.4 L1793.9 1372.3" fill="none" stroke-width="2.0" stroke-dasharray="30 6 4 6"/>
<path d="M1672.0 1488.2 L1724.7 1488.1 L1724.7 1563.7 L1672.1 1563.7 Z" fill="none" stroke-width="3.3"/>
<path d="M1724.6 1481.0 L1751.9 1480.9 L1752.0 1570.4 L1724.7 1570.4 Z" fill="none" stroke-width="3.3"/>
<path d="M1672.0 1488.2 L1652.9 1500.1 L1653.0 1551.3 L1672.1 1563.7" fill="none" stroke-width="3.3"/>
<path d="M1651.5 1498.7 L1660.1 1498.7 L1660.1 1506.4 L1651.5 1506.4 Z" fill="none" stroke-width="2.6"/>
<path d="M1651.5 1545.6 L1660.1 1545.6 L1660.1 1552.8 L1651.5 1552.8 Z" fill="none" stroke-width="2.6"/>
<path d="M1751.9 1496.7 L1784.4 1496.7 L1784.5 1552.7 L1752.0 1552.7" fill="none" stroke-width="3.3"/>
<path d="M1751.9 1490.5 L1784.5 1514.4" fill="none" stroke-width="2.9"/>
<path d="M1752.0 1559.9 L1784.5 1536.9" fill="none" stroke-width="2.9"/>
<path d="M1643.4 1526.5 L1794.0 1526.4" fill="none" stroke-width="2.0" stroke-dasharray="30 6 4 6"/>
<path d="M1394.4 1158.4 L1411.2 1158.4 L1411.2 1194.2 L1394.4 1194.2 Z" fill="none" stroke-width="2.0"/>
<path d="M1394.4 1162.9 L1411.2 1162.8" fill="none" stroke-width="2.0"/>
<path d="M1394.4 1167.3 L1411.2 1167.3" fill="none" stroke-width="2.0"/>
<path d="M1394.4 1171.8 L1411.2 1171.8" fill="none" stroke-width="2.0"/>
<path d="M1394.4 1176.3 L1411.2 1176.3" fill="none" stroke-width="2.0"/>
<path d="M1394.4 1180.8 L1411.2 1180.8" fill="none" stroke-width="2.0"/>
<path d="M1394.4 1185.3 L1411.2 1185.3" fill="none" stroke-width="2.0"/>
<path d="M1394.4 1189.8 L1411.2 1189.7" fill="none" stroke-width="2.0"/>
<path d="M1394.7 1548.2 L1411.4 1548.1 L1411.5 1586.4 L1394.7 1586.4 Z" fill="none" stroke-width="2.0"/>
<path d="M1394.7 1552.9 L1411.4 1552.9" fill="none" stroke-width="2.0"/>
<path d="M1394.7 1557.7 L1411.4 1557.7" fill="none" stroke-width="2.0"/>
<path d="M1394.7 1562.5 L1411.4 1562.5" fill="none" stroke-width="2.0"/>
<path d="M1394.7 1567.3 L1411.4 1567.3" fill="none" stroke-width="2.0"/>
<path d="M1394.7 1572.1 L1411.4 1572.1" fill="none" stroke-width="2.0"/>
<path d="M1394.7 1576.9 L1411.4 1576.8" fill="none" stroke-width="2.0"/>
<path d="M1394.7 1581.6 L1411.5 1581.6" fill="none" stroke-width="2.0"/>
<path d="M1492.6 1402.2 L1516.5 1402.2 L1516.6 1452.4 L1492.7 1452.4 Z" fill="none" stroke-width="2.0"/>
<path d="M1492.6 1407.2 L1516.5 1407.2" fill="none" stroke-width="2.0"/>
<path d="M1492.6 1412.3 L1516.6 1412.2" fill="none" stroke-width="2.0"/>
<path d="M1492.6 1417.3 L1516.6 1417.3" fill="none" stroke-width="2.0"/>
<path d="M1492.6 1422.3 L1516.6 1422.3" fill="none" stroke-width="2.0"/>
<path d="M1492.6 1427.3 L1516.6 1427.3" fill="none" stroke-width="2.0"/>
<path d="M1492.7 1432.3 L1516.6 1432.3" fill="none" stroke-width="2.0"/>
<path d="M1492.7 1437.4 L1516.6 1437.4" fill="none" stroke-width="2.0"/>
<path d="M1492.7 1442.4 L1516.6 1442.4" fill="none" stroke-width="2.0"/>
<path d="M1492.7 1447.4 L1516.6 1447.4" fill="none" stroke-width="2.0"/>
<path d="M1492.7 1452.4 L1492.7 1462.0" fill="none" stroke-width="3.0"/>
<path d="M1648.1 1402.1 L1664.8 1402.1 L1664.8 1445.1 L1648.1 1445.2 Z" fill="none" stroke-width="2.0"/>
<path d="M1648.1 1406.9 L1664.8 1406.9" fill="none" stroke-width="2.0"/>
<path d="M1648.1 1411.7 L1664.8 1411.7" fill="none" stroke-width="2.0"/>
<path d="M1648.1 1416.5 L1664.8 1416.4" fill="none" stroke-width="2.0"/>
<path d="M1648.1 1421.2 L1664.8 1421.2" fill="none" stroke-width="2.0"/>
<path d="M1648.1 1426.0 L1664.8 1426.0" fill="none" stroke-width="2.0"/>
<path d="M1648.1 1430.8 L1664.8 1430.8" fill="none" stroke-width="2.0"/>
<path d="M1648.1 1435.6 L1664.8 1435.6" fill="none" stroke-width="2.0"/>
<path d="M1648.1 1440.4 L1664.8 1440.4" fill="none" stroke-width="2.0"/>
<path d="M1667.2 1442.7 L1705.5 1442.7 L1705.5 1459.5 L1667.2 1459.5 Z" fill="none" stroke-width="2.0"/>
<path d="M1672.0 1442.7 L1672.0 1459.5" fill="none" stroke-width="2.0"/>
<path d="M1676.8 1442.7 L1676.8 1459.5" fill="none" stroke-width="2.0"/>
<path d="M1681.6 1442.7 L1681.6 1459.5" fill="none" stroke-width="2.0"/>
<path d="M1686.4 1442.7 L1686.4 1459.5" fill="none" stroke-width="2.0"/>
<path d="M1691.1 1442.7 L1691.2 1459.5" fill="none" stroke-width="2.0"/>
<path d="M1695.9 1442.7 L1695.9 1459.5" fill="none" stroke-width="2.0"/>
<path d="M1700.7 1442.7 L1700.7 1459.5" fill="none" stroke-width="2.0"/>
<path d="M1731.8 1446.5 L1742.3 1446.5 L1742.3 1457.0 L1731.8 1457.1 Z" fill="none" stroke-width="3.3"/>
<path d="M1667.0 1114.2 L1681.3 1114.2 L1681.4 1134.3 L1667.0 1134.3 Z" fill="none" stroke-width="3.3"/>
<path d="M1681.3 1114.2 L1712.4 1114.1 L1712.4 1134.2 L1681.4 1134.3 Z" fill="none" stroke-width="2.0"/>
<path d="M1685.8 1114.2 L1685.8 1134.3" fill="none" stroke-width="2.0"/>
<path d="M1690.2 1114.2 L1690.2 1134.3" fill="none" stroke-width="2.0"/>
<path d="M1694.7 1114.2 L1694.7 1134.2" fill="none" stroke-width="2.0"/>
<path d="M1699.1 1114.2 L1699.1 1134.2" fill="none" stroke-width="2.0"/>
<path d="M1703.5 1114.2 L1703.6 1134.2" fill="none" stroke-width="2.0"/>
<path d="M1708.0 1114.2 L1708.0 1134.2" fill="none" stroke-width="2.0"/>
<path d="M1712.4 1139.0 L1731.6 1139.0 L1731.6 1179.7 L1712.5 1179.7 Z" fill="none" stroke-width="2.0"/>
<path d="M1712.5 1143.5 L1731.6 1143.5" fill="none" stroke-width="2.0"/>
<path d="M1712.5 1148.1 L1731.6 1148.0" fill="none" stroke-width="2.0"/>
<path d="M1712.5 1152.6 L1731.6 1152.6" fill="none" stroke-width="2.0"/>
<path d="M1712.5 1157.1 L1731.6 1157.1" fill="none" stroke-width="2.0"/>
<path d="M1712.5 1161.6 L1731.6 1161.6" fill="none" stroke-width="2.0"/>
<path d="M1712.5 1166.1 L1731.6 1166.1" fill="none" stroke-width="2.0"/>
<path d="M1712.5 1170.6 L1731.6 1170.6" fill="none" stroke-width="2.0"/>
<path d="M1712.5 1175.2 L1731.6 1175.1" fill="none" stroke-width="2.0"/>
<path d="M1667.3 1610.1 L1681.7 1610.1 L1681.7 1629.3 L1667.4 1629.3 Z" fill="none" stroke-width="3.3"/>
<path d="M1681.7 1610.1 L1712.8 1610.1 L1712.8 1629.2 L1681.7 1629.3 Z" fill="none" stroke-width="2.0"/>
<path d="M1686.1 1610.1 L1686.1 1629.3" fill="none" stroke-width="2.0"/>
<path d="M1690.6 1610.1 L1690.6 1629.3" fill="none" stroke-width="2.0"/>
<path d="M1695.0 1610.1 L1695.0 1629.3" fill="none" stroke-width="2.0"/>
<path d="M1699.5 1610.1 L1699.5 1629.2" fill="none" stroke-width="2.0"/>
<path d="M1703.9 1610.1 L1703.9 1629.2" fill="none" stroke-width="2.0"/>
<path d="M1708.3 1610.1 L1708.4 1629.2" fill="none" stroke-width="2.0"/>
<path d="M1712.7 1552.7 L1731.9 1552.7 L1731.9 1595.7 L1712.8 1595.8 Z" fill="none" stroke-width="2.0"/>
<path d="M1712.7 1557.5 L1731.9 1557.5" fill="none" stroke-width="2.0"/>
<path d="M1712.7 1562.3 L1731.9 1562.3" fill="none" stroke-width="2.0"/>
<path d="M1712.7 1567.1 L1731.9 1567.1" fill="none" stroke-width="2.0"/>
<path d="M1712.8 1571.8 L1731.9 1571.8" fill="none" stroke-width="2.0"/>
<path d="M1712.8 1576.6 L1731.9 1576.6" fill="none" stroke-width="2.0"/>
<path d="M1712.8 1581.4 L1731.9 1581.4" fill="none" stroke-width="2.0"/>
<path d="M1712.8 1586.2 L1731.9 1586.2" fill="none" stroke-width="2.0"/>
<path d="M1712.8 1591.0 L1731.9 1591.0" fill="none" stroke-width="2.0"/>
<path d="M1731.6 1114.1 L1731.6 1136.6" fill="none" stroke-width="2.2" stroke-dasharray="16 7"/>
<path d="M1731.9 1600.5 L1731.9 1629.2" fill="none" stroke-width="2.2" stroke-dasharray="16 7"/>
<path d="M1343.2 1127.3 L1343.2 1139.3 L1365.7 1151.2 L1389.6 1151.2" fill="none" stroke-width="3.0"/>
<path d="M1279.6 1151.3 L1341.8 1151.2 L1358.6 1168.0 L1389.6 1167.9" fill="none" stroke-width="3.0"/>
<path d="M1279.6 1151.3 L1279.7 1225.4 L1341.9 1225.4 L1358.6 1239.7 L1389.7 1239.7" fill="none" stroke-width="3.0"/>
<path d="M1367.1 1134.5 L1384.8 1134.5 L1384.8 1151.2 L1367.2 1151.2 Z" fill="none" stroke-width="2.6" stroke-dasharray="6 4"/>
<text class="h" x="1372.1" y="1147.9" font-size="14.0" textLength="7.7" lengthAdjust="spacingAndGlyphs">N</text>
<path d="M1367.2 1211.0 L1384.9 1211.0 L1384.9 1237.3 L1367.2 1237.3 Z" fill="none" stroke-width="3.3"/>
<text class="h" x="1371.1" y="1230.6" font-size="18.0" textLength="9.9" lengthAdjust="spacingAndGlyphs">A</text>
<path d="M1353.8 1208.6 L1367.2 1208.6 L1367.2 1239.7 L1353.8 1239.7 Z" fill="none" stroke-width="2.4" stroke-dasharray="16 7"/>
<path d="M1386.3 1213.4 L1411.2 1213.4 L1411.2 1234.9 L1386.3 1234.9 Z" fill="none" stroke-width="2.4" stroke-dasharray="16 7"/>
<path d="M1367.2 1247.8 L1384.9 1247.8 L1384.9 1273.2 L1367.2 1273.2 Z" fill="none" stroke-width="3.3"/>
<text class="h" x="1371.1" y="1267.0" font-size="18.0" textLength="9.9" lengthAdjust="spacingAndGlyphs">A</text>
<path d="M1353.8 1246.9 L1367.2 1246.9 L1367.2 1274.6 L1353.8 1274.6 Z" fill="none" stroke-width="2.4" stroke-dasharray="16 7"/>
<path d="M1386.3 1247.8 L1411.2 1247.8 L1411.2 1274.6 L1386.4 1274.6 Z" fill="none" stroke-width="2.4" stroke-dasharray="16 7"/>
<path d="M1367.4 1471.7 L1385.1 1471.6 L1385.1 1495.6 L1367.4 1495.6 Z" fill="none" stroke-width="3.3"/>
<text class="h" x="1371.3" y="1490.1" font-size="18.0" textLength="9.9" lengthAdjust="spacingAndGlyphs">A</text>
<path d="M1354.0 1470.7 L1367.4 1470.7 L1367.4 1498.0 L1354.0 1498.0 Z" fill="none" stroke-width="2.4" stroke-dasharray="16 7"/>
<path d="M1367.4 1505.1 L1385.1 1505.1 L1385.1 1529.0 L1367.4 1529.0 Z" fill="none" stroke-width="3.3"/>
<text class="h" x="1371.3" y="1523.6" font-size="18.0" textLength="9.9" lengthAdjust="spacingAndGlyphs">A</text>
<path d="M1386.5 1507.5 L1406.6 1507.5 L1406.6 1526.6 L1386.5 1526.6 Z" fill="none" stroke-width="2.4" stroke-dasharray="16 7"/>
<path d="M1367.5 1591.2 L1385.2 1591.2 L1385.2 1607.9 L1367.5 1608.0 Z" fill="none" stroke-width="2.6" stroke-dasharray="6 4"/>
<text class="h" x="1372.5" y="1604.6" font-size="14.0" textLength="7.7" lengthAdjust="spacingAndGlyphs">N</text>
<path d="M1343.6 1617.5 L1343.6 1605.6 L1366.0 1591.2 L1389.9 1591.2" fill="none" stroke-width="3.0"/>
<path d="M1279.9 1593.7 L1342.1 1593.6 L1358.8 1576.9 L1389.9 1576.9" fill="none" stroke-width="3.0"/>
<path d="M1279.9 1593.7 L1279.9 1519.5 L1342.1 1519.5 L1358.8 1505.1 L1389.9 1505.1" fill="none" stroke-width="3.0"/>
<path d="M1104.1 1153.8 L1104.2 1280.5" fill="none" stroke-width="3.0"/>
<path d="M1228.4 1139.4 L1228.5 1280.4" fill="none" stroke-width="3.0"/>
<path d="M1199.8 1141.8 L1200.0 1464.6" fill="none" stroke-width="2.4" stroke-dasharray="26 8"/>
<path d="M1104.3 1464.7 L1104.4 1589.0" fill="none" stroke-width="3.0"/>
<path d="M1228.7 1464.6 L1228.8 1605.7" fill="none" stroke-width="3.0"/>
<path d="M1200.0 1464.6 L1200.1 1596.1" fill="none" stroke-width="2.4" stroke-dasharray="26 8"/>
<path d="M1040.5 1173.0 L1062.0 1173.0 L1062.1 1201.6 L1040.5 1201.7 Z" fill="none" stroke-width="2.0"/>
<path d="M1040.5 1177.8 L1062.0 1177.7" fill="none" stroke-width="2.0"/>
<path d="M1040.5 1182.5 L1062.0 1182.5" fill="none" stroke-width="2.0"/>
<path d="M1040.5 1187.3 L1062.0 1187.3" fill="none" stroke-width="2.0"/>
<path d="M1040.5 1192.1 L1062.0 1192.1" fill="none" stroke-width="2.0"/>
<path d="M1040.5 1196.9 L1062.1 1196.9" fill="none" stroke-width="2.0"/>
<path d="M1040.6 1242.3 L1062.1 1242.3 L1062.1 1275.8 L1040.6 1275.8 Z" fill="none" stroke-width="2.0"/>
<path d="M1040.6 1246.5 L1062.1 1246.5" fill="none" stroke-width="2.0"/>
<path d="M1040.6 1250.7 L1062.1 1250.7" fill="none" stroke-width="2.0"/>
<path d="M1040.6 1254.9 L1062.1 1254.9" fill="none" stroke-width="2.0"/>
<path d="M1040.6 1259.1 L1062.1 1259.0" fill="none" stroke-width="2.0"/>
<path d="M1040.6 1263.2 L1062.1 1263.2" fill="none" stroke-width="2.0"/>
<path d="M1040.6 1267.4 L1062.1 1267.4" fill="none" stroke-width="2.0"/>
<path d="M1040.6 1271.6 L1062.1 1271.6" fill="none" stroke-width="2.0"/>
<path d="M1062.0 1173.0 L1062.1 1280.6" fill="none" stroke-width="3.0"/>
<path d="M1040.5 1173.0 L1040.6 1280.6" fill="none" stroke-width="3.0"/>
<path d="M1040.7 1469.5 L1062.2 1469.5 L1062.3 1505.3 L1040.7 1505.4 Z" fill="none" stroke-width="2.0"/>
<path d="M1040.7 1474.0 L1062.2 1474.0" fill="none" stroke-width="2.0"/>
<path d="M1040.7 1478.5 L1062.2 1478.4" fill="none" stroke-width="2.0"/>
<path d="M1040.7 1482.9 L1062.3 1482.9" fill="none" stroke-width="2.0"/>
<path d="M1040.7 1487.4 L1062.3 1487.4" fill="none" stroke-width="2.0"/>
<path d="M1040.7 1491.9 L1062.3 1491.9" fill="none" stroke-width="2.0"/>
<path d="M1040.7 1496.4 L1062.3 1496.4" fill="none" stroke-width="2.0"/>
<path d="M1040.7 1500.9 L1062.3 1500.9" fill="none" stroke-width="2.0"/>
<path d="M1040.8 1546.0 L1062.3 1546.0 L1062.3 1574.7 L1040.8 1574.7 Z" fill="none" stroke-width="2.0"/>
<path d="M1040.8 1550.8 L1062.3 1550.8" fill="none" stroke-width="2.0"/>
<path d="M1040.8 1555.6 L1062.3 1555.6" fill="none" stroke-width="2.0"/>
<path d="M1040.8 1560.4 L1062.3 1560.3" fill="none" stroke-width="2.0"/>
<path d="M1040.8 1565.1 L1062.3 1565.1" fill="none" stroke-width="2.0"/>
<path d="M1040.8 1569.9 L1062.3 1569.9" fill="none" stroke-width="2.0"/>
<path d="M1062.2 1464.7 L1062.3 1577.1" fill="none" stroke-width="3.0"/>
<path d="M1040.7 1464.7 L1040.8 1577.1" fill="none" stroke-width="3.0"/>
<path d="M1093.2 1338.9 L1110.9 1338.9 L1111.0 1409.7 L1093.3 1409.7 Z" fill="none" stroke-width="3.3"/>
<text class="h" x="1094.7" y="1364.2" font-size="22.0" textLength="14.3" lengthAdjust="spacingAndGlyphs">A</text>
<path d="M1180.7 1290.0 L1180.8 1452.7" fill="none" stroke-width="3.0"/>
<path d="M1190.3 1290.0 L1190.4 1452.6" fill="none" stroke-width="3.0"/>
<path d="M1169.8 1394.3 L1190.4 1394.3 L1190.4 1407.2 L1169.8 1407.2 Z" fill="none" stroke-width="3.3"/>
<path d="M1267.8 1290.0 L1315.6 1289.9 L1315.7 1452.6 L1267.9 1452.6 Z" fill="none" stroke-width="2.4" stroke-dasharray="16 7"/>
<circle cx="1292.5" cy="1372.5" r="59.0" fill="none" stroke-width="2.4" stroke-dasharray="20 7"/>
<circle cx="1292.5" cy="1372.5" r="50.0" fill="none" stroke-width="4.0"/>
<circle cx="1292.5" cy="1372.5" r="44.5" fill="none" stroke-width="2.9"/>
<path d="M1264.5 1342.5 L1264.5 1394.5 L1276.5 1394.5 L1282.5 1406.5 L1314.5 1406.5 L1314.5 1400.5 L1322.5 1394.5 L1322.5 1350.5 L1314.5 1342.5 Z" fill="none" stroke-width="3.1"/>
<circle cx="1293.5" cy="1372.5" r="5.0" fill="none" stroke-width="2.6"/>
<path d="M1287.5 1372.5 L1299.5 1372.5" fill="none" stroke-width="1.8"/>
<path d="M1293.5 1366.5 L1293.5 1378.5" fill="none" stroke-width="1.8"/>
<path d="M1226.5 1341.5 L1358.5 1341.5" fill="none" stroke-width="2.2" stroke-dasharray="16 7"/>
<path d="M1226.5 1403.5 L1358.5 1403.5" fill="none" stroke-width="2.2" stroke-dasharray="16 7"/>
<circle cx="944.8" cy="1372.5" r="59.0" fill="none" stroke-width="2.4" stroke-dasharray="20 7"/>
<circle cx="944.8" cy="1372.5" r="50.0" fill="none" stroke-width="4.0"/>
<circle cx="944.8" cy="1372.5" r="44.5" fill="none" stroke-width="2.9"/>
<path d="M916.8 1342.5 L916.8 1394.5 L928.8 1394.5 L934.8 1406.5 L966.8 1406.5 L966.8 1400.5 L974.8 1394.5 L974.8 1350.5 L966.8 1342.5 Z" fill="none" stroke-width="3.1"/>
<circle cx="945.8" cy="1372.5" r="5.0" fill="none" stroke-width="2.6"/>
<path d="M939.8 1372.5 L951.8 1372.5" fill="none" stroke-width="1.8"/>
<path d="M945.8 1366.5 L945.8 1378.5" fill="none" stroke-width="1.8"/>
<path d="M878.8 1341.5 L1010.8 1341.5" fill="none" stroke-width="2.2" stroke-dasharray="16 7"/>
<path d="M878.8 1403.5 L1010.8 1403.5" fill="none" stroke-width="2.2" stroke-dasharray="16 7"/>
<circle cx="2851.0" cy="1372.5" r="59.0" fill="none" stroke-width="2.4" stroke-dasharray="20 7"/>
<circle cx="2851.0" cy="1372.5" r="50.0" fill="none" stroke-width="4.0"/>
<circle cx="2851.0" cy="1372.5" r="44.5" fill="none" stroke-width="2.9"/>
<path d="M2823.0 1342.5 L2823.0 1394.5 L2835.0 1394.5 L2841.0 1406.5 L2873.0 1406.5 L2873.0 1400.5 L2881.0 1394.5 L2881.0 1350.5 L2873.0 1342.5 Z" fill="none" stroke-width="3.1"/>
<circle cx="2852.0" cy="1372.5" r="5.0" fill="none" stroke-width="2.6"/>
<path d="M2846.0 1372.5 L2858.0 1372.5" fill="none" stroke-width="1.8"/>
<path d="M2852.0 1366.5 L2852.0 1378.5" fill="none" stroke-width="1.8"/>
<path d="M2785.0 1341.5 L2917.0 1341.5" fill="none" stroke-width="2.2" stroke-dasharray="16 7"/>
<path d="M2785.0 1403.5 L2917.0 1403.5" fill="none" stroke-width="2.2" stroke-dasharray="16 7"/>
<circle cx="3196.0" cy="1372.5" r="56.0" fill="none" stroke-width="2.4" stroke-dasharray="20 7"/>
<circle cx="3196.0" cy="1372.5" r="47.5" fill="none" stroke-width="4.0"/>
<circle cx="3196.0" cy="1372.5" r="42.3" fill="none" stroke-width="2.9"/>
<path d="M3169.4 1344.0 L3169.4 1393.4 L3180.8 1393.4 L3186.5 1404.8 L3216.9 1404.8 L3216.9 1399.1 L3224.5 1393.4 L3224.5 1351.6 L3216.9 1344.0 Z" fill="none" stroke-width="3.1"/>
<circle cx="3197.0" cy="1372.5" r="5.0" fill="none" stroke-width="2.6"/>
<path d="M3191.0 1372.5 L3203.0 1372.5" fill="none" stroke-width="1.8"/>
<path d="M3197.0 1366.5 L3197.0 1378.5" fill="none" stroke-width="1.8"/>
<path d="M3133.3 1343.1 L3258.7 1343.0" fill="none" stroke-width="2.2" stroke-dasharray="16 7"/>
<path d="M3133.3 1402.0 L3258.7 1401.9" fill="none" stroke-width="2.2" stroke-dasharray="16 7"/>
<path d="M1815.5 1123.7 L1874.5 1123.7 L1874.6 1182.7 L1815.6 1182.7 Z" fill="none" stroke-width="3.1"/>
<path d="M1815.6 1221.7 L1874.6 1221.7 L1874.6 1280.7 L1815.6 1280.7 Z" fill="none" stroke-width="3.1"/>
<path d="M1815.5 1137.7 L1874.5 1137.7" fill="none" stroke-width="2.2" stroke-dasharray="10 5"/>
<path d="M1815.6 1266.7 L1874.6 1266.7" fill="none" stroke-width="2.2" stroke-dasharray="10 5"/>
<path d="M1815.6 1164.7 L1874.6 1164.7" fill="none" stroke-width="2.9"/>
<path d="M1815.6 1176.7 L1874.6 1176.7" fill="none" stroke-width="2.9"/>
<path d="M1815.6 1241.7 L1874.6 1241.7" fill="none" stroke-width="2.9"/>
<path d="M1815.6 1227.7 L1874.6 1227.7" fill="none" stroke-width="2.9"/>
<rect x="1806.6" y="1184.7" width="88.0" height="34.9" rx="15.0" fill="none" stroke-width="3.1"/>
<path d="M1798.6 1202.2 L1906.6 1202.2" fill="none" stroke-width="2.0" stroke-dasharray="22 5 3 5"/>
<path d="M1815.6 1184.7 L1815.6 1219.7" fill="none" stroke-width="2.4"/>
<path d="M1874.6 1184.7 L1874.6 1219.7" fill="none" stroke-width="2.4"/>
<path d="M1874.5 1127.7 L1883.5 1127.7 L1883.5 1137.7 L1874.5 1137.7 Z" fill="none" stroke-width="2.6"/>
<path d="M1874.6 1266.7 L1883.6 1266.7 L1883.6 1278.7 L1874.6 1278.7 Z" fill="none" stroke-width="2.6"/>
<path d="M1815.6 1293.5 L1874.6 1293.5 L1874.7 1353.0 L1815.7 1353.0 Z" fill="none" stroke-width="3.1"/>
<path d="M1815.7 1392.0 L1874.7 1392.0 L1874.8 1451.5 L1815.8 1451.5 Z" fill="none" stroke-width="3.1"/>
<path d="M1815.7 1307.5 L1874.7 1307.5" fill="none" stroke-width="2.2" stroke-dasharray="10 5"/>
<path d="M1815.7 1437.5 L1874.7 1437.5" fill="none" stroke-width="2.2" stroke-dasharray="10 5"/>
<path d="M1815.7 1334.5 L1874.7 1334.5" fill="none" stroke-width="2.9"/>
<path d="M1815.7 1347.0 L1874.7 1347.0" fill="none" stroke-width="2.9"/>
<path d="M1815.7 1412.0 L1874.7 1412.0" fill="none" stroke-width="2.9"/>
<path d="M1815.7 1398.0 L1874.7 1398.0" fill="none" stroke-width="2.9"/>
<rect x="1806.7" y="1355.0" width="88.0" height="34.9" rx="15.0" fill="none" stroke-width="3.1"/>
<path d="M1798.7 1372.5 L1906.7 1372.4" fill="none" stroke-width="2.0" stroke-dasharray="22 5 3 5"/>
<path d="M1815.7 1355.0 L1815.7 1390.0" fill="none" stroke-width="2.4"/>
<path d="M1874.7 1355.0 L1874.7 1390.0" fill="none" stroke-width="2.4"/>
<path d="M1874.6 1297.5 L1883.6 1297.5 L1883.7 1307.5 L1874.7 1307.5 Z" fill="none" stroke-width="2.6"/>
<path d="M1874.7 1437.5 L1883.7 1437.5 L1883.8 1449.5 L1874.8 1449.5 Z" fill="none" stroke-width="2.6"/>
<path d="M1815.8 1466.7 L1874.8 1466.7 L1874.8 1525.7 L1815.8 1525.7 Z" fill="none" stroke-width="3.1"/>
<path d="M1815.8 1564.7 L1874.8 1564.7 L1874.9 1623.7 L1815.9 1623.7 Z" fill="none" stroke-width="3.1"/>
<path d="M1815.8 1480.7 L1874.8 1480.7" fill="none" stroke-width="2.2" stroke-dasharray="10 5"/>
<path d="M1815.9 1609.7 L1874.9 1609.7" fill="none" stroke-width="2.2" stroke-dasharray="10 5"/>
<path d="M1815.8 1507.7 L1874.8 1507.7" fill="none" stroke-width="2.9"/>
<path d="M1815.8 1519.7 L1874.8 1519.7" fill="none" stroke-width="2.9"/>
<path d="M1815.8 1584.7 L1874.8 1584.7" fill="none" stroke-width="2.9"/>
<path d="M1815.8 1570.7 L1874.8 1570.7" fill="none" stroke-width="2.9"/>
<rect x="1806.8" y="1527.7" width="88.0" height="34.9" rx="15.0" fill="none" stroke-width="3.1"/>
<path d="M1798.8 1545.2 L1906.8 1545.2" fill="none" stroke-width="2.0" stroke-dasharray="22 5 3 5"/>
<path d="M1815.8 1527.7 L1815.8 1562.7" fill="none" stroke-width="2.4"/>
<path d="M1874.8 1527.7 L1874.8 1562.7" fill="none" stroke-width="2.4"/>
<path d="M1874.8 1470.7 L1883.8 1470.7 L1883.8 1480.7 L1874.8 1480.7 Z" fill="none" stroke-width="2.6"/>
<path d="M1874.9 1609.7 L1883.9 1609.7 L1883.9 1621.7 L1874.9 1621.7 Z" fill="none" stroke-width="2.6"/>
<path d="M1968.5 1123.6 L2024.8 1123.6 L2024.9 1182.6 L1968.6 1182.6 Z" fill="none" stroke-width="3.1"/>
<path d="M1968.6 1221.6 L2024.9 1221.6 L2024.9 1280.6 L1968.6 1280.6 Z" fill="none" stroke-width="3.1"/>
<path d="M1968.5 1137.6 L2024.8 1137.6" fill="none" stroke-width="2.2" stroke-dasharray="10 5"/>
<path d="M1968.6 1266.6 L2024.9 1266.6" fill="none" stroke-width="2.2" stroke-dasharray="10 5"/>
<path d="M1968.6 1164.6 L2024.9 1164.6" fill="none" stroke-width="2.9"/>
<path d="M1968.6 1176.6 L2024.9 1176.6" fill="none" stroke-width="2.9"/>
<path d="M1968.6 1241.6 L2024.9 1241.6" fill="none" stroke-width="2.9"/>
<path d="M1968.6 1227.6 L2024.9 1227.6" fill="none" stroke-width="2.9"/>
<rect x="1948.6" y="1184.6" width="85.3" height="34.9" rx="15.0" fill="none" stroke-width="3.1"/>
<path d="M1940.6 1202.1 L2045.9 1202.1" fill="none" stroke-width="2.0" stroke-dasharray="22 5 3 5"/>
<path d="M1968.6 1184.6 L1968.6 1219.6" fill="none" stroke-width="2.4"/>
<path d="M2024.9 1184.6 L2024.9 1219.6" fill="none" stroke-width="2.4"/>
<path d="M1959.5 1127.6 L1968.5 1127.6 L1968.5 1137.6 L1959.5 1137.6 Z" fill="none" stroke-width="2.6"/>
<path d="M1959.6 1266.6 L1968.6 1266.6 L1968.6 1278.6 L1959.6 1278.6 Z" fill="none" stroke-width="2.6"/>
<path d="M1968.6 1293.5 L2024.9 1293.5 L2025.0 1353.0 L1968.7 1353.0 Z" fill="none" stroke-width="3.1"/>
<path d="M1968.7 1392.0 L2025.0 1392.0 L2025.1 1451.5 L1968.8 1451.5 Z" fill="none" stroke-width="3.1"/>
<path d="M1968.7 1307.5 L2025.0 1307.5" fill="none" stroke-width="2.2" stroke-dasharray="10 5"/>
<path d="M1968.7 1437.5 L2025.0 1437.5" fill="none" stroke-width="2.2" stroke-dasharray="10 5"/>
<path d="M1968.7 1334.5 L2025.0 1334.5" fill="none" stroke-width="2.9"/>
<path d="M1968.7 1347.0 L2025.0 1347.0" fill="none" stroke-width="2.9"/>
<path d="M1968.7 1412.0 L2025.0 1412.0" fill="none" stroke-width="2.9"/>
<path d="M1968.7 1398.0 L2025.0 1398.0" fill="none" stroke-width="2.9"/>
<rect x="1948.7" y="1355.0" width="85.3" height="34.9" rx="15.0" fill="none" stroke-width="3.1"/>
<path d="M1940.7 1372.5 L2046.0 1372.4" fill="none" stroke-width="2.0" stroke-dasharray="22 5 3 5"/>
<path d="M1968.7 1355.0 L1968.7 1390.0" fill="none" stroke-width="2.4"/>
<path d="M2025.0 1355.0 L2025.0 1390.0" fill="none" stroke-width="2.4"/>
<path d="M1959.6 1297.5 L1968.6 1297.5 L1968.7 1307.5 L1959.7 1307.5 Z" fill="none" stroke-width="2.6"/>
<path d="M1959.7 1437.5 L1968.7 1437.5 L1968.8 1449.5 L1959.8 1449.5 Z" fill="none" stroke-width="2.6"/>
<path d="M1968.8 1466.6 L2025.1 1466.6 L2025.1 1525.6 L1968.8 1525.6 Z" fill="none" stroke-width="3.1"/>
<path d="M1968.8 1564.6 L2025.1 1564.6 L2025.2 1623.6 L1968.9 1623.6 Z" fill="none" stroke-width="3.1"/>
<path d="M1968.8 1480.6 L2025.1 1480.6" fill="none" stroke-width="2.2" stroke-dasharray="10 5"/>
<path d="M1968.9 1609.6 L2025.2 1609.6" fill="none" stroke-width="2.2" stroke-dasharray="10 5"/>
<path d="M1968.8 1507.6 L2025.1 1507.6" fill="none" stroke-width="2.9"/>
<path d="M1968.8 1519.6 L2025.1 1519.6" fill="none" stroke-width="2.9"/>
<path d="M1968.8 1584.6 L2025.1 1584.6" fill="none" stroke-width="2.9"/>
<path d="M1968.8 1570.6 L2025.1 1570.6" fill="none" stroke-width="2.9"/>
<rect x="1948.8" y="1527.6" width="85.3" height="34.9" rx="15.0" fill="none" stroke-width="3.1"/>
<path d="M1940.8 1545.1 L2046.1 1545.1" fill="none" stroke-width="2.0" stroke-dasharray="22 5 3 5"/>
<path d="M1968.8 1527.6 L1968.8 1562.6" fill="none" stroke-width="2.4"/>
<path d="M2025.1 1527.6 L2025.1 1562.6" fill="none" stroke-width="2.4"/>
<path d="M1959.8 1470.6 L1968.8 1470.6 L1968.8 1480.6 L1959.8 1480.6 Z" fill="none" stroke-width="2.6"/>
<path d="M1959.9 1609.6 L1968.9 1609.6 L1968.9 1621.6 L1959.9 1621.6 Z" fill="none" stroke-width="2.6"/>
<path d="M2178.4 1123.5 L2233.8 1123.4 L2233.9 1182.4 L2178.5 1182.5 Z" fill="none" stroke-width="3.1"/>
<path d="M2178.5 1221.5 L2233.9 1221.4 L2233.9 1280.4 L2178.5 1280.5 Z" fill="none" stroke-width="3.1"/>
<path d="M2178.4 1137.5 L2233.8 1137.4" fill="none" stroke-width="2.2" stroke-dasharray="10 5"/>
<path d="M2178.5 1266.5 L2233.9 1266.4" fill="none" stroke-width="2.2" stroke-dasharray="10 5"/>
<path d="M2178.5 1164.5 L2233.9 1164.4" fill="none" stroke-width="2.9"/>
<path d="M2178.5 1176.5 L2233.9 1176.4" fill="none" stroke-width="2.9"/>
<path d="M2178.5 1241.5 L2233.9 1241.4" fill="none" stroke-width="2.9"/>
<path d="M2178.5 1227.5 L2233.9 1227.4" fill="none" stroke-width="2.9"/>
<rect x="2169.5" y="1184.5" width="84.4" height="34.9" rx="15.0" fill="none" stroke-width="3.1"/>
<path d="M2161.5 1202.0 L2265.9 1201.9" fill="none" stroke-width="2.0" stroke-dasharray="22 5 3 5"/>
<path d="M2178.5 1184.5 L2178.5 1219.5" fill="none" stroke-width="2.4"/>
<path d="M2233.9 1184.4 L2233.9 1219.4" fill="none" stroke-width="2.4"/>
<path d="M2233.8 1127.4 L2242.8 1127.4 L2242.8 1137.4 L2233.8 1137.4 Z" fill="none" stroke-width="2.6"/>
<path d="M2233.9 1266.4 L2242.9 1266.4 L2242.9 1278.4 L2233.9 1278.4 Z" fill="none" stroke-width="2.6"/>
<path d="M2178.7 1466.5 L2234.1 1466.4 L2234.1 1525.4 L2178.7 1525.5 Z" fill="none" stroke-width="3.1"/>
<path d="M2178.7 1564.5 L2234.1 1564.4 L2234.2 1623.4 L2178.8 1623.5 Z" fill="none" stroke-width="3.1"/>
<path d="M2178.7 1480.5 L2234.1 1480.4" fill="none" stroke-width="2.2" stroke-dasharray="10 5"/>
<path d="M2178.8 1609.5 L2234.2 1609.4" fill="none" stroke-width="2.2" stroke-dasharray="10 5"/>
<path d="M2178.7 1507.5 L2234.1 1507.4" fill="none" stroke-width="2.9"/>
<path d="M2178.7 1519.5 L2234.1 1519.4" fill="none" stroke-width="2.9"/>
<path d="M2178.7 1584.5 L2234.1 1584.4" fill="none" stroke-width="2.9"/>
<path d="M2178.7 1570.5 L2234.1 1570.4" fill="none" stroke-width="2.9"/>
<rect x="2169.7" y="1527.5" width="84.4" height="34.9" rx="15.0" fill="none" stroke-width="3.1"/>
<path d="M2161.7 1545.0 L2266.1 1544.9" fill="none" stroke-width="2.0" stroke-dasharray="22 5 3 5"/>
<path d="M2178.7 1527.5 L2178.7 1562.5" fill="none" stroke-width="2.4"/>
<path d="M2234.1 1527.4 L2234.1 1562.4" fill="none" stroke-width="2.4"/>
<path d="M2234.1 1470.4 L2243.1 1470.4 L2243.1 1480.4 L2234.1 1480.4 Z" fill="none" stroke-width="2.6"/>
<path d="M2234.2 1609.4 L2243.2 1609.4 L2243.2 1621.4 L2234.2 1621.4 Z" fill="none" stroke-width="2.6"/>
<path d="M2323.8 1123.4 L2381.8 1123.3 L2381.9 1182.3 L2323.9 1182.4 Z" fill="none" stroke-width="3.1"/>
<path d="M2323.9 1221.4 L2381.9 1221.3 L2381.9 1280.3 L2323.9 1280.4 Z" fill="none" stroke-width="3.1"/>
<path d="M2323.8 1137.4 L2381.8 1137.3" fill="none" stroke-width="2.2" stroke-dasharray="10 5"/>
<path d="M2323.9 1266.4 L2381.9 1266.3" fill="none" stroke-width="2.2" stroke-dasharray="10 5"/>
<path d="M2323.9 1164.4 L2381.9 1164.3" fill="none" stroke-width="2.9"/>
<path d="M2323.9 1176.4 L2381.9 1176.3" fill="none" stroke-width="2.9"/>
<path d="M2323.9 1241.4 L2381.9 1241.3" fill="none" stroke-width="2.9"/>
<path d="M2323.9 1227.4 L2381.9 1227.3" fill="none" stroke-width="2.9"/>
<rect x="2303.9" y="1184.4" width="87.0" height="34.9" rx="15.0" fill="none" stroke-width="3.1"/>
<path d="M2295.9 1201.9 L2402.9 1201.8" fill="none" stroke-width="2.0" stroke-dasharray="22 5 3 5"/>
<path d="M2323.9 1184.4 L2323.9 1219.4" fill="none" stroke-width="2.4"/>
<path d="M2381.9 1184.3 L2381.9 1219.3" fill="none" stroke-width="2.4"/>
<path d="M2314.8 1127.4 L2323.8 1127.4 L2323.8 1137.4 L2314.8 1137.4 Z" fill="none" stroke-width="2.6"/>
<path d="M2314.9 1266.4 L2323.9 1266.4 L2323.9 1278.4 L2314.9 1278.4 Z" fill="none" stroke-width="2.6"/>
<path d="M2324.1 1466.4 L2382.1 1466.3 L2382.1 1525.3 L2324.1 1525.4 Z" fill="none" stroke-width="3.1"/>
<path d="M2324.1 1564.4 L2382.1 1564.3 L2382.2 1623.3 L2324.2 1623.4 Z" fill="none" stroke-width="3.1"/>
<path d="M2324.1 1480.4 L2382.1 1480.3" fill="none" stroke-width="2.2" stroke-dasharray="10 5"/>
<path d="M2324.2 1609.4 L2382.2 1609.3" fill="none" stroke-width="2.2" stroke-dasharray="10 5"/>
<path d="M2324.1 1507.4 L2382.1 1507.3" fill="none" stroke-width="2.9"/>
<path d="M2324.1 1519.4 L2382.1 1519.3" fill="none" stroke-width="2.9"/>
<path d="M2324.1 1584.4 L2382.1 1584.3" fill="none" stroke-width="2.9"/>
<path d="M2324.1 1570.4 L2382.1 1570.3" fill="none" stroke-width="2.9"/>
<rect x="2304.1" y="1527.4" width="87.0" height="34.9" rx="15.0" fill="none" stroke-width="3.1"/>
<path d="M2296.1 1544.9 L2403.1 1544.8" fill="none" stroke-width="2.0" stroke-dasharray="22 5 3 5"/>
<path d="M2324.1 1527.4 L2324.1 1562.4" fill="none" stroke-width="2.4"/>
<path d="M2382.1 1527.3 L2382.1 1562.3" fill="none" stroke-width="2.4"/>
<path d="M2315.1 1470.4 L2324.1 1470.4 L2324.1 1480.4 L2315.1 1480.4 Z" fill="none" stroke-width="2.6"/>
<path d="M2315.2 1609.4 L2324.2 1609.4 L2324.2 1621.4 L2315.2 1621.4 Z" fill="none" stroke-width="2.6"/>
<path d="M2323.9 1293.5 L2381.9 1293.5 L2382.0 1353.0 L2324.0 1353.0 Z" fill="none" stroke-width="3.1"/>
<path d="M2324.0 1392.0 L2382.0 1392.0 L2382.1 1451.5 L2324.1 1451.5 Z" fill="none" stroke-width="3.1"/>
<path d="M2324.0 1307.5 L2382.0 1307.5" fill="none" stroke-width="2.2" stroke-dasharray="10 5"/>
<path d="M2324.0 1437.5 L2382.0 1437.5" fill="none" stroke-width="2.2" stroke-dasharray="10 5"/>
<path d="M2324.0 1334.5 L2382.0 1334.5" fill="none" stroke-width="2.9"/>
<path d="M2324.0 1347.0 L2382.0 1347.0" fill="none" stroke-width="2.9"/>
<path d="M2324.0 1412.0 L2382.0 1412.0" fill="none" stroke-width="2.9"/>
<path d="M2324.0 1398.0 L2382.0 1398.0" fill="none" stroke-width="2.9"/>
<rect x="2304.0" y="1355.0" width="87.0" height="34.9" rx="15.0" fill="none" stroke-width="3.1"/>
<path d="M2296.0 1372.5 L2403.0 1372.4" fill="none" stroke-width="2.0" stroke-dasharray="22 5 3 5"/>
<path d="M2324.0 1355.0 L2324.0 1390.0" fill="none" stroke-width="2.4"/>
<path d="M2382.0 1355.0 L2382.0 1390.0" fill="none" stroke-width="2.4"/>
<path d="M2314.9 1297.5 L2323.9 1297.5 L2324.0 1307.5 L2315.0 1307.5 Z" fill="none" stroke-width="2.6"/>
<path d="M2315.0 1437.5 L2324.0 1437.5 L2324.1 1449.5 L2315.1 1449.5 Z" fill="none" stroke-width="2.6"/>
<path d="M2414.8 1128.3 L2470.8 1128.3 L2470.9 1184.8 L2414.9 1184.8 Z" fill="none" stroke-width="3.1"/>
<path d="M2414.9 1223.8 L2470.9 1223.8 L2470.9 1280.3 L2414.9 1280.3 Z" fill="none" stroke-width="3.1"/>
<path d="M2414.8 1142.3 L2470.8 1142.3" fill="none" stroke-width="2.2" stroke-dasharray="10 5"/>
<path d="M2414.9 1266.3 L2470.9 1266.3" fill="none" stroke-width="2.2" stroke-dasharray="10 5"/>
<path d="M2414.9 1169.3 L2470.9 1169.3" fill="none" stroke-width="2.9"/>
<path d="M2414.9 1178.8 L2470.9 1178.8" fill="none" stroke-width="2.9"/>
<path d="M2414.9 1243.8 L2470.9 1243.8" fill="none" stroke-width="2.9"/>
<path d="M2414.9 1229.8 L2470.9 1229.8" fill="none" stroke-width="2.9"/>
<rect x="2405.9" y="1186.8" width="85.0" height="34.9" rx="15.0" fill="none" stroke-width="3.1"/>
<path d="M2397.9 1204.3 L2502.9 1204.2" fill="none" stroke-width="2.0" stroke-dasharray="22 5 3 5"/>
<path d="M2414.9 1186.8 L2414.9 1221.8" fill="none" stroke-width="2.4"/>
<path d="M2470.9 1186.8 L2470.9 1221.8" fill="none" stroke-width="2.4"/>
<path d="M2470.8 1132.3 L2479.8 1132.3 L2479.8 1142.3 L2470.8 1142.3 Z" fill="none" stroke-width="2.6"/>
<path d="M2470.9 1266.3 L2479.9 1266.3 L2479.9 1278.3 L2470.9 1278.3 Z" fill="none" stroke-width="2.6"/>
<path d="M2475.9 1168.3 L2475.9 1250.3" fill="none" stroke-width="2.6"/>
<path d="M2481.9 1168.3 L2481.9 1250.3" fill="none" stroke-width="2.6"/>
<path d="M2414.9 1293.5 L2470.9 1293.5 L2471.0 1353.0 L2415.0 1353.0 Z" fill="none" stroke-width="3.1"/>
<path d="M2415.0 1392.0 L2471.0 1392.0 L2471.1 1451.5 L2415.1 1451.5 Z" fill="none" stroke-width="3.1"/>
<path d="M2415.0 1307.5 L2471.0 1307.5" fill="none" stroke-width="2.2" stroke-dasharray="10 5"/>
<path d="M2415.0 1437.5 L2471.0 1437.5" fill="none" stroke-width="2.2" stroke-dasharray="10 5"/>
<path d="M2415.0 1334.5 L2471.0 1334.5" fill="none" stroke-width="2.9"/>
<path d="M2415.0 1347.0 L2471.0 1347.0" fill="none" stroke-width="2.9"/>
<path d="M2415.0 1412.0 L2471.0 1412.0" fill="none" stroke-width="2.9"/>
<path d="M2415.0 1398.0 L2471.0 1398.0" fill="none" stroke-width="2.9"/>
<rect x="2406.0" y="1355.0" width="85.0" height="34.9" rx="15.0" fill="none" stroke-width="3.1"/>
<path d="M2398.0 1372.5 L2503.0 1372.4" fill="none" stroke-width="2.0" stroke-dasharray="22 5 3 5"/>
<path d="M2415.0 1355.0 L2415.0 1390.0" fill="none" stroke-width="2.4"/>
<path d="M2471.0 1355.0 L2471.0 1390.0" fill="none" stroke-width="2.4"/>
<path d="M2470.9 1297.5 L2479.9 1297.5 L2480.0 1307.5 L2471.0 1307.5 Z" fill="none" stroke-width="2.6"/>
<path d="M2471.0 1437.5 L2480.0 1437.5 L2480.1 1449.5 L2471.1 1449.5 Z" fill="none" stroke-width="2.6"/>
<path d="M2476.0 1333.5 L2476.0 1421.5" fill="none" stroke-width="2.6"/>
<path d="M2482.0 1333.5 L2482.0 1421.5" fill="none" stroke-width="2.6"/>
<path d="M2415.1 1466.3 L2471.1 1466.3 L2471.1 1522.8 L2415.1 1522.8 Z" fill="none" stroke-width="3.1"/>
<path d="M2415.1 1561.8 L2471.1 1561.8 L2471.2 1618.3 L2415.2 1618.3 Z" fill="none" stroke-width="3.1"/>
<path d="M2415.1 1480.3 L2471.1 1480.3" fill="none" stroke-width="2.2" stroke-dasharray="10 5"/>
<path d="M2415.2 1604.3 L2471.2 1604.3" fill="none" stroke-width="2.2" stroke-dasharray="10 5"/>
<path d="M2415.1 1507.3 L2471.1 1507.3" fill="none" stroke-width="2.9"/>
<path d="M2415.1 1516.8 L2471.1 1516.8" fill="none" stroke-width="2.9"/>
<path d="M2415.1 1581.8 L2471.1 1581.8" fill="none" stroke-width="2.9"/>
<path d="M2415.1 1567.8 L2471.1 1567.8" fill="none" stroke-width="2.9"/>
<rect x="2406.1" y="1524.8" width="85.0" height="34.9" rx="15.0" fill="none" stroke-width="3.1"/>
<path d="M2398.1 1542.3 L2503.1 1542.2" fill="none" stroke-width="2.0" stroke-dasharray="22 5 3 5"/>
<path d="M2415.1 1524.8 L2415.1 1559.8" fill="none" stroke-width="2.4"/>
<path d="M2471.1 1524.8 L2471.1 1559.8" fill="none" stroke-width="2.4"/>
<path d="M2471.1 1470.3 L2480.1 1470.3 L2480.1 1480.3 L2471.1 1480.3 Z" fill="none" stroke-width="2.6"/>
<path d="M2471.2 1604.3 L2480.2 1604.3 L2480.2 1616.3 L2471.2 1616.3 Z" fill="none" stroke-width="2.6"/>
<path d="M2476.1 1506.3 L2476.2 1588.3" fill="none" stroke-width="2.6"/>
<path d="M2482.1 1506.3 L2482.2 1588.3" fill="none" stroke-width="2.6"/>
<rect x="2167.8" y="1116.5" width="223.1" height="165.8" rx="12.0" fill="none" stroke-width="2.2"/>
<rect x="2168.1" y="1464.5" width="223.1" height="165.8" rx="12.0" fill="none" stroke-width="2.2"/>
<rect x="2261.9" y="1290.4" width="129.1" height="165.9" rx="12.0" fill="none" stroke-width="2.2"/>
<rect x="2407.8" y="1116.3" width="123.1" height="165.9" rx="12.0" fill="none" stroke-width="2.2"/>
<rect x="2407.9" y="1290.3" width="123.1" height="165.9" rx="12.0" fill="none" stroke-width="2.2"/>
<rect x="2408.1" y="1464.3" width="123.1" height="165.9" rx="12.0" fill="none" stroke-width="2.2"/>
<path d="M724.1 1374.5 L784.4 1395.5" fill="none" stroke-width="3.1"/>
<path d="M724.1 1374.5 L793.8 1205.7" fill="none" stroke-width="3.1"/>
<path d="M739.2 1379.8 L808.9 1210.9" fill="none" stroke-width="3.1"/>
<path d="M754.2 1385.0 L823.9 1216.2" fill="none" stroke-width="3.1"/>
<path d="M769.3 1390.3 L839.0 1221.4" fill="none" stroke-width="3.1"/>
<path d="M784.4 1395.5 L854.1 1226.7" fill="none" stroke-width="3.1"/>
<path d="M793.8 1205.7 C794.9 1204.7 798.6 1201.0 800.6 1199.6 C802.6 1198.2 804.6 1196.8 805.9 1197.2 C807.2 1197.7 807.7 1199.9 808.1 1202.2 C808.6 1204.5 808.7 1209.5 808.9 1210.9" fill="none" stroke-width="3.1"/>
<path d="M808.9 1210.9 C810.0 1209.9 813.7 1206.3 815.7 1204.9 C817.7 1203.4 819.7 1202.0 821.0 1202.5 C822.2 1202.9 822.7 1205.2 823.2 1207.5 C823.7 1209.8 823.8 1214.7 823.9 1216.2" fill="none" stroke-width="3.1"/>
<path d="M823.9 1216.2 C825.1 1215.2 828.7 1211.5 830.7 1210.1 C832.8 1208.7 834.8 1207.3 836.0 1207.7 C837.3 1208.2 837.8 1210.4 838.3 1212.7 C838.8 1215.0 838.9 1220.0 839.0 1221.4" fill="none" stroke-width="3.1"/>
<path d="M839.0 1221.4 C840.1 1220.4 843.8 1216.8 845.8 1215.4 C847.8 1213.9 849.9 1212.5 851.1 1213.0 C852.4 1213.4 852.9 1215.7 853.4 1218.0 C853.8 1220.3 854.0 1225.2 854.1 1226.7" fill="none" stroke-width="3.1"/>
<path d="M731.9 1529.5 L771.1 1511.3" fill="none" stroke-width="3.1"/>
<path d="M731.9 1529.5 L657.6 1359.8" fill="none" stroke-width="3.1"/>
<path d="M744.9 1523.4 L670.7 1353.7" fill="none" stroke-width="3.1"/>
<path d="M758.0 1517.4 L683.7 1347.6" fill="none" stroke-width="3.1"/>
<path d="M771.1 1511.3 L696.8 1341.6" fill="none" stroke-width="3.1"/>
<path d="M657.6 1359.8 L696.8 1341.6" fill="none" stroke-width="3.1"/>
<path d="M744.2 1231.2 L766.7 1239.3 L762.1 1251.9 L739.6 1243.8 Z" fill="none" stroke-width="3.1"/>
<path d="M739.2 1249.6 L761.7 1257.7 L757.6 1269.0 L735.1 1260.8 Z" fill="none" stroke-width="3.1"/>
<path d="M722.7 1284.8 L745.2 1292.9 L740.6 1305.5 L718.2 1297.4 Z" fill="none" stroke-width="3.1"/>
<path d="M716.8 1302.2 L739.2 1310.3 L735.2 1321.6 L712.7 1313.4 Z" fill="none" stroke-width="3.1"/>
<path d="M750.8 1266.4 L734.1 1290.4" fill="none" stroke-width="3.1"/>
<path d="M654.8 1419.3 L675.0 1411.9 L679.6 1424.5 L659.4 1431.9 Z" fill="none" stroke-width="3.1"/>
<path d="M657.5 1436.7 L677.7 1429.4 L681.8 1440.6 L661.6 1448.0 Z" fill="none" stroke-width="3.1"/>
<path d="M674.0 1474.3 L694.2 1466.9 L698.8 1479.5 L678.6 1486.9 Z" fill="none" stroke-width="3.1"/>
<path d="M679.0 1490.3 L699.2 1482.9 L703.3 1494.1 L683.1 1501.5 Z" fill="none" stroke-width="3.1"/>
<path d="M828.3 1309.4 C828.5 1307.7 828.6 1302.1 829.7 1298.9 C830.8 1295.7 833.2 1290.3 835.0 1290.3 C836.7 1290.3 839.1 1295.7 840.3 1298.9 C841.4 1302.1 841.5 1307.7 841.7 1309.4" fill="none" stroke-width="2.9"/>
<path d="M828.3 1309.4 L828.4 1449.1" fill="none" stroke-width="2.9"/>
<path d="M841.7 1309.4 L841.8 1449.1" fill="none" stroke-width="2.9"/>
<path d="M828.4 1449.1 C828.6 1450.8 828.7 1456.4 829.8 1459.6 C831.0 1462.8 833.4 1468.2 835.1 1468.2 C836.9 1468.2 839.3 1462.8 840.4 1459.6 C841.5 1456.4 841.6 1450.8 841.8 1449.1" fill="none" stroke-width="2.9"/>
<path d="M737.3 1423.7 L737.1 1419.8 L738.9 1416.2 L742.2 1414.1 L746.2 1413.9 L749.7 1415.6 L751.9 1419.0 L769.3 1472.6 L769.5 1476.6 L767.7 1480.1 L764.4 1482.3 L760.5 1482.5 L756.9 1480.7 L754.8 1477.4 Z" fill="none" stroke-width="4.6"/>
<path d="M742.6 1424.5 L742.5 1423.0 L743.2 1421.7 L744.4 1420.9 L745.9 1420.8 L747.2 1421.5 L748.0 1422.7 L764.0 1471.8 L764.1 1473.3 L763.4 1474.6 L762.2 1475.5 L760.7 1475.5 L759.4 1474.9 L758.6 1473.6 Z" fill="none" stroke-width="2.2"/>
<path d="M640.8 1232.1 L726.8 1211.4 L726.9 1228.2 L707.8 1271.2 L640.8 1271.3" fill="none" stroke-width="3.0"/>
<path d="M641.0 1500.9 L679.2 1512.8 L679.2 1531.9 L641.0 1524.8" fill="none" stroke-width="3.0"/>
<path d="M616.9 1223.5 L633.6 1223.5 L633.6 1241.6 L616.9 1241.7 Z" fill="none" stroke-width="2.4" stroke-dasharray="16 7"/>
<path d="M614.7 1505.7 L631.4 1505.6 L631.4 1522.4 L614.7 1522.4 Z" fill="none" stroke-width="2.4" stroke-dasharray="16 7"/>
<path d="M808.1 1186.0 C809.3 1183.9 811.3 1175.7 815.3 1173.1 C819.3 1170.6 827.3 1168.7 832.0 1170.7 C836.8 1172.7 842.0 1182.7 844.0 1185.1" fill="none" stroke-width="2.9"/>
<path d="M779.4 1170.8 L812.9 1185.1" fill="none" stroke-width="2.9"/>
<path d="M784.2 1177.9 L808.1 1189.9" fill="none" stroke-width="2.9"/>
<path d="M765.1 1189.9 L860.7 1132.4" fill="none" stroke-width="2.2" stroke-dasharray="16 7"/>
<path d="M808.1 1146.8 L860.7 1130.1" fill="none" stroke-width="2.2" stroke-dasharray="16 7"/>
<path d="M808.1 1144.4 L808.1 1189.9" fill="none" stroke-width="2.2"/>
<path d="M736.7 1551.0 C738.2 1552.6 741.4 1559.0 746.2 1560.6 C751.0 1562.2 761.0 1562.5 765.4 1560.6 C769.7 1558.6 771.3 1550.6 772.5 1548.6" fill="none" stroke-width="2.9"/>
<path d="M703.2 1546.2 L736.7 1553.4" fill="none" stroke-width="2.9"/>
<path d="M739.1 1577.3 L794.1 1577.3" fill="none" stroke-width="2.2" stroke-dasharray="16 7"/>
<path d="M688.8 1541.5 L784.5 1558.1" fill="none" stroke-width="2.2" stroke-dasharray="16 7"/>
<path d="M760.5 1505.6 L796.5 1601.2" fill="none" stroke-width="2.2"/>
<path d="M698.4 1548.6 L731.9 1629.9" fill="none" stroke-width="3.0"/>
<path d="M863.2 1264.0 L1023.4 1263.9 L1023.4 1270.1 L863.2 1270.2 Z" fill="none" stroke-width="2.9"/>
<path d="M856.0 1279.7 L1023.4 1279.6" fill="none" stroke-width="3.0"/>
<path d="M863.3 1473.0 L1023.6 1472.9 L1023.6 1480.5 L863.3 1480.6 Z" fill="none" stroke-width="2.9"/>
<path d="M856.2 1467.2 L1023.5 1467.1" fill="none" stroke-width="3.0"/>
<rect x="868.5" y="1276.9" width="21.0" height="4.8" rx="2.4" fill="none" stroke-width="2.4"/>
<rect x="868.6" y="1465.3" width="21.0" height="4.8" rx="2.4" fill="none" stroke-width="2.4"/>
<rect x="932.5" y="1276.8" width="21.0" height="4.8" rx="2.4" fill="none" stroke-width="2.4"/>
<rect x="932.7" y="1465.3" width="21.0" height="4.8" rx="2.4" fill="none" stroke-width="2.4"/>
<rect x="997.6" y="1276.8" width="21.0" height="4.8" rx="2.4" fill="none" stroke-width="2.4"/>
<rect x="997.7" y="1465.2" width="21.0" height="4.8" rx="2.4" fill="none" stroke-width="2.4"/>
<path d="M919.2 1280.7 L919.3 1466.2" fill="none" stroke-width="3.0"/>
<path d="M970.8 1280.6 L970.9 1466.2" fill="none" stroke-width="3.0"/>
<path d="M963.6 1285.4 L980.4 1285.4 L980.4 1295.9 L963.6 1295.9 Z" fill="none" stroke-width="2.4" stroke-dasharray="16 7"/>
<path d="M899.3 1538.9 L973.4 1538.9 L973.4 1555.6 L899.3 1555.7 Z" fill="none" stroke-width="3.3"/>
<text class="h" x="925.6" y="1553.3" font-size="22.0" textLength="16.7" lengthAdjust="spacingAndGlyphs">A</text>
<text class="h" x="963.8" y="1573.8" font-size="18.0" textLength="12.0" lengthAdjust="spacingAndGlyphs">N</text>
<path d="M956.7 1560.4 L980.6 1560.4 L980.6 1574.8" fill="none" stroke-width="2.6"/>
<path d="M1092.8 1342.7 L1100.0 1342.7 L1100.0 1412.1 L1092.9 1412.1 Z" fill="none" stroke-width="3.3"/>
<path d="M526.1 1372.8 L526.1 1350.3 L640.9 1350.2" fill="none" stroke-width="2.4" stroke-dasharray="16 7"/>
<text class="h" x="346.7" y="1299.2" font-size="22.0" textLength="78.9" lengthAdjust="spacingAndGlyphs">Trimzelle</text>
<text class="h" x="344.4" y="1450.8" font-size="22.0" textLength="81.3" lengthAdjust="spacingAndGlyphs">Trimzelle</text>
<text class="h" x="509.3" y="1316.8" font-size="22.0" textLength="74.1" lengthAdjust="spacingAndGlyphs">Trimzelle</text>
<text class="h" x="502.2" y="1438.8" font-size="22.0" textLength="76.5" lengthAdjust="spacingAndGlyphs">Trimzelle</text>
<text class="h" x="564.3" y="1269.0" font-size="21.0" textLength="64.6" lengthAdjust="spacingAndGlyphs">IV Tunnel</text>
<text class="h" x="564.4" y="1491.3" font-size="21.0" textLength="64.6" lengthAdjust="spacingAndGlyphs">IV Tunnel</text>
<text class="h" x="652.7" y="1245.0" font-size="21.0" textLength="38.3" lengthAdjust="spacingAndGlyphs">Torp.</text>
<text class="h" x="648.0" y="1268.9" font-size="21.0" textLength="45.4" lengthAdjust="spacingAndGlyphs">Ladg.</text>
<text class="h" x="643.2" y="1326.3" font-size="22.0" textLength="90.9" lengthAdjust="spacingAndGlyphs">Torp.Breits.</text>
<text class="h" x="762.9" y="1431.4" font-size="22.0" textLength="47.8" lengthAdjust="spacingAndGlyphs">Raum</text>
<text class="h" x="640.0" y="1509.5" font-size="18.0" textLength="28.7" lengthAdjust="spacingAndGlyphs">Torp.</text>
<text class="h" x="640.0" y="1527.2" font-size="18.0" textLength="35.9" lengthAdjust="spacingAndGlyphs">Zünd.</text>
<text class="h" x="796.4" y="1522.3" font-size="20.0" textLength="35.9" lengthAdjust="spacingAndGlyphs">Torp.</text>
<text class="h" x="789.3" y="1546.2" font-size="20.0" textLength="52.6" lengthAdjust="spacingAndGlyphs">Helleg.</text>
<text class="h" x="865.5" y="1216.1" font-size="24.0" textLength="143.5" lengthAdjust="spacingAndGlyphs">38 cm Granat.-K.</text>
<text class="h" x="903.8" y="1252.0" font-size="24.0" textLength="71.7" lengthAdjust="spacingAndGlyphs">Nr. 39 d</text>
<text class="h" x="861.0" y="1505.5" font-size="24.0" textLength="145.9" lengthAdjust="spacingAndGlyphs">38 cm Granat.-K.</text>
<text class="h" x="899.2" y="1533.2" font-size="24.0" textLength="71.7" lengthAdjust="spacingAndGlyphs">Nr. 39 c</text>
<text class="h" x="858.4" y="1309.4" font-size="22.0" textLength="43.0" lengthAdjust="spacingAndGlyphs">38 cm</text>
<text class="h" x="980.4" y="1309.3" font-size="22.0" textLength="45.4" lengthAdjust="spacingAndGlyphs">Gr.-K.</text>
<text class="h" x="973.3" y="1457.6" font-size="22.0" textLength="57.4" lengthAdjust="spacingAndGlyphs">Nr. 39 b</text>
<text class="h" x="910.9" y="1137.2" font-size="24.0" textLength="71.7" lengthAdjust="spacingAndGlyphs">Schutz-</text>
<text class="h" x="889.7" y="1625.0" font-size="24.0" textLength="71.7" lengthAdjust="spacingAndGlyphs" transform="rotate(5.0 889.7 1625.0)">Schutz-</text>
<text class="h" x="1069.1" y="1085.4" font-size="24.0" textLength="86.1" lengthAdjust="spacingAndGlyphs" transform="rotate(-4.0 1069.1 1085.4)">Wallgang</text>
<text class="h" x="1162.4" y="1122.7" font-size="24.0" textLength="74.1" lengthAdjust="spacingAndGlyphs" transform="rotate(-5.0 1162.4 1122.7)">Bunker</text>
<text class="h" x="1158.0" y="1635.4" font-size="24.0" textLength="71.7" lengthAdjust="spacingAndGlyphs" transform="rotate(4.0 1158.0 1635.4)">Bunker</text>
<text class="h" x="1067.2" y="1668.0" font-size="24.0" textLength="86.1" lengthAdjust="spacingAndGlyphs" transform="rotate(5.0 1067.2 1668.0)">Wallgang</text>
<text class="h" x="1480.5" y="1100.9" font-size="24.0" textLength="74.1" lengthAdjust="spacingAndGlyphs">Schutz-</text>
<text class="h" x="1681.3" y="1097.4" font-size="24.0" textLength="69.3" lengthAdjust="spacingAndGlyphs">Bunker</text>
<text class="h" x="1872.6" y="1094.9" font-size="24.0" textLength="78.9" lengthAdjust="spacingAndGlyphs">Schutz-</text>
<text class="h" x="1476.1" y="1661.9" font-size="24.0" textLength="74.1" lengthAdjust="spacingAndGlyphs">Schutz-</text>
<text class="h" x="1672.2" y="1662.7" font-size="24.0" textLength="69.3" lengthAdjust="spacingAndGlyphs">Bunker</text>
<text class="h" x="1868.3" y="1661.7" font-size="24.0" textLength="76.5" lengthAdjust="spacingAndGlyphs">Schutz-</text>
<text class="h" x="1064.4" y="1189.7" font-size="18.0" textLength="40.7" lengthAdjust="spacingAndGlyphs">Gewehr</text>
<text class="h" x="1066.8" y="1213.6" font-size="20.0" textLength="28.7" lengthAdjust="spacingAndGlyphs">Mun.</text>
<text class="h" x="1076.4" y="1237.5" font-size="21.0" textLength="12.0" lengthAdjust="spacingAndGlyphs">K.</text>
<text class="h" x="1064.5" y="1272.0" font-size="20.0" textLength="38.3" lengthAdjust="spacingAndGlyphs">Nr.37</text>
<text class="h" x="1126.6" y="1201.6" font-size="24.0" textLength="86.1" lengthAdjust="spacingAndGlyphs">8,8cm Patr.</text>
<text class="h" x="1150.5" y="1220.7" font-size="24.0" textLength="12.0" lengthAdjust="spacingAndGlyphs">K.</text>
<text class="h" x="1131.4" y="1247.0" font-size="24.0" textLength="47.8" lengthAdjust="spacingAndGlyphs">Nr. 53</text>
<text class="h" x="1123.3" y="1271.9" font-size="22.0" textLength="31.1" lengthAdjust="spacingAndGlyphs">‹ ›A</text>
<text class="h" x="1231.8" y="1176.2" font-size="22.0" textLength="40.7" lengthAdjust="spacingAndGlyphs">Nr.27</text>
<text class="h" x="1284.4" y="1176.1" font-size="22.0" textLength="100.4" lengthAdjust="spacingAndGlyphs">15cm Gran.-u.</text>
<text class="h" x="1286.8" y="1196.7" font-size="24.0" textLength="71.7" lengthAdjust="spacingAndGlyphs">Pulv.-K.</text>
<text class="h" x="1291.6" y="1220.6" font-size="24.0" textLength="47.8" lengthAdjust="spacingAndGlyphs">Nr. 25</text>
<text class="h" x="1234.3" y="1247.9" font-size="24.0" textLength="107.6" lengthAdjust="spacingAndGlyphs">15cm Gran.-u.</text>
<text class="h" x="1246.2" y="1269.9" font-size="24.0" textLength="71.7" lengthAdjust="spacingAndGlyphs">Pulv.-K.</text>
<text class="h" x="1042.0" y="1315.0" font-size="24.0" textLength="124.3" lengthAdjust="spacingAndGlyphs">38 cm Gran.-K.</text>
<text class="h" x="1199.9" y="1314.9" font-size="24.0" textLength="45.4" lengthAdjust="spacingAndGlyphs">38 cm</text>
<text class="h" x="1319.4" y="1314.8" font-size="22.0" textLength="59.8" lengthAdjust="spacingAndGlyphs">Gran.-K.</text>
<text class="h" x="1071.8" y="1444.1" font-size="24.0" textLength="64.6" lengthAdjust="spacingAndGlyphs">Nr. 22 c</text>
<text class="h" x="1321.5" y="1453.5" font-size="24.0" textLength="57.4" lengthAdjust="spacingAndGlyphs">Nr.22b</text>
<text class="h" x="1125.4" y="1487.1" font-size="22.0" textLength="28.7" lengthAdjust="spacingAndGlyphs">‹ ›A</text>
<text class="h" x="1234.4" y="1487.1" font-size="24.0" textLength="107.6" lengthAdjust="spacingAndGlyphs">15cm Gran.-u.</text>
<text class="h" x="1239.2" y="1511.0" font-size="24.0" textLength="67.0" lengthAdjust="spacingAndGlyphs">Pulv. K.</text>
<text class="h" x="1064.7" y="1510.1" font-size="20.0" textLength="26.3" lengthAdjust="spacingAndGlyphs">Abk.</text>
<text class="h" x="1064.7" y="1534.0" font-size="20.0" textLength="28.7" lengthAdjust="spacingAndGlyphs">Patr.</text>
<text class="h" x="1071.9" y="1555.6" font-size="21.0" textLength="12.0" lengthAdjust="spacingAndGlyphs">K.</text>
<text class="h" x="1062.3" y="1596.2" font-size="20.0" textLength="38.3" lengthAdjust="spacingAndGlyphs">Nr.36</text>
<text class="h" x="1112.5" y="1534.0" font-size="24.0" textLength="105.2" lengthAdjust="spacingAndGlyphs">8,8 cm Patr.K.</text>
<text class="h" x="1138.8" y="1579.4" font-size="24.0" textLength="45.4" lengthAdjust="spacingAndGlyphs">Nr. 32</text>
<text class="h" x="1282.3" y="1545.8" font-size="22.0" textLength="88.5" lengthAdjust="spacingAndGlyphs">15cm Gran.-</text>
<text class="h" x="1277.5" y="1567.4" font-size="22.0" textLength="102.8" lengthAdjust="spacingAndGlyphs">u.Pulver-K.</text>
<text class="h" x="1294.3" y="1591.3" font-size="22.0" textLength="47.8" lengthAdjust="spacingAndGlyphs">Nr. 29</text>
<text class="h" x="1232.1" y="1596.1" font-size="22.0" textLength="40.7" lengthAdjust="spacingAndGlyphs">Nr.26</text>
<text class="h" x="1552.3" y="1176.0" font-size="24.0" textLength="88.5" lengthAdjust="spacingAndGlyphs">Niederdr.-</text>
<text class="h" x="1571.5" y="1274.5" font-size="24.0" textLength="64.6" lengthAdjust="spacingAndGlyphs">Turb.-R.</text>
<text class="h" x="1392.2" y="1452.5" font-size="24.0" textLength="81.3" lengthAdjust="spacingAndGlyphs">Niederdr.-</text>
<text class="h" x="1521.4" y="1452.4" font-size="24.0" textLength="112.4" lengthAdjust="spacingAndGlyphs">Turb.-Raum</text>
<text class="h" x="1550.2" y="1583.9" font-size="24.0" textLength="88.5" lengthAdjust="spacingAndGlyphs">Niederdr.-</text>
<text class="h" x="1593.2" y="1605.4" font-size="24.0" textLength="45.4" lengthAdjust="spacingAndGlyphs">Turb.-</text>
<text class="h" x="1607.6" y="1625.5" font-size="24.0" textLength="14.3" lengthAdjust="spacingAndGlyphs">R.</text>
<text class="h" x="1736.4" y="1132.8" font-size="21.0" textLength="57.4" lengthAdjust="spacingAndGlyphs">Hochdr.-</text>
<text class="h" x="1738.8" y="1153.3" font-size="21.0" textLength="57.4" lengthAdjust="spacingAndGlyphs">Turb.-R.</text>
<text class="h" x="1648.0" y="1316.0" font-size="24.0" textLength="133.9" lengthAdjust="spacingAndGlyphs">Hochdr.-Turb.-R.</text>
<text class="h" x="1734.3" y="1593.4" font-size="21.0" textLength="57.4" lengthAdjust="spacingAndGlyphs">Hochdr.-</text>
<text class="h" x="1739.1" y="1612.5" font-size="21.0" textLength="43.0" lengthAdjust="spacingAndGlyphs">Turb.-</text>
<text class="h" x="1753.4" y="1631.6" font-size="21.0" textLength="13.4" lengthAdjust="spacingAndGlyphs">R.</text>
<text class="h" x="1882.3" y="1167.6" font-size="24.0" textLength="76.5" lengthAdjust="spacingAndGlyphs">I Kessel-</text>
<text class="h" x="1889.5" y="1248.9" font-size="24.0" textLength="55.0" lengthAdjust="spacingAndGlyphs">Raum</text>
<text class="h" x="1877.6" y="1342.2" font-size="24.0" textLength="71.7" lengthAdjust="spacingAndGlyphs">I Kessel</text>
<text class="h" x="1887.2" y="1421.1" font-size="24.0" textLength="55.0" lengthAdjust="spacingAndGlyphs">Raum</text>
<text class="h" x="1884.9" y="1511.9" font-size="24.0" textLength="76.5" lengthAdjust="spacingAndGlyphs">I Kessel-</text>
<text class="h" x="1887.3" y="1581.3" font-size="24.0" textLength="55.0" lengthAdjust="spacingAndGlyphs">Raum</text>
<path d="M2041.9 1113.9 L2157.6 1113.8 L2157.8 1283.1 L2042.0 1283.2 Z" fill="none" stroke-width="4.4"/>
<path d="M2106.0 1113.9 L2106.1 1283.2" fill="none" stroke-width="3.0"/>
<path d="M2042.2 1461.6 L2157.9 1461.5 L2158.0 1625.1 L2042.3 1625.2 Z" fill="none" stroke-width="4.4"/>
<path d="M2106.2 1461.6 L2106.4 1625.1" fill="none" stroke-width="3.0"/>
<path d="M2097.9 1113.9 L2107.4 1113.9 L2107.5 1162.7 L2097.9 1162.7 Z" fill="none" stroke-width="2.9"/>
<path d="M2093.1 1162.7 L2107.5 1162.7 L2107.5 1184.2 L2093.1 1184.2 Z" fill="none" stroke-width="2.9"/>
<text class="h" x="2096.2" y="1178.8" font-size="15.0" textLength="8.2" lengthAdjust="spacingAndGlyphs">A</text>
<path d="M2093.1 1186.6 L2107.5 1186.6 L2107.5 1208.1 L2093.1 1208.1 Z" fill="none" stroke-width="2.9"/>
<text class="h" x="2096.2" y="1202.7" font-size="15.0" textLength="8.2" lengthAdjust="spacingAndGlyphs">A</text>
<path d="M2088.4 1210.5 L2112.3 1210.5 L2112.3 1236.8 L2088.4 1236.8 Z" fill="none" stroke-width="5.0"/>
<text class="h" x="2095.9" y="1229.4" font-size="16.0" textLength="8.8" lengthAdjust="spacingAndGlyphs">N</text>
<path d="M2088.6 1507.0 L2112.5 1507.0 L2112.5 1528.5 L2088.6 1528.5 Z" fill="none" stroke-width="5.0"/>
<text class="h" x="2096.1" y="1523.5" font-size="16.0" textLength="8.8" lengthAdjust="spacingAndGlyphs">N</text>
<path d="M2093.4 1530.9 L2107.7 1530.9 L2107.7 1554.8 L2093.4 1554.8 Z" fill="none" stroke-width="2.9"/>
<text class="h" x="2096.4" y="1548.3" font-size="15.0" textLength="8.2" lengthAdjust="spacingAndGlyphs">A</text>
<path d="M2093.4 1557.2 L2107.7 1557.2 L2107.8 1583.5 L2093.4 1583.5 Z" fill="none" stroke-width="2.9"/>
<text class="h" x="2096.5" y="1575.8" font-size="15.0" textLength="8.2" lengthAdjust="spacingAndGlyphs">A</text>
<text class="h" x="2050.1" y="1141.2" font-size="20.0" textLength="38.3" lengthAdjust="spacingAndGlyphs">15cm</text>
<text class="h" x="2047.7" y="1162.7" font-size="20.0" textLength="40.7" lengthAdjust="spacingAndGlyphs">Gran.-</text>
<text class="h" x="2059.7" y="1183.3" font-size="20.0" textLength="12.0" lengthAdjust="spacingAndGlyphs">u.</text>
<text class="h" x="2047.7" y="1203.4" font-size="20.0" textLength="33.5" lengthAdjust="spacingAndGlyphs">Pulv.</text>
<text class="h" x="2059.7" y="1227.3" font-size="20.0" textLength="12.0" lengthAdjust="spacingAndGlyphs">K.</text>
<text class="h" x="2052.5" y="1271.3" font-size="21.0" textLength="43.0" lengthAdjust="spacingAndGlyphs">Nr.20</text>
<text class="h" x="2113.7" y="1141.1" font-size="20.0" textLength="38.3" lengthAdjust="spacingAndGlyphs">15cm</text>
<text class="h" x="2112.2" y="1162.7" font-size="20.0" textLength="40.7" lengthAdjust="spacingAndGlyphs">Gran.-</text>
<text class="h" x="2123.3" y="1183.2" font-size="20.0" textLength="12.0" lengthAdjust="spacingAndGlyphs">u.</text>
<text class="h" x="2117.1" y="1203.3" font-size="20.0" textLength="33.5" lengthAdjust="spacingAndGlyphs">Pulv.-</text>
<text class="h" x="2125.2" y="1227.2" font-size="20.0" textLength="12.0" lengthAdjust="spacingAndGlyphs">K.</text>
<text class="h" x="2112.3" y="1271.2" font-size="21.0" textLength="40.7" lengthAdjust="spacingAndGlyphs">Nr.18</text>
<text class="h" x="2050.3" y="1483.1" font-size="20.0" textLength="38.3" lengthAdjust="spacingAndGlyphs">15cm</text>
<text class="h" x="2047.9" y="1504.7" font-size="20.0" textLength="40.7" lengthAdjust="spacingAndGlyphs">Gran.-</text>
<text class="h" x="2059.9" y="1526.2" font-size="20.0" textLength="12.0" lengthAdjust="spacingAndGlyphs">u.</text>
<text class="h" x="2047.9" y="1547.7" font-size="20.0" textLength="33.5" lengthAdjust="spacingAndGlyphs">Pulv.</text>
<text class="h" x="2056.6" y="1571.6" font-size="20.0" textLength="12.0" lengthAdjust="spacingAndGlyphs">K.</text>
<text class="h" x="2047.0" y="1619.4" font-size="21.0" textLength="40.7" lengthAdjust="spacingAndGlyphs">Nr.19</text>
<text class="h" x="2112.5" y="1483.1" font-size="20.0" textLength="38.3" lengthAdjust="spacingAndGlyphs">15cm</text>
<text class="h" x="2111.1" y="1504.6" font-size="20.0" textLength="40.7" lengthAdjust="spacingAndGlyphs">Gran.-</text>
<text class="h" x="2123.5" y="1526.1" font-size="20.0" textLength="12.0" lengthAdjust="spacingAndGlyphs">u.</text>
<text class="h" x="2114.0" y="1547.7" font-size="20.0" textLength="33.5" lengthAdjust="spacingAndGlyphs">Pulv.</text>
<text class="h" x="2125.4" y="1571.6" font-size="20.0" textLength="12.0" lengthAdjust="spacingAndGlyphs">K.</text>
<text class="h" x="2100.6" y="1619.4" font-size="21.0" textLength="40.7" lengthAdjust="spacingAndGlyphs">Nr.17</text>
<path d="M2258.2 1286.9 L2258.3 1456.7" fill="none" stroke-width="3.0"/>
<path d="M2061.2 1303.8 L2061.3 1440.1" fill="none" stroke-width="2.2" stroke-dasharray="22 8"/>
<path d="M2050.2 1350.7 L2091.8 1350.6 L2091.8 1392.2 L2050.2 1392.3 Z" fill="none" stroke-width="1.8"/>
<path d="M2055.4 1350.6 L2055.4 1392.3" fill="none" stroke-width="1.8"/>
<path d="M2060.6 1350.6 L2060.6 1392.3" fill="none" stroke-width="1.8"/>
<path d="M2065.8 1350.6 L2065.8 1392.3" fill="none" stroke-width="1.8"/>
<path d="M2071.0 1350.6 L2071.0 1392.2" fill="none" stroke-width="1.8"/>
<path d="M2076.2 1350.6 L2076.2 1392.2" fill="none" stroke-width="1.8"/>
<path d="M2081.4 1350.6 L2081.4 1392.2" fill="none" stroke-width="1.8"/>
<path d="M2086.6 1350.6 L2086.6 1392.2" fill="none" stroke-width="1.8"/>
<path d="M2050.2 1371.7 L2091.8 1371.7" fill="none" stroke-width="3.0"/>
<text class="h" x="2072.7" y="1338.2" font-size="24.0" textLength="155.4" lengthAdjust="spacingAndGlyphs">Turbo-Dynamo-</text>
<text class="h" x="2114.8" y="1418.5" font-size="24.0" textLength="55.0" lengthAdjust="spacingAndGlyphs">Raum</text>
<text class="h" x="2282.1" y="1318.9" font-size="22.0" textLength="16.7" lengthAdjust="spacingAndGlyphs">II</text>
<text class="h" x="2262.1" y="1340.9" font-size="22.0" textLength="55.0" lengthAdjust="spacingAndGlyphs">Kessel.</text>
<text class="h" x="2264.0" y="1419.4" font-size="24.0" textLength="47.8" lengthAdjust="spacingAndGlyphs">Raum</text>
<text class="h" x="2241.4" y="1169.7" font-size="24.0" textLength="76.5" lengthAdjust="spacingAndGlyphs">II Kessel</text>
<text class="h" x="2247.7" y="1248.6" font-size="24.0" textLength="55.0" lengthAdjust="spacingAndGlyphs">Raum</text>
<text class="h" x="2236.8" y="1504.5" font-size="24.0" textLength="76.5" lengthAdjust="spacingAndGlyphs">II Kessel</text>
<text class="h" x="2246.5" y="1584.9" font-size="24.0" textLength="52.6" lengthAdjust="spacingAndGlyphs">Raum</text>
<text class="h" x="2499.6" y="1143.3" font-size="20.0" textLength="15.3" lengthAdjust="spacingAndGlyphs">III</text>
<text class="h" x="2487.7" y="1167.2" font-size="22.0" textLength="38.3" lengthAdjust="spacingAndGlyphs">Kes-</text>
<text class="h" x="2492.5" y="1188.7" font-size="22.0" textLength="33.5" lengthAdjust="spacingAndGlyphs">sel-</text>
<text class="h" x="2502.1" y="1234.1" font-size="22.0" textLength="13.4" lengthAdjust="spacingAndGlyphs">R.</text>
<text class="h" x="2497.4" y="1315.4" font-size="20.0" textLength="15.3" lengthAdjust="spacingAndGlyphs">III</text>
<text class="h" x="2484.0" y="1339.3" font-size="22.0" textLength="38.3" lengthAdjust="spacingAndGlyphs">Kes-</text>
<text class="h" x="2490.2" y="1360.9" font-size="22.0" textLength="33.5" lengthAdjust="spacingAndGlyphs">sel-</text>
<text class="h" x="2499.8" y="1420.6" font-size="22.0" textLength="13.4" lengthAdjust="spacingAndGlyphs">R.</text>
<text class="h" x="2497.5" y="1485.2" font-size="20.0" textLength="15.3" lengthAdjust="spacingAndGlyphs">III</text>
<text class="h" x="2485.5" y="1509.1" font-size="22.0" textLength="38.3" lengthAdjust="spacingAndGlyphs">Kes-</text>
<text class="h" x="2491.8" y="1530.6" font-size="22.0" textLength="33.5" lengthAdjust="spacingAndGlyphs">sel-</text>
<text class="h" x="2497.5" y="1581.8" font-size="22.0" textLength="13.4" lengthAdjust="spacingAndGlyphs">R.</text>
<path d="M2239.0 1113.8 L2294.0 1113.7 L2294.0 1129.0 L2239.0 1129.1 Z" fill="none" stroke-width="2.0"/>
<path d="M2245.1 1113.8 L2245.1 1129.1" fill="none" stroke-width="2.0"/>
<path d="M2251.2 1113.8 L2251.2 1129.1" fill="none" stroke-width="2.0"/>
<path d="M2257.3 1113.8 L2257.3 1129.1" fill="none" stroke-width="2.0"/>
<path d="M2263.4 1113.8 L2263.4 1129.1" fill="none" stroke-width="2.0"/>
<path d="M2269.5 1113.8 L2269.5 1129.1" fill="none" stroke-width="2.0"/>
<path d="M2275.6 1113.8 L2275.6 1129.1" fill="none" stroke-width="2.0"/>
<path d="M2281.7 1113.8 L2281.7 1129.1" fill="none" stroke-width="2.0"/>
<path d="M2287.8 1113.7 L2287.9 1129.1" fill="none" stroke-width="2.0"/>
<path d="M2239.3 1608.8 L2294.3 1608.7 L2294.3 1624.0 L2239.3 1624.1 Z" fill="none" stroke-width="2.0"/>
<path d="M2245.4 1608.8 L2245.4 1624.1" fill="none" stroke-width="2.0"/>
<path d="M2251.5 1608.8 L2251.5 1624.1" fill="none" stroke-width="2.0"/>
<path d="M2257.6 1608.8 L2257.6 1624.1" fill="none" stroke-width="2.0"/>
<path d="M2263.7 1608.8 L2263.8 1624.1" fill="none" stroke-width="2.0"/>
<path d="M2269.9 1608.8 L2269.9 1624.1" fill="none" stroke-width="2.0"/>
<path d="M2276.0 1608.8 L2276.0 1624.1" fill="none" stroke-width="2.0"/>
<path d="M2282.1 1608.8 L2282.1 1624.1" fill="none" stroke-width="2.0"/>
<path d="M2288.2 1608.7 L2288.2 1624.1" fill="none" stroke-width="2.0"/>
<text class="h" x="2050.0" y="1052.7" font-size="24.0" textLength="86.1" lengthAdjust="spacingAndGlyphs">Wallgang</text>
<text class="h" x="2053.4" y="1095.7" font-size="24.0" textLength="71.7" lengthAdjust="spacingAndGlyphs">Bunker</text>
<text class="h" x="2231.8" y="1098.0" font-size="24.0" textLength="78.9" lengthAdjust="spacingAndGlyphs">Schutz-</text>
<text class="h" x="2427.9" y="1101.7" font-size="24.0" textLength="71.7" lengthAdjust="spacingAndGlyphs" transform="rotate(3.0 2427.9 1101.7)">Bunker</text>
<text class="h" x="2591.9" y="1114.5" font-size="24.0" textLength="81.3" lengthAdjust="spacingAndGlyphs" transform="rotate(5.0 2591.9 1114.5)">Schutz-</text>
<text class="h" x="2799.5" y="1130.1" font-size="24.0" textLength="76.5" lengthAdjust="spacingAndGlyphs" transform="rotate(9.0 2799.5 1130.1)">Bunker</text>
<text class="h" x="2049.0" y="1705.5" font-size="24.0" textLength="83.7" lengthAdjust="spacingAndGlyphs">Wallgang</text>
<text class="h" x="2061.4" y="1660.1" font-size="24.0" textLength="74.1" lengthAdjust="spacingAndGlyphs">Bunker</text>
<text class="h" x="2237.9" y="1661.4" font-size="24.0" textLength="78.9" lengthAdjust="spacingAndGlyphs">Schutz-</text>
<text class="h" x="2417.2" y="1659.8" font-size="24.0" textLength="71.7" lengthAdjust="spacingAndGlyphs" transform="rotate(-2.0 2417.2 1659.8)">Bunker</text>
<text class="h" x="2590.9" y="1650.1" font-size="24.0" textLength="78.9" lengthAdjust="spacingAndGlyphs" transform="rotate(-5.0 2590.9 1650.1)">Schutz-</text>
<text class="h" x="2788.4" y="1629.4" font-size="24.0" textLength="74.1" lengthAdjust="spacingAndGlyphs" transform="rotate(-8.0 2788.4 1629.4)">Bunker</text>
<path d="M2616.8 1125.0 L2616.9 1281.9" fill="none" stroke-width="3.0"/>
<path d="M2688.5 1131.2 L2688.6 1226.8" fill="none" stroke-width="3.0"/>
<path d="M2700.5 1217.2 L2700.8 1518.5" fill="none" stroke-width="3.0"/>
<path d="M2617.0 1461.2 L2617.1 1616.6" fill="none" stroke-width="3.0"/>
<path d="M2685.0 1528.1 L2685.0 1614.2" fill="none" stroke-width="3.0"/>
<path d="M2552.2 1124.1 L2597.7 1124.1 L2597.7 1145.6 L2552.2 1145.6 Z" fill="none" stroke-width="2.0"/>
<path d="M2557.9 1124.1 L2557.9 1145.6" fill="none" stroke-width="2.0"/>
<path d="M2563.6 1124.1 L2563.6 1145.6" fill="none" stroke-width="2.0"/>
<path d="M2569.3 1124.1 L2569.3 1145.6" fill="none" stroke-width="2.0"/>
<path d="M2574.9 1124.1 L2575.0 1145.6" fill="none" stroke-width="2.0"/>
<path d="M2580.6 1124.1 L2580.6 1145.6" fill="none" stroke-width="2.0"/>
<path d="M2586.3 1124.1 L2586.3 1145.6" fill="none" stroke-width="2.0"/>
<path d="M2592.0 1124.1 L2592.0 1145.6" fill="none" stroke-width="2.0"/>
<path d="M2550.2 1600.0 L2595.6 1599.9 L2595.6 1619.1 L2550.2 1619.1 Z" fill="none" stroke-width="2.0"/>
<path d="M2555.8 1600.0 L2555.9 1619.1" fill="none" stroke-width="2.0"/>
<path d="M2561.5 1599.9 L2561.5 1619.1" fill="none" stroke-width="2.0"/>
<path d="M2567.2 1599.9 L2567.2 1619.1" fill="none" stroke-width="2.0"/>
<path d="M2572.9 1599.9 L2572.9 1619.1" fill="none" stroke-width="2.0"/>
<path d="M2578.6 1599.9 L2578.6 1619.1" fill="none" stroke-width="2.0"/>
<path d="M2584.2 1599.9 L2584.3 1619.1" fill="none" stroke-width="2.0"/>
<path d="M2589.9 1599.9 L2589.9 1619.1" fill="none" stroke-width="2.0"/>
<path d="M2534.5 1121.7 L2549.8 1121.7 L2549.8 1143.2 L2534.5 1143.2 Z" fill="none" stroke-width="4.4"/>
<path d="M2536.5 1167.1 L2553.7 1167.1 L2553.7 1191.0 L2536.5 1191.1 Z" fill="none" stroke-width="3.3"/>
<text class="h" x="2540.7" y="1184.9" font-size="16.0" textLength="8.8" lengthAdjust="spacingAndGlyphs">A</text>
<path d="M2676.6 1214.9 L2699.1 1214.9 L2699.1 1231.6 L2676.6 1231.6 Z" fill="none" stroke-width="2.9"/>
<text class="h" x="2683.8" y="1228.6" font-size="15.0" textLength="8.2" lengthAdjust="spacingAndGlyphs">A</text>
<path d="M2738.8 1183.7 L2753.1 1183.7 L2753.2 1208.6 L2738.8 1208.6 Z" fill="none" stroke-width="3.3"/>
<text class="h" x="2741.7" y="1201.9" font-size="16.0" textLength="8.6" lengthAdjust="spacingAndGlyphs">A</text>
<path d="M2534.8 1554.5 L2550.1 1554.5 L2550.1 1579.9 L2534.8 1579.9 Z" fill="none" stroke-width="3.3"/>
<text class="h" x="2538.1" y="1573.0" font-size="16.0" textLength="8.8" lengthAdjust="spacingAndGlyphs">A</text>
<path d="M2678.3 1517.6 L2699.3 1517.6 L2699.3 1535.3 L2678.3 1535.3 Z" fill="none" stroke-width="2.9"/>
<text class="h" x="2684.7" y="1531.8" font-size="15.0" textLength="8.2" lengthAdjust="spacingAndGlyphs">A</text>
<path d="M2737.6 1540.0 L2751.9 1540.0 L2752.0 1565.4 L2737.6 1565.4 Z" fill="none" stroke-width="3.3"/>
<text class="h" x="2740.5" y="1558.5" font-size="16.0" textLength="8.6" lengthAdjust="spacingAndGlyphs">A</text>
<path d="M2584.4 1254.6 L2616.9 1254.6 L2616.9 1286.6 L2584.4 1286.7 Z" fill="none" stroke-width="3.3"/>
<text class="h" x="2595.7" y="1277.1" font-size="18.0" textLength="9.9" lengthAdjust="spacingAndGlyphs">N</text>
<path d="M2584.5 1460.3 L2617.0 1460.3 L2617.0 1492.3 L2584.5 1492.3 Z" fill="none" stroke-width="3.3"/>
<text class="h" x="2595.8" y="1482.8" font-size="18.0" textLength="9.9" lengthAdjust="spacingAndGlyphs">N</text>
<path d="M2616.9 1265.1 L2700.6 1257.9" fill="none" stroke-width="3.0"/>
<path d="M2617.0 1475.6 L2700.7 1484.1" fill="none" stroke-width="3.0"/>
<path d="M2616.9 1253.2 L2781.9 1253.1" fill="none" stroke-width="2.2" stroke-dasharray="16 7"/>
<path d="M2617.0 1493.7 L2782.0 1493.6" fill="none" stroke-width="2.2" stroke-dasharray="16 7"/>
<path d="M2781.9 1253.1 L2781.9 1269.8" fill="none" stroke-width="2.2" stroke-dasharray="16 7"/>
<path d="M2782.0 1475.4 L2782.0 1493.6" fill="none" stroke-width="2.2" stroke-dasharray="16 7"/>
<text class="h" x="2563.3" y="1165.7" font-size="20.0" textLength="38.3" lengthAdjust="spacingAndGlyphs">15cm</text>
<text class="h" x="2566.6" y="1187.7" font-size="20.0" textLength="40.7" lengthAdjust="spacingAndGlyphs">Gran.-</text>
<text class="h" x="2539.4" y="1212.6" font-size="20.0" textLength="71.7" lengthAdjust="spacingAndGlyphs">u.Pulv.-K.</text>
<text class="h" x="2538.0" y="1277.1" font-size="21.0" textLength="43.0" lengthAdjust="spacingAndGlyphs">Nr.16</text>
<text class="h" x="2624.0" y="1165.6" font-size="20.0" textLength="38.3" lengthAdjust="spacingAndGlyphs">15cm</text>
<text class="h" x="2626.4" y="1187.6" font-size="20.0" textLength="40.7" lengthAdjust="spacingAndGlyphs">Gran.-</text>
<text class="h" x="2619.2" y="1212.5" font-size="20.0" textLength="62.2" lengthAdjust="spacingAndGlyphs">u.Pulv.-K</text>
<text class="h" x="2627.4" y="1253.2" font-size="21.0" textLength="40.7" lengthAdjust="spacingAndGlyphs">Nr.14</text>
<text class="h" x="2693.3" y="1165.6" font-size="20.0" textLength="38.3" lengthAdjust="spacingAndGlyphs">15cm</text>
<text class="h" x="2688.6" y="1187.6" font-size="20.0" textLength="38.3" lengthAdjust="spacingAndGlyphs">Gran.-</text>
<text class="h" x="2688.6" y="1212.5" font-size="20.0" textLength="43.0" lengthAdjust="spacingAndGlyphs">u.Pulv.</text>
<text class="h" x="2710.1" y="1234.0" font-size="20.0" textLength="12.0" lengthAdjust="spacingAndGlyphs">K.</text>
<text class="h" x="2705.4" y="1277.0" font-size="21.0" textLength="40.7" lengthAdjust="spacingAndGlyphs">Nr.12</text>
<text class="h" x="2542.9" y="1513.9" font-size="20.0" textLength="38.3" lengthAdjust="spacingAndGlyphs">15cm</text>
<text class="h" x="2540.6" y="1534.0" font-size="20.0" textLength="62.2" lengthAdjust="spacingAndGlyphs">Gran.-u.</text>
<text class="h" x="2569.3" y="1554.5" font-size="20.0" textLength="35.9" lengthAdjust="spacingAndGlyphs">Pulv.-</text>
<text class="h" x="2581.2" y="1576.0" font-size="20.0" textLength="12.0" lengthAdjust="spacingAndGlyphs">K.</text>
<text class="h" x="2554.9" y="1595.2" font-size="21.0" textLength="45.4" lengthAdjust="spacingAndGlyphs">Nr.15</text>
<text class="h" x="2621.8" y="1513.8" font-size="20.0" textLength="38.3" lengthAdjust="spacingAndGlyphs">15cm</text>
<text class="h" x="2619.5" y="1533.9" font-size="20.0" textLength="40.7" lengthAdjust="spacingAndGlyphs">Gran.-</text>
<text class="h" x="2619.5" y="1554.5" font-size="20.0" textLength="57.4" lengthAdjust="spacingAndGlyphs">u.Pulv.-</text>
<text class="h" x="2643.4" y="1576.0" font-size="20.0" textLength="12.0" lengthAdjust="spacingAndGlyphs">K.</text>
<text class="h" x="2630.5" y="1603.7" font-size="21.0" textLength="43.0" lengthAdjust="spacingAndGlyphs">Nr.13</text>
<text class="h" x="2703.1" y="1513.8" font-size="20.0" textLength="38.3" lengthAdjust="spacingAndGlyphs">15cm</text>
<text class="h" x="2702.2" y="1533.9" font-size="20.0" textLength="40.7" lengthAdjust="spacingAndGlyphs">Gran.-</text>
<text class="h" x="2685.0" y="1554.4" font-size="20.0" textLength="50.2" lengthAdjust="spacingAndGlyphs">u.Pulv.-</text>
<text class="h" x="2703.2" y="1575.9" font-size="20.0" textLength="12.0" lengthAdjust="spacingAndGlyphs">K.</text>
<text class="h" x="2691.3" y="1603.7" font-size="21.0" textLength="43.0" lengthAdjust="spacingAndGlyphs">Nr.11</text>
<text class="h" x="2542.8" y="1315.4" font-size="24.0" textLength="148.3" lengthAdjust="spacingAndGlyphs">Artillerie-Zentr.</text>
<path d="M2593.0 1327.3 L2617.9 1327.3 L2617.9 1372.7 L2593.0 1372.8 Z" fill="none" stroke-width="2.0"/>
<path d="M2593.0 1333.0 L2617.9 1333.0" fill="none" stroke-width="2.0"/>
<path d="M2593.0 1338.7 L2617.9 1338.7" fill="none" stroke-width="2.0"/>
<path d="M2593.0 1344.4 L2617.9 1344.3" fill="none" stroke-width="2.0"/>
<path d="M2593.0 1350.0 L2617.9 1350.0" fill="none" stroke-width="2.0"/>
<path d="M2593.0 1355.7 L2617.9 1355.7" fill="none" stroke-width="2.0"/>
<path d="M2593.0 1361.4 L2617.9 1361.4" fill="none" stroke-width="2.0"/>
<path d="M2593.0 1367.1 L2617.9 1367.1" fill="none" stroke-width="2.0"/>
<path d="M2593.1 1384.7 L2617.0 1384.7" fill="none" stroke-width="2.0"/>
<path d="M2593.1 1389.5 L2617.0 1389.5" fill="none" stroke-width="2.0"/>
<path d="M2593.1 1394.3 L2617.0 1394.3" fill="none" stroke-width="2.0"/>
<path d="M2593.1 1399.1 L2617.0 1399.0" fill="none" stroke-width="2.0"/>
<path d="M2616.9 1350.3 L2662.4 1350.2 L2662.4 1379.9 L2652.8 1379.9 L2652.9 1456.4" fill="none" stroke-width="3.0"/>
<path d="M2619.4 1375.1 L2619.4 1456.4" fill="none" stroke-width="3.0"/>
<path d="M2619.4 1456.4 L2700.7 1456.4" fill="none" stroke-width="3.0"/>
<path d="M2662.4 1353.6 L2698.3 1353.5 L2698.3 1375.1 L2662.4 1375.1 Z" fill="none" stroke-width="3.3"/>
<text class="h" x="2664.8" y="1370.3" font-size="16.0" textLength="31.1" lengthAdjust="spacingAndGlyphs">Akku.</text>
<text class="h" x="2621.8" y="1406.2" font-size="17.0" textLength="27.7" lengthAdjust="spacingAndGlyphs">Fern-</text>
<text class="h" x="2624.2" y="1427.7" font-size="17.0" textLength="21.5" lengthAdjust="spacingAndGlyphs">spr.</text>
<text class="h" x="2620.8" y="1449.3" font-size="17.0" textLength="31.1" lengthAdjust="spacingAndGlyphs">Zentr.</text>
<text class="h" x="2656.2" y="1420.5" font-size="18.0" textLength="40.7" lengthAdjust="spacingAndGlyphs">Leucht.</text>
<text class="h" x="2659.1" y="1443.0" font-size="18.0" textLength="28.7" lengthAdjust="spacingAndGlyphs">Mun.</text>
<text class="h" x="2772.3" y="1198.1" font-size="24.0" textLength="145.9" lengthAdjust="spacingAndGlyphs">38 cm Granat.-K.</text>
<text class="h" x="2824.9" y="1249.7" font-size="24.0" textLength="64.6" lengthAdjust="spacingAndGlyphs">Nr. 8 d</text>
<text class="h" x="2765.2" y="1308.1" font-size="24.0" textLength="153.0" lengthAdjust="spacingAndGlyphs">38 cm Granat.-K.</text>
<text class="h" x="2774.8" y="1453.9" font-size="24.0" textLength="55.0" lengthAdjust="spacingAndGlyphs">Nr. 8 b</text>
<text class="h" x="2882.5" y="1457.2" font-size="22.0" textLength="14.3" lengthAdjust="spacingAndGlyphs">N</text>
<text class="h" x="2765.3" y="1523.3" font-size="24.0" textLength="148.3" lengthAdjust="spacingAndGlyphs">38 cm Granat.-K</text>
<text class="h" x="2818.0" y="1555.8" font-size="24.0" textLength="62.2" lengthAdjust="spacingAndGlyphs">Nr. 8 c</text>
<path d="M2815.3 1140.6 L2815.4 1265.0" fill="none" stroke-width="2.2" stroke-dasharray="16 7"/>
<path d="M2855.0 1140.6 L2855.1 1265.0" fill="none" stroke-width="2.2" stroke-dasharray="16 7"/>
<path d="M2889.4 1140.6 L2889.5 1264.9" fill="none" stroke-width="2.2" stroke-dasharray="16 7"/>
<path d="M2815.5 1480.2 L2815.6 1599.8" fill="none" stroke-width="2.2" stroke-dasharray="16 7"/>
<path d="M2889.6 1480.2 L2889.7 1599.7" fill="none" stroke-width="2.2" stroke-dasharray="16 7"/>
<rect x="2770.9" y="1265.0" width="161.7" height="8.5" rx="2.9" fill="none" stroke-width="2.9"/>
<path d="M2758.0 1280.3 L2942.1 1280.2" fill="none" stroke-width="3.0"/>
<rect x="2771.0" y="1473.1" width="161.7" height="8.5" rx="2.9" fill="none" stroke-width="2.9"/>
<path d="M2758.1 1465.9 L2942.2 1465.8" fill="none" stroke-width="3.0"/>
<rect x="2769.9" y="1277.5" width="23.9" height="5.2" rx="2.4" fill="none" stroke-width="2.4"/>
<rect x="2770.1" y="1463.0" width="23.9" height="5.2" rx="2.4" fill="none" stroke-width="2.4"/>
<rect x="2839.3" y="1277.4" width="23.9" height="5.2" rx="2.4" fill="none" stroke-width="2.4"/>
<rect x="2839.4" y="1463.0" width="23.9" height="5.2" rx="2.4" fill="none" stroke-width="2.4"/>
<rect x="2903.9" y="1277.4" width="23.9" height="5.2" rx="2.4" fill="none" stroke-width="2.4"/>
<rect x="2904.0" y="1462.9" width="23.9" height="5.2" rx="2.4" fill="none" stroke-width="2.4"/>
<path d="M2806.0 1563.9 L2880.1 1563.9 L2880.2 1583.0 L2806.0 1583.0 Z" fill="none" stroke-width="3.3"/>
<text class="h" x="2832.3" y="1580.6" font-size="22.0" textLength="16.7" lengthAdjust="spacingAndGlyphs">A</text>
<path d="M2853.8 1563.9 L2853.8 1583.0" fill="none" stroke-width="3.0"/>
<path d="M2951.6 1201.8 L2981.3 1201.7 L2981.3 1279.2 L2951.7 1279.2 Z" fill="none" stroke-width="3.3"/>
<path d="M2986.0 1164.4 L2986.1 1279.2" fill="none" stroke-width="2.2" stroke-dasharray="16 7"/>
<path d="M2951.8 1468.2 L2981.5 1468.1 L2981.5 1547.0 L2951.9 1547.1 Z" fill="none" stroke-width="3.3"/>
<path d="M2986.2 1468.1 L2986.3 1580.5" fill="none" stroke-width="2.2" stroke-dasharray="16 7"/>
<path d="M3044.9 1176.3 L3044.9 1198.8" fill="none" stroke-width="2.0"/>
<path d="M3049.7 1176.3 L3049.7 1198.8" fill="none" stroke-width="2.0"/>
<path d="M3054.4 1176.3 L3054.4 1198.8" fill="none" stroke-width="2.0"/>
<path d="M3059.2 1176.3 L3059.2 1198.8" fill="none" stroke-width="2.0"/>
<path d="M3064.0 1176.3 L3064.0 1198.8" fill="none" stroke-width="2.0"/>
<path d="M3071.2 1173.9 L3097.5 1173.9 L3097.5 1200.2 L3071.2 1200.2 Z" fill="none" stroke-width="2.0"/>
<path d="M3074.9 1173.9 L3074.9 1200.2" fill="none" stroke-width="2.0"/>
<path d="M3078.7 1173.9 L3078.7 1200.2" fill="none" stroke-width="2.0"/>
<path d="M3082.4 1173.9 L3082.5 1200.2" fill="none" stroke-width="2.0"/>
<path d="M3086.2 1173.9 L3086.2 1200.2" fill="none" stroke-width="2.0"/>
<path d="M3090.0 1173.9 L3090.0 1200.2" fill="none" stroke-width="2.0"/>
<path d="M3093.7 1173.9 L3093.7 1200.2" fill="none" stroke-width="2.0"/>
<path d="M3040.3 1549.4 L3040.4 1573.3" fill="none" stroke-width="2.0"/>
<path d="M3045.1 1549.4 L3045.1 1573.3" fill="none" stroke-width="2.0"/>
<path d="M3049.9 1549.4 L3049.9 1573.3" fill="none" stroke-width="2.0"/>
<path d="M3054.7 1549.4 L3054.7 1573.3" fill="none" stroke-width="2.0"/>
<path d="M3059.5 1549.4 L3059.5 1573.3" fill="none" stroke-width="2.0"/>
<path d="M3064.3 1549.4 L3064.3 1573.3" fill="none" stroke-width="2.0"/>
<path d="M3071.4 1544.6 L3097.7 1544.6 L3097.8 1570.9 L3071.4 1570.9 Z" fill="none" stroke-width="2.0"/>
<path d="M3075.2 1544.6 L3075.2 1570.9" fill="none" stroke-width="2.0"/>
<path d="M3078.9 1544.6 L3079.0 1570.9" fill="none" stroke-width="2.0"/>
<path d="M3082.7 1544.6 L3082.7 1570.9" fill="none" stroke-width="2.0"/>
<path d="M3086.5 1544.6 L3086.5 1570.9" fill="none" stroke-width="2.0"/>
<path d="M3090.2 1544.6 L3090.2 1570.9" fill="none" stroke-width="2.0"/>
<path d="M3094.0 1544.6 L3094.0 1570.9" fill="none" stroke-width="2.0"/>
<text class="h" x="2989.9" y="1236.2" font-size="24.0" textLength="88.5" lengthAdjust="spacingAndGlyphs">Raum für</text>
<text class="h" x="2980.4" y="1262.5" font-size="24.0" textLength="114.8" lengthAdjust="spacingAndGlyphs">Diesel-Motor</text>
<text class="h" x="2990.1" y="1492.0" font-size="24.0" textLength="86.1" lengthAdjust="spacingAndGlyphs">Raum für</text>
<text class="h" x="2982.9" y="1516.0" font-size="24.0" textLength="112.4" lengthAdjust="spacingAndGlyphs">Diesel-Motor</text>
<text class="h" x="2949.3" y="1322.3" font-size="22.0" textLength="117.2" lengthAdjust="spacingAndGlyphs">38 cm Gran.-K.</text>
<text class="h" x="2980.5" y="1453.8" font-size="24.0" textLength="57.4" lengthAdjust="spacingAndGlyphs">Nr. 2 c</text>
<path d="M3001.9 1341.4 L3017.7 1341.4 L3017.8 1416.9 L3002.0 1416.9 Z" fill="none" stroke-width="3.3"/>
<text class="h" x="3004.4" y="1367.7" font-size="18.0" textLength="12.0" lengthAdjust="spacingAndGlyphs">A</text>
<path d="M3086.6 1291.1 L3086.7 1455.1" fill="none" stroke-width="3.0"/>
<path d="M3096.1 1291.1 L3096.2 1455.1" fill="none" stroke-width="3.0"/>
<text class="h" x="3138.8" y="1140.3" font-size="22.0" textLength="84.6" lengthAdjust="spacingAndGlyphs" transform="rotate(14.0 3138.8 1140.3)">Wallgang</text>
<text class="h" x="3039.1" y="1155.5" font-size="22.0" textLength="142.0" lengthAdjust="spacingAndGlyphs" transform="rotate(12.0 3039.1 1155.5)">Schutzbunker</text>
<text class="h" x="3031.6" y="1602.7" font-size="22.0" textLength="139.0" lengthAdjust="spacingAndGlyphs" transform="rotate(-11.0 3031.6 1602.7)">Schutzbunker</text>
<text class="h" x="3133.1" y="1622.5" font-size="22.0" textLength="84.6" lengthAdjust="spacingAndGlyphs" transform="rotate(-10.0 3133.1 1622.5)">Wallgang</text>
<text class="h" x="3141.9" y="1238.2" font-size="21.0" textLength="117.8" lengthAdjust="spacingAndGlyphs">15cm Gran.-u.</text>
<text class="h" x="3144.9" y="1258.2" font-size="21.0" textLength="69.5" lengthAdjust="spacingAndGlyphs">Pulv.-K.</text>
<text class="h" x="3223.5" y="1272.0" font-size="21.0" textLength="36.3" lengthAdjust="spacingAndGlyphs">Nr.5</text>
<text class="h" x="3142.1" y="1492.0" font-size="21.0" textLength="120.8" lengthAdjust="spacingAndGlyphs">15cm Gran.-u.</text>
<text class="h" x="3140.3" y="1516.2" font-size="21.0" textLength="63.4" lengthAdjust="spacingAndGlyphs">Pulv.-K.</text>
<text class="h" x="3154.2" y="1540.3" font-size="21.0" textLength="36.3" lengthAdjust="spacingAndGlyphs">Nr.4</text>
<text class="h" x="3107.5" y="1321.6" font-size="20.0" textLength="39.3" lengthAdjust="spacingAndGlyphs">38cm</text>
<text class="h" x="3222.3" y="1321.6" font-size="20.0" textLength="51.4" lengthAdjust="spacingAndGlyphs">Gr.-K.</text>
<text class="h" x="3163.2" y="1453.3" font-size="21.0" textLength="60.4" lengthAdjust="spacingAndGlyphs">Nr. 2 b</text>
<text class="h" x="3291.2" y="1255.0" font-size="20.0" textLength="69.5" lengthAdjust="spacingAndGlyphs">Torpedo-</text>
<text class="h" x="3291.2" y="1280.4" font-size="20.0" textLength="66.5" lengthAdjust="spacingAndGlyphs">Ladung</text>
<text class="h" x="3375.8" y="1268.3" font-size="20.0" textLength="69.5" lengthAdjust="spacingAndGlyphs">Torpedo</text>
<text class="h" x="3375.8" y="1291.2" font-size="20.0" textLength="57.4" lengthAdjust="spacingAndGlyphs">Zündg.</text>
<text class="h" x="3548.6" y="1320.1" font-size="22.0" textLength="84.6" lengthAdjust="spacingAndGlyphs">Trimzelle</text>
<text class="h" x="3546.9" y="1441.0" font-size="22.0" textLength="87.6" lengthAdjust="spacingAndGlyphs">Trimzelle</text>
<text class="h" x="3313.1" y="1501.5" font-size="21.0" textLength="69.5" lengthAdjust="spacingAndGlyphs">Torpedo-</text>
<text class="h" x="3442.4" y="1478.5" font-size="22.0" textLength="54.4" lengthAdjust="spacingAndGlyphs">Raum</text>
<text class="h" x="3711.8" y="1364.7" font-size="22.0" textLength="54.4" lengthAdjust="spacingAndGlyphs">Trim-</text>
<text class="h" x="3711.8" y="1408.8" font-size="22.0" textLength="45.3" lengthAdjust="spacingAndGlyphs">zelle</text>
<text class="h" x="3873.1" y="1362.2" font-size="22.0" textLength="90.6" lengthAdjust="spacingAndGlyphs">Trimzelle</text>
<path d="M3108.6 1203.8 L3129.8 1203.8 L3129.8 1223.7 L3108.7 1223.7 Z" fill="none" stroke-width="2.9"/>
<text class="h" x="3115.1" y="1219.2" font-size="15.0" textLength="8.2" lengthAdjust="spacingAndGlyphs">A</text>
<path d="M3108.7 1229.8 L3126.8 1229.8 L3126.8 1252.1 L3108.7 1252.1 Z" fill="none" stroke-width="3.9"/>
<text class="h" x="3113.9" y="1246.0" font-size="14.0" textLength="7.7" lengthAdjust="spacingAndGlyphs">W</text>
<path d="M3108.8 1493.8 L3127.0 1493.8 L3127.0 1516.2 L3108.9 1516.2 Z" fill="none" stroke-width="3.9"/>
<text class="h" x="3114.1" y="1510.1" font-size="14.0" textLength="7.7" lengthAdjust="spacingAndGlyphs">W</text>
<path d="M3108.9 1524.0 L3130.0 1524.0 L3130.0 1544.0 L3108.9 1544.0 Z" fill="none" stroke-width="2.9"/>
<text class="h" x="3115.3" y="1539.4" font-size="15.0" textLength="8.2" lengthAdjust="spacingAndGlyphs">A</text>
<path d="M3129.8 1206.8 L3140.1 1206.8 L3140.1 1223.7 L3129.8 1223.7 Z" fill="none" stroke-width="2.2" stroke-dasharray="16 7"/>
<path d="M3130.0 1524.0 L3140.3 1524.0 L3140.3 1544.0 L3130.0 1544.0 Z" fill="none" stroke-width="2.2" stroke-dasharray="16 7"/>
<path d="M3108.6 1183.9 L3129.8 1183.9 L3129.8 1200.8 L3108.6 1200.8 Z" fill="none" stroke-width="2.9"/>
<path d="M3128.0 1183.9 L3128.0 1279.3" fill="none" stroke-width="2.2" stroke-dasharray="16 7"/>
<path d="M3128.1 1445.5 L3128.2 1557.3" fill="none" stroke-width="2.2" stroke-dasharray="16 7"/>
<path d="M3129.9 1292.6 L3287.0 1292.5" fill="none" stroke-width="2.2" stroke-dasharray="16 7"/>
<path d="M3108.8 1445.5 L3130.0 1445.5" fill="none" stroke-width="2.2" stroke-dasharray="16 7"/>
<path d="M3085.7 1291.4 L3096.6 1291.4 L3096.7 1453.4 L3085.9 1453.4 Z" fill="none" stroke-width="3.3"/>
<path d="M3329.2 1226.0 L3329.3 1303.3" fill="none" stroke-width="3.0"/>
<path d="M3369.7 1236.9 L3369.7 1303.3" fill="none" stroke-width="3.0"/>
<path d="M3287.0 1303.4 L3425.9 1303.3" fill="none" stroke-width="3.0"/>
<path d="M3425.9 1303.3 L3444.0 1254.9" fill="none" stroke-width="3.0"/>
<path d="M3398.7 1242.9 L3398.8 1375.8" fill="none" stroke-width="2.2" stroke-dasharray="16 7"/>
<path d="M3286.9 1280.4 L3315.3 1280.4 L3315.4 1324.5 L3287.0 1324.5 Z" fill="none" stroke-width="3.0"/>
<path d="M3299.1 1354.7 C3299.4 1352.5 3299.9 1345.5 3300.9 1341.4 C3301.9 1337.4 3303.7 1330.6 3305.1 1330.6 C3306.5 1330.6 3308.3 1337.4 3309.3 1341.4 C3310.4 1345.5 3310.9 1352.5 3311.2 1354.7" fill="none" stroke-width="2.9"/>
<path d="M3299.1 1354.7 L3299.2 1487.7" fill="none" stroke-width="2.9"/>
<path d="M3311.2 1354.7 L3311.3 1487.7" fill="none" stroke-width="2.9"/>
<path d="M3299.2 1487.7 C3299.5 1489.9 3300.0 1496.9 3301.0 1501.0 C3302.0 1505.0 3303.8 1511.8 3305.2 1511.8 C3306.6 1511.8 3308.5 1505.0 3309.5 1500.9 C3310.5 1496.9 3311.0 1489.9 3311.3 1487.7" fill="none" stroke-width="2.9"/>
<path d="M3332.3 1327.5 L3373.4 1312.4" fill="none" stroke-width="3.1"/>
<path d="M3332.3 1327.5 L3414.0 1520.8" fill="none" stroke-width="3.1"/>
<path d="M3346.0 1322.5 L3427.7 1515.8" fill="none" stroke-width="3.1"/>
<path d="M3359.7 1317.4 L3441.4 1510.7" fill="none" stroke-width="3.1"/>
<path d="M3373.4 1312.4 L3455.1 1505.7" fill="none" stroke-width="3.1"/>
<path d="M3394.4 1520.8 L3397.4 1509.5 L3405.7 1501.2 L3417.0 1498.2 L3428.3 1501.2 L3436.6 1509.5 L3439.7 1520.8 L3439.7 1520.8 L3436.7 1532.1 L3428.4 1540.4 L3417.0 1543.5 L3405.7 1540.4 L3397.4 1532.2 L3394.4 1520.8 Z" fill="none" stroke-width="3.1"/>
<path d="M3386.8 1346.2 L3386.3 1342.1 L3387.9 1338.4 L3391.2 1335.9 L3395.2 1335.4 L3398.9 1337.0 L3401.4 1340.3 L3420.4 1387.3 L3420.9 1391.4 L3419.3 1395.1 L3416.1 1397.5 L3412.1 1398.0 L3408.3 1396.5 L3405.9 1393.2 Z" fill="none" stroke-width="3.5"/>
<path d="M3392.5 1346.5 L3392.3 1345.1 L3392.9 1343.8 L3394.0 1342.9 L3395.4 1342.8 L3396.7 1343.3 L3397.5 1344.4 L3414.8 1387.0 L3414.9 1388.4 L3414.4 1389.7 L3413.3 1390.5 L3411.9 1390.7 L3410.6 1390.2 L3409.7 1389.0 Z" fill="none" stroke-width="2.0"/>
<path d="M3427.8 1431.4 L3472.6 1453.1" fill="none" stroke-width="3.1"/>
<path d="M3427.8 1431.4 L3501.4 1264.0" fill="none" stroke-width="3.1"/>
<path d="M3439.0 1436.8 L3512.6 1269.4" fill="none" stroke-width="3.1"/>
<path d="M3450.2 1442.2 L3523.8 1274.8" fill="none" stroke-width="3.1"/>
<path d="M3461.4 1447.7 L3535.0 1280.2" fill="none" stroke-width="3.1"/>
<path d="M3472.6 1453.1 L3546.2 1285.7" fill="none" stroke-width="3.1"/>
<path d="M3501.4 1264.0 C3502.3 1263.2 3505.2 1260.6 3506.7 1259.6 C3508.3 1258.7 3509.8 1257.7 3510.8 1258.1 C3511.7 1258.6 3512.0 1260.5 3512.3 1262.3 C3512.6 1264.2 3512.6 1268.2 3512.6 1269.4" fill="none" stroke-width="3.1"/>
<path d="M3512.6 1269.4 C3513.5 1268.7 3516.4 1266.0 3517.9 1265.1 C3519.5 1264.1 3521.0 1263.1 3522.0 1263.6 C3522.9 1264.0 3523.2 1265.9 3523.5 1267.8 C3523.8 1269.6 3523.8 1273.6 3523.8 1274.8" fill="none" stroke-width="3.1"/>
<path d="M3523.8 1274.8 C3524.7 1274.1 3527.5 1271.5 3529.1 1270.5 C3530.7 1269.5 3532.2 1268.5 3533.1 1269.0 C3534.1 1269.4 3534.4 1271.3 3534.7 1273.2 C3535.0 1275.1 3534.9 1279.1 3535.0 1280.2" fill="none" stroke-width="3.1"/>
<path d="M3535.0 1280.2 C3535.9 1279.5 3538.7 1276.9 3540.3 1275.9 C3541.8 1274.9 3543.4 1274.0 3544.3 1274.4 C3545.3 1274.9 3545.6 1276.8 3545.9 1278.6 C3546.2 1280.5 3546.1 1284.5 3546.2 1285.7" fill="none" stroke-width="3.1"/>
<path d="M3501.4 1264.0 L3546.8 1282.0" fill="none" stroke-width="3.1"/>
<path d="M3501.4 1264.0 L3519.5 1230.7" fill="none" stroke-width="3.1"/>
<path d="M3546.8 1282.0 L3564.9 1248.8" fill="none" stroke-width="3.1"/>
<path d="M3512.3 1242.8 C3513.5 1240.3 3515.3 1230.2 3519.5 1227.7 C3523.8 1225.2 3533.1 1225.2 3537.7 1227.7 C3542.2 1230.2 3545.2 1240.3 3546.7 1242.8" fill="none" stroke-width="2.9"/>
<path d="M3483.3 1233.8 L3531.6 1248.8" fill="none" stroke-width="3.1"/>
<path d="M3486.3 1239.8 L3528.6 1253.7" fill="none" stroke-width="3.1"/>
<path d="M3498.0 1391.5 L3500.3 1388.2 L3504.0 1386.4 L3508.1 1386.8 L3511.4 1389.1 L3513.1 1392.8 L3512.8 1396.9 L3495.4 1444.6 L3493.1 1447.9 L3489.4 1449.6 L3485.4 1449.3 L3482.0 1446.9 L3480.3 1443.3 L3480.7 1439.2 Z" fill="none" stroke-width="3.5"/>
<path d="M3451.3 1296.8 L3472.6 1305.4 L3467.0 1319.4 L3445.7 1310.8 Z" fill="none" stroke-width="3.1"/>
<path d="M3425.8 1354.4 L3448.2 1363.4 L3441.9 1379.1 L3419.5 1370.0 Z" fill="none" stroke-width="3.1"/>
<path d="M3318.9 1403.4 L3340.2 1394.8 L3345.8 1408.8 L3324.5 1417.4 Z" fill="none" stroke-width="3.1"/>
<path d="M3343.4 1460.1 L3365.8 1451.1 L3372.1 1466.8 L3349.7 1475.8 Z" fill="none" stroke-width="3.1"/>
<path d="M3456.2 1315.3 L3438.1 1357.7" fill="none" stroke-width="3.1"/>
<path d="M3338.4 1412.1 L3356.6 1454.4" fill="none" stroke-width="3.1"/>
<path d="M3570.9 1221.6 L3525.7 1389.0" fill="none" stroke-width="3.0"/>
<path d="M3525.7 1342.5 L3664.6 1336.3" fill="none" stroke-width="3.0"/>
<path d="M3530.5 1342.5 L3571.0 1342.5 L3571.0 1369.6 L3530.5 1369.7 Z" fill="none" stroke-width="3.0"/>
<path d="M3571.0 1342.5 C3574.0 1343.5 3586.1 1345.0 3589.1 1348.5 C3592.1 1352.0 3592.1 1360.1 3589.1 1363.6 C3586.1 1367.1 3574.0 1368.6 3571.0 1369.6" fill="none" stroke-width="2.2" stroke-dasharray="16 7"/>
<path d="M3531.7 1342.5 L3531.8 1469.4" fill="none" stroke-width="3.0"/>
<path d="M3531.7 1395.1 L3664.7 1395.0" fill="none" stroke-width="2.2" stroke-dasharray="16 7"/>
<path d="M3640.5 1395.0 L3640.5 1419.1 L3664.7 1419.1" fill="none" stroke-width="2.6"/>
<path d="M3537.8 1472.4 L3537.9 1496.6" fill="none" stroke-width="3.0"/>
<path d="M0.0 1372.5 L4225.0 1372.5" fill="none" stroke-width="2.4" stroke-dasharray="40 7 4 7"/>
<path d="M34.5 1364.5 L34.5 1375.5" fill="none" stroke-width="2.2"/>
<path d="M62.0 1364.5 L62.0 1375.5" fill="none" stroke-width="2.2"/>
<text class="h" x="56.0" y="1389.0" font-size="16.0" textLength="8.0" lengthAdjust="spacingAndGlyphs">2</text>
<path d="M89.3 1364.5 L89.3 1375.5" fill="none" stroke-width="2.2"/>
<path d="M116.6 1364.5 L116.6 1375.5" fill="none" stroke-width="2.2"/>
<text class="h" x="110.6" y="1389.0" font-size="16.0" textLength="8.0" lengthAdjust="spacingAndGlyphs">4</text>
<path d="M143.9 1364.5 L143.9 1375.5" fill="none" stroke-width="2.2"/>
<path d="M171.2 1364.5 L171.2 1375.5" fill="none" stroke-width="2.2"/>
<text class="h" x="165.2" y="1389.0" font-size="16.0" textLength="8.0" lengthAdjust="spacingAndGlyphs">6</text>
<path d="M198.5 1364.5 L198.5 1375.5" fill="none" stroke-width="2.2"/>
<path d="M225.8 1364.5 L225.8 1375.5" fill="none" stroke-width="2.2"/>
<text class="h" x="219.8" y="1389.0" font-size="16.0" textLength="8.0" lengthAdjust="spacingAndGlyphs">8</text>
<path d="M253.1 1364.5 L253.1 1375.5" fill="none" stroke-width="2.2"/>
<path d="M280.4 1364.5 L280.4 1375.5" fill="none" stroke-width="2.2"/>
<text class="h" x="270.4" y="1389.0" font-size="16.0" textLength="16.0" lengthAdjust="spacingAndGlyphs">10</text>
<path d="M307.7 1364.5 L307.7 1375.5" fill="none" stroke-width="2.2"/>
<path d="M335.0 1364.5 L335.0 1375.5" fill="none" stroke-width="2.2"/>
<text class="h" x="325.0" y="1389.0" font-size="16.0" textLength="16.0" lengthAdjust="spacingAndGlyphs">12</text>
<path d="M362.9 1364.5 L362.9 1375.5" fill="none" stroke-width="2.2"/>
<path d="M390.8 1364.5 L390.8 1375.5" fill="none" stroke-width="2.2"/>
<text class="h" x="380.8" y="1389.0" font-size="16.0" textLength="16.0" lengthAdjust="spacingAndGlyphs">14</text>
<path d="M418.7 1364.5 L418.7 1375.5" fill="none" stroke-width="2.2"/>
<path d="M446.6 1364.5 L446.6 1375.5" fill="none" stroke-width="2.2"/>
<text class="h" x="436.6" y="1389.0" font-size="16.0" textLength="16.0" lengthAdjust="spacingAndGlyphs">16</text>
<path d="M474.5 1364.5 L474.5 1375.5" fill="none" stroke-width="2.2"/>
<path d="M502.4 1364.5 L502.4 1375.5" fill="none" stroke-width="2.2"/>
<text class="h" x="492.4" y="1389.0" font-size="16.0" textLength="16.0" lengthAdjust="spacingAndGlyphs">18</text>
<path d="M530.3 1364.5 L530.3 1375.5" fill="none" stroke-width="2.2"/>
<path d="M558.2 1364.5 L558.2 1375.5" fill="none" stroke-width="2.2"/>
<text class="h" x="548.2" y="1389.0" font-size="16.0" textLength="16.0" lengthAdjust="spacingAndGlyphs">20</text>
<path d="M586.1 1364.5 L586.1 1375.5" fill="none" stroke-width="2.2"/>
<path d="M614.0 1364.5 L614.0 1375.5" fill="none" stroke-width="2.2"/>
<text class="h" x="604.0" y="1389.0" font-size="16.0" textLength="16.0" lengthAdjust="spacingAndGlyphs">22</text>
<path d="M641.9 1364.5 L641.9 1375.5" fill="none" stroke-width="2.2"/>
<path d="M669.7 1364.5 L669.8 1375.5" fill="none" stroke-width="2.2"/>
<text class="h" x="659.8" y="1389.0" font-size="16.0" textLength="16.0" lengthAdjust="spacingAndGlyphs">24</text>
<path d="M697.6 1364.5 L697.7 1375.5" fill="none" stroke-width="2.2"/>
<path d="M725.5 1364.5 L725.5 1375.5" fill="none" stroke-width="2.2"/>
<text class="h" x="715.6" y="1389.0" font-size="16.0" textLength="16.0" lengthAdjust="spacingAndGlyphs">26</text>
<path d="M753.4 1364.5 L753.4 1375.5" fill="none" stroke-width="2.2"/>
<path d="M781.3 1364.5 L781.3 1375.5" fill="none" stroke-width="2.2"/>
<text class="h" x="771.4" y="1389.0" font-size="16.0" textLength="16.0" lengthAdjust="spacingAndGlyphs">28</text>
<path d="M809.2 1364.5 L809.2 1375.5" fill="none" stroke-width="2.2"/>
<path d="M837.1 1364.5 L837.1 1375.5" fill="none" stroke-width="2.2"/>
<text class="h" x="827.1" y="1389.0" font-size="16.0" textLength="16.0" lengthAdjust="spacingAndGlyphs">30</text>
<path d="M865.0 1364.5 L865.0 1375.5" fill="none" stroke-width="2.2"/>
<path d="M892.9 1364.5 L892.9 1375.5" fill="none" stroke-width="2.2"/>
<text class="h" x="882.9" y="1389.0" font-size="16.0" textLength="16.0" lengthAdjust="spacingAndGlyphs">32</text>
<path d="M920.8 1364.5 L920.8 1375.5" fill="none" stroke-width="2.2"/>
<path d="M948.7 1364.5 L948.7 1375.5" fill="none" stroke-width="2.2"/>
<text class="h" x="938.7" y="1389.0" font-size="16.0" textLength="16.0" lengthAdjust="spacingAndGlyphs">34</text>
<path d="M976.6 1364.5 L976.6 1375.5" fill="none" stroke-width="2.2"/>
<path d="M1004.5 1364.5 L1004.5 1375.5" fill="none" stroke-width="2.2"/>
<text class="h" x="994.5" y="1389.0" font-size="16.0" textLength="16.0" lengthAdjust="spacingAndGlyphs">36</text>
<path d="M1032.4 1364.5 L1032.4 1375.5" fill="none" stroke-width="2.2"/>
<path d="M1060.3 1364.5 L1060.3 1375.5" fill="none" stroke-width="2.2"/>
<text class="h" x="1050.3" y="1389.0" font-size="16.0" textLength="16.0" lengthAdjust="spacingAndGlyphs">38</text>
<path d="M1088.2 1364.5 L1088.2 1375.5" fill="none" stroke-width="2.2"/>
<path d="M1116.1 1364.5 L1116.1 1375.5" fill="none" stroke-width="2.2"/>
<text class="h" x="1106.1" y="1389.0" font-size="16.0" textLength="16.0" lengthAdjust="spacingAndGlyphs">40</text>
<path d="M1144.0 1364.5 L1144.0 1375.5" fill="none" stroke-width="2.2"/>
<path d="M1171.9 1364.5 L1171.9 1375.5" fill="none" stroke-width="2.2"/>
<text class="h" x="1161.9" y="1389.0" font-size="16.0" textLength="16.0" lengthAdjust="spacingAndGlyphs">42</text>
<path d="M1199.8 1364.5 L1199.8 1375.5" fill="none" stroke-width="2.2"/>
<path d="M1227.7 1364.5 L1227.7 1375.5" fill="none" stroke-width="2.2"/>
<text class="h" x="1217.7" y="1389.0" font-size="16.0" textLength="16.0" lengthAdjust="spacingAndGlyphs">44</text>
<path d="M1255.6 1364.5 L1255.6 1375.5" fill="none" stroke-width="2.2"/>
<path d="M1283.5 1364.5 L1283.5 1375.5" fill="none" stroke-width="2.2"/>
<text class="h" x="1273.5" y="1389.0" font-size="16.0" textLength="16.0" lengthAdjust="spacingAndGlyphs">46</text>
<path d="M1311.4 1364.5 L1311.4 1375.5" fill="none" stroke-width="2.2"/>
<path d="M1339.3 1364.5 L1339.3 1375.5" fill="none" stroke-width="2.2"/>
<text class="h" x="1329.3" y="1389.0" font-size="16.0" textLength="16.0" lengthAdjust="spacingAndGlyphs">48</text>
<path d="M1367.2 1364.5 L1367.2 1375.5" fill="none" stroke-width="2.2"/>
<path d="M1395.1 1364.5 L1395.1 1375.5" fill="none" stroke-width="2.2"/>
<text class="h" x="1385.1" y="1389.0" font-size="16.0" textLength="16.0" lengthAdjust="spacingAndGlyphs">50</text>
<path d="M1422.9 1364.5 L1423.0 1375.5" fill="none" stroke-width="2.2"/>
<path d="M1450.8 1364.5 L1450.9 1375.5" fill="none" stroke-width="2.2"/>
<text class="h" x="1440.9" y="1389.0" font-size="16.0" textLength="16.0" lengthAdjust="spacingAndGlyphs">52</text>
<path d="M1478.7 1364.5 L1478.7 1375.5" fill="none" stroke-width="2.2"/>
<path d="M1506.6 1364.5 L1506.6 1375.5" fill="none" stroke-width="2.2"/>
<text class="h" x="1496.7" y="1389.0" font-size="16.0" textLength="16.0" lengthAdjust="spacingAndGlyphs">54</text>
<path d="M1534.5 1364.5 L1534.5 1375.5" fill="none" stroke-width="2.2"/>
<path d="M1562.4 1364.5 L1562.4 1375.5" fill="none" stroke-width="2.2"/>
<text class="h" x="1552.4" y="1389.0" font-size="16.0" textLength="16.0" lengthAdjust="spacingAndGlyphs">56</text>
<path d="M1590.3 1364.5 L1590.3 1375.5" fill="none" stroke-width="2.2"/>
<path d="M1618.2 1364.5 L1618.2 1375.5" fill="none" stroke-width="2.2"/>
<text class="h" x="1608.2" y="1389.0" font-size="16.0" textLength="16.0" lengthAdjust="spacingAndGlyphs">58</text>
<path d="M1646.1 1364.5 L1646.1 1375.5" fill="none" stroke-width="2.2"/>
<path d="M1674.0 1364.5 L1674.0 1375.5" fill="none" stroke-width="2.2"/>
<text class="h" x="1664.0" y="1389.0" font-size="16.0" textLength="16.0" lengthAdjust="spacingAndGlyphs">60</text>
<path d="M1701.9 1364.5 L1701.9 1375.5" fill="none" stroke-width="2.2"/>
<path d="M1729.8 1364.5 L1729.8 1375.5" fill="none" stroke-width="2.2"/>
<text class="h" x="1719.8" y="1389.0" font-size="16.0" textLength="16.0" lengthAdjust="spacingAndGlyphs">62</text>
<path d="M1757.7 1364.5 L1757.7 1375.5" fill="none" stroke-width="2.2"/>
<path d="M1785.6 1364.5 L1785.6 1375.5" fill="none" stroke-width="2.2"/>
<text class="h" x="1775.6" y="1389.0" font-size="16.0" textLength="16.0" lengthAdjust="spacingAndGlyphs">64</text>
<path d="M1813.5 1364.5 L1813.5 1375.5" fill="none" stroke-width="2.2"/>
<path d="M1841.4 1364.5 L1841.4 1375.5" fill="none" stroke-width="2.2"/>
<text class="h" x="1831.4" y="1389.0" font-size="16.0" textLength="16.0" lengthAdjust="spacingAndGlyphs">66</text>
<path d="M1869.3 1364.5 L1869.3 1375.5" fill="none" stroke-width="2.2"/>
<path d="M1897.2 1364.5 L1897.2 1375.5" fill="none" stroke-width="2.2"/>
<text class="h" x="1887.2" y="1389.0" font-size="16.0" textLength="16.0" lengthAdjust="spacingAndGlyphs">68</text>
<path d="M1925.1 1364.5 L1925.1 1375.5" fill="none" stroke-width="2.2"/>
<path d="M1953.0 1364.5 L1953.0 1375.5" fill="none" stroke-width="2.2"/>
<text class="h" x="1943.0" y="1389.0" font-size="16.0" textLength="16.0" lengthAdjust="spacingAndGlyphs">70</text>
<path d="M1980.9 1364.5 L1980.9 1375.5" fill="none" stroke-width="2.2"/>
<path d="M2008.8 1364.5 L2008.8 1375.5" fill="none" stroke-width="2.2"/>
<text class="h" x="1998.8" y="1389.0" font-size="16.0" textLength="16.0" lengthAdjust="spacingAndGlyphs">72</text>
<path d="M2036.7 1364.5 L2036.7 1375.5" fill="none" stroke-width="2.2"/>
<path d="M2064.6 1364.5 L2064.6 1375.5" fill="none" stroke-width="2.2"/>
<text class="h" x="2054.6" y="1389.0" font-size="16.0" textLength="16.0" lengthAdjust="spacingAndGlyphs">74</text>
<path d="M2092.5 1364.5 L2092.5 1375.5" fill="none" stroke-width="2.2"/>
<path d="M2120.4 1364.5 L2120.4 1375.5" fill="none" stroke-width="2.2"/>
<text class="h" x="2110.4" y="1389.0" font-size="16.0" textLength="16.0" lengthAdjust="spacingAndGlyphs">76</text>
<path d="M2148.3 1364.5 L2148.3 1375.5" fill="none" stroke-width="2.2"/>
<path d="M2176.1 1364.5 L2176.2 1375.5" fill="none" stroke-width="2.2"/>
<text class="h" x="2166.2" y="1389.0" font-size="16.0" textLength="16.0" lengthAdjust="spacingAndGlyphs">78</text>
<path d="M2204.0 1364.5 L2204.1 1375.5" fill="none" stroke-width="2.2"/>
<path d="M2231.9 1364.5 L2231.9 1375.5" fill="none" stroke-width="2.2"/>
<text class="h" x="2222.0" y="1389.0" font-size="16.0" textLength="16.0" lengthAdjust="spacingAndGlyphs">80</text>
<path d="M2259.8 1364.5 L2259.8 1375.5" fill="none" stroke-width="2.2"/>
<path d="M2287.7 1364.5 L2287.7 1375.5" fill="none" stroke-width="2.2"/>
<text class="h" x="2277.7" y="1389.0" font-size="16.0" textLength="16.0" lengthAdjust="spacingAndGlyphs">82</text>
<path d="M2315.6 1364.5 L2315.6 1375.5" fill="none" stroke-width="2.2"/>
<path d="M2343.5 1364.5 L2343.5 1375.5" fill="none" stroke-width="2.2"/>
<text class="h" x="2333.5" y="1389.0" font-size="16.0" textLength="16.0" lengthAdjust="spacingAndGlyphs">84</text>
<path d="M2371.4 1364.5 L2371.4 1375.5" fill="none" stroke-width="2.2"/>
<path d="M2399.3 1364.5 L2399.3 1375.5" fill="none" stroke-width="2.2"/>
<text class="h" x="2389.3" y="1389.0" font-size="16.0" textLength="16.0" lengthAdjust="spacingAndGlyphs">86</text>
<path d="M2427.2 1364.5 L2427.2 1375.5" fill="none" stroke-width="2.2"/>
<path d="M2455.1 1364.5 L2455.1 1375.5" fill="none" stroke-width="2.2"/>
<text class="h" x="2445.1" y="1389.0" font-size="16.0" textLength="16.0" lengthAdjust="spacingAndGlyphs">88</text>
<path d="M2483.0 1364.5 L2483.0 1375.5" fill="none" stroke-width="2.2"/>
<path d="M2510.9 1364.5 L2510.9 1375.5" fill="none" stroke-width="2.2"/>
<text class="h" x="2500.9" y="1389.0" font-size="16.0" textLength="16.0" lengthAdjust="spacingAndGlyphs">90</text>
<path d="M2538.8 1364.5 L2538.8 1375.5" fill="none" stroke-width="2.2"/>
<path d="M2566.7 1364.5 L2566.7 1375.5" fill="none" stroke-width="2.2"/>
<text class="h" x="2556.7" y="1389.0" font-size="16.0" textLength="16.0" lengthAdjust="spacingAndGlyphs">92</text>
<path d="M2594.6 1364.5 L2594.6 1375.5" fill="none" stroke-width="2.2"/>
<path d="M2622.5 1364.5 L2622.5 1375.5" fill="none" stroke-width="2.2"/>
<text class="h" x="2612.5" y="1389.0" font-size="16.0" textLength="16.0" lengthAdjust="spacingAndGlyphs">94</text>
<path d="M2650.4 1364.5 L2650.4 1375.5" fill="none" stroke-width="2.2"/>
<path d="M2678.3 1364.5 L2678.3 1375.5" fill="none" stroke-width="2.2"/>
<text class="h" x="2668.3" y="1389.0" font-size="16.0" textLength="16.0" lengthAdjust="spacingAndGlyphs">96</text>
<path d="M2706.2 1364.5 L2706.2 1375.5" fill="none" stroke-width="2.2"/>
<path d="M2734.1 1364.5 L2734.1 1375.5" fill="none" stroke-width="2.2"/>
<text class="h" x="2724.1" y="1389.0" font-size="16.0" textLength="16.0" lengthAdjust="spacingAndGlyphs">98</text>
<path d="M2762.0 1364.5 L2762.0 1375.5" fill="none" stroke-width="2.2"/>
<path d="M2789.9 1364.5 L2789.9 1375.5" fill="none" stroke-width="2.2"/>
<text class="h" x="2776.4" y="1389.0" font-size="16.0" textLength="23.0" lengthAdjust="spacingAndGlyphs">100</text>
<path d="M2817.8 1364.5 L2817.8 1375.5" fill="none" stroke-width="2.2"/>
<path d="M2845.7 1364.5 L2845.7 1375.5" fill="none" stroke-width="2.2"/>
<text class="h" x="2832.2" y="1389.0" font-size="16.0" textLength="23.0" lengthAdjust="spacingAndGlyphs">102</text>
<path d="M2873.6 1364.5 L2873.6 1375.5" fill="none" stroke-width="2.2"/>
<path d="M2901.4 1364.5 L2901.5 1375.5" fill="none" stroke-width="2.2"/>
<text class="h" x="2888.0" y="1389.0" font-size="16.0" textLength="23.0" lengthAdjust="spacingAndGlyphs">104</text>
<path d="M2929.3 1364.5 L2929.4 1375.5" fill="none" stroke-width="2.2"/>
<path d="M2957.2 1364.5 L2957.2 1375.5" fill="none" stroke-width="2.2"/>
<text class="h" x="2943.8" y="1389.0" font-size="16.0" textLength="23.0" lengthAdjust="spacingAndGlyphs">106</text>
<path d="M2985.1 1364.5 L2985.1 1375.5" fill="none" stroke-width="2.2"/>
<path d="M3013.0 1364.5 L3013.0 1375.5" fill="none" stroke-width="2.2"/>
<text class="h" x="2999.6" y="1389.0" font-size="16.0" textLength="23.0" lengthAdjust="spacingAndGlyphs">108</text>
<path d="M3040.9 1364.5 L3040.9 1375.5" fill="none" stroke-width="2.2"/>
<path d="M3068.8 1364.5 L3068.8 1375.5" fill="none" stroke-width="2.2"/>
<text class="h" x="3055.3" y="1389.0" font-size="16.0" textLength="23.0" lengthAdjust="spacingAndGlyphs">110</text>
<path d="M3096.7 1364.5 L3096.7 1375.5" fill="none" stroke-width="2.2"/>
<path d="M3124.6 1364.5 L3124.6 1375.5" fill="none" stroke-width="2.2"/>
<text class="h" x="3111.1" y="1389.0" font-size="16.0" textLength="23.0" lengthAdjust="spacingAndGlyphs">112</text>
<path d="M3152.5 1364.5 L3152.5 1375.5" fill="none" stroke-width="2.2"/>
<path d="M3180.4 1364.5 L3180.4 1375.5" fill="none" stroke-width="2.2"/>
<text class="h" x="3166.9" y="1389.0" font-size="16.0" textLength="23.0" lengthAdjust="spacingAndGlyphs">114</text>
<path d="M3208.3 1364.5 L3208.3 1375.5" fill="none" stroke-width="2.2"/>
<path d="M3236.2 1364.5 L3236.2 1375.5" fill="none" stroke-width="2.2"/>
<text class="h" x="3222.7" y="1389.0" font-size="16.0" textLength="23.0" lengthAdjust="spacingAndGlyphs">116</text>
<path d="M3264.1 1364.5 L3264.1 1375.5" fill="none" stroke-width="2.2"/>
<path d="M3292.0 1364.5 L3292.0 1375.5" fill="none" stroke-width="2.2"/>
<text class="h" x="3278.5" y="1389.0" font-size="16.0" textLength="23.0" lengthAdjust="spacingAndGlyphs">118</text>
<path d="M3320.4 1364.5 L3320.4 1375.5" fill="none" stroke-width="2.2"/>
<path d="M3348.7 1364.5 L3348.7 1375.5" fill="none" stroke-width="2.2"/>
<text class="h" x="3335.2" y="1389.0" font-size="16.0" textLength="23.0" lengthAdjust="spacingAndGlyphs">120</text>
<path d="M3377.1 1364.5 L3377.1 1375.5" fill="none" stroke-width="2.2"/>
<path d="M3405.4 1364.5 L3405.4 1375.5" fill="none" stroke-width="2.2"/>
<text class="h" x="3391.9" y="1389.0" font-size="16.0" textLength="23.0" lengthAdjust="spacingAndGlyphs">122</text>
<path d="M3433.8 1364.5 L3433.8 1375.5" fill="none" stroke-width="2.2"/>
<path d="M3462.1 1364.5 L3462.1 1375.5" fill="none" stroke-width="2.2"/>
<text class="h" x="3448.7" y="1389.0" font-size="16.0" textLength="23.0" lengthAdjust="spacingAndGlyphs">124</text>
<path d="M3490.5 1364.5 L3490.5 1375.5" fill="none" stroke-width="2.2"/>
<path d="M3518.9 1364.5 L3518.9 1375.5" fill="none" stroke-width="2.2"/>
<text class="h" x="3505.4" y="1389.0" font-size="16.0" textLength="23.0" lengthAdjust="spacingAndGlyphs">126</text>
<path d="M3547.2 1364.5 L3547.2 1375.5" fill="none" stroke-width="2.2"/>
<path d="M3575.6 1364.5 L3575.6 1375.5" fill="none" stroke-width="2.2"/>
<text class="h" x="3562.1" y="1389.0" font-size="16.0" textLength="23.0" lengthAdjust="spacingAndGlyphs">128</text>
<path d="M3603.9 1364.5 L3603.9 1375.5" fill="none" stroke-width="2.2"/>
<path d="M3632.3 1364.5 L3632.3 1375.5" fill="none" stroke-width="2.2"/>
<text class="h" x="3618.8" y="1389.0" font-size="16.0" textLength="23.0" lengthAdjust="spacingAndGlyphs">130</text>
<path d="M3660.6 1364.5 L3660.6 1375.5" fill="none" stroke-width="2.2"/>
<path d="M3689.0 1364.5 L3689.0 1375.5" fill="none" stroke-width="2.2"/>
<text class="h" x="3675.5" y="1389.0" font-size="16.0" textLength="23.0" lengthAdjust="spacingAndGlyphs">132</text>
<path d="M3717.4 1364.5 L3717.4 1375.5" fill="none" stroke-width="2.2"/>
<path d="M3745.8 1364.5 L3745.8 1375.5" fill="none" stroke-width="2.2"/>
<text class="h" x="3732.3" y="1389.0" font-size="16.0" textLength="23.0" lengthAdjust="spacingAndGlyphs">134</text>
<path d="M3774.2 1364.5 L3774.3 1375.5" fill="none" stroke-width="2.2"/>
<path d="M3802.7 1364.5 L3802.7 1375.5" fill="none" stroke-width="2.2"/>
<text class="h" x="3789.2" y="1389.0" font-size="16.0" textLength="23.0" lengthAdjust="spacingAndGlyphs">136</text>
<path d="M3831.1 1364.5 L3831.1 1375.5" fill="none" stroke-width="2.2"/>
<path d="M3859.5 1364.5 L3859.5 1375.5" fill="none" stroke-width="2.2"/>
<text class="h" x="3846.0" y="1389.0" font-size="16.0" textLength="23.0" lengthAdjust="spacingAndGlyphs">138</text>
<path d="M3887.9 1364.5 L3887.9 1375.5" fill="none" stroke-width="2.2"/>
<path d="M3916.3 1364.5 L3916.3 1375.5" fill="none" stroke-width="2.2"/>
<text class="h" x="3902.8" y="1389.0" font-size="16.0" textLength="23.0" lengthAdjust="spacingAndGlyphs">140</text>
<path d="M3944.7 1364.5 L3944.8 1375.5" fill="none" stroke-width="2.2"/>
<path d="M3973.2 1364.5 L3973.2 1375.5" fill="none" stroke-width="2.2"/>
<text class="h" x="3959.7" y="1389.0" font-size="16.0" textLength="23.0" lengthAdjust="spacingAndGlyphs">142</text>
<path d="M4001.6 1364.5 L4001.6 1375.5" fill="none" stroke-width="2.2"/>
<path d="M4030.0 1364.5 L4030.0 1375.5" fill="none" stroke-width="2.2"/>
<text class="h" x="4016.5" y="1389.0" font-size="16.0" textLength="23.0" lengthAdjust="spacingAndGlyphs">144</text>
<path d="M4058.3 1364.5 L4058.3 1375.5" fill="none" stroke-width="2.2"/>
<path d="M4086.7 1364.5 L4086.7 1375.5" fill="none" stroke-width="2.2"/>
<text class="h" x="4073.2" y="1389.0" font-size="16.0" textLength="23.0" lengthAdjust="spacingAndGlyphs">146</text>
<path d="M4115.0 1364.5 L4115.0 1375.5" fill="none" stroke-width="2.2"/>
</g>
<g transform="rotate(-0.1089 0 2363.0)">
<path d="M13.4 2363.0 C13.5 2361.9 13.5 2358.5 13.8 2356.0 C14.2 2353.5 14.7 2351.0 15.5 2348.0 C16.4 2345.0 17.5 2341.7 19.0 2338.0 C20.6 2334.4 22.6 2330.0 25.1 2326.0 C27.5 2322.1 30.4 2317.8 33.6 2314.1 C36.8 2310.3 40.1 2306.8 44.1 2303.6 C48.1 2300.4 48.9 2300.3 57.5 2294.9 C66.2 2289.5 81.5 2278.2 95.9 2271.1 C110.2 2263.9 126.2 2258.3 143.7 2252.0 C161.3 2245.6 175.6 2240.5 201.1 2233.0 C226.7 2225.5 257.7 2216.8 296.8 2206.9 C335.9 2197.0 380.1 2187.9 435.6 2173.6 C491.0 2159.4 557.6 2138.0 629.4 2121.4 C701.1 2104.8 804.4 2085.4 866.3 2074.0 C928.1 2062.7 973.4 2057.3 1000.6 2053.3 C1027.8 2049.3 998.3 2053.5 1029.6 2049.8 C1060.9 2046.0 1131.0 2036.3 1188.6 2030.8 C1246.3 2025.2 1313.4 2020.1 1375.4 2016.6 C1437.4 2013.1 1516.5 2011.4 1560.7 2010.0 C1604.9 2008.5 1603.2 2008.7 1640.7 2008.1 C1678.2 2007.5 1722.0 2006.4 1785.7 2006.4 C1849.4 2006.3 1962.7 2007.2 2022.7 2007.8 C2082.7 2008.5 2086.0 2008.5 2145.7 2010.1 C2205.3 2011.7 2319.1 2014.9 2380.7 2017.5 C2442.2 2020.2 2472.1 2023.2 2515.1 2026.1 C2558.2 2029.0 2602.5 2032.0 2639.2 2034.8 C2676.0 2037.7 2688.2 2037.7 2735.6 2043.2 C2783.0 2048.7 2869.4 2059.9 2923.6 2067.9 C2977.7 2075.8 3033.7 2085.6 3060.5 2090.8 C3087.4 2096.0 3050.1 2090.2 3084.5 2098.9 C3118.9 2107.6 3173.7 2120.5 3267.0 2143.0 C3360.3 2165.5 3491.5 2197.2 3644.3 2233.9 C3797.0 2270.6 4093.5 2341.8 4183.3 2363.3" fill="none" stroke-width="2.9" stroke-dasharray="46 8 5 8"/>
<path d="M13.4 2363.0 C13.5 2364.1 13.5 2367.5 13.8 2370.0 C14.2 2372.5 14.7 2375.0 15.5 2378.0 C16.4 2381.0 17.5 2384.3 19.0 2388.0 C20.6 2391.6 22.6 2396.0 25.1 2400.0 C27.5 2403.9 30.4 2408.2 33.6 2411.9 C36.8 2415.7 40.1 2419.2 44.1 2422.4 C48.1 2425.6 48.9 2425.7 57.5 2431.1 C66.2 2436.5 81.5 2447.8 95.9 2454.9 C110.2 2462.1 126.2 2467.7 143.7 2474.0 C161.3 2480.4 175.6 2485.5 201.1 2493.0 C226.7 2500.5 257.7 2509.2 296.8 2519.1 C335.9 2529.0 380.1 2538.1 435.6 2552.4 C491.0 2566.6 557.6 2588.0 629.4 2604.6 C701.1 2621.2 804.4 2640.6 866.3 2652.0 C928.1 2663.3 973.4 2668.7 1000.6 2672.7 C1027.8 2676.7 998.3 2672.7 1029.6 2676.2 C1060.9 2679.8 1131.0 2689.1 1188.6 2694.2 C1246.3 2699.3 1313.4 2704.1 1375.4 2707.1 C1437.4 2710.2 1516.5 2711.4 1560.7 2712.6 C1604.9 2713.7 1603.2 2713.4 1640.7 2713.9 C1678.2 2714.4 1722.0 2715.6 1785.7 2715.6 C1849.4 2715.7 1962.7 2714.8 2022.7 2714.2 C2082.7 2713.5 2086.0 2713.5 2145.7 2711.9 C2205.3 2710.3 2319.1 2707.1 2380.7 2704.5 C2442.2 2701.8 2472.1 2698.8 2515.1 2695.9 C2558.2 2693.0 2602.5 2690.0 2639.2 2687.2 C2676.0 2684.3 2688.2 2684.3 2735.6 2678.8 C2783.0 2673.3 2869.4 2661.9 2923.6 2654.1 C2977.7 2646.3 3033.7 2637.0 3060.5 2632.0 C3087.4 2627.0 3050.1 2632.5 3084.5 2624.3 C3118.9 2616.0 3173.7 2604.6 3267.0 2582.6 C3360.3 2560.5 3491.5 2528.7 3644.3 2492.1 C3797.0 2455.4 4093.5 2384.2 4183.3 2362.7" fill="none" stroke-width="2.9" stroke-dasharray="46 8 5 8"/>
<path d="M1029.5 2100.4 C1056.0 2097.4 1130.9 2087.8 1188.5 2082.7 C1246.2 2077.5 1313.3 2073.1 1375.3 2069.6 C1437.3 2066.1 1517.9 2063.4 1560.6 2061.7 C1603.3 2059.9 1594.2 2059.9 1631.6 2059.1 C1668.9 2058.3 1719.3 2057.3 1784.6 2056.9 C1849.9 2056.5 1963.7 2056.6 2023.6 2056.8 C2083.5 2057.0 2085.0 2057.1 2144.1 2058.1 C2203.2 2059.0 2316.5 2061.0 2378.4 2062.5 C2440.2 2064.0 2455.5 2063.5 2515.1 2067.1 C2574.6 2070.7 2667.5 2077.5 2735.5 2084.2 C2803.6 2090.9 2869.3 2100.2 2923.5 2107.6 C2977.6 2114.9 3033.6 2124.2 3060.5 2128.3 C3087.3 2132.5 3050.0 2124.0 3084.4 2132.5 C3118.9 2140.9 3215.1 2165.6 3267.0 2178.9 C3318.8 2192.2 3351.8 2200.5 3395.7 2212.1 C3439.6 2223.6 3507.8 2242.3 3530.2 2248.3" fill="none" stroke-width="3.0"/>
<path d="M1029.5 2625.6 C1056.0 2628.4 1130.9 2637.6 1188.5 2642.3 C1246.2 2647.0 1313.3 2651.0 1375.3 2654.1 C1437.3 2657.2 1517.9 2659.4 1560.6 2660.9 C1603.3 2662.3 1594.2 2662.2 1631.6 2663.0 C1668.9 2663.7 1719.3 2664.7 1784.6 2665.1 C1849.9 2665.5 1963.7 2665.4 2023.6 2665.2 C2083.5 2665.0 2085.0 2664.9 2144.1 2663.9 C2203.2 2663.0 2316.5 2661.0 2378.4 2659.5 C2440.2 2658.0 2455.5 2658.5 2515.1 2654.9 C2574.6 2651.3 2667.5 2644.5 2735.5 2637.8 C2803.6 2631.1 2869.3 2621.7 2923.5 2614.4 C2977.6 2607.2 3033.6 2598.5 3060.5 2594.5 C3087.3 2590.5 3050.0 2598.6 3084.4 2590.7 C3118.9 2582.7 3215.1 2559.4 3267.0 2546.7 C3318.8 2533.9 3351.8 2525.4 3395.7 2513.9 C3439.6 2502.5 3507.8 2483.7 3530.2 2477.7" fill="none" stroke-width="3.0"/>
<path d="M837.3 2186.4 C864.5 2182.1 968.4 2166.1 1000.4 2160.6 C1032.4 2155.1 998.1 2157.9 1029.4 2153.4 C1060.7 2148.8 1130.8 2140.0 1188.4 2133.3 C1246.1 2126.6 1313.2 2117.7 1375.2 2113.1 C1437.2 2108.6 1517.8 2107.5 1560.5 2106.0 C1603.2 2104.5 1594.2 2104.9 1631.5 2104.1 C1668.8 2103.3 1719.2 2101.8 1784.5 2101.4 C1849.8 2100.9 1963.6 2101.2 2023.5 2101.3 C2083.4 2101.5 2084.9 2101.3 2144.0 2102.1 C2203.1 2102.9 2302.8 2103.4 2378.3 2106.0 C2453.8 2108.7 2537.3 2114.5 2596.9 2117.9 C2656.4 2121.3 2681.0 2121.2 2735.5 2126.5 C2789.9 2131.8 2869.3 2142.4 2923.4 2149.8 C2977.6 2157.1 3033.6 2166.7 3060.4 2170.5 C3087.2 2174.4 3050.0 2165.0 3084.4 2172.9 C3118.8 2180.7 3217.8 2206.9 3266.9 2217.8 C3316.0 2228.7 3337.0 2230.6 3378.9 2238.4 C3420.9 2246.2 3474.3 2256.3 3518.5 2264.7 C3562.7 2273.1 3623.2 2284.6 3644.2 2288.6" fill="none" stroke-width="4.0"/>
<path d="M837.3 2539.6 C864.5 2543.9 968.4 2559.9 1000.4 2565.4 C1032.4 2570.9 998.1 2568.3 1029.4 2572.6 C1060.7 2577.0 1130.8 2585.2 1188.4 2591.5 C1246.1 2597.7 1313.2 2606.1 1375.2 2610.2 C1437.2 2614.2 1517.8 2614.7 1560.5 2615.9 C1603.2 2617.0 1594.2 2616.5 1631.5 2617.2 C1668.8 2617.8 1719.2 2619.4 1784.5 2619.8 C1849.8 2620.3 1963.6 2620.0 2023.5 2619.9 C2083.4 2619.7 2084.9 2619.9 2144.0 2619.1 C2203.1 2618.3 2302.8 2617.8 2378.3 2615.2 C2453.8 2612.5 2537.3 2606.7 2596.9 2603.3 C2656.4 2599.9 2681.0 2600.0 2735.5 2594.7 C2789.9 2589.4 2869.3 2578.6 2923.4 2571.4 C2977.6 2564.3 3033.6 2555.3 3060.4 2551.7 C3087.2 2548.0 3050.0 2557.0 3084.4 2549.7 C3118.8 2542.4 3217.8 2518.0 3266.9 2507.7 C3316.0 2497.3 3337.0 2495.3 3378.9 2487.6 C3420.9 2479.9 3474.3 2469.7 3518.5 2461.3 C3562.7 2452.9 3623.2 2441.4 3644.2 2437.4" fill="none" stroke-width="4.0"/>
<path d="M545.3 2219.0 C566.0 2215.9 621.2 2205.7 669.9 2200.3 C718.6 2194.8 809.4 2188.7 837.3 2186.4" fill="none" stroke-width="2.9"/>
<path d="M545.3 2507.0 C566.0 2510.1 621.2 2520.3 669.9 2525.7 C718.6 2531.2 809.4 2537.3 837.3 2539.6" fill="none" stroke-width="2.9"/>
<path d="M1029.4 2147.4 C1055.9 2144.0 1130.8 2134.0 1188.5 2127.3 C1246.1 2120.6 1313.2 2111.7 1375.2 2107.1 C1437.2 2102.6 1517.8 2101.5 1560.5 2100.0 C1603.2 2098.5 1594.2 2098.9 1631.5 2098.1 C1668.8 2097.3 1719.2 2095.8 1784.5 2095.4 C1849.8 2094.9 1963.6 2095.2 2023.5 2095.3 C2083.4 2095.5 2084.9 2095.3 2144.0 2096.1 C2203.1 2096.9 2302.8 2097.4 2378.3 2100.0 C2453.8 2102.7 2560.5 2109.9 2596.9 2111.9" fill="none" stroke-width="2.2" stroke-dasharray="46 8 5 8"/>
<path d="M1029.4 2578.6 C1055.9 2582.0 1130.8 2592.0 1188.5 2598.7 C1246.1 2605.4 1313.2 2614.3 1375.2 2618.9 C1437.2 2623.4 1517.8 2624.5 1560.5 2626.0 C1603.2 2627.5 1594.2 2627.1 1631.5 2627.9 C1668.8 2628.7 1719.2 2630.2 1784.5 2630.6 C1849.8 2631.1 1963.6 2630.8 2023.5 2630.7 C2083.4 2630.5 2084.9 2630.7 2144.0 2629.9 C2203.1 2629.1 2302.8 2628.6 2378.3 2626.0 C2453.8 2623.3 2560.5 2616.1 2596.9 2614.1" fill="none" stroke-width="2.2" stroke-dasharray="46 8 5 8"/>
<path d="M574.3 2210.1 C618.1 2204.5 788.7 2182.5 837.4 2176.6 C886.0 2170.6 834.1 2179.6 866.1 2174.4 C898.1 2169.3 1002.2 2150.7 1029.4 2146.0" fill="none" stroke-width="2.2" stroke-dasharray="46 8 5 8"/>
<path d="M574.3 2515.9 C618.1 2521.5 788.7 2543.5 837.4 2549.4 C886.0 2555.4 834.1 2546.4 866.1 2551.6 C898.1 2556.7 1002.2 2575.3 1029.4 2580.0" fill="none" stroke-width="2.2" stroke-dasharray="46 8 5 8"/>
<path d="M315.9 2264.3 L1029.2 2267.9 L1560.2 2268.9 L1631.2 2269.6 L1784.6 2276.7 L2598.2 2278.7 L2734.2 2267.2 L3084.2 2267.9" fill="none" stroke-width="4.0"/>
<path d="M315.9 2461.7 L1029.2 2458.1 L1560.2 2457.1 L1631.2 2456.4 L1784.6 2449.3 L2598.2 2447.3 L2734.2 2458.8 L3084.2 2458.1" fill="none" stroke-width="4.0"/>
<path d="M3644.2 2248.5 L3922.8 2307.5 L4114.0 2350.8" fill="none" stroke-width="3.3"/>
<path d="M3644.2 2477.5 L3922.8 2418.5 L4114.0 2375.2" fill="none" stroke-width="3.3"/>
<path d="M1029.2 2263.0 L3084.2 2263.9" fill="none" stroke-width="2.2" stroke-dasharray="24 8"/>
<path d="M1029.2 2463.0 L3084.2 2462.1" fill="none" stroke-width="2.2" stroke-dasharray="24 8"/>
<path d="M1029.2 2283.0 L3084.2 2282.9" fill="none" stroke-width="2.2" stroke-dasharray="24 8"/>
<path d="M1029.2 2443.0 L3084.2 2443.1" fill="none" stroke-width="2.2" stroke-dasharray="24 8"/>
<path d="M316.0 2230.6 L545.3 2231.0" fill="none" stroke-width="3.7"/>
<path d="M316.0 2495.4 L545.3 2495.0" fill="none" stroke-width="3.7"/>
<path d="M545.3 2231.0 L1029.3 2232.0" fill="none" stroke-width="2.2" stroke-dasharray="24 8"/>
<path d="M545.3 2495.0 L1029.3 2494.0" fill="none" stroke-width="2.2" stroke-dasharray="24 8"/>
<path d="M1000.3 2225.6 C1062.7 2224.5 1281.6 2221.1 1375.0 2219.1 C1468.3 2217.1 1492.1 2214.8 1560.3 2213.5 C1628.5 2212.2 1747.0 2211.7 1784.3 2211.4" fill="none" stroke-width="2.2" stroke-dasharray="46 8 5 8"/>
<path d="M1000.3 2500.4 C1062.7 2501.5 1281.6 2504.9 1375.0 2506.9 C1468.3 2508.9 1492.1 2511.2 1560.3 2512.5 C1628.5 2513.8 1747.0 2514.3 1784.3 2514.6" fill="none" stroke-width="2.2" stroke-dasharray="46 8 5 8"/>
<path d="M260.2 2247.5 C265.2 2246.0 280.9 2241.0 290.2 2238.6 C299.5 2236.1 311.7 2233.6 315.9 2232.6" fill="none" stroke-width="2.9"/>
<path d="M260.2 2478.5 C265.2 2480.0 280.9 2485.0 290.2 2487.4 C299.5 2489.9 311.7 2492.4 315.9 2493.4" fill="none" stroke-width="2.9"/>
<path d="M260.2 2247.5 C265.2 2249.0 280.9 2254.0 290.2 2256.6 C299.5 2259.1 311.6 2261.6 315.9 2262.6" fill="none" stroke-width="2.9"/>
<path d="M260.2 2478.5 C265.2 2477.0 280.9 2472.0 290.2 2469.4 C299.5 2466.9 311.6 2464.4 315.9 2463.4" fill="none" stroke-width="2.9"/>
<path d="M320.2 2232.6 L320.2 2262.6" fill="none" stroke-width="4.4"/>
<path d="M320.2 2493.4 L320.2 2463.4" fill="none" stroke-width="4.4"/>
<path d="M380.2 2232.7 L380.2 2262.7" fill="none" stroke-width="2.9"/>
<path d="M380.2 2493.3 L380.2 2463.3" fill="none" stroke-width="2.9"/>
<path d="M260.2 2247.0 L760.2 2247.9" fill="none" stroke-width="2.2" stroke-dasharray="46 8 5 8"/>
<path d="M260.2 2479.0 L760.2 2478.1" fill="none" stroke-width="2.2" stroke-dasharray="46 8 5 8"/>
<path d="M330.0 2363.6 C331.0 2362.5 332.7 2359.1 336.0 2356.6 C339.4 2354.1 339.4 2353.6 350.0 2348.7 C360.7 2343.7 314.0 2363.8 400.1 2326.8 C486.1 2289.8 788.5 2160.0 866.2 2126.6" fill="none" stroke-width="4.6"/>
<path d="M330.0 2362.4 C331.0 2363.5 332.7 2366.9 336.0 2369.4 C339.4 2371.9 339.4 2372.4 350.0 2377.3 C360.7 2382.3 314.0 2362.2 400.1 2399.2 C486.1 2436.2 788.5 2566.0 866.2 2599.4" fill="none" stroke-width="4.6"/>
<path d="M330.0 2363.6 C332.5 2361.5 338.4 2353.9 345.0 2350.7 C351.7 2347.4 355.0 2345.4 370.0 2344.2 C385.0 2343.0 424.2 2343.6 435.0 2343.4" fill="none" stroke-width="3.7"/>
<path d="M330.0 2362.4 C332.5 2364.5 338.4 2372.1 345.0 2375.3 C351.7 2378.6 355.0 2380.6 370.0 2381.8 C385.0 2383.0 424.2 2382.4 435.0 2382.6" fill="none" stroke-width="3.7"/>
<path d="M435.0 2343.4 L1029.0 2344.6" fill="none" stroke-width="4.2"/>
<path d="M435.0 2382.6 L1029.0 2381.4" fill="none" stroke-width="4.2"/>
<path d="M435.1 2336.3 L1029.1 2337.5" fill="none" stroke-width="2.2" stroke-dasharray="24 8"/>
<path d="M435.1 2389.7 L1029.1 2388.5" fill="none" stroke-width="2.2" stroke-dasharray="24 8"/>
<path d="M1029.6 2049.8 L1029.0 2363.0" fill="none" stroke-width="3.0"/>
<path d="M1029.6 2676.2 L1029.0 2363.0" fill="none" stroke-width="3.0"/>
<path d="M1188.6 2030.8 L1188.0 2363.0" fill="none" stroke-width="3.0"/>
<path d="M1188.6 2695.2 L1188.0 2363.0" fill="none" stroke-width="3.0"/>
<path d="M1375.4 2016.6 L1374.7 2363.0" fill="none" stroke-width="3.0"/>
<path d="M1375.4 2709.4 L1374.7 2363.0" fill="none" stroke-width="3.0"/>
<path d="M1632.0 2008.3 L1631.3 2363.0" fill="none" stroke-width="3.0"/>
<path d="M1632.0 2717.7 L1631.3 2363.0" fill="none" stroke-width="3.0"/>
<path d="M1785.1 2006.4 L1784.4 2363.0" fill="none" stroke-width="3.0"/>
<path d="M1785.1 2719.6 L1784.4 2363.0" fill="none" stroke-width="3.0"/>
<path d="M2023.2 2007.9 L2022.5 2363.0" fill="none" stroke-width="3.0"/>
<path d="M2023.2 2718.1 L2022.5 2363.0" fill="none" stroke-width="3.0"/>
<path d="M2144.2 2010.0 L2143.5 2363.0" fill="none" stroke-width="3.0"/>
<path d="M2144.2 2716.0 L2143.5 2363.0" fill="none" stroke-width="3.0"/>
<path d="M2378.5 2017.5 L2377.8 2363.0" fill="none" stroke-width="3.0"/>
<path d="M2378.5 2708.5 L2377.8 2363.0" fill="none" stroke-width="3.0"/>
<path d="M2514.6 2026.0 L2514.0 2363.0" fill="none" stroke-width="3.0"/>
<path d="M2514.6 2700.0 L2514.0 2363.0" fill="none" stroke-width="3.0"/>
<path d="M2734.6 2043.1 L2734.0 2363.0" fill="none" stroke-width="3.0"/>
<path d="M2734.6 2682.9 L2734.0 2363.0" fill="none" stroke-width="3.0"/>
<path d="M2923.6 2067.9 L2923.0 2363.0" fill="none" stroke-width="3.0"/>
<path d="M2923.6 2658.1 L2923.0 2363.0" fill="none" stroke-width="3.0"/>
<path d="M3084.5 2098.9 L3084.0 2363.0" fill="none" stroke-width="3.0"/>
<path d="M3084.5 2627.1 L3084.0 2363.0" fill="none" stroke-width="3.0"/>
<path d="M3267.0 2142.9 L3266.6 2363.0" fill="none" stroke-width="3.0"/>
<path d="M3267.0 2583.1 L3266.6 2363.0" fill="none" stroke-width="3.0"/>
<path d="M3378.9 2238.3 L3378.7 2363.0" fill="none" stroke-width="3.0"/>
<path d="M3378.9 2487.7 L3378.7 2363.0" fill="none" stroke-width="3.0"/>
<path d="M3518.5 2264.6 L3518.3 2363.0" fill="none" stroke-width="3.0"/>
<path d="M3518.5 2461.4 L3518.3 2363.0" fill="none" stroke-width="3.0"/>
<path d="M3644.3 2233.9 L3644.0 2363.0" fill="none" stroke-width="3.0"/>
<path d="M3644.3 2492.1 L3644.0 2363.0" fill="none" stroke-width="3.0"/>
<path d="M3922.8 2304.6 L3922.7 2363.0" fill="none" stroke-width="3.5"/>
<path d="M3922.8 2421.4 L3922.7 2363.0" fill="none" stroke-width="3.5"/>
<path d="M1505.3 2012.0 L1505.2 2064.0" fill="none" stroke-width="3.0"/>
<path d="M1505.3 2714.0 L1505.2 2662.0" fill="none" stroke-width="3.0"/>
<path d="M1897.5 2007.1 L1897.4 2056.9" fill="none" stroke-width="3.0"/>
<path d="M1897.5 2718.9 L1897.4 2669.1" fill="none" stroke-width="3.0"/>
<path d="M2256.6 2013.6 L2256.5 2060.2" fill="none" stroke-width="3.0"/>
<path d="M2256.6 2712.4 L2256.5 2665.8" fill="none" stroke-width="3.0"/>
<path d="M2641.5 2035.0 L2641.5 2076.9" fill="none" stroke-width="3.0"/>
<path d="M2641.5 2691.0 L2641.5 2649.1" fill="none" stroke-width="3.0"/>
<path d="M3395.8 2173.9 L3395.7 2211.9" fill="none" stroke-width="3.0"/>
<path d="M3395.8 2552.1 L3395.7 2514.1" fill="none" stroke-width="3.0"/>
<path d="M837.3 2198.6 L837.0 2363.0" fill="none" stroke-width="3.0"/>
<path d="M837.3 2527.4 L837.0 2363.0" fill="none" stroke-width="3.0"/>
<path d="M866.3 2074.2 L866.0 2184.6" fill="none" stroke-width="3.0"/>
<path d="M866.3 2651.8 L866.0 2541.4" fill="none" stroke-width="3.0"/>
<path d="M629.4 2121.6 L629.2 2201.2" fill="none" stroke-width="2.4" stroke-dasharray="16 6 3 6"/>
<path d="M629.4 2604.4 L629.2 2524.8" fill="none" stroke-width="2.4" stroke-dasharray="16 6 3 6"/>
<path d="M629.1 2267.2 L628.9 2363.0" fill="none" stroke-width="3.0"/>
<path d="M629.1 2458.8 L628.9 2363.0" fill="none" stroke-width="3.0"/>
<path d="M435.6 2173.7 L435.2 2363.0" fill="none" stroke-width="2.4" stroke-dasharray="16 6 3 6"/>
<path d="M435.6 2552.3 L435.2 2363.0" fill="none" stroke-width="2.4" stroke-dasharray="16 6 3 6"/>
<path d="M308.8 2194.6 L308.8 2230.6" fill="none" stroke-width="2.4" stroke-dasharray="16 6 3 6"/>
<path d="M308.8 2531.4 L308.8 2495.4" fill="none" stroke-width="2.4" stroke-dasharray="16 6 3 6"/>
<path d="M325.2 2262.6 L325.0 2363.0" fill="none" stroke-width="2.4" stroke-dasharray="16 6 3 6"/>
<path d="M325.2 2463.4 L325.0 2363.0" fill="none" stroke-width="2.4" stroke-dasharray="16 6 3 6"/>
<path d="M545.5 2219.0 L545.2 2363.0" fill="none" stroke-width="3.0"/>
<path d="M545.5 2507.0 L545.2 2363.0" fill="none" stroke-width="3.0"/>
<path d="M908.9 2267.7 L908.7 2344.7" fill="none" stroke-width="3.0"/>
<path d="M908.9 2458.3 L908.7 2381.3" fill="none" stroke-width="3.0"/>
<path d="M956.7 2274.8 L956.5 2344.8" fill="none" stroke-width="2.2" stroke-dasharray="16 7"/>
<path d="M956.7 2451.2 L956.5 2381.2" fill="none" stroke-width="2.2" stroke-dasharray="16 7"/>
<path d="M789.5 2088.2 L746.3 2195.4" fill="none" stroke-width="3.0"/>
<path d="M678.7 2532.8 L716.9 2626.4" fill="none" stroke-width="3.0"/>
<path d="M3551.3 2209.4 L3530.2 2266.3" fill="none" stroke-width="3.0"/>
<path d="M83.8 2311.7 L248.8 2312.0" fill="none" stroke-width="2.2" stroke-dasharray="30 6 4 6"/>
<path d="M115.0 2260.6 L184.2 2311.9 L117.2 2363.4" fill="none" stroke-width="2.4" stroke-dasharray="18 6 3 6"/>
<path d="M115.0 2260.6 C113.0 2266.3 105.5 2284.5 103.0 2295.0 C100.4 2305.5 99.2 2314.9 99.6 2323.7 C99.9 2332.4 102.3 2341.0 105.2 2347.6 C108.2 2354.2 115.2 2360.8 117.2 2363.4" fill="none" stroke-width="2.4" stroke-dasharray="18 6 3 6"/>
<path d="M222.5 2288.0 L184.2 2311.9 L222.4 2335.9" fill="none" stroke-width="2.4" stroke-dasharray="18 6 3 6"/>
<path d="M222.5 2288.0 C223.7 2290.8 228.3 2299.6 229.7 2304.8 C231.0 2310.0 231.8 2314.0 230.6 2319.1 C229.4 2324.3 223.8 2333.1 222.4 2335.9" fill="none" stroke-width="2.4" stroke-dasharray="18 6 3 6"/>
<path d="M115.0 2260.6 L136.5 2273.5" fill="none" stroke-width="2.4" stroke-dasharray="18 6 3 6"/>
<path d="M83.6 2413.6 L248.6 2413.9" fill="none" stroke-width="2.2" stroke-dasharray="30 6 4 6"/>
<path d="M114.6 2464.8 L184.0 2413.7 L117.2 2362.0" fill="none" stroke-width="2.4" stroke-dasharray="18 6 3 6"/>
<path d="M114.6 2464.8 C112.6 2459.0 105.2 2440.9 102.7 2430.3 C100.2 2419.8 99.0 2410.4 99.4 2401.6 C99.8 2392.9 102.2 2384.3 105.2 2377.7 C108.2 2371.1 115.2 2364.6 117.2 2362.0" fill="none" stroke-width="2.4" stroke-dasharray="18 6 3 6"/>
<path d="M222.3 2437.7 L184.0 2413.7 L222.3 2389.9" fill="none" stroke-width="2.4" stroke-dasharray="18 6 3 6"/>
<path d="M222.3 2437.7 C223.5 2434.9 228.1 2426.2 229.5 2421.0 C230.8 2415.8 231.6 2411.8 230.4 2406.7 C229.3 2401.5 223.7 2392.7 222.3 2389.9" fill="none" stroke-width="2.4" stroke-dasharray="18 6 3 6"/>
<path d="M114.6 2464.8 L136.1 2451.9" fill="none" stroke-width="2.4" stroke-dasharray="18 6 3 6"/>
<path d="M117.0 2438.5 L117.3 2285.4 L248.8 2311.0 L248.6 2416.3 L117.0 2438.5" fill="none" stroke-width="2.2" stroke-dasharray="22 6 4 6"/>
<path d="M203.3 2363.6 C206.1 2362.1 212.4 2357.2 220.0 2355.0 C227.6 2352.8 242.3 2351.0 248.7 2350.3 C255.1 2349.5 256.7 2350.3 258.3 2350.3" fill="none" stroke-width="3.3"/>
<path d="M203.3 2363.6 C206.0 2364.9 212.4 2369.6 220.0 2371.7 C227.6 2373.9 242.3 2375.8 248.7 2376.6 C255.0 2377.4 256.6 2376.6 258.2 2376.6" fill="none" stroke-width="3.3"/>
<path d="M258.3 2351.7 L265.9 2351.7 L265.9 2375.6 L258.2 2375.6 Z" fill="none" stroke-width="3.3"/>
<path d="M265.9 2356.5 C271.0 2356.8 285.9 2358.9 296.5 2358.5 C307.2 2358.0 324.4 2354.5 330.0 2353.8" fill="none" stroke-width="3.3"/>
<path d="M265.9 2370.9 C271.0 2370.6 285.8 2369.1 296.5 2369.5 C307.2 2369.8 324.4 2372.3 330.0 2372.9" fill="none" stroke-width="3.3"/>
<path d="M351.5 2350.5 L351.5 2376.8" fill="none" stroke-width="3.3"/>
<path d="M444.8 2333.9 L617.1 2276.8" fill="none" stroke-width="2.2" stroke-dasharray="16 7"/>
<path d="M444.7 2393.7 L616.8 2449.0" fill="none" stroke-width="2.2" stroke-dasharray="18 6 3 6"/>
<circle cx="621.9" cy="2275.9" r="6.2" fill="none" stroke-width="2.4" stroke-dasharray="5 4"/>
<circle cx="676.9" cy="2276.0" r="6.2" fill="none" stroke-width="2.4" stroke-dasharray="5 4"/>
<circle cx="619.2" cy="2451.4" r="6.2" fill="none" stroke-width="2.4" stroke-dasharray="5 4"/>
<circle cx="636.9" cy="2451.4" r="6.2" fill="none" stroke-width="2.4" stroke-dasharray="5 4"/>
<circle cx="418.5" cy="2376.9" r="6.2" fill="none" stroke-width="2.4" stroke-dasharray="5 4"/>
<circle cx="789.1" cy="2382.4" r="6.2" fill="none" stroke-width="2.4" stroke-dasharray="5 4"/>
<path d="M629.2 2205.1 L736.8 2210.1" fill="none" stroke-width="2.2" stroke-dasharray="16 7"/>
<path d="M628.6 2520.8 L738.6 2518.6" fill="none" stroke-width="2.2" stroke-dasharray="16 7"/>
<path d="M1030.9 2232.2 L1047.6 2232.2 L1047.6 2268.1 L1030.8 2268.0 Z" fill="none" stroke-width="2.0"/>
<path d="M1030.9 2236.7 L1047.6 2236.7" fill="none" stroke-width="2.0"/>
<path d="M1030.9 2241.1 L1047.6 2241.2" fill="none" stroke-width="2.0"/>
<path d="M1030.9 2245.6 L1047.6 2245.7" fill="none" stroke-width="2.0"/>
<path d="M1030.9 2250.1 L1047.6 2250.1" fill="none" stroke-width="2.0"/>
<path d="M1030.9 2254.6 L1047.6 2254.6" fill="none" stroke-width="2.0"/>
<path d="M1030.9 2259.1 L1047.6 2259.1" fill="none" stroke-width="2.0"/>
<path d="M1030.8 2263.6 L1047.6 2263.6" fill="none" stroke-width="2.0"/>
<path d="M1030.5 2468.9 L1047.2 2468.9 L1047.1 2500.0 L1030.4 2500.0 Z" fill="none" stroke-width="2.0"/>
<path d="M1030.5 2472.8 L1047.2 2472.8" fill="none" stroke-width="2.0"/>
<path d="M1030.4 2476.7 L1047.2 2476.7" fill="none" stroke-width="2.0"/>
<path d="M1030.4 2480.6 L1047.2 2480.6" fill="none" stroke-width="2.0"/>
<path d="M1030.4 2484.5 L1047.2 2484.5" fill="none" stroke-width="2.0"/>
<path d="M1030.4 2488.3 L1047.2 2488.4" fill="none" stroke-width="2.0"/>
<path d="M1030.4 2492.2 L1047.2 2492.3" fill="none" stroke-width="2.0"/>
<path d="M1030.4 2496.1 L1047.1 2496.1" fill="none" stroke-width="2.0"/>
<text class="h" x="330.1" y="2293.0" font-size="22.0" textLength="71.7" lengthAdjust="spacingAndGlyphs">Trimzelle</text>
<text class="h" x="504.7" y="2294.3" font-size="22.0" textLength="74.1" lengthAdjust="spacingAndGlyphs">Trimzelle</text>
<text class="h" x="664.9" y="2312.8" font-size="23.0" textLength="81.3" lengthAdjust="spacingAndGlyphs">Trimzelle</text>
<text class="h" x="334.6" y="2441.3" font-size="22.0" textLength="71.7" lengthAdjust="spacingAndGlyphs">Trimzelle</text>
<text class="h" x="501.1" y="2443.0" font-size="22.0" textLength="74.1" lengthAdjust="spacingAndGlyphs">Trimzelle</text>
<text class="h" x="665.6" y="2432.4" font-size="23.0" textLength="76.5" lengthAdjust="spacingAndGlyphs">Trimzelle</text>
<text class="h" x="653.0" y="2255.4" font-size="23.0" textLength="126.7" lengthAdjust="spacingAndGlyphs">B.B.IV. Tunnel</text>
<text class="h" x="856.3" y="2254.3" font-size="23.0" textLength="129.1" lengthAdjust="spacingAndGlyphs">B.B.III Tunnel</text>
<text class="h" x="623.9" y="2487.3" font-size="23.0" textLength="143.5" lengthAdjust="spacingAndGlyphs">St.B.IV. Tunnel</text>
<text class="h" x="853.5" y="2487.7" font-size="23.0" textLength="124.3" lengthAdjust="spacingAndGlyphs">St.B.III Tunnel</text>
<text class="h" x="854.0" y="2210.3" font-size="24.0" textLength="138.7" lengthAdjust="spacingAndGlyphs">Masch.Vorräte</text>
<text class="h" x="858.6" y="2314.6" font-size="24.0" textLength="126.7" lengthAdjust="spacingAndGlyphs">Maschinen-Öl</text>
<text class="h" x="853.6" y="2427.9" font-size="24.0" textLength="126.7" lengthAdjust="spacingAndGlyphs">Maschinen-Öl</text>
<text class="h" x="860.5" y="2537.9" font-size="24.0" textLength="129.1" lengthAdjust="spacingAndGlyphs">Masch.Vorräte</text>
<text class="h" x="897.1" y="2153.0" font-size="24.0" textLength="76.5" lengthAdjust="spacingAndGlyphs" transform="rotate(-5.0 897.1 2153.0)">Schutz-</text>
<text class="h" x="870.0" y="2593.0" font-size="24.0" textLength="76.5" lengthAdjust="spacingAndGlyphs" transform="rotate(6.0 870.0 2593.0)">Schutz-</text>
<path d="M1187.9 2140.2 L1305.6 2135.6 L1305.4 2199.2 L1187.8 2199.0" fill="none" stroke-width="3.5"/>
<path d="M1249.1 2138.4 L1249.0 2199.1" fill="none" stroke-width="3.5"/>
<path d="M1187.1 2583.0 L1304.7 2588.0 L1304.8 2524.4 L1187.2 2524.2" fill="none" stroke-width="3.5"/>
<path d="M1248.3 2585.1 L1248.4 2524.3" fill="none" stroke-width="3.5"/>
<text class="h" x="1190.7" y="2183.2" font-size="23.0" textLength="55.0" lengthAdjust="spacingAndGlyphs">Masch.</text>
<text class="h" x="1257.7" y="2183.3" font-size="23.0" textLength="18.2" lengthAdjust="spacingAndGlyphs">Öl</text>
<text class="h" x="1190.0" y="2565.8" font-size="23.0" textLength="55.0" lengthAdjust="spacingAndGlyphs">Masch.</text>
<text class="h" x="1253.1" y="2565.9" font-size="23.0" textLength="18.2" lengthAdjust="spacingAndGlyphs">Öl</text>
<path d="M1258.4 2268.5 L1258.1 2455.0" fill="none" stroke-width="2.2" stroke-dasharray="16 7"/>
<path d="M1305.3 2268.6 L1305.0 2455.1" fill="none" stroke-width="2.2" stroke-dasharray="16 7"/>
<path d="M1258.4 2293.8 L1305.3 2293.9" fill="none" stroke-width="2.2" stroke-dasharray="16 7"/>
<rect x="1428.4" y="2168.4" width="14.3" height="7.2" rx="2.9" fill="none" stroke-width="2.6"/>
<rect x="1427.7" y="2548.6" width="14.3" height="7.2" rx="2.9" fill="none" stroke-width="2.6"/>
<rect x="1447.6" y="2168.4" width="31.1" height="7.2" rx="2.9" fill="none" stroke-width="2.6"/>
<rect x="1446.8" y="2548.6" width="31.1" height="7.2" rx="2.9" fill="none" stroke-width="2.6"/>
<rect x="1540.8" y="2167.1" width="15.3" height="6.2" rx="2.9" fill="none" stroke-width="2.6"/>
<rect x="1540.1" y="2551.2" width="15.3" height="6.2" rx="2.9" fill="none" stroke-width="2.6"/>
<rect x="1401.1" y="2187.4" width="16.2" height="6.2" rx="2.9" fill="none" stroke-width="2.6"/>
<rect x="1400.5" y="2530.4" width="16.2" height="6.2" rx="2.9" fill="none" stroke-width="2.6"/>
<rect x="1569.5" y="2182.0" width="16.7" height="6.2" rx="2.9" fill="none" stroke-width="2.6"/>
<rect x="1568.8" y="2536.4" width="16.7" height="6.2" rx="2.9" fill="none" stroke-width="2.6"/>
<rect x="1641.2" y="2180.7" width="15.3" height="6.2" rx="2.9" fill="none" stroke-width="2.6"/>
<rect x="1640.5" y="2538.0" width="15.3" height="6.2" rx="2.9" fill="none" stroke-width="2.6"/>
<rect x="1746.4" y="2178.5" width="26.3" height="7.2" rx="2.9" fill="none" stroke-width="2.6"/>
<rect x="1745.8" y="2539.6" width="26.3" height="7.2" rx="2.9" fill="none" stroke-width="2.6"/>
<rect x="1401.0" y="2237.7" width="16.2" height="6.2" rx="2.9" fill="none" stroke-width="2.6"/>
<rect x="1400.6" y="2480.1" width="16.2" height="6.2" rx="2.9" fill="none" stroke-width="2.6"/>
<rect x="1569.4" y="2234.6" width="16.7" height="6.2" rx="2.9" fill="none" stroke-width="2.6"/>
<rect x="1568.9" y="2483.8" width="16.7" height="6.2" rx="2.9" fill="none" stroke-width="2.6"/>
<rect x="1428.3" y="2252.1" width="14.3" height="6.2" rx="2.9" fill="none" stroke-width="2.6"/>
<rect x="1427.9" y="2465.8" width="14.3" height="6.2" rx="2.9" fill="none" stroke-width="2.6"/>
<rect x="1447.4" y="2252.1" width="31.1" height="6.3" rx="2.9" fill="none" stroke-width="2.6"/>
<rect x="1447.0" y="2465.9" width="31.1" height="6.3" rx="2.9" fill="none" stroke-width="2.6"/>
<rect x="1539.7" y="2249.9" width="15.3" height="6.2" rx="2.9" fill="none" stroke-width="2.6"/>
<rect x="1539.3" y="2468.4" width="15.3" height="6.2" rx="2.9" fill="none" stroke-width="2.6"/>
<rect x="1641.1" y="2233.3" width="15.3" height="6.2" rx="2.9" fill="none" stroke-width="2.6"/>
<rect x="1640.6" y="2485.4" width="15.3" height="6.2" rx="2.9" fill="none" stroke-width="2.6"/>
<rect x="1746.3" y="2231.1" width="26.3" height="6.3" rx="2.9" fill="none" stroke-width="2.6"/>
<rect x="1745.9" y="2488.0" width="26.3" height="6.3" rx="2.9" fill="none" stroke-width="2.6"/>
<rect x="1428.1" y="2319.0" width="14.3" height="7.2" rx="2.9" fill="none" stroke-width="2.6"/>
<rect x="1428.0" y="2397.9" width="14.3" height="7.2" rx="2.9" fill="none" stroke-width="2.6"/>
<rect x="1447.3" y="2319.1" width="31.1" height="7.2" rx="2.9" fill="none" stroke-width="2.6"/>
<rect x="1447.1" y="2398.0" width="31.1" height="7.2" rx="2.9" fill="none" stroke-width="2.6"/>
<rect x="1539.6" y="2319.2" width="15.3" height="7.2" rx="2.9" fill="none" stroke-width="2.6"/>
<rect x="1539.4" y="2398.1" width="15.3" height="7.2" rx="2.9" fill="none" stroke-width="2.6"/>
<rect x="1400.8" y="2335.7" width="16.2" height="6.2" rx="2.9" fill="none" stroke-width="2.6"/>
<rect x="1400.8" y="2382.1" width="16.2" height="6.2" rx="2.9" fill="none" stroke-width="2.6"/>
<rect x="1569.2" y="2336.0" width="16.7" height="6.2" rx="2.9" fill="none" stroke-width="2.6"/>
<rect x="1569.1" y="2382.4" width="16.7" height="6.2" rx="2.9" fill="none" stroke-width="2.6"/>
<rect x="1640.9" y="2335.2" width="15.3" height="6.2" rx="2.9" fill="none" stroke-width="2.6"/>
<rect x="1640.8" y="2383.5" width="15.3" height="6.2" rx="2.9" fill="none" stroke-width="2.6"/>
<rect x="1746.1" y="2335.4" width="24.9" height="6.3" rx="2.9" fill="none" stroke-width="2.6"/>
<rect x="1746.1" y="2383.7" width="24.9" height="6.3" rx="2.9" fill="none" stroke-width="2.6"/>
<path d="M1672.5 2106.7 L1696.4 2106.7 L1696.3 2125.8 L1672.4 2125.8 Z" fill="none" stroke-width="2.0"/>
<path d="M1676.4 2106.7 L1676.4 2125.8" fill="none" stroke-width="2.0"/>
<path d="M1680.4 2106.7 L1680.4 2125.8" fill="none" stroke-width="2.0"/>
<path d="M1684.4 2106.7 L1684.4 2125.8" fill="none" stroke-width="2.0"/>
<path d="M1688.4 2106.7 L1688.4 2125.8" fill="none" stroke-width="2.0"/>
<path d="M1692.4 2106.7 L1692.3 2125.8" fill="none" stroke-width="2.0"/>
<path d="M1696.3 2130.6 L1720.2 2130.7 L1720.1 2180.9 L1696.2 2180.8 Z" fill="none" stroke-width="2.0"/>
<path d="M1696.3 2135.6 L1720.2 2135.7" fill="none" stroke-width="2.0"/>
<path d="M1696.3 2140.7 L1720.2 2140.7" fill="none" stroke-width="2.0"/>
<path d="M1696.3 2145.7 L1720.2 2145.7" fill="none" stroke-width="2.0"/>
<path d="M1696.3 2150.7 L1720.2 2150.7" fill="none" stroke-width="2.0"/>
<path d="M1696.3 2155.7 L1720.2 2155.8" fill="none" stroke-width="2.0"/>
<path d="M1696.3 2160.7 L1720.2 2160.8" fill="none" stroke-width="2.0"/>
<path d="M1696.3 2165.8 L1720.2 2165.8" fill="none" stroke-width="2.0"/>
<path d="M1696.2 2170.8 L1720.2 2170.8" fill="none" stroke-width="2.0"/>
<path d="M1696.2 2175.8 L1720.1 2175.9" fill="none" stroke-width="2.0"/>
<path d="M1655.7 2104.2 L1655.7 2123.4 L1662.8 2128.2 L1672.4 2128.2" fill="none" stroke-width="3.5"/>
<path d="M1671.5 2599.3 L1695.4 2599.3 L1695.4 2617.5 L1671.5 2617.4 Z" fill="none" stroke-width="2.0"/>
<path d="M1675.5 2599.3 L1675.5 2617.4" fill="none" stroke-width="2.0"/>
<path d="M1679.5 2599.3 L1679.5 2617.5" fill="none" stroke-width="2.0"/>
<path d="M1683.5 2599.3 L1683.4 2617.5" fill="none" stroke-width="2.0"/>
<path d="M1687.5 2599.3 L1687.4 2617.5" fill="none" stroke-width="2.0"/>
<path d="M1691.4 2599.3 L1691.4 2617.5" fill="none" stroke-width="2.0"/>
<path d="M1695.5 2545.7 L1719.4 2545.8 L1719.4 2594.6 L1695.4 2594.5 Z" fill="none" stroke-width="2.0"/>
<path d="M1695.5 2550.6 L1719.4 2550.7" fill="none" stroke-width="2.0"/>
<path d="M1695.5 2555.5 L1719.4 2555.5" fill="none" stroke-width="2.0"/>
<path d="M1695.5 2560.4 L1719.4 2560.4" fill="none" stroke-width="2.0"/>
<path d="M1695.5 2565.3 L1719.4 2565.3" fill="none" stroke-width="2.0"/>
<path d="M1695.5 2570.1 L1719.4 2570.2" fill="none" stroke-width="2.0"/>
<path d="M1695.5 2575.0 L1719.4 2575.1" fill="none" stroke-width="2.0"/>
<path d="M1695.5 2579.9 L1719.4 2579.9" fill="none" stroke-width="2.0"/>
<path d="M1695.5 2584.8 L1719.4 2584.8" fill="none" stroke-width="2.0"/>
<path d="M1695.4 2589.7 L1719.4 2589.7" fill="none" stroke-width="2.0"/>
<path d="M1654.7 2618.4 L1654.8 2601.6 L1662.0 2596.9 L1671.5 2596.9" fill="none" stroke-width="3.5"/>
<path d="M1633.7 2388.8 L1654.2 2388.8 L1654.1 2439.0 L1633.6 2439.0 Z" fill="none" stroke-width="2.0"/>
<path d="M1633.6 2393.8 L1654.2 2393.8" fill="none" stroke-width="2.0"/>
<path d="M1633.6 2398.8 L1654.2 2398.8" fill="none" stroke-width="2.0"/>
<path d="M1633.6 2403.8 L1654.2 2403.9" fill="none" stroke-width="2.0"/>
<path d="M1633.6 2408.8 L1654.2 2408.9" fill="none" stroke-width="2.0"/>
<path d="M1633.6 2413.9 L1654.2 2413.9" fill="none" stroke-width="2.0"/>
<path d="M1633.6 2418.9 L1654.2 2418.9" fill="none" stroke-width="2.0"/>
<path d="M1633.6 2423.9 L1654.2 2423.9" fill="none" stroke-width="2.0"/>
<path d="M1633.6 2428.9 L1654.1 2429.0" fill="none" stroke-width="2.0"/>
<path d="M1633.6 2434.0 L1654.1 2434.0" fill="none" stroke-width="2.0"/>
<path d="M1655.1 2434.2 L1683.8 2434.3 L1683.7 2454.9 L1655.1 2454.8 Z" fill="none" stroke-width="2.0"/>
<path d="M1659.9 2434.2 L1659.8 2454.8" fill="none" stroke-width="2.0"/>
<path d="M1664.7 2434.3 L1664.6 2454.8" fill="none" stroke-width="2.0"/>
<path d="M1669.4 2434.3 L1669.4 2454.8" fill="none" stroke-width="2.0"/>
<path d="M1674.2 2434.3 L1674.2 2454.8" fill="none" stroke-width="2.0"/>
<path d="M1679.0 2434.3 L1679.0 2454.8" fill="none" stroke-width="2.0"/>
<path d="M1633.7 2388.8 L1654.2 2388.8 L1654.1 2439.0 L1633.6 2439.0 Z" fill="none" stroke-width="3.5"/>
<path d="M1808.7 2111.7 L1861.4 2111.8 L1861.3 2130.9 L1808.7 2130.8 Z" fill="none" stroke-width="3.3"/>
<path d="M1789.6 2111.7 L1868.5 2111.8" fill="none" stroke-width="2.9"/>
<path d="M1808.6 2183.4 L1861.2 2183.5 L1861.2 2202.7 L1808.6 2202.6 Z" fill="none" stroke-width="3.3"/>
<path d="M1808.6 2190.1 L1861.2 2190.2" fill="none" stroke-width="2.2"/>
<path d="M1808.6 2195.9 L1861.2 2196.0" fill="none" stroke-width="2.2"/>
<path d="M1789.5 2183.4 L1868.4 2183.6" fill="none" stroke-width="2.9"/>
<path d="M1808.5 2260.0 L1861.1 2260.1 L1861.0 2300.7 L1808.4 2300.6 Z" fill="none" stroke-width="3.3"/>
<path d="M1808.4 2280.3 L1861.0 2280.4" fill="none" stroke-width="2.9"/>
<path d="M1819.0 2260.0 L1818.9 2300.6" fill="none" stroke-width="2.9"/>
<path d="M1789.3 2259.9 L1868.2 2260.1" fill="none" stroke-width="2.9"/>
<path d="M1808.3 2353.2 L1860.9 2353.3 L1860.9 2374.8 L1808.2 2374.7 Z" fill="none" stroke-width="3.3"/>
<path d="M1808.3 2357.5 L1860.9 2357.6" fill="none" stroke-width="2.2"/>
<path d="M1808.3 2361.8 L1860.9 2361.9" fill="none" stroke-width="2.2"/>
<path d="M1808.3 2366.1 L1860.9 2366.2" fill="none" stroke-width="2.2"/>
<path d="M1808.3 2370.4 L1860.9 2370.5" fill="none" stroke-width="2.2"/>
<path d="M1789.2 2353.2 L1868.1 2353.3" fill="none" stroke-width="2.9"/>
<path d="M1808.1 2429.7 L1860.8 2429.8 L1860.7 2470.5 L1808.1 2470.4 Z" fill="none" stroke-width="3.3"/>
<path d="M1808.1 2450.1 L1860.7 2450.2" fill="none" stroke-width="2.9"/>
<path d="M1818.7 2429.8 L1818.6 2470.4" fill="none" stroke-width="2.9"/>
<path d="M1788.9 2470.4 L1867.8 2470.5" fill="none" stroke-width="2.9"/>
<path d="M1808.0 2525.4 L1860.6 2525.5 L1860.5 2544.6 L1807.9 2544.5 Z" fill="none" stroke-width="3.3"/>
<path d="M1807.9 2532.1 L1860.6 2532.2" fill="none" stroke-width="2.2"/>
<path d="M1807.9 2537.8 L1860.5 2537.9" fill="none" stroke-width="2.2"/>
<path d="M1788.8 2544.5 L1867.7 2544.6" fill="none" stroke-width="2.9"/>
<path d="M1807.8 2594.7 L1860.4 2594.8 L1860.4 2611.6 L1807.8 2611.5 Z" fill="none" stroke-width="3.3"/>
<path d="M1788.7 2611.4 L1867.6 2611.6" fill="none" stroke-width="2.9"/>
<path d="M1952.2 2112.0 L2004.8 2112.1 L2004.8 2131.2 L1952.2 2131.1 Z" fill="none" stroke-width="3.3"/>
<path d="M1945.1 2112.0 L2024.0 2112.1" fill="none" stroke-width="2.9"/>
<path d="M1952.1 2183.7 L2004.7 2183.8 L2004.7 2202.9 L1952.1 2202.8 Z" fill="none" stroke-width="3.3"/>
<path d="M1952.1 2190.4 L2004.7 2190.5" fill="none" stroke-width="2.2"/>
<path d="M1952.1 2196.1 L2004.7 2196.2" fill="none" stroke-width="2.2"/>
<path d="M1944.9 2183.7 L2023.8 2183.8" fill="none" stroke-width="2.9"/>
<path d="M1951.9 2260.2 L2004.6 2260.3 L2004.5 2301.0 L1951.9 2300.9 Z" fill="none" stroke-width="3.3"/>
<path d="M1951.9 2280.6 L2004.5 2280.7" fill="none" stroke-width="2.9"/>
<path d="M1994.0 2260.3 L1994.0 2301.0" fill="none" stroke-width="2.9"/>
<path d="M1944.8 2260.2 L2023.7 2260.4" fill="none" stroke-width="2.9"/>
<path d="M1951.8 2353.5 L2004.4 2353.6 L2004.3 2375.1 L1951.7 2375.0 Z" fill="none" stroke-width="3.3"/>
<path d="M1951.8 2357.8 L2004.4 2357.9" fill="none" stroke-width="2.2"/>
<path d="M1951.8 2362.1 L2004.4 2362.2" fill="none" stroke-width="2.2"/>
<path d="M1951.7 2366.4 L2004.4 2366.5" fill="none" stroke-width="2.2"/>
<path d="M1951.7 2370.7 L2004.3 2370.8" fill="none" stroke-width="2.2"/>
<path d="M1944.6 2353.5 L2023.5 2353.6" fill="none" stroke-width="2.9"/>
<path d="M1951.6 2430.0 L2004.2 2430.1 L2004.2 2470.8 L1951.5 2470.7 Z" fill="none" stroke-width="3.3"/>
<path d="M1951.6 2450.3 L2004.2 2450.4" fill="none" stroke-width="2.9"/>
<path d="M1993.7 2430.1 L1993.6 2470.7" fill="none" stroke-width="2.9"/>
<path d="M1944.4 2470.7 L2023.3 2470.8" fill="none" stroke-width="2.9"/>
<path d="M1951.4 2525.7 L2004.1 2525.8 L2004.0 2544.9 L1951.4 2544.8 Z" fill="none" stroke-width="3.3"/>
<path d="M1951.4 2532.4 L2004.0 2532.5" fill="none" stroke-width="2.2"/>
<path d="M1951.4 2538.1 L2004.0 2538.2" fill="none" stroke-width="2.2"/>
<path d="M1944.2 2544.8 L2023.1 2544.9" fill="none" stroke-width="2.9"/>
<path d="M1951.3 2595.0 L2003.9 2595.1 L2003.9 2611.9 L1951.3 2611.8 Z" fill="none" stroke-width="3.3"/>
<path d="M1944.1 2611.7 L2023.0 2611.9" fill="none" stroke-width="2.9"/>
<path d="M1899.6 2102.3 L1898.6 2628.4" fill="none" stroke-width="2.2" stroke-dasharray="22 6 4 6"/>
<path d="M1507.5 2104.0 L2100.5 2105.1" fill="none" stroke-width="2.2" stroke-dasharray="24 8"/>
<path d="M1506.5 2628.6 L2099.5 2629.7" fill="none" stroke-width="2.2" stroke-dasharray="24 8"/>
<path d="M1885.3 2104.7 L1894.8 2121.4 L1902.0 2123.8" fill="none" stroke-width="3.3"/>
<path d="M1906.8 2107.1 L1906.8 2123.8" fill="none" stroke-width="2.0"/>
<path d="M1911.6 2107.1 L1911.6 2123.8" fill="none" stroke-width="2.0"/>
<path d="M1916.4 2107.1 L1916.3 2123.9" fill="none" stroke-width="2.0"/>
<path d="M1921.1 2107.1 L1921.1 2123.9" fill="none" stroke-width="2.0"/>
<path d="M1925.9 2107.1 L1925.9 2123.9" fill="none" stroke-width="2.0"/>
<path d="M1930.7 2107.1 L1930.7 2123.9" fill="none" stroke-width="2.0"/>
<path d="M1935.5 2107.2 L1935.5 2123.9" fill="none" stroke-width="2.0"/>
<path d="M1940.3 2107.2 L1940.2 2123.9" fill="none" stroke-width="2.0"/>
<path d="M1945.1 2107.2 L1945.0 2123.9" fill="none" stroke-width="2.0"/>
<path d="M1884.3 2618.8 L1893.9 2604.5 L1901.1 2602.1" fill="none" stroke-width="3.3"/>
<path d="M1905.9 2603.5 L1905.8 2618.8" fill="none" stroke-width="2.0"/>
<path d="M1910.6 2603.5 L1910.6 2618.9" fill="none" stroke-width="2.0"/>
<path d="M1915.4 2603.6 L1915.4 2618.9" fill="none" stroke-width="2.0"/>
<path d="M1920.2 2603.6 L1920.2 2618.9" fill="none" stroke-width="2.0"/>
<path d="M1925.0 2603.6 L1925.0 2618.9" fill="none" stroke-width="2.0"/>
<path d="M1929.8 2603.6 L1929.7 2618.9" fill="none" stroke-width="2.0"/>
<path d="M1934.6 2603.6 L1934.5 2618.9" fill="none" stroke-width="2.0"/>
<path d="M1939.3 2603.6 L1939.3 2618.9" fill="none" stroke-width="2.0"/>
<path d="M1944.1 2603.6 L1944.1 2618.9" fill="none" stroke-width="2.0"/>
<text class="h" x="1060.3" y="2076.8" font-size="24.0" textLength="83.7" lengthAdjust="spacingAndGlyphs" transform="rotate(-6.0 1060.3 2076.8)">Wallgang</text>
<text class="h" x="1066.5" y="2127.0" font-size="24.0" textLength="71.7" lengthAdjust="spacingAndGlyphs" transform="rotate(-6.0 1066.5 2127.0)">Bunker</text>
<text class="h" x="1232.4" y="2108.2" font-size="24.0" textLength="76.5" lengthAdjust="spacingAndGlyphs" transform="rotate(-5.0 1232.4 2108.2)">Schutz-</text>
<text class="h" x="1457.3" y="2095.7" font-size="24.0" textLength="69.3" lengthAdjust="spacingAndGlyphs" transform="rotate(-3.0 1457.3 2095.7)">Bunker</text>
<text class="h" x="1669.1" y="2088.5" font-size="24.0" textLength="76.5" lengthAdjust="spacingAndGlyphs">Schutz-</text>
<text class="h" x="1854.2" y="2086.9" font-size="24.0" textLength="76.5" lengthAdjust="spacingAndGlyphs">Bunker</text>
<text class="h" x="1054.5" y="2616.3" font-size="24.0" textLength="71.7" lengthAdjust="spacingAndGlyphs" transform="rotate(7.0 1054.5 2616.3)">Bunker</text>
<text class="h" x="1049.7" y="2661.2" font-size="24.0" textLength="83.7" lengthAdjust="spacingAndGlyphs" transform="rotate(7.0 1049.7 2661.2)">Wallgang</text>
<text class="h" x="1231.4" y="2635.7" font-size="24.0" textLength="76.5" lengthAdjust="spacingAndGlyphs" transform="rotate(4.0 1231.4 2635.7)">Schutz-</text>
<text class="h" x="1451.4" y="2651.5" font-size="24.0" textLength="69.3" lengthAdjust="spacingAndGlyphs" transform="rotate(2.0 1451.4 2651.5)">Bunker</text>
<text class="h" x="1665.2" y="2657.6" font-size="24.0" textLength="78.9" lengthAdjust="spacingAndGlyphs">Schutz-</text>
<text class="h" x="1860.3" y="2658.0" font-size="24.0" textLength="71.7" lengthAdjust="spacingAndGlyphs">Bunker</text>
<text class="h" x="1037.6" y="2196.3" font-size="24.0" textLength="131.5" lengthAdjust="spacingAndGlyphs">Masch.Vorräte</text>
<text class="h" x="1052.8" y="2256.1" font-size="22.0" textLength="112.4" lengthAdjust="spacingAndGlyphs">B.B.II Tunnel</text>
<text class="h" x="1210.6" y="2256.4" font-size="23.0" textLength="119.6" lengthAdjust="spacingAndGlyphs">B.B.I Tunnel</text>
<text class="h" x="1050.3" y="2329.3" font-size="24.0" textLength="102.8" lengthAdjust="spacingAndGlyphs">Leckpumpe</text>
<text class="h" x="1217.7" y="2328.2" font-size="24.0" textLength="93.3" lengthAdjust="spacingAndGlyphs">Verfügbar</text>
<text class="h" x="1034.3" y="2421.1" font-size="23.0" textLength="114.8" lengthAdjust="spacingAndGlyphs">II Kühlanlage</text>
<text class="h" x="1191.2" y="2420.4" font-size="24.0" textLength="157.8" lengthAdjust="spacingAndGlyphs">Torp.Luftpumpen</text>
<text class="h" x="1050.0" y="2491.9" font-size="22.0" textLength="114.8" lengthAdjust="spacingAndGlyphs">St.B.II Tunnel</text>
<text class="h" x="1203.0" y="2492.2" font-size="23.0" textLength="114.8" lengthAdjust="spacingAndGlyphs">St.B.I Tunnel</text>
<text class="h" x="1388.7" y="2162.6" font-size="24.0" textLength="217.6" lengthAdjust="spacingAndGlyphs">Niederdruck-Turb.-Raum</text>
<text class="h" x="1428.1" y="2357.3" font-size="24.0" textLength="124.3" lengthAdjust="spacingAndGlyphs">Niederdruck-</text>
<text class="h" x="1421.8" y="2405.1" font-size="23.0" textLength="136.3" lengthAdjust="spacingAndGlyphs">Turbinen-Raum</text>
<text class="h" x="1384.6" y="2593.0" font-size="24.0" textLength="224.8" lengthAdjust="spacingAndGlyphs">Niederdruck-Turb.-Raum</text>
<text class="h" x="1634.1" y="2169.7" font-size="22.0" textLength="57.4" lengthAdjust="spacingAndGlyphs">Hochdr.</text>
<text class="h" x="1727.3" y="2169.9" font-size="22.0" textLength="47.8" lengthAdjust="spacingAndGlyphs">Turb.-</text>
<text class="h" x="1672.2" y="2238.2" font-size="24.0" textLength="52.6" lengthAdjust="spacingAndGlyphs">Raum</text>
<text class="h" x="1650.5" y="2331.4" font-size="24.0" textLength="107.6" lengthAdjust="spacingAndGlyphs">Hochdruck-</text>
<text class="h" x="1669.6" y="2356.3" font-size="24.0" textLength="47.8" lengthAdjust="spacingAndGlyphs">Turb.</text>
<text class="h" x="1662.3" y="2415.1" font-size="24.0" textLength="52.6" lengthAdjust="spacingAndGlyphs">Raum</text>
<text class="h" x="1631.9" y="2580.1" font-size="22.0" textLength="59.8" lengthAdjust="spacingAndGlyphs">Hochdr.</text>
<text class="h" x="1721.8" y="2580.2" font-size="22.0" textLength="47.8" lengthAdjust="spacingAndGlyphs">Turb.-</text>
<text class="h" x="1731.3" y="2605.1" font-size="24.0" textLength="10.5" lengthAdjust="spacingAndGlyphs">R</text>
<text class="h" x="1811.0" y="2170.0" font-size="24.0" textLength="126.7" lengthAdjust="spacingAndGlyphs">I Kesselraum</text>
<text class="h" x="1820.3" y="2338.9" font-size="24.0" textLength="133.9" lengthAdjust="spacingAndGlyphs">I Kesselraum</text>
<text class="h" x="1824.7" y="2513.5" font-size="24.0" textLength="133.9" lengthAdjust="spacingAndGlyphs">I Kesselraum</text>
<path d="M1029.9 2232.2 L1050.5 2232.2 L1050.4 2268.1 L1029.8 2268.0 Z" fill="none" stroke-width="2.0"/>
<path d="M1029.9 2236.7 L1050.5 2236.7" fill="none" stroke-width="2.0"/>
<path d="M1029.9 2241.1 L1050.5 2241.2" fill="none" stroke-width="2.0"/>
<path d="M1029.9 2245.6 L1050.4 2245.7" fill="none" stroke-width="2.0"/>
<path d="M1029.9 2250.1 L1050.4 2250.1" fill="none" stroke-width="2.0"/>
<path d="M1029.9 2254.6 L1050.4 2254.6" fill="none" stroke-width="2.0"/>
<path d="M1029.9 2259.1 L1050.4 2259.1" fill="none" stroke-width="2.0"/>
<path d="M1029.8 2263.6 L1050.4 2263.6" fill="none" stroke-width="2.0"/>
<path d="M1029.5 2468.9 L1050.0 2469.0 L1050.0 2500.0 L1029.4 2500.0 Z" fill="none" stroke-width="2.0"/>
<path d="M1029.4 2472.8 L1050.0 2472.8" fill="none" stroke-width="2.0"/>
<path d="M1029.4 2476.7 L1050.0 2476.7" fill="none" stroke-width="2.0"/>
<path d="M1029.4 2480.6 L1050.0 2480.6" fill="none" stroke-width="2.0"/>
<path d="M1029.4 2484.5 L1050.0 2484.5" fill="none" stroke-width="2.0"/>
<path d="M1029.4 2488.3 L1050.0 2488.4" fill="none" stroke-width="2.0"/>
<path d="M1029.4 2492.2 L1050.0 2492.3" fill="none" stroke-width="2.0"/>
<path d="M1029.4 2496.1 L1050.0 2496.2" fill="none" stroke-width="2.0"/>
<path d="M2165.5 2114.8 L2218.1 2114.9 L2218.1 2132.6 L2165.4 2132.5 Z" fill="none" stroke-width="3.3"/>
<path d="M2146.3 2114.7 L2225.3 2114.9" fill="none" stroke-width="2.9"/>
<path d="M2165.3 2185.1 L2218.0 2185.2 L2217.9 2204.3 L2165.3 2204.2 Z" fill="none" stroke-width="3.3"/>
<path d="M2165.3 2191.8 L2217.9 2191.9" fill="none" stroke-width="2.2"/>
<path d="M2165.3 2197.5 L2217.9 2197.6" fill="none" stroke-width="2.2"/>
<path d="M2146.2 2185.0 L2225.1 2185.2" fill="none" stroke-width="2.9"/>
<path d="M2165.2 2258.2 L2217.8 2258.3 L2217.8 2275.1 L2165.2 2275.0 Z" fill="none" stroke-width="3.3"/>
<path d="M2146.1 2258.2 L2225.0 2258.4" fill="none" stroke-width="2.9"/>
<path d="M2164.8 2449.6 L2217.5 2449.7 L2217.4 2468.8 L2164.8 2468.7 Z" fill="none" stroke-width="3.3"/>
<path d="M2145.7 2468.6 L2224.6 2468.8" fill="none" stroke-width="2.9"/>
<path d="M2164.7 2523.7 L2217.3 2523.8 L2217.3 2543.9 L2164.7 2543.8 Z" fill="none" stroke-width="3.3"/>
<path d="M2164.7 2530.9 L2217.3 2531.0" fill="none" stroke-width="2.2"/>
<path d="M2164.7 2536.6 L2217.3 2536.7" fill="none" stroke-width="2.2"/>
<path d="M2145.5 2543.7 L2224.4 2543.9" fill="none" stroke-width="2.9"/>
<path d="M2164.6 2596.4 L2217.2 2596.5 L2217.1 2613.7 L2164.5 2613.6 Z" fill="none" stroke-width="3.3"/>
<path d="M2145.4 2613.6 L2224.3 2613.7" fill="none" stroke-width="2.9"/>
<path d="M2306.6 2115.0 L2359.2 2115.1 L2359.1 2132.8 L2306.5 2132.7 Z" fill="none" stroke-width="3.3"/>
<path d="M2299.4 2115.0 L2378.3 2115.2" fill="none" stroke-width="2.9"/>
<path d="M2306.4 2185.3 L2359.0 2185.4 L2359.0 2204.6 L2306.4 2204.5 Z" fill="none" stroke-width="3.3"/>
<path d="M2306.4 2192.0 L2359.0 2192.1" fill="none" stroke-width="2.2"/>
<path d="M2306.4 2197.8 L2359.0 2197.9" fill="none" stroke-width="2.2"/>
<path d="M2299.3 2185.3 L2378.2 2185.5" fill="none" stroke-width="2.9"/>
<path d="M2306.3 2258.5 L2358.9 2258.6 L2358.9 2275.4 L2306.3 2275.3 Z" fill="none" stroke-width="3.3"/>
<path d="M2299.1 2258.5 L2378.0 2258.6" fill="none" stroke-width="2.9"/>
<path d="M2305.9 2449.8 L2358.5 2449.9 L2358.5 2469.0 L2305.9 2468.9 Z" fill="none" stroke-width="3.3"/>
<path d="M2298.7 2468.9 L2377.6 2469.1" fill="none" stroke-width="2.9"/>
<path d="M2305.8 2523.9 L2358.4 2524.0 L2358.4 2544.1 L2305.8 2544.0 Z" fill="none" stroke-width="3.3"/>
<path d="M2305.8 2531.1 L2358.4 2531.2" fill="none" stroke-width="2.2"/>
<path d="M2305.8 2536.9 L2358.4 2537.0" fill="none" stroke-width="2.2"/>
<path d="M2298.6 2544.0 L2377.5 2544.2" fill="none" stroke-width="2.9"/>
<path d="M2305.7 2596.6 L2358.3 2596.7 L2358.2 2614.0 L2305.6 2613.9 Z" fill="none" stroke-width="3.3"/>
<path d="M2298.4 2613.8 L2377.4 2614.0" fill="none" stroke-width="2.9"/>
<path d="M2306.3 2258.5 L2358.9 2258.6 L2358.8 2301.7 L2306.2 2301.6 Z" fill="none" stroke-width="3.3"/>
<path d="M2306.3 2280.0 L2358.9 2280.1" fill="none" stroke-width="2.9"/>
<path d="M2306.0 2427.3 L2358.6 2427.4 L2358.5 2470.5 L2305.9 2470.4 Z" fill="none" stroke-width="3.3"/>
<path d="M2305.9 2448.9 L2358.5 2449.0" fill="none" stroke-width="2.9"/>
<path d="M2306.1 2354.2 L2358.7 2354.3 L2358.7 2375.8 L2306.1 2375.7 Z" fill="none" stroke-width="3.3"/>
<path d="M2306.1 2358.5 L2358.7 2358.6" fill="none" stroke-width="2.2"/>
<path d="M2306.1 2362.8 L2358.7 2362.9" fill="none" stroke-width="2.2"/>
<path d="M2306.1 2367.1 L2358.7 2367.2" fill="none" stroke-width="2.2"/>
<path d="M2306.1 2371.4 L2358.7 2371.5" fill="none" stroke-width="2.2"/>
<path d="M2401.3 2116.6 L2454.8 2116.8 L2454.8 2153.6 L2401.2 2153.5 Z" fill="none" stroke-width="3.3"/>
<path d="M2383.1 2135.0 L2464.4 2135.2" fill="none" stroke-width="2.4"/>
<path d="M2383.1 2119.0 L2383.0 2151.0" fill="none" stroke-width="2.9"/>
<path d="M2383.1 2119.0 L2401.3 2119.0" fill="none" stroke-width="2.9"/>
<path d="M2383.0 2151.0 L2401.2 2151.1" fill="none" stroke-width="2.9"/>
<path d="M2401.0 2250.6 L2454.6 2250.7 L2454.5 2299.4 L2400.9 2299.3 Z" fill="none" stroke-width="3.3"/>
<path d="M2382.8 2274.9 L2464.1 2275.1" fill="none" stroke-width="2.4"/>
<path d="M2382.8 2252.9 L2382.7 2296.9" fill="none" stroke-width="2.9"/>
<path d="M2382.8 2252.9 L2401.0 2253.0" fill="none" stroke-width="2.9"/>
<path d="M2382.7 2296.9 L2400.9 2297.0" fill="none" stroke-width="2.9"/>
<path d="M2400.7 2416.5 L2454.3 2416.6 L2454.2 2469.2 L2400.6 2469.1 Z" fill="none" stroke-width="3.3"/>
<path d="M2382.5 2442.8 L2463.8 2442.9" fill="none" stroke-width="2.4"/>
<path d="M2382.5 2418.9 L2382.4 2466.7" fill="none" stroke-width="2.9"/>
<path d="M2382.5 2418.9 L2400.7 2418.9" fill="none" stroke-width="2.9"/>
<path d="M2382.4 2466.7 L2400.6 2466.7" fill="none" stroke-width="2.9"/>
<path d="M2400.4 2580.6 L2453.9 2580.7 L2453.9 2605.5 L2400.3 2605.4 Z" fill="none" stroke-width="3.3"/>
<path d="M2382.2 2593.0 L2463.5 2593.1" fill="none" stroke-width="2.4"/>
<path d="M2382.2 2582.9 L2382.2 2603.0" fill="none" stroke-width="2.9"/>
<path d="M2382.2 2582.9 L2400.4 2583.0" fill="none" stroke-width="2.9"/>
<path d="M2382.2 2603.0 L2400.3 2603.0" fill="none" stroke-width="2.9"/>
<path d="M2257.8 2103.0 L2256.8 2629.1" fill="none" stroke-width="2.2" stroke-dasharray="22 6 4 6"/>
<path d="M2000.5 2104.9 L2526.6 2105.9" fill="none" stroke-width="2.2" stroke-dasharray="24 8"/>
<path d="M1999.5 2629.5 L2525.6 2630.5" fill="none" stroke-width="2.2" stroke-dasharray="24 8"/>
<path d="M2223.1 2107.7 L2223.1 2124.4" fill="none" stroke-width="2.0"/>
<path d="M2228.1 2107.7 L2228.0 2124.5" fill="none" stroke-width="2.0"/>
<path d="M2233.0 2107.7 L2233.0 2124.5" fill="none" stroke-width="2.0"/>
<path d="M2238.0 2107.7 L2238.0 2124.5" fill="none" stroke-width="2.0"/>
<path d="M2243.0 2107.7 L2243.0 2124.5" fill="none" stroke-width="2.0"/>
<path d="M2248.0 2107.7 L2248.0 2124.5" fill="none" stroke-width="2.0"/>
<path d="M2253.0 2107.8 L2252.9 2124.5" fill="none" stroke-width="2.0"/>
<path d="M2258.0 2107.8 L2257.9 2124.5" fill="none" stroke-width="2.0"/>
<path d="M2262.9 2107.8 L2262.9 2124.5" fill="none" stroke-width="2.0"/>
<path d="M2267.9 2107.8 L2267.9 2124.5" fill="none" stroke-width="2.0"/>
<path d="M2272.9 2107.8 L2272.9 2124.5" fill="none" stroke-width="2.0"/>
<path d="M2219.9 2604.1 L2219.9 2620.4" fill="none" stroke-width="2.0"/>
<path d="M2225.1 2604.1 L2225.1 2620.4" fill="none" stroke-width="2.0"/>
<path d="M2230.3 2604.2 L2230.3 2620.4" fill="none" stroke-width="2.0"/>
<path d="M2235.5 2604.2 L2235.5 2620.4" fill="none" stroke-width="2.0"/>
<path d="M2240.7 2604.2 L2240.6 2620.4" fill="none" stroke-width="2.0"/>
<path d="M2245.9 2604.2 L2245.8 2620.4" fill="none" stroke-width="2.0"/>
<path d="M2251.0 2604.2 L2251.0 2620.5" fill="none" stroke-width="2.0"/>
<path d="M2256.2 2604.2 L2256.2 2620.5" fill="none" stroke-width="2.0"/>
<path d="M2261.4 2604.2 L2261.4 2620.5" fill="none" stroke-width="2.0"/>
<path d="M2266.6 2604.2 L2266.5 2620.5" fill="none" stroke-width="2.0"/>
<path d="M2271.8 2604.2 L2271.7 2620.5" fill="none" stroke-width="2.0"/>
<path d="M2536.7 2116.9 L2536.7 2133.2" fill="none" stroke-width="2.0"/>
<path d="M2542.1 2116.9 L2542.1 2133.2" fill="none" stroke-width="2.0"/>
<path d="M2547.5 2116.9 L2547.5 2133.2" fill="none" stroke-width="2.0"/>
<path d="M2552.9 2116.9 L2552.8 2133.2" fill="none" stroke-width="2.0"/>
<path d="M2558.3 2116.9 L2558.2 2133.2" fill="none" stroke-width="2.0"/>
<path d="M2563.6 2117.0 L2563.6 2133.2" fill="none" stroke-width="2.0"/>
<path d="M2569.0 2117.0 L2569.0 2133.2" fill="none" stroke-width="2.0"/>
<path d="M2535.8 2593.7 L2535.8 2610.5" fill="none" stroke-width="2.0"/>
<path d="M2541.2 2593.7 L2541.2 2610.5" fill="none" stroke-width="2.0"/>
<path d="M2546.6 2593.8 L2546.6 2610.5" fill="none" stroke-width="2.0"/>
<path d="M2552.0 2593.8 L2551.9 2610.5" fill="none" stroke-width="2.0"/>
<path d="M2557.3 2593.8 L2557.3 2610.5" fill="none" stroke-width="2.0"/>
<path d="M2562.7 2593.8 L2562.7 2610.5" fill="none" stroke-width="2.0"/>
<path d="M2568.1 2593.8 L2568.1 2610.5" fill="none" stroke-width="2.0"/>
<path d="M2044.2 2283.4 L2239.3 2283.7 L2239.0 2446.3 L2043.8 2446.0 Z" fill="none" stroke-width="3.0"/>
<path d="M2143.6 2283.6 L2143.4 2384.9" fill="none" stroke-width="3.0"/>
<path d="M2044.0 2384.8 L2239.1 2385.1" fill="none" stroke-width="3.7"/>
<path d="M2049.6 2365.6 L2049.6 2383.8" fill="none" stroke-width="2.0"/>
<path d="M2053.8 2365.6 L2053.8 2383.8" fill="none" stroke-width="2.0"/>
<path d="M2058.0 2365.7 L2058.0 2383.8" fill="none" stroke-width="2.0"/>
<text class="h" x="2067.1" y="2317.8" font-size="24.0" textLength="52.6" lengthAdjust="spacingAndGlyphs">Raum</text>
<text class="h" x="2162.7" y="2315.6" font-size="24.0" textLength="28.7" lengthAdjust="spacingAndGlyphs">für</text>
<text class="h" x="2064.6" y="2341.8" font-size="24.0" textLength="71.7" lengthAdjust="spacingAndGlyphs">Motor-</text>
<text class="h" x="2145.9" y="2340.9" font-size="22.0" textLength="90.9" lengthAdjust="spacingAndGlyphs">Generator</text>
<text class="h" x="2081.2" y="2422.1" font-size="24.0" textLength="102.8" lengthAdjust="spacingAndGlyphs">Verdampfer</text>
<text class="h" x="2050.6" y="2155.2" font-size="24.0" textLength="57.4" lengthAdjust="spacingAndGlyphs">Hilfs-</text>
<text class="h" x="2026.7" y="2181.5" font-size="24.0" textLength="102.8" lengthAdjust="spacingAndGlyphs">kondensat-</text>
<text class="h" x="2044.3" y="2215.0" font-size="24.0" textLength="59.8" lengthAdjust="spacingAndGlyphs">Anlage</text>
<text class="h" x="2048.5" y="2512.9" font-size="24.0" textLength="57.4" lengthAdjust="spacingAndGlyphs">Hilfs-</text>
<text class="h" x="2032.2" y="2540.2" font-size="24.0" textLength="98.0" lengthAdjust="spacingAndGlyphs">kondensat-</text>
<text class="h" x="2047.4" y="2568.9" font-size="24.0" textLength="57.4" lengthAdjust="spacingAndGlyphs">Anlage</text>
<text class="h" x="2166.8" y="2169.8" font-size="24.0" textLength="81.3" lengthAdjust="spacingAndGlyphs">II Kessel-</text>
<text class="h" x="2267.2" y="2170.0" font-size="24.0" textLength="57.4" lengthAdjust="spacingAndGlyphs">Raum</text>
<text class="h" x="2262.1" y="2337.3" font-size="24.0" textLength="100.4" lengthAdjust="spacingAndGlyphs">II Kessel-</text>
<text class="h" x="2274.9" y="2411.5" font-size="24.0" textLength="57.4" lengthAdjust="spacingAndGlyphs">Raum</text>
<text class="h" x="2159.9" y="2513.2" font-size="24.0" textLength="86.1" lengthAdjust="spacingAndGlyphs">II Kessel-</text>
<text class="h" x="2273.3" y="2509.5" font-size="24.0" textLength="55.0" lengthAdjust="spacingAndGlyphs">Raum</text>
<text class="h" x="2399.7" y="2189.3" font-size="23.0" textLength="86.1" lengthAdjust="spacingAndGlyphs">III Kessel-</text>
<text class="h" x="2407.8" y="2222.8" font-size="24.0" textLength="50.2" lengthAdjust="spacingAndGlyphs">Raum</text>
<text class="h" x="2397.0" y="2337.6" font-size="23.0" textLength="93.3" lengthAdjust="spacingAndGlyphs">III Kessel-</text>
<text class="h" x="2406.4" y="2407.0" font-size="24.0" textLength="52.6" lengthAdjust="spacingAndGlyphs">Raum</text>
<text class="h" x="2394.3" y="2515.5" font-size="23.0" textLength="90.9" lengthAdjust="spacingAndGlyphs">III Kessel-</text>
<text class="h" x="2406.2" y="2550.4" font-size="24.0" textLength="52.6" lengthAdjust="spacingAndGlyphs">Raum</text>
<text class="h" x="2035.1" y="2040.4" font-size="24.0" textLength="83.7" lengthAdjust="spacingAndGlyphs">Wallgang</text>
<text class="h" x="2048.4" y="2087.3" font-size="24.0" textLength="76.5" lengthAdjust="spacingAndGlyphs">Schutz-</text>
<text class="h" x="2206.2" y="2084.7" font-size="24.0" textLength="74.1" lengthAdjust="spacingAndGlyphs">Bunker</text>
<text class="h" x="2404.7" y="2091.3" font-size="24.0" textLength="71.7" lengthAdjust="spacingAndGlyphs" transform="rotate(2.0 2404.7 2091.3)">Schutz-</text>
<text class="h" x="2567.3" y="2099.7" font-size="24.0" textLength="71.7" lengthAdjust="spacingAndGlyphs" transform="rotate(5.0 2567.3 2099.7)">Bunker</text>
<text class="h" x="2771.4" y="2117.4" font-size="24.0" textLength="78.9" lengthAdjust="spacingAndGlyphs" transform="rotate(8.0 2771.4 2117.4)">Schutz-</text>
<text class="h" x="2954.6" y="2140.2" font-size="24.0" textLength="71.7" lengthAdjust="spacingAndGlyphs" transform="rotate(10.0 2954.6 2140.2)">Bunker</text>
<text class="h" x="2030.5" y="2698.0" font-size="24.0" textLength="83.7" lengthAdjust="spacingAndGlyphs">Wallgang</text>
<text class="h" x="2042.5" y="2655.0" font-size="24.0" textLength="71.7" lengthAdjust="spacingAndGlyphs">Schutz-</text>
<text class="h" x="2215.6" y="2653.9" font-size="24.0" textLength="76.5" lengthAdjust="spacingAndGlyphs">Bunker</text>
<text class="h" x="2402.2" y="2653.3" font-size="24.0" textLength="74.1" lengthAdjust="spacingAndGlyphs" transform="rotate(-1.0 2402.2 2653.3)">Schutz-</text>
<text class="h" x="2587.7" y="2645.0" font-size="24.0" textLength="74.1" lengthAdjust="spacingAndGlyphs" transform="rotate(-5.0 2587.7 2645.0)">Bunker</text>
<text class="h" x="2788.6" y="2627.7" font-size="24.0" textLength="76.5" lengthAdjust="spacingAndGlyphs" transform="rotate(-8.0 2788.6 2627.7)">Schutz-</text>
<text class="h" x="2956.1" y="2606.5" font-size="24.0" textLength="74.1" lengthAdjust="spacingAndGlyphs" transform="rotate(-10.0 2956.1 2606.5)">Bunker</text>
<path d="M2597.3 2118.0 L2597.1 2246.2" fill="none" stroke-width="3.0"/>
<path d="M2596.6 2488.6 L2596.4 2610.6" fill="none" stroke-width="3.0"/>
<text class="h" x="2528.8" y="2184.8" font-size="24.0" textLength="50.2" lengthAdjust="spacingAndGlyphs">Leck-</text>
<text class="h" x="2521.6" y="2209.7" font-size="24.0" textLength="62.2" lengthAdjust="spacingAndGlyphs">pumpe</text>
<text class="h" x="2606.8" y="2182.6" font-size="24.0" textLength="114.8" lengthAdjust="spacingAndGlyphs">Bootsmanns-</text>
<text class="h" x="2622.0" y="2209.9" font-size="24.0" textLength="83.7" lengthAdjust="spacingAndGlyphs">Hellegatt</text>
<text class="h" x="2524.8" y="2523.4" font-size="24.0" textLength="50.2" lengthAdjust="spacingAndGlyphs">Leck-</text>
<text class="h" x="2520.0" y="2549.2" font-size="24.0" textLength="62.2" lengthAdjust="spacingAndGlyphs">pumpe</text>
<text class="h" x="2608.0" y="2541.3" font-size="24.0" textLength="119.6" lengthAdjust="spacingAndGlyphs">Feuerwerker-</text>
<text class="h" x="2617.5" y="2568.5" font-size="24.0" textLength="86.1" lengthAdjust="spacingAndGlyphs">Hellegatt</text>
<text class="h" x="2751.3" y="2163.7" font-size="24.0" textLength="76.5" lengthAdjust="spacingAndGlyphs">Fleisch-</text>
<text class="h" x="2748.8" y="2198.6" font-size="24.0" textLength="45.4" lengthAdjust="spacingAndGlyphs">Last</text>
<text class="h" x="2813.3" y="2232.2" font-size="24.0" textLength="93.3" lengthAdjust="spacingAndGlyphs">Kantinen-</text>
<text class="h" x="2807.5" y="2258.0" font-size="24.0" textLength="76.5" lengthAdjust="spacingAndGlyphs">Vorräte</text>
<text class="h" x="2748.2" y="2541.5" font-size="24.0" textLength="76.5" lengthAdjust="spacingAndGlyphs">Fleisch-</text>
<text class="h" x="2749.5" y="2568.8" font-size="24.0" textLength="45.4" lengthAdjust="spacingAndGlyphs">Last</text>
<text class="h" x="2803.2" y="2491.4" font-size="24.0" textLength="86.1" lengthAdjust="spacingAndGlyphs">Kantinen-</text>
<text class="h" x="2824.7" y="2517.8" font-size="24.0" textLength="67.0" lengthAdjust="spacingAndGlyphs">Vorräte</text>
<path d="M2870.9 2143.4 L2871.8 2174.9 L2796.6 2227.4 L2796.5 2267.6" fill="none" stroke-width="3.0"/>
<path d="M2796.1 2462.7 L2797.5 2496.2 L2871.0 2551.3 L2872.4 2587.2" fill="none" stroke-width="3.0"/>
<text class="h" x="2517.5" y="2356.0" font-size="22.0" textLength="67.0" lengthAdjust="spacingAndGlyphs">Trocken-</text>
<text class="h" x="2526.0" y="2404.8" font-size="24.0" textLength="40.7" lengthAdjust="spacingAndGlyphs">Last</text>
<text class="h" x="2648.1" y="2356.3" font-size="24.0" textLength="43.0" lengthAdjust="spacingAndGlyphs">Brot-</text>
<text class="h" x="2646.5" y="2404.1" font-size="24.0" textLength="40.7" lengthAdjust="spacingAndGlyphs">Last</text>
<path d="M2569.4 2247.1 L2597.1 2247.1 L2596.9 2345.2 L2569.2 2345.1 Z" fill="none" stroke-width="3.7"/>
<path d="M2576.5 2251.9 L2593.3 2251.9 L2593.2 2266.2 L2576.5 2266.2 Z" fill="none" stroke-width="2.2" stroke-dasharray="16 7"/>
<path d="M2574.0 2321.7 L2595.5 2321.7" fill="none" stroke-width="2.0"/>
<path d="M2574.0 2326.9 L2595.5 2327.0" fill="none" stroke-width="2.0"/>
<path d="M2574.0 2332.2 L2595.5 2332.2" fill="none" stroke-width="2.0"/>
<path d="M2574.0 2337.5 L2595.5 2337.5" fill="none" stroke-width="2.0"/>
<path d="M2569.0 2462.3 L2596.7 2462.3 L2596.6 2486.2 L2568.9 2486.2 Z" fill="none" stroke-width="3.7"/>
<path d="M2576.1 2467.1 L2592.9 2467.1 L2592.8 2482.4 L2576.1 2482.4 Z" fill="none" stroke-width="2.2" stroke-dasharray="16 7"/>
<path d="M2597.1 2247.1 L2796.5 2247.5" fill="none" stroke-width="3.0"/>
<path d="M2596.6 2486.2 L2796.1 2486.6" fill="none" stroke-width="3.0"/>
<path d="M2765.5 2247.4 L2765.4 2271.3" fill="none" stroke-width="3.0"/>
<path d="M2765.0 2462.6 L2765.0 2486.6" fill="none" stroke-width="3.0"/>
<path d="M2624.3 2280.6 L2624.0 2448.0" fill="none" stroke-width="3.0"/>
<path d="M2600.4 2280.6 L2624.3 2280.6" fill="none" stroke-width="3.0"/>
<path d="M2767.8 2276.1 L2917.5 2276.4 L2917.1 2454.3 L2767.4 2454.0 Z" fill="none" stroke-width="4.0"/>
<path d="M2771.1 2279.5 L2914.1 2279.8 L2913.8 2451.0 L2770.8 2450.7 Z" fill="none" stroke-width="2.2"/>
<path d="M2803.7 2278.6 L2803.5 2343.2" fill="none" stroke-width="3.0"/>
<path d="M2740.5 2311.9 L2803.6 2312.1" fill="none" stroke-width="3.0"/>
<path d="M2740.5 2311.9 L2803.6 2312.1 L2803.5 2336.0 L2740.4 2335.9 Z" fill="none" stroke-width="3.3"/>
<path d="M2746.1 2343.0 L2917.4 2343.4" fill="none" stroke-width="2.2" stroke-dasharray="22 6 4 6"/>
<path d="M2784.4 2343.1 L2784.2 2453.1" fill="none" stroke-width="3.0"/>
<path d="M2740.3 2386.1 L2917.3 2386.4" fill="none" stroke-width="3.5"/>
<path d="M2818.8 2386.2 L2818.6 2453.2" fill="none" stroke-width="3.0"/>
<path d="M2784.3 2419.6 L2917.2 2419.9" fill="none" stroke-width="3.0"/>
<path d="M2740.2 2436.3 L2755.5 2436.3 L2755.5 2454.0 L2740.2 2454.0 Z" fill="none" stroke-width="3.3"/>
<path d="M2740.4 2359.8 L2784.4 2359.9 L2784.3 2386.2 L2740.3 2386.1 Z" fill="none" stroke-width="3.5"/>
<text class="h" x="2821.8" y="2305.9" font-size="24.0" textLength="47.8" lengthAdjust="spacingAndGlyphs">Kühl-</text>
<text class="h" x="2805.9" y="2329.8" font-size="24.0" textLength="95.7" lengthAdjust="spacingAndGlyphs">räume für</text>
<text class="h" x="2770.1" y="2300.0" font-size="19.0" textLength="29.7" lengthAdjust="spacingAndGlyphs">Vorr.</text>
<text class="h" x="2743.8" y="2329.6" font-size="19.0" textLength="57.4" lengthAdjust="spacingAndGlyphs">Aspirant.</text>
<text class="h" x="2742.2" y="2402.8" font-size="17.0" textLength="26.3" lengthAdjust="spacingAndGlyphs">Deck</text>
<text class="h" x="2742.2" y="2423.4" font-size="17.0" textLength="29.7" lengthAdjust="spacingAndGlyphs">Offiz.</text>
<text class="h" x="2789.1" y="2407.7" font-size="16.0" textLength="27.7" lengthAdjust="spacingAndGlyphs">Fähnr.</text>
<text class="h" x="2822.5" y="2410.1" font-size="22.0" textLength="88.5" lengthAdjust="spacingAndGlyphs">Mannschaft</text>
<text class="h" x="2832.0" y="2443.6" font-size="24.0" textLength="52.6" lengthAdjust="spacingAndGlyphs">Offiz.</text>
<text class="h" x="2762.7" y="2448.3" font-size="19.0" textLength="33.5" lengthAdjust="spacingAndGlyphs">Vorr.</text>
<text class="h" x="2935.1" y="2329.1" font-size="24.0" textLength="107.6" lengthAdjust="spacingAndGlyphs">Kühlanlage</text>
<text class="h" x="2927.7" y="2412.7" font-size="22.0" textLength="33.5" lengthAdjust="spacingAndGlyphs">Torp.</text>
<text class="h" x="2985.1" y="2408.1" font-size="24.0" textLength="64.6" lengthAdjust="spacingAndGlyphs">Trink-u.</text>
<text class="h" x="2968.4" y="2433.4" font-size="24.0" textLength="114.8" lengthAdjust="spacingAndGlyphs">Waschwasser</text>
<text class="h" x="2927.7" y="2458.2" font-size="21.0" textLength="138.7" lengthAdjust="spacingAndGlyphs">Luftpump.-Pump.</text>
<text class="h" x="2956.8" y="2200.0" font-size="24.0" textLength="88.5" lengthAdjust="spacingAndGlyphs">Eis-Last</text>
<text class="h" x="2954.4" y="2240.6" font-size="24.0" textLength="47.8" lengthAdjust="spacingAndGlyphs">Leck-</text>
<text class="h" x="2946.2" y="2262.1" font-size="24.0" textLength="69.3" lengthAdjust="spacingAndGlyphs">pumpe</text>
<text class="h" x="2949.1" y="2506.0" font-size="24.0" textLength="47.8" lengthAdjust="spacingAndGlyphs">Leck-</text>
<text class="h" x="2938.0" y="2532.3" font-size="24.0" textLength="67.0" lengthAdjust="spacingAndGlyphs">pumpe</text>
<text class="h" x="3032.7" y="2530.1" font-size="21.0" textLength="38.3" lengthAdjust="spacingAndGlyphs">Vfgb.</text>
<path d="M3045.3 2212.1 L3080.2 2212.2 L3080.2 2242.3 L3045.2 2242.2 Z" fill="none" stroke-width="3.7"/>
<path d="M3051.5 2217.8 L3074.0 2217.9 L3074.0 2236.5 L3051.5 2236.5 Z" fill="none" stroke-width="2.9"/>
<path d="M3030.4 2491.8 L3030.3 2563.6" fill="none" stroke-width="3.0"/>
<path d="M3030.4 2491.8 L3083.0 2491.9" fill="none" stroke-width="3.0"/>
<text class="h" x="3123.3" y="2130.7" font-size="22.0" textLength="89.9" lengthAdjust="spacingAndGlyphs" transform="rotate(13.0 3123.3 2130.7)">Wallgang</text>
<text class="h" x="3116.4" y="2614.2" font-size="22.0" textLength="86.9" lengthAdjust="spacingAndGlyphs" transform="rotate(-9.0 3116.4 2614.2)">Wallgang</text>
<text class="h" x="3123.1" y="2230.8" font-size="22.0" textLength="134.8" lengthAdjust="spacingAndGlyphs">Steuermanns-</text>
<text class="h" x="3115.3" y="2254.7" font-size="22.0" textLength="89.9" lengthAdjust="spacingAndGlyphs">Hellegatt</text>
<text class="h" x="3125.6" y="2490.2" font-size="22.0" textLength="113.8" lengthAdjust="spacingAndGlyphs">Elektriker-</text>
<text class="h" x="3124.3" y="2514.2" font-size="22.0" textLength="86.9" lengthAdjust="spacingAndGlyphs">Hellegatt</text>
<text class="h" x="3098.9" y="2328.4" font-size="22.0" textLength="131.8" lengthAdjust="spacingAndGlyphs">Trocken-Last</text>
<text class="h" x="3112.5" y="2421.3" font-size="22.0" textLength="110.8" lengthAdjust="spacingAndGlyphs">Brot-Last</text>
<text class="h" x="3305.7" y="2298.8" font-size="22.0" textLength="194.7" lengthAdjust="spacingAndGlyphs">Trinkwasser-Zellen</text>
<text class="h" x="3293.4" y="2452.8" font-size="22.0" textLength="197.7" lengthAdjust="spacingAndGlyphs">Trinkwasser-Zellen</text>
<text class="h" x="3322.3" y="2410.9" font-size="22.0" textLength="92.9" lengthAdjust="spacingAndGlyphs">Rohrgang</text>
<text class="h" x="3521.4" y="2313.0" font-size="21.0" textLength="116.8" lengthAdjust="spacingAndGlyphs">Spiritus-Last</text>
<text class="h" x="3522.4" y="2431.0" font-size="20.0" textLength="116.8" lengthAdjust="spacingAndGlyphs">Feuergefährl.</text>
<text class="h" x="3522.3" y="2455.0" font-size="20.0" textLength="56.9" lengthAdjust="spacingAndGlyphs">Farben</text>
<text class="h" x="3651.9" y="2353.4" font-size="22.0" textLength="107.8" lengthAdjust="spacingAndGlyphs">Bug-Torp.-</text>
<text class="h" x="3657.8" y="2403.1" font-size="22.0" textLength="53.9" lengthAdjust="spacingAndGlyphs">Raum</text>
<path d="M3111.2 2178.6 L3111.0 2292.5" fill="none" stroke-width="3.0"/>
<path d="M3084.2 2208.5 L3111.1 2208.6 L3111.1 2247.5 L3084.1 2247.5 Z" fill="none" stroke-width="2.2" stroke-dasharray="16 7"/>
<path d="M3043.4 2210.2 L3081.2 2210.3 L3081.1 2241.5 L3043.4 2241.4 Z" fill="none" stroke-width="3.7"/>
<path d="M3051.2 2217.4 L3073.4 2217.5 L3073.4 2235.5 L3051.2 2235.4 Z" fill="none" stroke-width="2.9"/>
<path d="M3110.7 2439.2 L3110.5 2550.1" fill="none" stroke-width="3.0"/>
<path d="M3082.6 2438.0 L3112.5 2438.1 L3112.5 2462.0 L3082.5 2462.0 Z" fill="none" stroke-width="3.5"/>
<path d="M3083.7 2487.1 L3110.6 2487.2 L3110.6 2514.1 L3083.6 2514.1 Z" fill="none" stroke-width="3.5"/>
<path d="M3029.6 2561.9 L3029.7 2493.0 L3083.6 2493.1" fill="none" stroke-width="3.0"/>
<path d="M3084.1 2270.2 L3332.7 2270.7" fill="none" stroke-width="3.0"/>
<path d="M3000.2 2282.1 L3272.8 2282.6" fill="none" stroke-width="2.2" stroke-dasharray="24 8"/>
<path d="M3086.9 2340.3 L3266.7 2340.7" fill="none" stroke-width="2.2" stroke-dasharray="22 6 4 6"/>
<path d="M3272.8 2270.6 L3272.7 2313.7 L3293.7 2313.8 L3293.8 2270.6" fill="none" stroke-width="3.0"/>
<path d="M2999.8 2448.0 L3272.5 2448.5" fill="none" stroke-width="2.2" stroke-dasharray="24 8"/>
<path d="M3083.7 2460.2 L3293.4 2460.6" fill="none" stroke-width="3.0"/>
<path d="M3263.5 2450.3 L3274.3 2450.3 L3274.2 2463.5 L3263.5 2463.5 Z" fill="none" stroke-width="2.6"/>
<path d="M3272.6 2388.6 L3518.2 2389.1" fill="none" stroke-width="3.0"/>
<path d="M3518.4 2329.2 L3644.2 2329.4" fill="none" stroke-width="3.0"/>
<path d="M3620.1 2368.3 L3620.1 2411.5 L3644.0 2411.5" fill="none" stroke-width="3.0"/>
<path d="M3551.2 2389.2 L3590.1 2389.2 L3590.1 2405.4 L3551.2 2405.3 Z" fill="none" stroke-width="2.2" stroke-dasharray="16 7"/>
<circle cx="3376.4" cy="2312.7" r="7.2" fill="none" stroke-width="2.4" stroke-dasharray="5 4"/>
<circle cx="3302.3" cy="2490.5" r="7.2" fill="none" stroke-width="2.4" stroke-dasharray="5 4"/>
<circle cx="3428.2" cy="2471.0" r="7.2" fill="none" stroke-width="2.4" stroke-dasharray="5 4"/>
<path d="M3653.2 2293.5 L3805.9 2329.7 L3829.9 2341.8 L3805.9 2350.7 L3653.2 2314.5 Z" fill="none" stroke-width="2.9"/>
<path d="M3653.0 2431.3 L3805.8 2395.6 L3829.8 2389.7 L3808.8 2380.7 L3653.0 2413.3 Z" fill="none" stroke-width="2.9"/>
<path d="M3891.0 2337.7 L3894.0 2338.5 L3896.2 2340.7 L3897.0 2343.7 L3896.2 2346.7 L3894.0 2348.9 L3891.0 2349.7 L3868.2 2349.6 L3865.2 2348.8 L3863.0 2346.6 L3862.2 2343.6 L3863.1 2340.6 L3865.2 2338.4 L3868.2 2337.6 Z" fill="none" stroke-width="3.1"/>
<path d="M4018.9 2355.9 L4022.5 2356.9 L4025.1 2359.5 L4026.1 2363.1 L4025.1 2366.7 L4022.5 2369.3 L4018.9 2370.3 L3838.5 2369.9 L3834.9 2369.0 L3832.3 2366.3 L3831.4 2362.7 L3832.3 2359.1 L3835.0 2356.5 L3838.6 2355.5 Z" fill="none" stroke-width="3.1"/>
<path d="M4011.4 2370.9 L4013.5 2371.4 L4015.0 2373.0 L4015.6 2375.1 L4015.0 2377.2 L4013.5 2378.7 L4011.4 2379.2 L3953.8 2379.1 L3951.8 2378.6 L3950.2 2377.0 L3949.7 2374.9 L3950.2 2372.8 L3951.8 2371.3 L3953.9 2370.7 Z" fill="none" stroke-width="2.6"/>
<circle cx="3682.0" cy="2283.4" r="5.4" fill="none" stroke-width="2.6"/>
<circle cx="3712.0" cy="2287.6" r="5.4" fill="none" stroke-width="2.6"/>
<circle cx="3681.7" cy="2443.3" r="5.4" fill="none" stroke-width="2.6"/>
<circle cx="3712.9" cy="2437.4" r="5.4" fill="none" stroke-width="2.6"/>
<path d="M3653.0 2431.3 L4102.5 2366.2" fill="none" stroke-width="2.4"/>
<path d="M3653.2 2293.5 L4102.5 2360.2" fill="none" stroke-width="2.4"/>
<path d="M4111.5 2351.3 L4111.4 2375.2" fill="none" stroke-width="3.3"/>
<path d="M0.0 2363.0 L4045.0 2363.0" fill="none" stroke-width="2.4" stroke-dasharray="40 7 4 7"/>
<path d="M17.7 2355.0 L17.7 2366.0" fill="none" stroke-width="2.2"/>
<path d="M45.4 2355.0 L45.4 2366.0" fill="none" stroke-width="2.2"/>
<text class="h" x="39.4" y="2379.5" font-size="16.0" textLength="8.0" lengthAdjust="spacingAndGlyphs">2</text>
<path d="M72.4 2355.0 L72.4 2366.0" fill="none" stroke-width="2.2"/>
<path d="M99.5 2355.0 L99.5 2366.0" fill="none" stroke-width="2.2"/>
<text class="h" x="93.4" y="2379.5" font-size="16.0" textLength="8.0" lengthAdjust="spacingAndGlyphs">4</text>
<path d="M126.5 2355.0 L126.5 2366.0" fill="none" stroke-width="2.2"/>
<path d="M153.5 2355.0 L153.5 2366.0" fill="none" stroke-width="2.2"/>
<text class="h" x="147.5" y="2379.5" font-size="16.0" textLength="8.0" lengthAdjust="spacingAndGlyphs">6</text>
<path d="M180.6 2355.0 L180.5 2366.0" fill="none" stroke-width="2.2"/>
<path d="M207.6 2355.0 L207.6 2366.0" fill="none" stroke-width="2.2"/>
<text class="h" x="201.5" y="2379.5" font-size="16.0" textLength="8.0" lengthAdjust="spacingAndGlyphs">8</text>
<path d="M234.6 2355.0 L234.6 2366.0" fill="none" stroke-width="2.2"/>
<path d="M261.7 2355.0 L261.6 2366.0" fill="none" stroke-width="2.2"/>
<text class="h" x="251.6" y="2379.5" font-size="16.0" textLength="16.0" lengthAdjust="spacingAndGlyphs">10</text>
<path d="M288.7 2355.0 L288.7 2366.0" fill="none" stroke-width="2.2"/>
<path d="M315.7 2355.0 L315.7 2366.0" fill="none" stroke-width="2.2"/>
<text class="h" x="305.7" y="2379.5" font-size="16.0" textLength="16.0" lengthAdjust="spacingAndGlyphs">12</text>
<path d="M343.8 2355.0 L343.8 2366.0" fill="none" stroke-width="2.2"/>
<path d="M371.9 2355.0 L371.9 2366.0" fill="none" stroke-width="2.2"/>
<text class="h" x="361.9" y="2379.5" font-size="16.0" textLength="16.0" lengthAdjust="spacingAndGlyphs">14</text>
<path d="M400.0 2355.0 L400.0 2366.0" fill="none" stroke-width="2.2"/>
<path d="M428.1 2355.0 L428.1 2366.0" fill="none" stroke-width="2.2"/>
<text class="h" x="418.0" y="2379.5" font-size="16.0" textLength="16.0" lengthAdjust="spacingAndGlyphs">16</text>
<path d="M456.2 2355.0 L456.2 2366.0" fill="none" stroke-width="2.2"/>
<path d="M484.3 2355.0 L484.2 2366.0" fill="none" stroke-width="2.2"/>
<text class="h" x="474.2" y="2379.5" font-size="16.0" textLength="16.0" lengthAdjust="spacingAndGlyphs">18</text>
<path d="M512.4 2355.0 L512.3 2366.0" fill="none" stroke-width="2.2"/>
<path d="M540.5 2355.0 L540.4 2366.0" fill="none" stroke-width="2.2"/>
<text class="h" x="530.4" y="2379.5" font-size="16.0" textLength="16.0" lengthAdjust="spacingAndGlyphs">20</text>
<path d="M568.5 2355.0 L568.5 2366.0" fill="none" stroke-width="2.2"/>
<path d="M596.6 2355.0 L596.6 2366.0" fill="none" stroke-width="2.2"/>
<text class="h" x="586.6" y="2379.5" font-size="16.0" textLength="16.0" lengthAdjust="spacingAndGlyphs">22</text>
<path d="M624.7 2355.0 L624.7 2366.0" fill="none" stroke-width="2.2"/>
<path d="M652.8 2355.0 L652.8 2366.0" fill="none" stroke-width="2.2"/>
<text class="h" x="642.8" y="2379.5" font-size="16.0" textLength="16.0" lengthAdjust="spacingAndGlyphs">24</text>
<path d="M681.1 2355.0 L681.1 2366.0" fill="none" stroke-width="2.2"/>
<path d="M709.4 2355.0 L709.4 2366.0" fill="none" stroke-width="2.2"/>
<text class="h" x="699.4" y="2379.5" font-size="16.0" textLength="16.0" lengthAdjust="spacingAndGlyphs">26</text>
<path d="M737.7 2355.0 L737.7 2366.0" fill="none" stroke-width="2.2"/>
<path d="M766.0 2355.0 L766.0 2366.0" fill="none" stroke-width="2.2"/>
<text class="h" x="756.0" y="2379.5" font-size="16.0" textLength="16.0" lengthAdjust="spacingAndGlyphs">28</text>
<path d="M794.3 2355.0 L794.3 2366.0" fill="none" stroke-width="2.2"/>
<path d="M822.6 2355.0 L822.6 2366.0" fill="none" stroke-width="2.2"/>
<text class="h" x="812.6" y="2379.5" font-size="16.0" textLength="16.0" lengthAdjust="spacingAndGlyphs">30</text>
<path d="M850.9 2355.0 L850.9 2366.0" fill="none" stroke-width="2.2"/>
<path d="M879.2 2355.0 L879.2 2366.0" fill="none" stroke-width="2.2"/>
<text class="h" x="869.2" y="2379.5" font-size="16.0" textLength="16.0" lengthAdjust="spacingAndGlyphs">32</text>
<path d="M907.5 2355.0 L907.5 2366.0" fill="none" stroke-width="2.2"/>
<path d="M935.8 2355.0 L935.8 2366.0" fill="none" stroke-width="2.2"/>
<text class="h" x="925.8" y="2379.5" font-size="16.0" textLength="16.0" lengthAdjust="spacingAndGlyphs">34</text>
<path d="M964.1 2355.0 L964.1 2366.0" fill="none" stroke-width="2.2"/>
<path d="M992.4 2355.0 L992.4 2366.0" fill="none" stroke-width="2.2"/>
<text class="h" x="982.4" y="2379.5" font-size="16.0" textLength="16.0" lengthAdjust="spacingAndGlyphs">36</text>
<path d="M1020.9 2355.0 L1020.9 2366.0" fill="none" stroke-width="2.2"/>
<path d="M1049.4 2355.0 L1049.4 2366.0" fill="none" stroke-width="2.2"/>
<text class="h" x="1039.4" y="2379.5" font-size="16.0" textLength="16.0" lengthAdjust="spacingAndGlyphs">38</text>
<path d="M1077.4 2355.0 L1077.4 2366.0" fill="none" stroke-width="2.2"/>
<path d="M1105.3 2355.0 L1105.3 2366.0" fill="none" stroke-width="2.2"/>
<text class="h" x="1095.3" y="2379.5" font-size="16.0" textLength="16.0" lengthAdjust="spacingAndGlyphs">40</text>
<path d="M1133.3 2355.0 L1133.3 2366.0" fill="none" stroke-width="2.2"/>
<path d="M1161.3 2355.0 L1161.2 2366.0" fill="none" stroke-width="2.2"/>
<text class="h" x="1151.2" y="2379.5" font-size="16.0" textLength="16.0" lengthAdjust="spacingAndGlyphs">42</text>
<path d="M1189.2 2355.0 L1189.2 2366.0" fill="none" stroke-width="2.2"/>
<path d="M1217.2 2355.0 L1217.2 2366.0" fill="none" stroke-width="2.2"/>
<text class="h" x="1207.1" y="2379.5" font-size="16.0" textLength="16.0" lengthAdjust="spacingAndGlyphs">44</text>
<path d="M1245.2 2355.0 L1245.1 2366.0" fill="none" stroke-width="2.2"/>
<path d="M1273.1 2355.0 L1273.1 2366.0" fill="none" stroke-width="2.2"/>
<text class="h" x="1263.1" y="2379.5" font-size="16.0" textLength="16.0" lengthAdjust="spacingAndGlyphs">46</text>
<path d="M1301.1 2355.0 L1301.1 2366.0" fill="none" stroke-width="2.2"/>
<path d="M1329.0 2355.0 L1329.0 2366.0" fill="none" stroke-width="2.2"/>
<text class="h" x="1319.0" y="2379.5" font-size="16.0" textLength="16.0" lengthAdjust="spacingAndGlyphs">48</text>
<path d="M1357.0 2355.0 L1357.0 2366.0" fill="none" stroke-width="2.2"/>
<path d="M1385.0 2355.0 L1384.9 2366.0" fill="none" stroke-width="2.2"/>
<text class="h" x="1374.9" y="2379.5" font-size="16.0" textLength="16.0" lengthAdjust="spacingAndGlyphs">50</text>
<path d="M1412.9 2355.0 L1412.9 2366.0" fill="none" stroke-width="2.2"/>
<path d="M1440.9 2355.0 L1440.9 2366.0" fill="none" stroke-width="2.2"/>
<text class="h" x="1430.8" y="2379.5" font-size="16.0" textLength="16.0" lengthAdjust="spacingAndGlyphs">52</text>
<path d="M1468.9 2355.0 L1468.8 2366.0" fill="none" stroke-width="2.2"/>
<path d="M1496.8 2355.0 L1496.8 2366.0" fill="none" stroke-width="2.2"/>
<text class="h" x="1486.8" y="2379.5" font-size="16.0" textLength="16.0" lengthAdjust="spacingAndGlyphs">54</text>
<path d="M1524.8 2355.0 L1524.8 2366.0" fill="none" stroke-width="2.2"/>
<path d="M1552.7 2355.0 L1552.7 2366.0" fill="none" stroke-width="2.2"/>
<text class="h" x="1542.7" y="2379.5" font-size="16.0" textLength="16.0" lengthAdjust="spacingAndGlyphs">56</text>
<path d="M1580.7 2355.0 L1580.7 2366.0" fill="none" stroke-width="2.2"/>
<path d="M1608.7 2355.0 L1608.7 2366.0" fill="none" stroke-width="2.2"/>
<text class="h" x="1598.6" y="2379.5" font-size="16.0" textLength="16.0" lengthAdjust="spacingAndGlyphs">58</text>
<path d="M1636.6 2355.0 L1636.6 2366.0" fill="none" stroke-width="2.2"/>
<path d="M1664.6 2355.0 L1664.6 2366.0" fill="none" stroke-width="2.2"/>
<text class="h" x="1654.5" y="2379.5" font-size="16.0" textLength="16.0" lengthAdjust="spacingAndGlyphs">60</text>
<path d="M1692.6 2355.0 L1692.5 2366.0" fill="none" stroke-width="2.2"/>
<path d="M1720.5 2355.0 L1720.5 2366.0" fill="none" stroke-width="2.2"/>
<text class="h" x="1710.5" y="2379.5" font-size="16.0" textLength="16.0" lengthAdjust="spacingAndGlyphs">62</text>
<path d="M1748.5 2355.0 L1748.5 2366.0" fill="none" stroke-width="2.2"/>
<path d="M1776.4 2355.0 L1776.4 2366.0" fill="none" stroke-width="2.2"/>
<text class="h" x="1766.4" y="2379.5" font-size="16.0" textLength="16.0" lengthAdjust="spacingAndGlyphs">64</text>
<path d="M1804.4 2355.0 L1804.4 2366.0" fill="none" stroke-width="2.2"/>
<path d="M1832.4 2355.0 L1832.4 2366.0" fill="none" stroke-width="2.2"/>
<text class="h" x="1822.3" y="2379.5" font-size="16.0" textLength="16.0" lengthAdjust="spacingAndGlyphs">66</text>
<path d="M1860.3 2355.0 L1860.3 2366.0" fill="none" stroke-width="2.2"/>
<path d="M1888.3 2355.0 L1888.3 2366.0" fill="none" stroke-width="2.2"/>
<text class="h" x="1878.3" y="2379.5" font-size="16.0" textLength="16.0" lengthAdjust="spacingAndGlyphs">68</text>
<path d="M1916.3 2355.0 L1916.2 2366.0" fill="none" stroke-width="2.2"/>
<path d="M1944.2 2355.0 L1944.2 2366.0" fill="none" stroke-width="2.2"/>
<text class="h" x="1934.2" y="2379.5" font-size="16.0" textLength="16.0" lengthAdjust="spacingAndGlyphs">70</text>
<path d="M1972.2 2355.0 L1972.2 2366.0" fill="none" stroke-width="2.2"/>
<path d="M2000.1 2355.0 L2000.1 2366.0" fill="none" stroke-width="2.2"/>
<text class="h" x="1990.1" y="2379.5" font-size="16.0" textLength="16.0" lengthAdjust="spacingAndGlyphs">72</text>
<path d="M2028.1 2355.0 L2028.1 2366.0" fill="none" stroke-width="2.2"/>
<path d="M2056.1 2355.0 L2056.1 2366.0" fill="none" stroke-width="2.2"/>
<text class="h" x="2046.0" y="2379.5" font-size="16.0" textLength="16.0" lengthAdjust="spacingAndGlyphs">74</text>
<path d="M2084.0 2355.0 L2084.0 2366.0" fill="none" stroke-width="2.2"/>
<path d="M2112.0 2355.0 L2112.0 2366.0" fill="none" stroke-width="2.2"/>
<text class="h" x="2102.0" y="2379.5" font-size="16.0" textLength="16.0" lengthAdjust="spacingAndGlyphs">76</text>
<path d="M2140.0 2355.0 L2139.9 2366.0" fill="none" stroke-width="2.2"/>
<path d="M2167.9 2355.0 L2167.9 2366.0" fill="none" stroke-width="2.2"/>
<text class="h" x="2157.9" y="2379.5" font-size="16.0" textLength="16.0" lengthAdjust="spacingAndGlyphs">78</text>
<path d="M2195.9 2355.0 L2195.9 2366.0" fill="none" stroke-width="2.2"/>
<path d="M2223.8 2355.0 L2223.8 2366.0" fill="none" stroke-width="2.2"/>
<text class="h" x="2213.8" y="2379.5" font-size="16.0" textLength="16.0" lengthAdjust="spacingAndGlyphs">80</text>
<path d="M2251.8 2355.0 L2251.8 2366.0" fill="none" stroke-width="2.2"/>
<path d="M2279.8 2355.0 L2279.8 2366.0" fill="none" stroke-width="2.2"/>
<text class="h" x="2269.7" y="2379.5" font-size="16.0" textLength="16.0" lengthAdjust="spacingAndGlyphs">82</text>
<path d="M2307.7 2355.0 L2307.7 2366.0" fill="none" stroke-width="2.2"/>
<path d="M2335.7 2355.0 L2335.7 2366.0" fill="none" stroke-width="2.2"/>
<text class="h" x="2325.7" y="2379.5" font-size="16.0" textLength="16.0" lengthAdjust="spacingAndGlyphs">84</text>
<path d="M2363.7 2355.0 L2363.6 2366.0" fill="none" stroke-width="2.2"/>
<path d="M2391.6 2355.0 L2391.6 2366.0" fill="none" stroke-width="2.2"/>
<text class="h" x="2381.6" y="2379.5" font-size="16.0" textLength="16.0" lengthAdjust="spacingAndGlyphs">86</text>
<path d="M2419.6 2355.0 L2419.6 2366.0" fill="none" stroke-width="2.2"/>
<path d="M2447.5 2355.0 L2447.5 2366.0" fill="none" stroke-width="2.2"/>
<text class="h" x="2437.5" y="2379.5" font-size="16.0" textLength="16.0" lengthAdjust="spacingAndGlyphs">88</text>
<path d="M2475.5 2355.0 L2475.5 2366.0" fill="none" stroke-width="2.2"/>
<path d="M2503.5 2355.0 L2503.5 2366.0" fill="none" stroke-width="2.2"/>
<text class="h" x="2493.4" y="2379.5" font-size="16.0" textLength="16.0" lengthAdjust="spacingAndGlyphs">90</text>
<path d="M2531.4 2355.0 L2531.4 2366.0" fill="none" stroke-width="2.2"/>
<path d="M2559.4 2355.0 L2559.4 2366.0" fill="none" stroke-width="2.2"/>
<text class="h" x="2549.4" y="2379.5" font-size="16.0" textLength="16.0" lengthAdjust="spacingAndGlyphs">92</text>
<path d="M2587.4 2355.0 L2587.3 2366.0" fill="none" stroke-width="2.2"/>
<path d="M2615.3 2355.0 L2615.3 2366.0" fill="none" stroke-width="2.2"/>
<text class="h" x="2605.3" y="2379.5" font-size="16.0" textLength="16.0" lengthAdjust="spacingAndGlyphs">94</text>
<path d="M2643.3 2355.0 L2643.3 2366.0" fill="none" stroke-width="2.2"/>
<path d="M2671.2 2355.0 L2671.2 2366.0" fill="none" stroke-width="2.2"/>
<text class="h" x="2661.2" y="2379.5" font-size="16.0" textLength="16.0" lengthAdjust="spacingAndGlyphs">96</text>
<path d="M2699.2 2355.0 L2699.2 2366.0" fill="none" stroke-width="2.2"/>
<path d="M2727.2 2355.0 L2727.2 2366.0" fill="none" stroke-width="2.2"/>
<text class="h" x="2717.1" y="2379.5" font-size="16.0" textLength="16.0" lengthAdjust="spacingAndGlyphs">98</text>
<path d="M2755.1 2355.0 L2755.1 2366.0" fill="none" stroke-width="2.2"/>
<path d="M2783.1 2355.0 L2783.1 2366.0" fill="none" stroke-width="2.2"/>
<text class="h" x="2769.6" y="2379.5" font-size="16.0" textLength="23.0" lengthAdjust="spacingAndGlyphs">100</text>
<path d="M2811.1 2355.0 L2811.0 2366.0" fill="none" stroke-width="2.2"/>
<path d="M2839.0 2355.0 L2839.0 2366.0" fill="none" stroke-width="2.2"/>
<text class="h" x="2825.5" y="2379.5" font-size="16.0" textLength="23.0" lengthAdjust="spacingAndGlyphs">102</text>
<path d="M2867.0 2355.0 L2867.0 2366.0" fill="none" stroke-width="2.2"/>
<path d="M2895.0 2355.0 L2894.9 2366.0" fill="none" stroke-width="2.2"/>
<text class="h" x="2881.4" y="2379.5" font-size="16.0" textLength="23.0" lengthAdjust="spacingAndGlyphs">104</text>
<path d="M2922.9 2355.0 L2922.9 2366.0" fill="none" stroke-width="2.2"/>
<path d="M2950.9 2355.0 L2950.9 2366.0" fill="none" stroke-width="2.2"/>
<text class="h" x="2937.3" y="2379.5" font-size="16.0" textLength="23.0" lengthAdjust="spacingAndGlyphs">106</text>
<path d="M2978.8 2355.0 L2978.8 2366.0" fill="none" stroke-width="2.2"/>
<path d="M3006.8 2355.0 L3006.8 2366.0" fill="none" stroke-width="2.2"/>
<text class="h" x="2993.3" y="2379.5" font-size="16.0" textLength="23.0" lengthAdjust="spacingAndGlyphs">108</text>
<path d="M3034.8 2355.0 L3034.7 2366.0" fill="none" stroke-width="2.2"/>
<path d="M3062.7 2355.0 L3062.7 2366.0" fill="none" stroke-width="2.2"/>
<text class="h" x="3049.2" y="2379.5" font-size="16.0" textLength="23.0" lengthAdjust="spacingAndGlyphs">110</text>
<path d="M3090.7 2355.0 L3090.7 2366.0" fill="none" stroke-width="2.2"/>
<path d="M3118.7 2355.0 L3118.6 2366.0" fill="none" stroke-width="2.2"/>
<text class="h" x="3105.1" y="2379.5" font-size="16.0" textLength="23.0" lengthAdjust="spacingAndGlyphs">112</text>
<path d="M3146.6 2355.0 L3146.6 2366.0" fill="none" stroke-width="2.2"/>
<path d="M3174.6 2355.0 L3174.6 2366.0" fill="none" stroke-width="2.2"/>
<text class="h" x="3161.0" y="2379.5" font-size="16.0" textLength="23.0" lengthAdjust="spacingAndGlyphs">114</text>
<path d="M3202.5 2355.0 L3202.5 2366.0" fill="none" stroke-width="2.2"/>
<path d="M3230.5 2355.0 L3230.5 2366.0" fill="none" stroke-width="2.2"/>
<text class="h" x="3217.0" y="2379.5" font-size="16.0" textLength="23.0" lengthAdjust="spacingAndGlyphs">116</text>
<path d="M3258.5 2355.0 L3258.4 2366.0" fill="none" stroke-width="2.2"/>
<path d="M3286.4 2355.0 L3286.4 2366.0" fill="none" stroke-width="2.2"/>
<text class="h" x="3272.9" y="2379.5" font-size="16.0" textLength="23.0" lengthAdjust="spacingAndGlyphs">118</text>
<path d="M3313.8 2355.0 L3313.8 2366.0" fill="none" stroke-width="2.2"/>
<path d="M3341.2 2355.0 L3341.2 2366.0" fill="none" stroke-width="2.2"/>
<text class="h" x="3327.7" y="2379.5" font-size="16.0" textLength="23.0" lengthAdjust="spacingAndGlyphs">120</text>
<path d="M3368.6 2355.0 L3368.6 2366.0" fill="none" stroke-width="2.2"/>
<path d="M3396.0 2355.0 L3396.0 2366.0" fill="none" stroke-width="2.2"/>
<text class="h" x="3382.5" y="2379.5" font-size="16.0" textLength="23.0" lengthAdjust="spacingAndGlyphs">122</text>
<path d="M3423.4 2355.0 L3423.4 2366.0" fill="none" stroke-width="2.2"/>
<path d="M3450.8 2355.0 L3450.8 2366.0" fill="none" stroke-width="2.2"/>
<text class="h" x="3437.3" y="2379.5" font-size="16.0" textLength="23.0" lengthAdjust="spacingAndGlyphs">124</text>
<path d="M3478.2 2355.0 L3478.2 2366.0" fill="none" stroke-width="2.2"/>
<path d="M3505.6 2355.0 L3505.6 2366.0" fill="none" stroke-width="2.2"/>
<text class="h" x="3492.1" y="2379.5" font-size="16.0" textLength="23.0" lengthAdjust="spacingAndGlyphs">126</text>
<path d="M3533.0 2355.0 L3533.0 2366.0" fill="none" stroke-width="2.2"/>
<path d="M3560.4 2355.0 L3560.4 2366.0" fill="none" stroke-width="2.2"/>
<text class="h" x="3546.9" y="2379.5" font-size="16.0" textLength="23.0" lengthAdjust="spacingAndGlyphs">128</text>
<path d="M3587.8 2355.0 L3587.8 2366.0" fill="none" stroke-width="2.2"/>
<path d="M3615.2 2355.0 L3615.2 2366.0" fill="none" stroke-width="2.2"/>
<text class="h" x="3601.7" y="2379.5" font-size="16.0" textLength="23.0" lengthAdjust="spacingAndGlyphs">130</text>
<path d="M3642.6 2355.0 L3642.6 2366.0" fill="none" stroke-width="2.2"/>
<path d="M3670.0 2355.0 L3670.0 2366.0" fill="none" stroke-width="2.2"/>
<text class="h" x="3656.5" y="2379.5" font-size="16.0" textLength="23.0" lengthAdjust="spacingAndGlyphs">132</text>
<path d="M3697.5 2355.0 L3697.5 2366.0" fill="none" stroke-width="2.2"/>
<path d="M3725.0 2355.0 L3724.9 2366.0" fill="none" stroke-width="2.2"/>
<text class="h" x="3711.4" y="2379.5" font-size="16.0" textLength="23.0" lengthAdjust="spacingAndGlyphs">134</text>
<path d="M3752.4 2355.0 L3752.4 2366.0" fill="none" stroke-width="2.2"/>
<path d="M3779.9 2355.0 L3779.9 2366.0" fill="none" stroke-width="2.2"/>
<text class="h" x="3766.3" y="2379.5" font-size="16.0" textLength="23.0" lengthAdjust="spacingAndGlyphs">136</text>
<path d="M3807.4 2355.0 L3807.3 2366.0" fill="none" stroke-width="2.2"/>
<path d="M3834.8 2355.0 L3834.8 2366.0" fill="none" stroke-width="2.2"/>
<text class="h" x="3821.3" y="2379.5" font-size="16.0" textLength="23.0" lengthAdjust="spacingAndGlyphs">138</text>
<path d="M3862.3 2355.0 L3862.3 2366.0" fill="none" stroke-width="2.2"/>
<path d="M3889.7 2355.0 L3889.7 2366.0" fill="none" stroke-width="2.2"/>
<text class="h" x="3876.2" y="2379.5" font-size="16.0" textLength="23.0" lengthAdjust="spacingAndGlyphs">140</text>
<path d="M3917.2 2355.0 L3917.2 2366.0" fill="none" stroke-width="2.2"/>
<path d="M3944.7 2355.0 L3944.7 2366.0" fill="none" stroke-width="2.2"/>
<text class="h" x="3931.1" y="2379.5" font-size="16.0" textLength="23.0" lengthAdjust="spacingAndGlyphs">142</text>
<path d="M3972.1 2355.0 L3972.1 2366.0" fill="none" stroke-width="2.2"/>
<path d="M3999.6 2355.0 L3999.6 2366.0" fill="none" stroke-width="2.2"/>
<text class="h" x="3986.1" y="2379.5" font-size="16.0" textLength="23.0" lengthAdjust="spacingAndGlyphs">144</text>
<path d="M4027.1 2355.0 L4027.0 2366.0" fill="none" stroke-width="2.2"/>
<path d="M4054.5 2355.0 L4054.5 2366.0" fill="none" stroke-width="2.2"/>
<text class="h" x="4041.0" y="2379.5" font-size="16.0" textLength="23.0" lengthAdjust="spacingAndGlyphs">146</text>
<path d="M4081.9 2355.0 L4081.9 2366.0" fill="none" stroke-width="2.2"/>
<path d="M4045.0 2363.0 L4230.0 2363.0" fill="none" stroke-width="2.4"/>
</g>
<g transform="rotate(0.0000 0 0.0)">
<text class="s" x="3210.0" y="69.5" font-size="39.0" textLength="340.0" lengthAdjust="spacingAndGlyphs">Oberes Plattformdeck</text>
<text class="s" x="3092.0" y="868.0" font-size="37.0" textLength="114.0" lengthAdjust="spacingAndGlyphs">Unteres</text>
<text class="s" x="3043.0" y="902.0" font-size="37.0" textLength="217.0" lengthAdjust="spacingAndGlyphs">Plattformdeck</text>
<text class="sb" x="3177.0" y="2007.0" font-size="34.0" textLength="208.0" lengthAdjust="spacingAndGlyphs">Stauungsplan</text>
<text class="sb" x="3374.0" y="843.5" font-size="25.0" text-anchor="end">A</text>
<text class="sb" x="3389.0" y="843.5" font-size="31.0" textLength="287.0" lengthAdjust="spacingAndGlyphs">Aufzug für Munition</text>
<text class="sb" x="3374.0" y="869.0" font-size="25.0" text-anchor="end">N</text>
<text class="sb" x="3389.0" y="869.0" font-size="31.0" textLength="153.0" lengthAdjust="spacingAndGlyphs">Niedergang</text>
<text class="sb" x="3374.0" y="895.5" font-size="25.0" text-anchor="end">NM</text>
<text class="sb" x="3389.0" y="895.5" font-size="31.0" textLength="473.0" lengthAdjust="spacingAndGlyphs">Niedergang zugl. Munitionsöffnung</text>
<text class="sb" x="3374.0" y="922.5" font-size="25.0" text-anchor="end">M</text>
<text class="sb" x="3389.0" y="922.5" font-size="31.0" textLength="369.0" lengthAdjust="spacingAndGlyphs">Munitionsdurchgabeöffnung</text>
<text class="sb" x="3920.0" y="848.0" font-size="27.0" textLength="38.0" lengthAdjust="spacingAndGlyphs">NA</text>
<text class="sb" x="3975.0" y="848.0" font-size="31.0" textLength="158.0" lengthAdjust="spacingAndGlyphs">Notausgang</text>
<text class="sb" x="3920.0" y="873.5" font-size="27.0" textLength="38.0" lengthAdjust="spacingAndGlyphs">RA</text>
<text class="sb" x="3975.0" y="873.5" font-size="31.0" textLength="250.0" lengthAdjust="spacingAndGlyphs">Reserveaschaufzug</text>
<text class="sb" x="3927.0" y="900.0" font-size="27.0" textLength="38.0" lengthAdjust="spacingAndGlyphs">La</text>
<text class="sb" x="3975.0" y="900.0" font-size="31.0" textLength="145.0" lengthAdjust="spacingAndGlyphs">Luftabfuhr</text>
<text class="sb" x="3929.0" y="926.0" font-size="27.0" textLength="38.0" lengthAdjust="spacingAndGlyphs">Lz</text>
<text class="sb" x="3975.0" y="926.0" font-size="31.0" textLength="146.0" lengthAdjust="spacingAndGlyphs">Luftzufuhr</text>
<text class="sb" x="9.0" y="2870.0" font-size="30.0" textLength="366.0" lengthAdjust="spacingAndGlyphs">Evers, Kriegsschiffbau.</text>
<text class="s" x="1714.0" y="2868.5" font-size="38.0" textLength="719.0" lengthAdjust="spacingAndGlyphs">Linienschiff „Bayern“. Deckspläne.</text>
<text class="sb" x="3584.0" y="2892.0" font-size="38.0" textLength="605.0" lengthAdjust="spacingAndGlyphs">Verlag von Julius Springer in Berlin.</text>
<path d="M8.0 2756.0 L1172.0 2756.0" fill="none" stroke-width="3.7"/>
<path d="M9.0 2725.0 L9.0 2757.0" fill="none" stroke-width="2.9"/>
<path d="M237.0 2725.0 L237.0 2757.0" fill="none" stroke-width="2.9"/>
<path d="M467.7 2725.0 L467.7 2757.0" fill="none" stroke-width="2.9"/>
<path d="M699.0 2725.0 L699.0 2757.0" fill="none" stroke-width="2.9"/>
<path d="M932.0 2725.0 L932.0 2757.0" fill="none" stroke-width="2.9"/>
<path d="M1171.0 2725.0 L1171.0 2757.0" fill="none" stroke-width="2.9"/>
<path d="M123.0 2738.0 L123.0 2756.0" fill="none" stroke-width="2.6"/>
<path d="M352.4 2738.0 L352.4 2756.0" fill="none" stroke-width="2.6"/>
<path d="M583.4 2738.0 L583.4 2756.0" fill="none" stroke-width="2.6"/>
<path d="M815.5 2738.0 L815.5 2756.0" fill="none" stroke-width="2.6"/>
<path d="M1051.5 2738.0 L1051.5 2756.0" fill="none" stroke-width="2.6"/>
<path d="M31.8 2748.0 L31.8 2756.0" fill="none" stroke-width="2.2"/>
<path d="M54.6 2748.0 L54.6 2756.0" fill="none" stroke-width="2.2"/>
<path d="M77.4 2748.0 L77.4 2756.0" fill="none" stroke-width="2.2"/>
<path d="M100.2 2748.0 L100.2 2756.0" fill="none" stroke-width="2.2"/>
<path d="M123.0 2744.0 L123.0 2756.0" fill="none" stroke-width="2.2"/>
<path d="M145.8 2748.0 L145.8 2756.0" fill="none" stroke-width="2.2"/>
<path d="M168.6 2748.0 L168.6 2756.0" fill="none" stroke-width="2.2"/>
<path d="M191.4 2748.0 L191.4 2756.0" fill="none" stroke-width="2.2"/>
<path d="M214.2 2748.0 L214.2 2756.0" fill="none" stroke-width="2.2"/>
<text class="si" x="4.0" y="2785.0" font-size="19.0" textLength="9.0" lengthAdjust="spacingAndGlyphs">0</text>
<text class="si" x="231.0" y="2785.0" font-size="19.0" textLength="18.0" lengthAdjust="spacingAndGlyphs">10</text>
<text class="si" x="460.0" y="2785.0" font-size="19.0" textLength="20.0" lengthAdjust="spacingAndGlyphs">20</text>
<text class="si" x="688.0" y="2785.0" font-size="19.0" textLength="24.0" lengthAdjust="spacingAndGlyphs">.30</text>
<text class="si" x="927.0" y="2785.0" font-size="19.0" textLength="20.0" lengthAdjust="spacingAndGlyphs">40</text>
<text class="si" x="1153.0" y="2785.0" font-size="19.0" textLength="20.0" lengthAdjust="spacingAndGlyphs">50</text>
<text class="si" x="1178.0" y="2785.0" font-size="19.0" textLength="20.0" lengthAdjust="spacingAndGlyphs">m</text>
</g>
</svg></body></html>
